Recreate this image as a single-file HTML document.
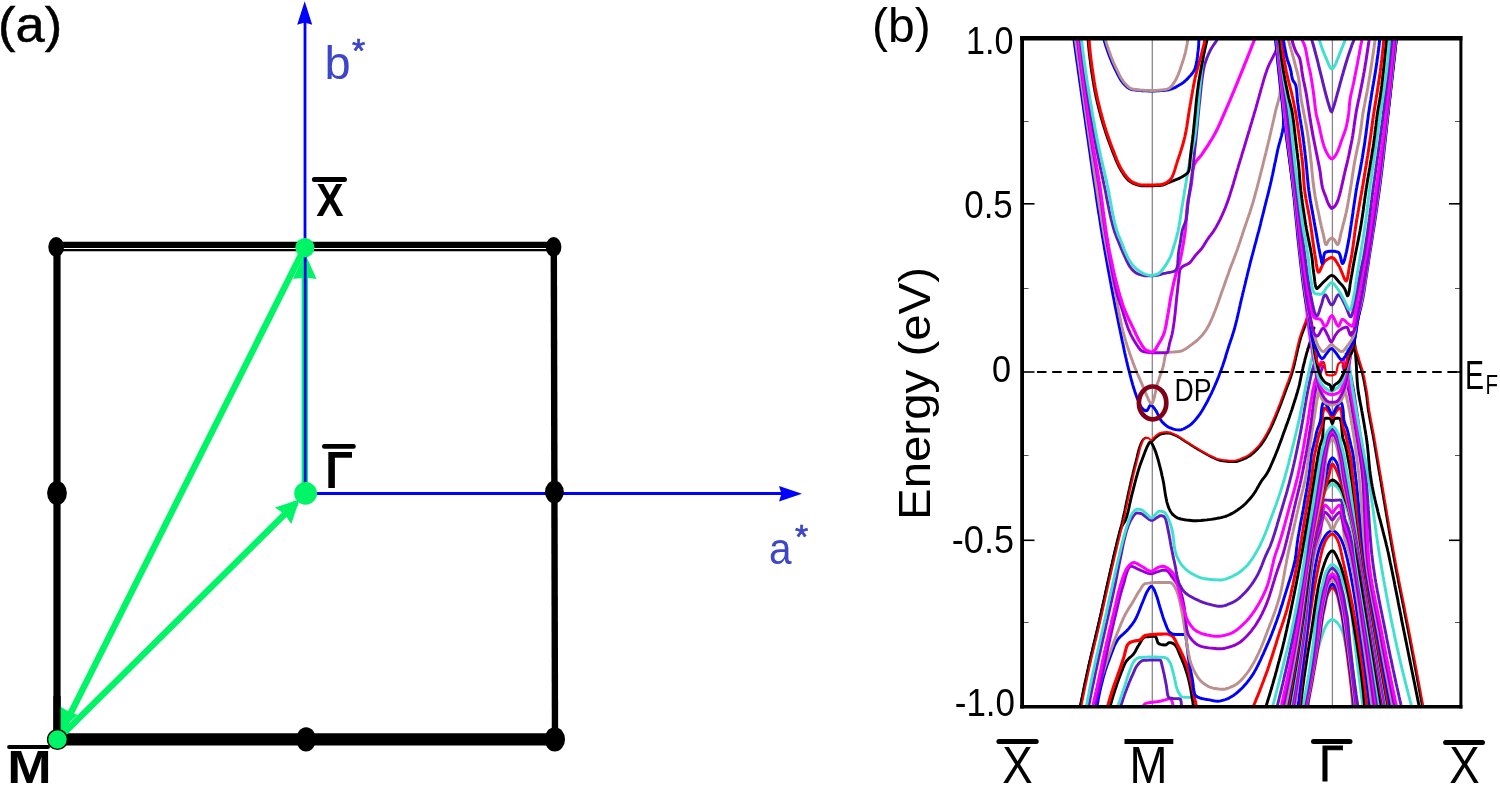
<!DOCTYPE html>
<html lang="en"><head><meta charset="utf-8"><title>Surface Brillouin zone and band structure</title>
<style>
html,body{margin:0;padding:0;background:#fff;}
body{width:1500px;height:785px;overflow:hidden;font-family:"Liberation Sans", Arial, Helvetica, sans-serif;}
svg{display:block;font-family:"Liberation Sans", Arial, Helvetica, sans-serif;}
</style></head><body>
<svg width="1500" height="785" viewBox="0 0 1500 785">
<rect width="1500" height="785" fill="#fff"/>

<!-- ===== panel (a) ===== -->
<g id="panel-a">
<text transform="translate(-1.9,41.8) scale(1.07,1.02)" font-size="49" fill="#000" stroke="#000" stroke-width="0.5">(a)</text>
<!-- blue axes -->
<line x1="305" y1="493.5" x2="305" y2="20" stroke="#0000ff" stroke-width="2.8"/>
<polygon points="304.7,1.3 312.2,24.7 304.7,22.5 297.2,24.7" fill="#0000ff"/>
<line x1="305" y1="493.5" x2="782" y2="493.5" stroke="#0000ff" stroke-width="2.8"/>
<polygon points="802,493.7 779,486 781.5,493.7 779,501.4" fill="#0000ff"/>
<!-- square -->
<line x1="57" y1="247" x2="57" y2="740" stroke="#000" stroke-width="7.2"/>
<line x1="553.8" y1="247" x2="555" y2="740" stroke="#000" stroke-width="6.4"/>
<line x1="57" y1="244.9" x2="554" y2="244.9" stroke="#000" stroke-width="6.2"/>
<line x1="57" y1="250.1" x2="554" y2="250.1" stroke="#000" stroke-width="2.2"/>
<line x1="57" y1="739.4" x2="555" y2="739.4" stroke="#000" stroke-width="12.2"/>
<ellipse cx="56.2" cy="247" rx="7.9" ry="10"/>
<ellipse cx="553.6" cy="247" rx="7.8" ry="10"/>
<ellipse cx="57" cy="493" rx="9.9" ry="12"/>
<ellipse cx="554.4" cy="492" rx="9.4" ry="11.2"/>
<ellipse cx="306.1" cy="739.4" rx="9.9" ry="12.2"/>
<ellipse cx="554.8" cy="739.4" rx="10.2" ry="12.2"/>
<!-- green arrows -->
<g stroke="#00f566" fill="#00f566">
<line x1="304.8" y1="493" x2="304.8" y2="262" stroke-width="6.4"/>
<line x1="57.5" y1="739.5" x2="304.7" y2="247.3" stroke-width="6.4"/>
<line x1="57.5" y1="739.5" x2="296" y2="503" stroke-width="6.4"/>
</g>
<polygon points="304.8,253.0 316.6,279.0 304.8,277.5 293.0,279.0" fill="#00f566"/>
<polygon points="58.3,731.0 59.5,705.9 68.2,711.3 77.7,715.0" fill="#00f566"/>
<polygon points="299.5,499.5 291.3,523.9 284.6,514.3 275.0,507.5" fill="#00f566"/>
<line x1="57" y1="696" x2="57" y2="736" stroke="#000" stroke-width="7.2" shape-rendering="auto"/>
<line x1="305.2" y1="493.5" x2="305.2" y2="250" stroke="#0000ff" stroke-width="2.8"/>
<g fill="#00f566">
<circle cx="304.9" cy="247.6" r="9.6"/>
<circle cx="305.6" cy="493.3" r="11.4"/>
<circle cx="57.5" cy="739.5" r="10.6" fill="#000"/>
<circle cx="57.5" cy="739.5" r="9.2"/>
</g>
<text x="324.5" y="79" font-size="47" fill="#3c46c8">b</text>
<text x="352" y="62" font-size="34" fill="#3c46c8" stroke="#3c46c8" stroke-width="0.7">*</text>
<text transform="translate(769,564) scale(0.9,1)" font-size="45" fill="#3c46c8">a</text>
<text x="795" y="548" font-size="34" fill="#3c46c8" stroke="#3c46c8" stroke-width="0.7">*</text>
<text transform="translate(316.2,216.2) scale(0.92,1.03)" font-size="44.4" font-weight="bold">X</text>
<line x1="314.4" y1="179.5" x2="344.5" y2="179.5" stroke="#000" stroke-width="5" stroke-linecap="round"/>
<text transform="translate(325.2,487.8) scale(0.915,1.05)" font-size="50" font-weight="bold">Γ</text>
<line x1="324.4" y1="446.4" x2="353.4" y2="446.4" stroke="#000" stroke-width="4.8" stroke-linecap="round"/>
<text transform="translate(7.2,783) scale(1.24,1.08)" font-size="43" font-weight="bold">M</text>
<line x1="9" y1="747" x2="48" y2="747" stroke="#000" stroke-width="3.8" stroke-linecap="round"/>
</g>


<!-- ===== panel (b) ===== -->
<g id="panel-b">
<text x="872" y="41.5" font-size="48">(b)</text>
<line x1="1152.3" y1="38" x2="1152.3" y2="706" stroke="#888" stroke-width="1.3"/>
<line x1="1332.4" y1="38" x2="1332.4" y2="706" stroke="#888" stroke-width="1.3"/>
<clipPath id="plotclip"><rect x="1022" y="38" width="439" height="669"/></clipPath>
<g clip-path="url(#plotclip)" fill="none" stroke-linejoin="round" stroke-linecap="round">

<path d="M1308.5,707.0 L1308.5,704.9 L1308.6,702.8 L1308.6,700.7 L1308.7,698.6 L1308.9,696.5 L1309.0,694.4 L1309.2,692.3 L1309.4,690.3 L1309.7,688.2 L1309.9,686.2 L1310.2,684.1 L1310.5,682.1 L1310.8,680.1 L1311.2,678.1 L1311.5,676.1 L1311.9,674.1 L1312.3,672.1 L1312.7,670.1 L1313.2,668.1 L1313.6,666.1 L1314.1,664.2 L1314.5,662.2 L1315.0,660.3 L1315.5,658.3 L1316.0,656.4 L1316.6,654.4 L1317.1,652.5 L1317.6,650.6 L1318.2,648.6 L1318.7,646.7 L1319.3,644.8 L1319.9,642.9 L1320.5,641.0 L1321.0,639.1 L1321.6,637.2 L1322.2,635.3 L1322.8,633.4 L1323.5,631.4 L1324.2,629.5 L1325.1,627.5 L1326.0,625.7 L1327.1,623.9 L1328.2,622.4 L1329.6,621.0 L1331.4,619.7 L1333.2,619.7 L1335.0,620.7 L1336.6,622.1 L1337.9,623.5 L1339.1,625.1 L1340.2,626.9 L1341.2,628.8 L1342.1,630.7 L1342.8,632.7 L1343.4,634.6 L1343.9,636.5 L1344.3,638.3 L1344.7,640.2 L1345.1,642.1 L1345.5,644.0 L1345.9,645.9 L1346.3,647.8 L1346.7,649.7 L1347.1,651.6 L1347.4,653.6 L1347.7,655.5 L1348.1,657.4 L1348.4,659.4 L1348.7,661.4 L1349.0,663.3 L1349.3,665.3 L1349.6,667.3 L1349.8,669.3 L1350.1,671.3 L1350.3,673.3 L1350.5,675.3 L1350.7,677.4 L1350.9,679.4 L1351.1,681.5 L1351.3,683.5 L1351.4,685.6 L1351.6,687.7 L1351.7,689.8 L1351.8,691.9 L1351.9,694.0 L1352.0,696.1 L1352.1,698.3 L1352.1,700.5 L1352.2,702.6 L1352.2,704.8 L1352.2,707.0" stroke="#40e0d0" stroke-width="2.9"/>
<path d="M1307.3,707.0 L1307.7,705.0 L1308.1,703.0 L1308.5,701.0 L1308.9,699.0 L1309.3,697.0 L1309.6,695.1 L1310.0,693.1 L1310.4,691.1 L1310.8,689.1 L1311.2,687.1 L1311.5,685.1 L1311.9,683.1 L1312.3,681.1 L1312.6,679.1 L1313.0,677.1 L1313.3,675.1 L1313.7,673.1 L1314.0,671.1 L1314.4,669.1 L1314.7,667.1 L1315.1,665.1 L1315.4,663.1 L1315.8,661.1 L1316.1,659.1 L1316.4,657.1 L1316.8,655.1 L1317.1,653.1 L1317.4,651.1 L1317.7,649.1 L1318.1,647.1 L1318.4,645.1 L1318.7,643.1 L1319.0,641.1 L1319.4,639.1 L1319.7,637.1 L1320.0,635.1 L1320.3,633.1 L1320.6,631.1 L1320.9,629.1 L1321.1,627.0 L1321.4,625.0 L1321.7,623.0 L1322.0,621.0 L1322.3,619.0 L1322.6,617.0 L1322.9,615.0 L1323.3,613.0 L1323.8,611.0 L1324.2,609.1 L1324.6,607.1 L1325.1,605.1 L1325.4,603.1 L1325.8,601.1 L1326.2,599.1 L1326.7,597.1 L1327.3,595.2 L1328.0,593.3 L1328.9,591.4 L1329.9,589.7 L1331.3,587.9 L1332.8,587.6 L1334.4,589.2 L1335.5,590.9 L1336.4,592.7 L1337.2,594.6 L1337.8,596.6 L1338.3,598.5 L1338.7,600.5 L1339.1,602.5 L1339.5,604.5 L1339.9,606.5 L1340.3,608.5 L1340.8,610.5 L1341.2,612.5 L1341.6,614.4 L1342.0,616.4 L1342.3,618.4 L1342.6,620.4 L1342.9,622.4 L1343.2,624.5 L1343.5,626.5 L1343.8,628.5 L1344.0,630.5 L1344.3,632.5 L1344.6,634.5 L1344.9,636.5 L1345.1,638.5 L1345.4,640.5 L1345.7,642.5 L1345.9,644.6 L1346.2,646.6 L1346.5,648.6 L1346.7,650.6 L1347.0,652.6 L1347.2,654.6 L1347.5,656.6 L1347.8,658.6 L1348.0,660.6 L1348.3,662.7 L1348.5,664.7 L1348.8,666.7 L1349.0,668.7 L1349.3,670.7 L1349.5,672.7 L1349.8,674.7 L1350.0,676.8 L1350.3,678.8 L1350.5,680.8 L1350.7,682.8 L1351.0,684.8 L1351.2,686.8 L1351.4,688.8 L1351.7,690.9 L1351.9,692.9 L1352.1,694.9 L1352.3,696.9 L1352.6,698.9 L1352.8,700.9 L1353.0,703.0 L1353.2,705.0 L1353.4,707.0" stroke="#ff0000" stroke-width="2.9"/>
<path d="M1306.7,707.0 L1307.1,705.0 L1307.5,703.0 L1307.9,701.1 L1308.3,699.1 L1308.7,697.1 L1309.1,695.1 L1309.4,693.1 L1309.8,691.1 L1310.2,689.1 L1310.6,687.2 L1310.9,685.2 L1311.3,683.2 L1311.7,681.2 L1312.0,679.2 L1312.4,677.2 L1312.7,675.2 L1313.1,673.2 L1313.4,671.3 L1313.8,669.3 L1314.1,667.3 L1314.5,665.3 L1314.8,663.3 L1315.1,661.3 L1315.5,659.3 L1315.8,657.3 L1316.1,655.3 L1316.5,653.3 L1316.8,651.3 L1317.1,649.3 L1317.4,647.3 L1317.8,645.4 L1318.1,643.4 L1318.4,641.4 L1318.7,639.4 L1319.0,637.4 L1319.3,635.4 L1319.6,633.4 L1319.9,631.4 L1320.2,629.4 L1320.5,627.4 L1320.8,625.4 L1321.1,623.4 L1321.4,621.4 L1321.7,619.4 L1321.9,617.4 L1322.2,615.4 L1322.6,613.4 L1322.9,611.4 L1323.3,609.4 L1323.7,607.5 L1324.2,605.5 L1324.6,603.5 L1325.0,601.5 L1325.4,599.5 L1325.8,597.5 L1326.2,595.6 L1326.7,593.6 L1327.2,591.7 L1328.0,589.8 L1328.9,587.9 L1329.9,586.2 L1331.4,584.5 L1332.9,584.2 L1334.4,585.8 L1335.6,587.5 L1336.5,589.3 L1337.3,591.2 L1337.9,593.1 L1338.5,595.0 L1338.9,597.0 L1339.3,599.0 L1339.7,601.0 L1340.1,603.0 L1340.5,604.9 L1341.0,606.9 L1341.4,608.9 L1341.8,610.9 L1342.2,612.8 L1342.5,614.8 L1342.8,616.8 L1343.1,618.8 L1343.4,620.8 L1343.7,622.8 L1344.0,624.8 L1344.3,626.8 L1344.6,628.8 L1344.9,630.8 L1345.2,632.8 L1345.5,634.8 L1345.8,636.8 L1346.1,638.8 L1346.3,640.8 L1346.6,642.8 L1346.9,644.8 L1347.2,646.8 L1347.4,648.8 L1347.7,650.8 L1348.0,652.8 L1348.2,654.8 L1348.5,656.8 L1348.7,658.8 L1349.0,660.8 L1349.3,662.8 L1349.5,664.8 L1349.8,666.8 L1350.0,668.9 L1350.3,670.9 L1350.5,672.9 L1350.8,674.9 L1351.0,676.9 L1351.3,678.9 L1351.5,680.9 L1351.7,682.9 L1352.0,684.9 L1352.2,686.9 L1352.4,688.9 L1352.6,690.9 L1352.9,692.9 L1353.1,694.9 L1353.3,696.9 L1353.5,699.0 L1353.7,701.0 L1353.9,703.0 L1354.1,705.0 L1354.3,707.0" stroke="#0000ff" stroke-width="2.9"/>
<path d="M1306.2,707.0 L1306.6,705.0 L1307.0,703.0 L1307.4,701.0 L1307.8,699.0 L1308.2,697.0 L1308.6,695.1 L1309.0,693.1 L1309.4,691.1 L1309.8,689.1 L1310.2,687.1 L1310.5,685.1 L1310.9,683.1 L1311.3,681.1 L1311.6,679.1 L1312.0,677.1 L1312.4,675.1 L1312.7,673.1 L1313.1,671.1 L1313.4,669.1 L1313.8,667.1 L1314.1,665.1 L1314.4,663.1 L1314.8,661.1 L1315.1,659.1 L1315.4,657.1 L1315.7,655.1 L1316.1,653.1 L1316.4,651.1 L1316.7,649.0 L1317.0,647.0 L1317.3,645.0 L1317.6,643.0 L1317.9,641.0 L1318.2,639.0 L1318.5,637.0 L1318.8,635.0 L1319.1,633.0 L1319.4,631.0 L1319.6,629.0 L1319.9,626.9 L1320.1,624.9 L1320.4,622.9 L1320.6,620.9 L1320.9,618.9 L1321.2,616.9 L1321.5,614.9 L1321.8,612.9 L1322.1,610.8 L1322.4,608.8 L1322.7,606.9 L1323.2,604.9 L1323.6,602.9 L1324.0,600.9 L1324.5,598.9 L1324.9,596.9 L1325.3,594.9 L1325.7,592.9 L1326.1,590.9 L1326.6,589.0 L1327.2,587.0 L1327.9,585.1 L1328.9,583.3 L1329.9,581.6 L1331.4,579.8 L1332.9,579.6 L1334.5,581.2 L1335.7,582.9 L1336.6,584.7 L1337.5,586.6 L1338.1,588.5 L1338.7,590.4 L1339.1,592.4 L1339.5,594.4 L1339.9,596.4 L1340.4,598.4 L1340.8,600.4 L1341.3,602.4 L1341.7,604.3 L1342.2,606.3 L1342.6,608.3 L1342.9,610.3 L1343.2,612.3 L1343.5,614.3 L1343.8,616.3 L1344.1,618.3 L1344.4,620.4 L1344.7,622.4 L1345.0,624.4 L1345.3,626.4 L1345.5,628.4 L1345.8,630.4 L1346.1,632.4 L1346.3,634.4 L1346.6,636.5 L1346.9,638.5 L1347.1,640.5 L1347.4,642.5 L1347.7,644.5 L1347.9,646.5 L1348.2,648.5 L1348.4,650.6 L1348.7,652.6 L1348.9,654.6 L1349.2,656.6 L1349.5,658.6 L1349.7,660.6 L1350.0,662.6 L1350.2,664.7 L1350.5,666.7 L1350.7,668.7 L1351.0,670.7 L1351.2,672.7 L1351.5,674.7 L1351.7,676.7 L1352.0,678.8 L1352.2,680.8 L1352.4,682.8 L1352.7,684.8 L1352.9,686.8 L1353.2,688.8 L1353.4,690.9 L1353.6,692.9 L1353.9,694.9 L1354.1,696.9 L1354.3,698.9 L1354.6,700.9 L1354.8,703.0 L1355.0,705.0 L1355.2,707.0" stroke="#bc8f8f" stroke-width="2.9"/>
<path d="M1305.6,707.0 L1306.0,705.0 L1306.4,703.1 L1306.8,701.1 L1307.2,699.1 L1307.6,697.1 L1308.0,695.1 L1308.4,693.2 L1308.8,691.2 L1309.2,689.2 L1309.6,687.2 L1310.0,685.2 L1310.3,683.3 L1310.7,681.3 L1311.1,679.3 L1311.4,677.3 L1311.8,675.3 L1312.1,673.3 L1312.5,671.4 L1312.8,669.4 L1313.2,667.4 L1313.5,665.4 L1313.8,663.4 L1314.2,661.4 L1314.5,659.4 L1314.8,657.4 L1315.1,655.4 L1315.4,653.5 L1315.8,651.5 L1316.1,649.5 L1316.4,647.5 L1316.7,645.5 L1317.0,643.5 L1317.3,641.5 L1317.6,639.5 L1317.8,637.5 L1318.1,635.5 L1318.4,633.5 L1318.7,631.5 L1318.9,629.5 L1319.2,627.5 L1319.4,625.5 L1319.6,623.5 L1319.9,621.5 L1320.1,619.5 L1320.4,617.5 L1320.7,615.5 L1320.9,613.5 L1321.2,611.5 L1321.5,609.5 L1321.8,607.5 L1322.2,605.6 L1322.6,603.6 L1323.0,601.6 L1323.4,599.6 L1323.9,597.7 L1324.3,595.7 L1324.8,593.7 L1325.2,591.8 L1325.6,589.8 L1326.0,587.8 L1326.5,585.9 L1327.1,583.9 L1327.9,582.0 L1328.8,580.2 L1329.9,578.6 L1331.4,576.9 L1333.0,576.7 L1334.6,578.3 L1335.8,579.9 L1336.8,581.6 L1337.6,583.5 L1338.3,585.4 L1338.9,587.3 L1339.4,589.3 L1339.8,591.3 L1340.2,593.3 L1340.7,595.2 L1341.1,597.2 L1341.6,599.2 L1342.1,601.1 L1342.5,603.1 L1343.0,605.1 L1343.3,607.0 L1343.7,609.0 L1344.0,611.0 L1344.3,613.0 L1344.6,615.0 L1344.9,617.0 L1345.2,619.0 L1345.5,621.0 L1345.7,623.0 L1346.0,625.0 L1346.3,627.0 L1346.5,629.0 L1346.8,631.0 L1347.0,633.0 L1347.3,635.0 L1347.6,637.0 L1347.8,639.0 L1348.1,641.0 L1348.3,643.0 L1348.6,645.0 L1348.8,647.0 L1349.1,649.0 L1349.3,651.0 L1349.6,653.0 L1349.9,655.0 L1350.1,657.0 L1350.4,659.0 L1350.6,661.0 L1350.9,663.0 L1351.1,665.0 L1351.4,667.0 L1351.6,669.0 L1351.9,671.0 L1352.1,673.0 L1352.4,675.0 L1352.6,677.0 L1352.8,679.0 L1353.1,681.0 L1353.3,683.0 L1353.6,685.0 L1353.8,687.0 L1354.0,689.0 L1354.3,691.0 L1354.5,693.0 L1354.8,695.0 L1355.0,697.0 L1355.2,699.0 L1355.5,701.0 L1355.7,703.0 L1355.9,705.0 L1356.2,707.0" stroke="#9400d3" stroke-width="2.9"/>
<path d="M1305.0,707.0 L1305.4,705.0 L1305.8,703.1 L1306.3,701.1 L1306.7,699.1 L1307.1,697.1 L1307.5,695.1 L1307.9,693.2 L1308.3,691.2 L1308.6,689.2 L1309.0,687.2 L1309.4,685.2 L1309.8,683.3 L1310.1,681.3 L1310.5,679.3 L1310.9,677.3 L1311.2,675.3 L1311.6,673.3 L1311.9,671.4 L1312.3,669.4 L1312.6,667.4 L1312.9,665.4 L1313.3,663.4 L1313.6,661.4 L1313.9,659.4 L1314.2,657.4 L1314.6,655.5 L1314.9,653.5 L1315.2,651.5 L1315.5,649.5 L1315.8,647.5 L1316.1,645.5 L1316.4,643.5 L1316.7,641.5 L1317.0,639.5 L1317.2,637.5 L1317.5,635.5 L1317.8,633.5 L1318.1,631.5 L1318.3,629.5 L1318.5,627.5 L1318.8,625.5 L1319.0,623.5 L1319.2,621.5 L1319.5,619.5 L1319.7,617.5 L1320.0,615.5 L1320.2,613.5 L1320.5,611.5 L1320.8,609.5 L1321.1,607.6 L1321.4,605.6 L1321.8,603.6 L1322.1,601.6 L1322.6,599.6 L1323.0,597.7 L1323.5,595.7 L1323.9,593.7 L1324.4,591.8 L1324.8,589.8 L1325.2,587.8 L1325.6,585.8 L1326.1,583.9 L1326.7,582.0 L1327.4,580.1 L1328.3,578.2 L1329.3,576.5 L1330.7,574.8 L1332.2,573.7 L1333.9,574.6 L1335.3,576.3 L1336.4,577.9 L1337.4,579.7 L1338.2,581.6 L1338.9,583.5 L1339.4,585.4 L1339.9,587.4 L1340.3,589.4 L1340.7,591.3 L1341.2,593.3 L1341.7,595.2 L1342.2,597.2 L1342.7,599.2 L1343.2,601.1 L1343.6,603.1 L1344.0,605.1 L1344.3,607.1 L1344.6,609.0 L1344.9,611.0 L1345.3,613.0 L1345.6,615.0 L1345.8,617.0 L1346.1,619.0 L1346.4,621.0 L1346.7,623.0 L1346.9,625.0 L1347.2,627.0 L1347.4,629.0 L1347.7,631.0 L1347.9,633.0 L1348.2,635.0 L1348.4,637.0 L1348.7,639.0 L1349.0,641.0 L1349.2,643.0 L1349.5,645.0 L1349.7,647.0 L1350.0,649.0 L1350.2,651.0 L1350.5,653.0 L1350.7,655.0 L1351.0,657.0 L1351.2,659.0 L1351.5,661.0 L1351.7,663.0 L1352.0,665.0 L1352.2,667.0 L1352.5,669.0 L1352.7,671.0 L1353.0,673.0 L1353.2,675.0 L1353.5,677.0 L1353.7,679.0 L1354.0,681.0 L1354.2,683.0 L1354.5,685.0 L1354.7,687.0 L1354.9,689.0 L1355.2,691.0 L1355.4,693.0 L1355.7,695.0 L1355.9,697.0 L1356.1,699.0 L1356.4,701.0 L1356.6,703.0 L1356.8,705.0 L1357.1,707.0" stroke="#ff00ff" stroke-width="2.9"/>
<path d="M1303.8,707.0 L1304.3,705.0 L1304.8,703.1 L1305.2,701.1 L1305.6,699.1 L1306.1,697.1 L1306.5,695.2 L1306.9,693.2 L1307.3,691.2 L1307.7,689.2 L1308.1,687.2 L1308.5,685.3 L1308.8,683.3 L1309.2,681.3 L1309.6,679.3 L1309.9,677.3 L1310.3,675.3 L1310.6,673.4 L1310.9,671.4 L1311.3,669.4 L1311.6,667.4 L1311.9,665.4 L1312.2,663.4 L1312.5,661.4 L1312.8,659.4 L1313.1,657.4 L1313.4,655.4 L1313.6,653.5 L1313.9,651.5 L1314.2,649.5 L1314.4,647.5 L1314.7,645.5 L1314.9,643.5 L1315.2,641.5 L1315.4,639.5 L1315.6,637.5 L1315.8,635.5 L1316.1,633.5 L1316.2,631.5 L1316.4,629.5 L1316.6,627.5 L1316.7,625.5 L1316.9,623.4 L1317.1,621.4 L1317.3,619.4 L1317.6,617.4 L1317.9,615.5 L1318.2,613.5 L1318.6,611.5 L1319.0,609.5 L1319.3,607.5 L1319.6,605.5 L1320.0,603.5 L1320.3,601.6 L1320.6,599.6 L1321.0,597.6 L1321.4,595.6 L1321.8,593.7 L1322.3,591.7 L1322.8,589.8 L1323.3,587.8 L1323.8,585.8 L1324.3,583.9 L1324.7,581.9 L1325.1,579.9 L1325.7,578.0 L1326.3,576.1 L1327.1,574.2 L1328.1,572.4 L1329.2,570.7 L1330.5,569.1 L1332.2,568.0 L1333.8,568.8 L1335.3,570.5 L1336.4,572.1 L1337.4,573.8 L1338.3,575.7 L1339.0,577.6 L1339.5,579.5 L1340.0,581.5 L1340.4,583.5 L1340.9,585.4 L1341.4,587.4 L1341.9,589.3 L1342.4,591.3 L1342.9,593.2 L1343.4,595.2 L1343.8,597.2 L1344.2,599.1 L1344.5,601.1 L1344.8,603.1 L1345.2,605.1 L1345.5,607.1 L1345.8,609.1 L1346.2,611.1 L1346.6,613.0 L1347.0,615.0 L1347.3,617.0 L1347.6,619.0 L1347.8,621.0 L1348.0,623.0 L1348.2,625.0 L1348.4,627.0 L1348.5,629.0 L1348.7,631.0 L1348.9,633.0 L1349.1,635.0 L1349.3,637.0 L1349.5,639.0 L1349.7,641.1 L1349.9,643.1 L1350.1,645.1 L1350.3,647.1 L1350.5,649.1 L1350.8,651.1 L1351.0,653.1 L1351.2,655.1 L1351.4,657.1 L1351.7,659.1 L1351.9,661.1 L1352.1,663.1 L1352.4,665.1 L1352.6,667.1 L1352.8,669.1 L1353.1,671.1 L1353.3,673.1 L1353.6,675.1 L1353.8,677.1 L1354.1,679.1 L1354.4,681.1 L1354.6,683.1 L1354.9,685.1 L1355.1,687.1 L1355.4,689.0 L1355.7,691.0 L1356.0,693.0 L1356.2,695.0 L1356.5,697.0 L1356.8,699.0 L1357.1,701.0 L1357.4,703.0 L1357.7,705.0 L1358.0,707.0" stroke="#6418bf" stroke-width="2.9"/>
<path d="M1302.7,707.0 L1303.1,705.0 L1303.5,703.0 L1303.9,701.0 L1304.3,699.1 L1304.7,697.1 L1305.1,695.1 L1305.5,693.1 L1305.9,691.1 L1306.2,689.1 L1306.6,687.1 L1306.9,685.1 L1307.3,683.1 L1307.6,681.1 L1308.0,679.1 L1308.3,677.2 L1308.6,675.2 L1309.0,673.2 L1309.3,671.2 L1309.6,669.2 L1309.9,667.2 L1310.2,665.2 L1310.5,663.2 L1310.8,661.2 L1311.1,659.2 L1311.4,657.2 L1311.7,655.2 L1311.9,653.2 L1312.2,651.2 L1312.5,649.2 L1312.7,647.2 L1313.0,645.2 L1313.2,643.2 L1313.5,641.1 L1313.7,639.1 L1314.0,637.1 L1314.2,635.1 L1314.4,633.1 L1314.6,631.1 L1314.8,629.1 L1314.9,627.1 L1315.1,625.1 L1315.3,623.0 L1315.5,621.0 L1315.7,619.0 L1315.9,617.0 L1316.2,615.0 L1316.5,613.0 L1316.9,611.0 L1317.3,609.0 L1317.7,607.1 L1318.0,605.1 L1318.4,603.1 L1318.7,601.1 L1319.1,599.1 L1319.4,597.1 L1319.8,595.1 L1320.2,593.1 L1320.7,591.2 L1321.2,589.2 L1321.7,587.3 L1322.3,585.3 L1322.8,583.4 L1323.3,581.4 L1323.8,579.4 L1324.3,577.4 L1324.8,575.5 L1325.4,573.6 L1326.2,571.7 L1327.1,569.9 L1328.2,568.1 L1329.4,566.6 L1331.0,565.0 L1332.7,564.6 L1334.5,565.5 L1336.1,567.0 L1337.4,568.4 L1338.6,570.1 L1339.7,571.9 L1340.6,573.7 L1341.3,575.6 L1341.9,577.5 L1342.4,579.5 L1343.0,581.4 L1343.6,583.4 L1344.2,585.3 L1344.9,587.2 L1345.5,589.1 L1346.1,591.1 L1346.6,593.0 L1347.1,595.0 L1347.6,596.9 L1348.0,598.9 L1348.4,600.9 L1348.8,602.9 L1349.2,604.9 L1349.7,606.8 L1350.2,608.8 L1350.6,610.8 L1351.1,612.7 L1351.5,614.7 L1351.8,616.7 L1352.1,618.7 L1352.3,620.7 L1352.6,622.7 L1352.8,624.7 L1353.0,626.7 L1353.2,628.8 L1353.4,630.8 L1353.6,632.8 L1353.8,634.8 L1354.1,636.8 L1354.3,638.8 L1354.6,640.8 L1354.8,642.8 L1355.0,644.8 L1355.3,646.8 L1355.5,648.8 L1355.8,650.9 L1356.0,652.9 L1356.3,654.9 L1356.5,656.9 L1356.8,658.9 L1357.0,660.9 L1357.3,662.9 L1357.5,664.9 L1357.8,666.9 L1358.0,668.9 L1358.3,670.9 L1358.5,672.9 L1358.8,674.9 L1359.0,676.9 L1359.3,678.9 L1359.5,680.9 L1359.8,682.9 L1360.1,685.0 L1360.3,687.0 L1360.6,689.0 L1360.8,691.0 L1361.1,693.0 L1361.4,695.0 L1361.6,697.0 L1361.9,699.0 L1362.2,701.0 L1362.5,703.0 L1362.7,705.0 L1363.0,707.0" stroke="#40e0d0" stroke-width="2.9"/>
<path d="M1300.4,707.0 L1300.6,705.0 L1300.9,703.0 L1301.1,701.0 L1301.3,699.0 L1301.6,697.0 L1301.8,694.9 L1302.1,692.9 L1302.3,690.9 L1302.6,688.9 L1302.8,686.9 L1303.1,684.9 L1303.4,682.9 L1303.7,680.9 L1303.9,678.9 L1304.2,676.9 L1304.5,674.9 L1304.8,672.9 L1305.1,670.9 L1305.4,668.9 L1305.7,666.9 L1306.0,664.9 L1306.3,662.9 L1306.6,660.9 L1306.9,658.9 L1307.2,656.9 L1307.5,654.9 L1307.8,652.9 L1308.1,650.9 L1308.5,648.9 L1308.8,647.0 L1309.1,645.0 L1309.4,643.0 L1309.8,641.0 L1310.1,639.0 L1310.5,637.0 L1310.8,635.0 L1311.1,633.0 L1311.5,631.0 L1311.8,629.0 L1312.1,626.9 L1312.4,624.9 L1312.7,622.8 L1313.0,620.7 L1313.3,618.7 L1313.6,616.6 L1313.9,614.5 L1314.2,612.4 L1314.5,610.3 L1314.8,608.2 L1315.1,606.1 L1315.5,603.9 L1315.8,601.8 L1316.1,599.8 L1316.4,597.7 L1316.8,595.6 L1317.1,593.5 L1317.5,591.4 L1317.8,589.4 L1318.2,587.3 L1318.6,585.3 L1319.0,583.3 L1319.5,581.3 L1319.9,579.3 L1320.4,577.3 L1320.9,575.4 L1321.3,573.5 L1321.9,571.6 L1322.4,569.7 L1323.0,567.9 L1323.6,566.1 L1324.2,564.3 L1324.8,562.5 L1325.5,560.8 L1326.1,559.1 L1326.9,557.4 L1327.6,555.8 L1328.5,554.2 L1329.9,552.3 L1331.5,550.9 L1333.0,550.9 L1334.5,552.4 L1335.7,554.4 L1336.5,556.1 L1337.3,557.8 L1338.1,559.5 L1338.8,561.3 L1339.5,563.1 L1340.2,564.9 L1340.9,566.7 L1341.5,568.5 L1342.1,570.4 L1342.7,572.3 L1343.3,574.2 L1343.9,576.1 L1344.4,578.0 L1345.0,580.0 L1345.5,581.9 L1346.0,583.9 L1346.5,585.9 L1346.9,587.9 L1347.4,589.9 L1347.8,591.9 L1348.3,594.0 L1348.7,596.0 L1349.1,598.1 L1349.5,600.1 L1349.9,602.2 L1350.3,604.2 L1350.6,606.3 L1351.0,608.3 L1351.4,610.4 L1351.7,612.5 L1352.1,614.5 L1352.4,616.6 L1352.7,618.7 L1353.1,620.7 L1353.4,622.8 L1353.7,624.8 L1354.1,626.8 L1354.4,628.8 L1354.7,630.9 L1355.0,632.9 L1355.4,634.9 L1355.7,636.8 L1356.0,638.8 L1356.4,640.8 L1356.7,642.8 L1357.0,644.8 L1357.3,646.8 L1357.6,648.8 L1357.9,650.8 L1358.2,652.8 L1358.5,654.8 L1358.8,656.7 L1359.1,658.7 L1359.4,660.7 L1359.7,662.7 L1360.0,664.7 L1360.3,666.7 L1360.5,668.7 L1360.8,670.8 L1361.0,672.8 L1361.3,674.8 L1361.6,676.8 L1361.8,678.8 L1362.0,680.8 L1362.3,682.8 L1362.5,684.8 L1362.7,686.8 L1362.9,688.8 L1363.2,690.8 L1363.4,692.9 L1363.6,694.9 L1363.7,696.9 L1363.9,698.9 L1364.1,700.9 L1364.3,703.0 L1364.4,705.0 L1364.6,707.0" stroke="#000000" stroke-width="2.9"/>
<path d="M1299.2,707.0 L1299.4,705.0 L1299.5,703.0 L1299.7,701.0 L1299.9,699.0 L1300.1,697.0 L1300.3,695.0 L1300.5,693.0 L1300.7,690.9 L1300.9,688.9 L1301.1,686.9 L1301.3,684.9 L1301.5,682.9 L1301.7,680.9 L1301.9,678.9 L1302.1,676.9 L1302.4,674.9 L1302.6,672.9 L1302.8,670.9 L1303.0,668.9 L1303.3,666.9 L1303.5,664.9 L1303.7,662.9 L1304.0,660.9 L1304.2,658.9 L1304.5,656.9 L1304.7,654.9 L1305.0,652.9 L1305.2,650.9 L1305.5,648.9 L1305.7,646.9 L1306.0,644.9 L1306.2,642.9 L1306.5,641.0 L1306.8,639.0 L1307.0,637.0 L1307.3,635.0 L1307.6,633.0 L1307.8,631.0 L1308.1,629.0 L1308.4,627.0 L1308.7,625.0 L1309.0,623.0 L1309.2,621.0 L1309.5,619.0 L1309.8,617.0 L1310.1,615.0 L1310.4,613.0 L1310.7,611.0 L1311.0,609.0 L1311.3,607.0 L1311.6,605.0 L1311.9,603.0 L1312.2,601.0 L1312.5,599.1 L1312.8,597.1 L1313.2,595.1 L1313.5,593.1 L1313.8,591.1 L1314.2,589.1 L1314.5,587.1 L1314.9,585.1 L1315.2,583.1 L1315.6,581.2 L1316.0,579.2 L1316.3,577.2 L1316.7,575.2 L1317.1,573.2 L1317.5,571.3 L1317.9,569.3 L1318.3,567.3 L1318.7,565.4 L1319.1,563.4 L1319.5,561.4 L1320.0,559.5 L1320.4,557.5 L1320.9,555.6 L1321.3,553.6 L1321.8,551.7 L1322.3,549.7 L1322.9,547.7 L1323.5,545.8 L1324.2,543.9 L1324.9,542.1 L1325.8,540.3 L1326.9,538.5 L1328.1,536.9 L1329.6,535.5 L1331.3,534.1 L1332.9,534.0 L1334.6,535.4 L1335.8,537.0 L1336.9,538.7 L1337.8,540.6 L1338.6,542.5 L1339.2,544.3 L1339.7,546.3 L1340.2,548.2 L1340.7,550.2 L1341.1,552.2 L1341.5,554.2 L1342.0,556.1 L1342.4,558.1 L1342.8,560.1 L1343.3,562.0 L1343.7,564.0 L1344.2,566.0 L1344.6,567.9 L1345.0,569.9 L1345.5,571.9 L1345.9,573.8 L1346.3,575.8 L1346.8,577.8 L1347.2,579.7 L1347.6,581.7 L1348.0,583.7 L1348.5,585.6 L1348.9,587.6 L1349.3,589.6 L1349.7,591.6 L1350.1,593.5 L1350.5,595.5 L1350.9,597.5 L1351.3,599.5 L1351.7,601.4 L1352.1,603.4 L1352.5,605.4 L1352.9,607.4 L1353.2,609.3 L1353.6,611.3 L1354.0,613.3 L1354.3,615.3 L1354.7,617.3 L1355.1,619.2 L1355.4,621.2 L1355.8,623.2 L1356.1,625.2 L1356.4,627.2 L1356.8,629.2 L1357.1,631.1 L1357.4,633.1 L1357.7,635.1 L1358.0,637.1 L1358.3,639.1 L1358.6,641.1 L1358.9,643.1 L1359.2,645.0 L1359.5,647.0 L1359.8,649.0 L1360.1,651.0 L1360.4,653.0 L1360.7,655.0 L1361.0,657.0 L1361.3,659.0 L1361.5,661.0 L1361.8,663.0 L1362.1,665.0 L1362.4,667.0 L1362.6,669.0 L1362.9,671.0 L1363.1,673.0 L1363.4,675.0 L1363.7,677.0 L1363.9,679.0 L1364.1,681.0 L1364.4,683.0 L1364.6,685.0 L1364.9,687.0 L1365.1,689.0 L1365.3,691.0 L1365.5,693.0 L1365.8,695.0 L1366.0,697.0 L1366.2,699.0 L1366.4,701.0 L1366.6,703.0 L1366.8,705.0 L1367.0,707.0" stroke="#ff0000" stroke-width="2.9"/>
<path d="M1298.0,707.0 L1298.2,705.0 L1298.4,703.0 L1298.7,701.0 L1298.9,699.0 L1299.1,697.0 L1299.3,695.0 L1299.6,693.0 L1299.8,691.0 L1300.0,689.0 L1300.2,687.0 L1300.5,685.0 L1300.7,683.0 L1300.9,681.0 L1301.2,679.0 L1301.4,677.0 L1301.6,675.0 L1301.9,673.0 L1302.1,671.0 L1302.3,669.0 L1302.6,667.0 L1302.8,665.0 L1303.1,663.0 L1303.3,661.0 L1303.5,659.0 L1303.8,657.0 L1304.0,655.0 L1304.3,653.0 L1304.5,651.0 L1304.8,649.0 L1305.0,647.1 L1305.3,645.1 L1305.5,643.1 L1305.8,641.1 L1306.0,639.1 L1306.3,637.1 L1306.5,635.1 L1306.8,633.1 L1307.0,631.1 L1307.3,629.1 L1307.5,627.1 L1307.7,625.1 L1308.0,623.1 L1308.2,621.1 L1308.4,619.0 L1308.7,617.0 L1308.9,615.0 L1309.1,613.0 L1309.3,611.0 L1309.5,609.0 L1309.8,607.0 L1310.0,605.0 L1310.2,602.9 L1310.5,600.9 L1310.7,598.9 L1310.9,596.9 L1311.2,594.9 L1311.4,592.9 L1311.7,590.9 L1311.9,588.9 L1312.2,586.9 L1312.4,584.9 L1312.7,582.9 L1313.0,580.9 L1313.3,578.9 L1313.6,576.9 L1313.9,574.9 L1314.2,573.0 L1314.5,571.0 L1314.9,569.0 L1315.2,567.0 L1315.6,565.1 L1315.9,563.1 L1316.3,561.2 L1316.7,559.2 L1317.1,557.3 L1317.5,555.3 L1318.0,553.4 L1318.5,551.5 L1319.1,549.5 L1319.7,547.5 L1320.4,545.6 L1321.1,543.7 L1321.9,541.9 L1322.7,540.1 L1323.7,538.4 L1324.7,536.6 L1326.0,534.9 L1327.3,533.4 L1328.8,532.1 L1330.6,530.9 L1332.4,530.3 L1334.2,531.0 L1335.9,532.4 L1337.3,533.7 L1338.6,535.3 L1339.7,537.0 L1340.8,538.8 L1341.6,540.5 L1342.4,542.4 L1343.1,544.2 L1343.8,546.1 L1344.4,548.1 L1345.0,550.0 L1345.5,552.0 L1346.0,554.0 L1346.5,555.9 L1347.0,557.8 L1347.5,559.8 L1347.9,561.7 L1348.3,563.7 L1348.8,565.6 L1349.2,567.6 L1349.6,569.6 L1350.0,571.5 L1350.4,573.5 L1350.8,575.5 L1351.2,577.4 L1351.5,579.4 L1351.9,581.4 L1352.3,583.4 L1352.6,585.4 L1353.0,587.3 L1353.3,589.3 L1353.6,591.3 L1354.0,593.3 L1354.3,595.3 L1354.6,597.3 L1354.9,599.3 L1355.3,601.3 L1355.6,603.3 L1355.9,605.3 L1356.2,607.3 L1356.5,609.3 L1356.8,611.3 L1357.1,613.3 L1357.4,615.3 L1357.7,617.3 L1358.0,619.3 L1358.2,621.2 L1358.5,623.2 L1358.8,625.2 L1359.1,627.2 L1359.4,629.2 L1359.7,631.2 L1360.0,633.2 L1360.3,635.2 L1360.6,637.2 L1360.9,639.2 L1361.2,641.2 L1361.5,643.2 L1361.8,645.1 L1362.1,647.1 L1362.4,649.1 L1362.6,651.1 L1362.9,653.1 L1363.2,655.1 L1363.5,657.1 L1363.8,659.1 L1364.0,661.1 L1364.3,663.1 L1364.6,665.1 L1364.9,667.1 L1365.1,669.0 L1365.4,671.0 L1365.6,673.0 L1365.9,675.0 L1366.2,677.0 L1366.4,679.0 L1366.7,681.0 L1366.9,683.0 L1367.2,685.0 L1367.4,687.0 L1367.7,689.0 L1367.9,691.0 L1368.2,693.0 L1368.4,695.0 L1368.6,697.0 L1368.9,699.0 L1369.1,701.0 L1369.3,703.0 L1369.6,705.0 L1369.8,707.0" stroke="#0000ff" stroke-width="2.9"/>
<path d="M1295.0,707.0 L1295.3,705.0 L1295.6,703.0 L1295.8,701.0 L1296.1,699.0 L1296.4,697.0 L1296.7,695.0 L1296.9,693.0 L1297.2,691.1 L1297.5,689.1 L1297.8,687.1 L1298.0,685.1 L1298.3,683.1 L1298.6,681.1 L1298.9,679.1 L1299.1,677.1 L1299.4,675.1 L1299.7,673.1 L1299.9,671.1 L1300.2,669.1 L1300.5,667.1 L1300.7,665.1 L1301.0,663.1 L1301.3,661.1 L1301.5,659.1 L1301.8,657.1 L1302.0,655.2 L1302.3,653.2 L1302.6,651.2 L1302.8,649.2 L1303.1,647.2 L1303.3,645.2 L1303.6,643.2 L1303.9,641.2 L1304.1,639.2 L1304.4,637.2 L1304.6,635.2 L1304.9,633.2 L1305.1,631.2 L1305.3,629.2 L1305.6,627.2 L1305.8,625.2 L1306.0,623.2 L1306.2,621.2 L1306.4,619.2 L1306.6,617.2 L1306.8,615.1 L1307.0,613.1 L1307.2,611.1 L1307.4,609.1 L1307.6,607.1 L1307.8,605.1 L1308.0,603.1 L1308.2,601.1 L1308.4,599.0 L1308.6,597.0 L1308.8,595.0 L1309.0,593.0 L1309.2,591.0 L1309.5,589.0 L1309.7,587.0 L1309.9,585.0 L1310.1,583.0 L1310.4,581.0 L1310.6,579.0 L1310.8,577.0 L1311.1,575.0 L1311.4,573.0 L1311.6,571.0 L1311.9,569.1 L1312.2,567.1 L1312.5,565.1 L1312.8,563.1 L1313.1,561.1 L1313.5,559.2 L1313.8,557.2 L1314.2,555.3 L1314.6,553.3 L1315.1,551.4 L1315.7,549.4 L1316.3,547.5 L1317.0,545.6 L1317.6,543.7 L1318.3,541.8 L1318.9,539.8 L1319.5,537.9 L1320.0,536.0 L1320.3,534.0 L1320.6,532.0 L1320.8,530.0 L1321.0,528.0 L1321.2,526.0 L1321.5,524.0 L1321.8,522.0 L1322.3,519.8 L1323.0,517.5 L1323.8,516.6 L1324.9,517.5 L1326.3,519.3 L1327.6,521.4 L1328.7,523.3 L1329.7,525.5 L1330.6,527.8 L1331.5,529.6 L1332.4,530.3 L1333.3,529.4 L1334.1,527.5 L1335.0,525.1 L1336.0,523.0 L1337.2,521.1 L1338.5,519.0 L1339.8,517.3 L1340.9,516.6 L1341.7,517.8 L1342.4,520.2 L1342.8,522.3 L1343.0,524.3 L1343.2,526.3 L1343.4,528.3 L1343.5,530.3 L1343.7,532.4 L1343.9,534.4 L1344.2,536.3 L1344.6,538.3 L1345.1,540.2 L1345.7,542.1 L1346.3,544.1 L1347.0,546.0 L1347.7,547.9 L1348.3,549.8 L1348.9,551.8 L1349.4,553.7 L1349.8,555.7 L1350.3,557.6 L1350.7,559.6 L1351.1,561.6 L1351.4,563.5 L1351.8,565.5 L1352.2,567.5 L1352.6,569.4 L1352.9,571.4 L1353.3,573.4 L1353.6,575.4 L1353.9,577.4 L1354.3,579.3 L1354.6,581.3 L1354.9,583.3 L1355.2,585.3 L1355.5,587.3 L1355.8,589.3 L1356.1,591.3 L1356.4,593.3 L1356.7,595.3 L1357.0,597.3 L1357.3,599.3 L1357.6,601.3 L1357.9,603.3 L1358.2,605.2 L1358.4,607.2 L1358.7,609.2 L1359.0,611.2 L1359.3,613.2 L1359.5,615.2 L1359.8,617.2 L1360.1,619.2 L1360.4,621.2 L1360.6,623.2 L1360.9,625.2 L1361.2,627.2 L1361.5,629.2 L1361.8,631.2 L1362.0,633.2 L1362.3,635.2 L1362.6,637.2 L1362.9,639.2 L1363.2,641.2 L1363.5,643.2 L1363.8,645.2 L1364.0,647.1 L1364.3,649.1 L1364.6,651.1 L1364.9,653.1 L1365.2,655.1 L1365.4,657.1 L1365.7,659.1 L1366.0,661.1 L1366.3,663.1 L1366.5,665.1 L1366.8,667.1 L1367.1,669.1 L1367.3,671.1 L1367.6,673.1 L1367.9,675.1 L1368.2,677.1 L1368.4,679.1 L1368.7,681.0 L1368.9,683.0 L1369.2,685.0 L1369.5,687.0 L1369.7,689.0 L1370.0,691.0 L1370.2,693.0 L1370.5,695.0 L1370.7,697.0 L1371.0,699.0 L1371.3,701.0 L1371.5,703.0 L1371.8,705.0 L1372.0,707.0" stroke="#bc8f8f" stroke-width="2.9"/>
<path d="M1293.7,707.0 L1294.0,705.0 L1294.3,703.0 L1294.6,701.0 L1294.9,699.0 L1295.2,697.1 L1295.5,695.1 L1295.8,693.1 L1296.1,691.1 L1296.4,689.1 L1296.7,687.1 L1297.0,685.1 L1297.3,683.1 L1297.5,681.1 L1297.8,679.1 L1298.1,677.2 L1298.4,675.2 L1298.7,673.2 L1299.0,671.2 L1299.2,669.2 L1299.5,667.2 L1299.8,665.2 L1300.1,663.2 L1300.4,661.2 L1300.6,659.2 L1300.9,657.2 L1301.2,655.2 L1301.4,653.3 L1301.7,651.3 L1302.0,649.3 L1302.2,647.3 L1302.5,645.3 L1302.8,643.3 L1303.0,641.3 L1303.3,639.3 L1303.5,637.3 L1303.8,635.3 L1304.0,633.3 L1304.3,631.3 L1304.5,629.3 L1304.7,627.3 L1305.0,625.3 L1305.2,623.3 L1305.4,621.3 L1305.6,619.3 L1305.8,617.3 L1306.0,615.3 L1306.2,613.3 L1306.4,611.3 L1306.6,609.3 L1306.8,607.3 L1307.0,605.3 L1307.2,603.3 L1307.4,601.3 L1307.6,599.3 L1307.8,597.2 L1308.0,595.2 L1308.2,593.2 L1308.4,591.2 L1308.6,589.2 L1308.8,587.2 L1309.0,585.2 L1309.2,583.2 L1309.4,581.2 L1309.6,579.2 L1309.9,577.2 L1310.1,575.2 L1310.3,573.2 L1310.6,571.2 L1310.9,569.3 L1311.1,567.3 L1311.4,565.3 L1311.7,563.3 L1312.0,561.3 L1312.3,559.3 L1312.6,557.4 L1312.9,555.4 L1313.3,553.4 L1313.7,551.5 L1314.1,549.5 L1314.6,547.5 L1315.1,545.6 L1315.6,543.6 L1316.2,541.7 L1316.7,539.8 L1317.4,537.9 L1318.1,536.0 L1318.8,534.1 L1319.5,532.2 L1320.1,530.3 L1320.6,528.3 L1321.0,526.4 L1321.4,524.4 L1321.8,522.4 L1322.2,520.4 L1322.6,518.5 L1323.1,516.5 L1323.7,514.1 L1324.4,512.2 L1325.5,512.3 L1327.1,513.7 L1328.7,515.4 L1330.0,517.2 L1331.2,519.2 L1332.4,520.0 L1333.6,518.8 L1334.8,516.8 L1336.2,515.0 L1337.9,513.3 L1339.4,512.1 L1340.3,512.5 L1341.0,514.6 L1341.6,517.0 L1342.1,518.9 L1342.5,520.9 L1342.9,522.9 L1343.3,524.8 L1343.7,526.8 L1344.1,528.8 L1344.6,530.7 L1345.3,532.6 L1346.0,534.5 L1346.7,536.4 L1347.4,538.3 L1348.0,540.2 L1348.6,542.1 L1349.1,544.1 L1349.6,546.0 L1350.1,548.0 L1350.5,549.9 L1351.0,551.9 L1351.4,553.9 L1351.8,555.8 L1352.2,557.8 L1352.5,559.8 L1352.9,561.7 L1353.3,563.7 L1353.6,565.7 L1354.0,567.7 L1354.3,569.7 L1354.7,571.6 L1355.0,573.6 L1355.3,575.6 L1355.7,577.6 L1356.0,579.6 L1356.3,581.5 L1356.6,583.5 L1356.9,585.5 L1357.2,587.5 L1357.5,589.5 L1357.8,591.5 L1358.1,593.5 L1358.4,595.5 L1358.7,597.5 L1359.0,599.5 L1359.3,601.4 L1359.6,603.4 L1359.9,605.4 L1360.2,607.4 L1360.5,609.4 L1360.7,611.4 L1361.0,613.4 L1361.3,615.4 L1361.6,617.4 L1361.9,619.4 L1362.1,621.4 L1362.4,623.4 L1362.7,625.4 L1363.0,627.4 L1363.3,629.3 L1363.6,631.3 L1363.9,633.3 L1364.2,635.3 L1364.5,637.3 L1364.7,639.3 L1365.0,641.3 L1365.3,643.3 L1365.6,645.3 L1365.9,647.3 L1366.2,649.2 L1366.5,651.2 L1366.8,653.2 L1367.1,655.2 L1367.4,657.2 L1367.6,659.2 L1367.9,661.2 L1368.2,663.2 L1368.5,665.2 L1368.8,667.2 L1369.1,669.1 L1369.3,671.1 L1369.6,673.1 L1369.9,675.1 L1370.2,677.1 L1370.4,679.1 L1370.7,681.1 L1371.0,683.1 L1371.3,685.1 L1371.6,687.1 L1371.8,689.1 L1372.1,691.1 L1372.4,693.0 L1372.6,695.0 L1372.9,697.0 L1373.2,699.0 L1373.4,701.0 L1373.7,703.0 L1374.0,705.0 L1374.3,707.0" stroke="#9400d3" stroke-width="2.9"/>
<path d="M1292.4,707.0 L1292.7,705.0 L1293.0,703.0 L1293.4,701.0 L1293.7,699.1 L1294.0,697.1 L1294.3,695.1 L1294.6,693.1 L1294.9,691.1 L1295.2,689.1 L1295.5,687.1 L1295.8,685.1 L1296.1,683.2 L1296.4,681.2 L1296.7,679.2 L1297.0,677.2 L1297.3,675.2 L1297.6,673.2 L1297.9,671.2 L1298.2,669.2 L1298.5,667.2 L1298.8,665.2 L1299.1,663.3 L1299.4,661.3 L1299.7,659.3 L1299.9,657.3 L1300.2,655.3 L1300.5,653.3 L1300.8,651.3 L1301.1,649.3 L1301.3,647.3 L1301.6,645.3 L1301.9,643.3 L1302.1,641.3 L1302.4,639.4 L1302.7,637.4 L1302.9,635.4 L1303.2,633.4 L1303.5,631.4 L1303.7,629.4 L1303.9,627.4 L1304.2,625.4 L1304.4,623.4 L1304.6,621.4 L1304.9,619.4 L1305.1,617.4 L1305.3,615.4 L1305.5,613.4 L1305.7,611.4 L1305.9,609.4 L1306.1,607.4 L1306.3,605.4 L1306.5,603.3 L1306.7,601.3 L1306.9,599.3 L1307.1,597.3 L1307.3,595.3 L1307.5,593.3 L1307.7,591.3 L1308.0,589.3 L1308.2,587.3 L1308.4,585.3 L1308.6,583.3 L1308.8,581.3 L1309.1,579.3 L1309.3,577.3 L1309.6,575.3 L1309.8,573.3 L1310.1,571.3 L1310.3,569.4 L1310.6,567.4 L1310.9,565.4 L1311.2,563.4 L1311.5,561.4 L1311.8,559.4 L1312.1,557.4 L1312.4,555.5 L1312.8,553.5 L1313.2,551.5 L1313.7,549.6 L1314.1,547.6 L1314.6,545.7 L1315.1,543.7 L1315.5,541.7 L1315.9,539.8 L1316.3,537.8 L1316.8,535.8 L1317.3,533.9 L1317.9,532.0 L1318.5,530.1 L1319.2,528.2 L1319.9,526.3 L1320.5,524.4 L1321.0,522.4 L1321.4,520.4 L1321.7,518.5 L1322.0,516.5 L1322.3,514.5 L1322.7,512.5 L1323.1,510.5 L1323.6,508.3 L1324.2,506.0 L1325.1,505.0 L1326.5,505.9 L1328.1,507.6 L1329.5,509.3 L1330.8,511.4 L1331.9,512.9 L1333.1,512.5 L1334.3,510.6 L1335.5,508.7 L1337.1,507.0 L1338.7,505.4 L1339.8,505.1 L1340.6,506.7 L1341.2,509.2 L1341.7,511.2 L1342.2,513.2 L1342.7,515.1 L1343.1,517.1 L1343.6,519.1 L1344.0,521.0 L1344.5,522.9 L1345.1,524.9 L1345.8,526.8 L1346.5,528.6 L1347.3,530.5 L1347.9,532.4 L1348.5,534.3 L1349.0,536.3 L1349.5,538.2 L1349.9,540.2 L1350.4,542.2 L1350.9,544.1 L1351.3,546.1 L1351.8,548.0 L1352.3,550.0 L1352.8,551.9 L1353.3,553.9 L1353.7,555.9 L1354.1,557.8 L1354.4,559.8 L1354.8,561.8 L1355.2,563.7 L1355.5,565.7 L1355.9,567.7 L1356.2,569.7 L1356.6,571.7 L1356.9,573.6 L1357.2,575.6 L1357.6,577.6 L1357.9,579.6 L1358.2,581.6 L1358.5,583.6 L1358.8,585.5 L1359.1,587.5 L1359.4,589.5 L1359.7,591.5 L1360.0,593.5 L1360.3,595.5 L1360.6,597.5 L1360.9,599.5 L1361.1,601.5 L1361.4,603.5 L1361.7,605.5 L1362.0,607.5 L1362.3,609.5 L1362.5,611.5 L1362.8,613.4 L1363.1,615.4 L1363.4,617.4 L1363.7,619.4 L1363.9,621.4 L1364.2,623.4 L1364.5,625.4 L1364.8,627.4 L1365.1,629.4 L1365.4,631.4 L1365.7,633.4 L1366.0,635.4 L1366.3,637.4 L1366.6,639.3 L1366.9,641.3 L1367.2,643.3 L1367.5,645.3 L1367.8,647.3 L1368.1,649.3 L1368.4,651.3 L1368.7,653.3 L1369.0,655.3 L1369.3,657.2 L1369.6,659.2 L1369.8,661.2 L1370.1,663.2 L1370.4,665.2 L1370.7,667.2 L1371.0,669.2 L1371.3,671.2 L1371.6,673.2 L1371.9,675.2 L1372.2,677.1 L1372.5,679.1 L1372.8,681.1 L1373.1,683.1 L1373.3,685.1 L1373.6,687.1 L1373.9,689.1 L1374.2,691.1 L1374.5,693.1 L1374.8,695.1 L1375.1,697.0 L1375.4,699.0 L1375.6,701.0 L1375.9,703.0 L1376.2,705.0 L1376.5,707.0" stroke="#ff00ff" stroke-width="2.9"/>
<path d="M1291.2,707.0 L1291.6,705.0 L1291.9,703.0 L1292.2,701.0 L1292.6,699.0 L1292.9,697.1 L1293.2,695.1 L1293.5,693.1 L1293.9,691.1 L1294.2,689.1 L1294.5,687.1 L1294.8,685.1 L1295.1,683.1 L1295.5,681.1 L1295.8,679.1 L1296.1,677.1 L1296.4,675.1 L1296.7,673.2 L1297.0,671.2 L1297.3,669.2 L1297.6,667.2 L1297.9,665.2 L1298.2,663.2 L1298.5,661.2 L1298.8,659.2 L1299.1,657.2 L1299.4,655.2 L1299.7,653.2 L1300.0,651.2 L1300.3,649.2 L1300.6,647.2 L1300.8,645.2 L1301.1,643.2 L1301.4,641.2 L1301.7,639.2 L1302.0,637.2 L1302.2,635.2 L1302.5,633.2 L1302.8,631.2 L1303.0,629.2 L1303.3,627.2 L1303.5,625.2 L1303.8,623.2 L1304.0,621.2 L1304.2,619.2 L1304.5,617.2 L1304.7,615.2 L1304.9,613.2 L1305.1,611.2 L1305.4,609.2 L1305.6,607.2 L1305.8,605.2 L1306.0,603.2 L1306.2,601.2 L1306.5,599.2 L1306.7,597.2 L1306.9,595.2 L1307.1,593.2 L1307.3,591.2 L1307.6,589.1 L1307.8,587.1 L1308.0,585.1 L1308.2,583.1 L1308.5,581.1 L1308.7,579.1 L1309.0,577.1 L1309.2,575.1 L1309.5,573.1 L1309.7,571.1 L1310.0,569.1 L1310.3,567.1 L1310.5,565.1 L1310.8,563.1 L1311.1,561.2 L1311.4,559.2 L1311.7,557.2 L1312.0,555.2 L1312.4,553.2 L1312.7,551.2 L1313.1,549.2 L1313.5,547.3 L1313.9,545.3 L1314.3,543.3 L1314.8,541.3 L1315.2,539.4 L1315.6,537.4 L1316.0,535.4 L1316.4,533.4 L1316.9,531.5 L1317.4,529.5 L1317.9,527.6 L1318.6,525.7 L1319.3,523.8 L1320.0,521.9 L1320.6,519.9 L1321.0,518.0 L1321.3,516.0 L1321.4,514.0 L1321.6,512.0 L1321.7,509.9 L1321.8,507.9 L1322.0,505.9 L1322.3,503.9 L1322.9,501.5 L1323.7,500.0 L1325.2,500.0 L1327.4,500.1 L1329.7,500.3 L1331.7,500.5 L1333.7,500.4 L1335.8,500.2 L1338.1,500.1 L1340.1,500.0 L1341.2,500.3 L1341.9,502.4 L1342.4,504.7 L1342.9,506.6 L1343.2,508.6 L1343.5,510.6 L1343.8,512.6 L1344.1,514.7 L1344.5,516.6 L1344.9,518.6 L1345.5,520.5 L1346.2,522.4 L1347.0,524.3 L1347.7,526.2 L1348.4,528.1 L1348.9,530.0 L1349.5,531.9 L1350.0,533.9 L1350.4,535.9 L1350.9,537.8 L1351.3,539.8 L1351.8,541.8 L1352.3,543.7 L1352.7,545.7 L1353.2,547.6 L1353.6,549.6 L1354.0,551.6 L1354.4,553.6 L1354.8,555.5 L1355.2,557.5 L1355.5,559.5 L1355.9,561.5 L1356.3,563.5 L1356.6,565.4 L1357.0,567.4 L1357.3,569.4 L1357.6,571.4 L1358.0,573.4 L1358.3,575.4 L1358.6,577.4 L1358.9,579.4 L1359.2,581.4 L1359.6,583.3 L1359.9,585.3 L1360.2,587.3 L1360.5,589.3 L1360.8,591.3 L1361.1,593.3 L1361.4,595.3 L1361.7,597.3 L1362.0,599.3 L1362.3,601.3 L1362.6,603.3 L1362.9,605.3 L1363.1,607.3 L1363.4,609.3 L1363.7,611.3 L1364.0,613.3 L1364.3,615.3 L1364.6,617.3 L1364.9,619.3 L1365.2,621.3 L1365.5,623.3 L1365.8,625.3 L1366.1,627.3 L1366.4,629.2 L1366.7,631.2 L1367.0,633.2 L1367.3,635.2 L1367.6,637.2 L1367.9,639.2 L1368.2,641.2 L1368.5,643.2 L1368.8,645.2 L1369.1,647.2 L1369.4,649.2 L1369.7,651.2 L1370.0,653.2 L1370.3,655.2 L1370.6,657.2 L1370.9,659.1 L1371.2,661.1 L1371.5,663.1 L1371.8,665.1 L1372.1,667.1 L1372.4,669.1 L1372.7,671.1 L1373.0,673.1 L1373.3,675.1 L1373.6,677.1 L1373.9,679.1 L1374.2,681.1 L1374.5,683.1 L1374.8,685.1 L1375.1,687.1 L1375.4,689.1 L1375.7,691.0 L1376.0,693.0 L1376.3,695.0 L1376.6,697.0 L1376.9,699.0 L1377.2,701.0 L1377.5,703.0 L1377.8,705.0 L1378.1,707.0" stroke="#6418bf" stroke-width="2.9"/>
<path d="M1290.1,707.0 L1290.4,705.0 L1290.8,703.0 L1291.1,701.0 L1291.5,699.0 L1291.8,697.1 L1292.2,695.1 L1292.5,693.1 L1292.8,691.1 L1293.2,689.1 L1293.5,687.1 L1293.8,685.1 L1294.2,683.1 L1294.5,681.1 L1294.8,679.1 L1295.1,677.2 L1295.5,675.2 L1295.8,673.2 L1296.1,671.2 L1296.4,669.2 L1296.7,667.2 L1297.0,665.2 L1297.3,663.2 L1297.7,661.2 L1298.0,659.2 L1298.3,657.2 L1298.6,655.2 L1298.9,653.2 L1299.2,651.3 L1299.5,649.3 L1299.8,647.3 L1300.1,645.3 L1300.4,643.3 L1300.6,641.3 L1300.9,639.3 L1301.2,637.3 L1301.5,635.3 L1301.8,633.3 L1302.1,631.3 L1302.3,629.3 L1302.6,627.3 L1302.9,625.3 L1303.1,623.3 L1303.4,621.3 L1303.7,619.3 L1304.0,617.3 L1304.2,615.3 L1304.5,613.3 L1304.7,611.3 L1305.0,609.3 L1305.3,607.3 L1305.5,605.3 L1305.8,603.3 L1306.0,601.3 L1306.3,599.3 L1306.5,597.3 L1306.8,595.3 L1307.0,593.3 L1307.3,591.3 L1307.5,589.3 L1307.8,587.3 L1308.0,585.3 L1308.3,583.3 L1308.5,581.3 L1308.8,579.3 L1309.0,577.3 L1309.2,575.3 L1309.5,573.3 L1309.7,571.3 L1309.9,569.3 L1310.2,567.3 L1310.4,565.3 L1310.6,563.3 L1310.9,561.3 L1311.1,559.2 L1311.3,557.2 L1311.6,555.2 L1311.8,553.2 L1312.0,551.2 L1312.2,549.2 L1312.4,547.2 L1312.6,545.2 L1312.8,543.2 L1313.0,541.2 L1313.3,539.2 L1313.5,537.2 L1313.8,535.2 L1314.1,533.2 L1314.5,531.2 L1315.0,529.3 L1315.4,527.3 L1315.9,525.3 L1316.3,523.4 L1316.7,521.4 L1317.1,519.4 L1317.5,517.4 L1317.9,515.4 L1318.3,513.5 L1318.8,511.5 L1319.4,509.6 L1320.0,507.7 L1320.6,505.7 L1321.2,503.8 L1321.8,501.9 L1322.3,499.9 L1322.9,498.0 L1323.4,496.0 L1324.0,494.1 L1324.8,492.3 L1325.7,490.4 L1326.8,488.7 L1328.1,487.1 L1329.5,485.7 L1331.2,484.3 L1333.0,484.1 L1334.8,485.1 L1336.4,486.5 L1337.8,487.8 L1339.1,489.5 L1340.2,491.2 L1341.2,493.0 L1342.0,494.8 L1342.7,496.7 L1343.3,498.6 L1343.9,500.6 L1344.5,502.5 L1345.2,504.4 L1345.9,506.3 L1346.5,508.2 L1347.2,510.1 L1347.8,512.0 L1348.3,514.0 L1348.8,515.9 L1349.3,517.9 L1349.7,519.8 L1350.2,521.8 L1350.6,523.8 L1351.1,525.7 L1351.6,527.7 L1352.2,529.7 L1352.6,531.6 L1353.1,533.6 L1353.5,535.6 L1353.8,537.5 L1354.1,539.5 L1354.3,541.5 L1354.6,543.5 L1354.8,545.5 L1355.0,547.5 L1355.2,549.6 L1355.5,551.6 L1355.7,553.6 L1356.0,555.6 L1356.2,557.6 L1356.5,559.6 L1356.8,561.6 L1357.1,563.5 L1357.4,565.5 L1357.7,567.5 L1358.0,569.5 L1358.3,571.5 L1358.6,573.5 L1358.9,575.5 L1359.2,577.5 L1359.5,579.5 L1359.8,581.5 L1360.1,583.5 L1360.5,585.5 L1360.8,587.5 L1361.1,589.5 L1361.4,591.5 L1361.8,593.4 L1362.1,595.4 L1362.4,597.4 L1362.7,599.4 L1363.1,601.4 L1363.4,603.4 L1363.7,605.4 L1364.1,607.4 L1364.4,609.4 L1364.7,611.4 L1365.0,613.3 L1365.4,615.3 L1365.7,617.3 L1366.0,619.3 L1366.4,621.3 L1366.7,623.3 L1367.0,625.3 L1367.3,627.3 L1367.6,629.3 L1368.0,631.3 L1368.3,633.3 L1368.6,635.3 L1368.9,637.2 L1369.2,639.2 L1369.5,641.2 L1369.8,643.2 L1370.2,645.2 L1370.5,647.2 L1370.8,649.2 L1371.1,651.2 L1371.4,653.2 L1371.7,655.2 L1372.0,657.2 L1372.3,659.2 L1372.6,661.2 L1373.0,663.1 L1373.3,665.1 L1373.6,667.1 L1373.9,669.1 L1374.2,671.1 L1374.5,673.1 L1374.8,675.1 L1375.1,677.1 L1375.4,679.1 L1375.7,681.1 L1376.0,683.1 L1376.4,685.1 L1376.7,687.1 L1377.0,689.1 L1377.3,691.1 L1377.6,693.0 L1377.9,695.0 L1378.2,697.0 L1378.5,699.0 L1378.8,701.0 L1379.1,703.0 L1379.4,705.0 L1379.8,707.0" stroke="#40e0d0" stroke-width="2.9"/>
<path d="M1289.0,707.0 L1289.3,705.0 L1289.7,703.0 L1290.0,701.1 L1290.4,699.1 L1290.7,697.1 L1291.1,695.1 L1291.4,693.1 L1291.8,691.2 L1292.1,689.2 L1292.5,687.2 L1292.8,685.2 L1293.1,683.2 L1293.5,681.3 L1293.8,679.3 L1294.2,677.3 L1294.5,675.3 L1294.8,673.3 L1295.1,671.3 L1295.5,669.4 L1295.8,667.4 L1296.1,665.4 L1296.4,663.4 L1296.8,661.4 L1297.1,659.4 L1297.4,657.4 L1297.7,655.5 L1298.0,653.5 L1298.3,651.5 L1298.6,649.5 L1298.9,647.5 L1299.2,645.5 L1299.5,643.5 L1299.8,641.6 L1300.1,639.6 L1300.4,637.6 L1300.7,635.6 L1301.0,633.6 L1301.3,631.6 L1301.6,629.6 L1301.9,627.6 L1302.1,625.6 L1302.4,623.7 L1302.7,621.7 L1303.0,619.7 L1303.3,617.7 L1303.5,615.7 L1303.8,613.7 L1304.1,611.7 L1304.3,609.7 L1304.6,607.7 L1304.9,605.7 L1305.1,603.7 L1305.4,601.7 L1305.7,599.7 L1305.9,597.8 L1306.2,595.8 L1306.4,593.8 L1306.7,591.8 L1306.9,589.8 L1307.2,587.8 L1307.4,585.8 L1307.7,583.8 L1307.9,581.8 L1308.2,579.8 L1308.4,577.8 L1308.7,575.8 L1308.9,573.8 L1309.2,571.8 L1309.4,569.8 L1309.6,567.8 L1309.9,565.8 L1310.1,563.8 L1310.4,561.8 L1310.6,559.8 L1310.8,557.8 L1311.1,555.8 L1311.3,553.9 L1311.5,551.9 L1311.7,549.8 L1311.9,547.8 L1312.1,545.8 L1312.3,543.8 L1312.5,541.8 L1312.7,539.8 L1312.9,537.8 L1313.2,535.8 L1313.4,533.9 L1313.7,531.9 L1314.0,529.9 L1314.4,527.9 L1314.8,526.0 L1315.3,524.0 L1315.7,522.0 L1316.1,520.1 L1316.5,518.1 L1316.9,516.1 L1317.3,514.1 L1317.7,512.2 L1318.2,510.2 L1318.6,508.3 L1319.2,506.3 L1319.7,504.4 L1320.3,502.5 L1321.0,500.6 L1321.6,498.6 L1322.1,496.7 L1322.7,494.7 L1323.2,492.8 L1323.8,490.9 L1324.5,489.0 L1325.3,487.2 L1326.4,485.4 L1327.5,483.7 L1328.9,482.3 L1330.5,480.8 L1332.2,480.0 L1334.0,480.5 L1335.8,481.8 L1337.3,483.1 L1338.6,484.6 L1339.9,486.3 L1341.0,488.0 L1341.8,489.8 L1342.6,491.6 L1343.2,493.5 L1343.8,495.5 L1344.5,497.4 L1345.1,499.3 L1345.8,501.2 L1346.5,503.1 L1347.2,505.0 L1347.9,506.9 L1348.5,508.8 L1349.0,510.7 L1349.5,512.6 L1350.0,514.6 L1350.4,516.6 L1350.9,518.5 L1351.4,520.5 L1351.9,522.4 L1352.4,524.4 L1352.9,526.3 L1353.4,528.3 L1353.8,530.2 L1354.2,532.2 L1354.5,534.2 L1354.8,536.2 L1355.1,538.2 L1355.3,540.1 L1355.6,542.1 L1355.8,544.1 L1356.0,546.1 L1356.2,548.1 L1356.5,550.1 L1356.7,552.1 L1357.0,554.1 L1357.2,556.1 L1357.5,558.1 L1357.8,560.1 L1358.1,562.1 L1358.4,564.1 L1358.7,566.1 L1359.0,568.1 L1359.3,570.1 L1359.6,572.0 L1359.9,574.0 L1360.2,576.0 L1360.5,578.0 L1360.8,580.0 L1361.2,582.0 L1361.5,584.0 L1361.8,585.9 L1362.1,587.9 L1362.4,589.9 L1362.8,591.9 L1363.1,593.9 L1363.4,595.9 L1363.7,597.8 L1364.1,599.8 L1364.4,601.8 L1364.7,603.8 L1365.1,605.8 L1365.4,607.8 L1365.7,609.7 L1366.0,611.7 L1366.4,613.7 L1366.7,615.7 L1367.0,617.7 L1367.4,619.7 L1367.7,621.6 L1368.0,623.6 L1368.3,625.6 L1368.7,627.6 L1369.0,629.6 L1369.3,631.6 L1369.6,633.6 L1369.9,635.5 L1370.3,637.5 L1370.6,639.5 L1370.9,641.5 L1371.2,643.5 L1371.5,645.5 L1371.9,647.4 L1372.2,649.4 L1372.5,651.4 L1372.8,653.4 L1373.1,655.4 L1373.4,657.4 L1373.8,659.4 L1374.1,661.3 L1374.4,663.3 L1374.7,665.3 L1375.0,667.3 L1375.3,669.3 L1375.7,671.3 L1376.0,673.3 L1376.3,675.2 L1376.6,677.2 L1376.9,679.2 L1377.2,681.2 L1377.6,683.2 L1377.9,685.2 L1378.2,687.1 L1378.5,689.1 L1378.8,691.1 L1379.2,693.1 L1379.5,695.1 L1379.8,697.1 L1380.1,699.1 L1380.4,701.0 L1380.7,703.0 L1381.1,705.0 L1381.4,707.0" stroke="#000000" stroke-width="2.9"/>
<path d="M1287.8,707.0 L1288.2,705.0 L1288.5,703.0 L1288.9,701.1 L1289.3,699.1 L1289.6,697.1 L1290.0,695.1 L1290.4,693.2 L1290.7,691.2 L1291.1,689.2 L1291.4,687.2 L1291.8,685.3 L1292.1,683.3 L1292.5,681.3 L1292.8,679.3 L1293.2,677.3 L1293.5,675.4 L1293.9,673.4 L1294.2,671.4 L1294.6,669.4 L1294.9,667.4 L1295.2,665.5 L1295.6,663.5 L1295.9,661.5 L1296.2,659.5 L1296.5,657.5 L1296.9,655.5 L1297.2,653.6 L1297.5,651.6 L1297.8,649.6 L1298.1,647.6 L1298.4,645.6 L1298.8,643.6 L1299.1,641.7 L1299.4,639.7 L1299.7,637.7 L1300.0,635.7 L1300.3,633.7 L1300.6,631.7 L1300.8,629.7 L1301.1,627.7 L1301.4,625.8 L1301.7,623.8 L1301.9,621.8 L1302.2,619.8 L1302.4,617.8 L1302.7,615.8 L1302.9,613.8 L1303.2,611.8 L1303.4,609.8 L1303.7,607.8 L1303.9,605.8 L1304.2,603.8 L1304.4,601.8 L1304.6,599.8 L1304.9,597.8 L1305.1,595.8 L1305.4,593.8 L1305.6,591.8 L1305.8,589.8 L1306.1,587.8 L1306.3,585.8 L1306.6,583.8 L1306.8,581.8 L1307.1,579.9 L1307.3,577.9 L1307.6,575.9 L1307.9,573.9 L1308.2,571.9 L1308.4,569.9 L1308.7,567.9 L1309.0,565.9 L1309.3,563.9 L1309.6,562.0 L1309.9,560.0 L1310.2,558.0 L1310.5,556.0 L1310.9,554.1 L1311.2,552.1 L1311.6,550.1 L1311.9,548.1 L1312.3,546.2 L1312.7,544.2 L1313.0,542.2 L1313.4,540.2 L1313.8,538.3 L1314.2,536.3 L1314.6,534.3 L1315.0,532.4 L1315.4,530.4 L1315.8,528.4 L1316.3,526.5 L1316.7,524.5 L1317.1,522.5 L1317.6,520.6 L1318.0,518.6 L1318.5,516.7 L1318.9,514.7 L1319.4,512.7 L1319.9,510.8 L1320.3,508.8 L1320.8,506.9 L1321.3,504.9 L1321.8,502.9 L1322.2,501.0 L1322.7,499.0 L1323.2,497.1 L1323.7,495.1 L1324.2,493.2 L1324.7,491.2 L1325.2,489.3 L1325.7,487.4 L1326.2,485.4 L1326.7,483.5 L1327.3,481.5 L1327.8,479.6 L1328.3,477.6 L1328.8,475.7 L1329.3,473.6 L1329.9,471.2 L1330.4,468.7 L1331.0,466.4 L1331.6,464.7 L1332.2,464.0 L1333.1,464.4 L1334.0,465.7 L1335.1,467.7 L1336.2,469.9 L1337.2,472.2 L1338.1,474.4 L1338.8,476.3 L1339.5,478.1 L1340.1,480.0 L1340.8,481.8 L1341.4,483.7 L1342.1,485.6 L1342.7,487.5 L1343.3,489.4 L1343.8,491.3 L1344.4,493.2 L1345.0,495.1 L1345.5,497.0 L1346.1,499.0 L1346.6,500.9 L1347.1,502.8 L1347.6,504.8 L1348.1,506.8 L1348.6,508.7 L1349.1,510.7 L1349.5,512.7 L1350.0,514.6 L1350.5,516.6 L1350.9,518.6 L1351.3,520.6 L1351.8,522.5 L1352.2,524.5 L1352.6,526.5 L1353.0,528.5 L1353.4,530.5 L1353.9,532.5 L1354.3,534.5 L1354.7,536.5 L1355.0,538.5 L1355.4,540.4 L1355.8,542.4 L1356.2,544.4 L1356.6,546.4 L1357.0,548.4 L1357.4,550.4 L1357.8,552.3 L1358.2,554.3 L1358.5,556.3 L1358.9,558.2 L1359.3,560.2 L1359.7,562.2 L1360.0,564.2 L1360.4,566.1 L1360.7,568.1 L1361.1,570.1 L1361.4,572.1 L1361.7,574.0 L1362.1,576.0 L1362.4,578.0 L1362.7,580.0 L1363.0,582.0 L1363.3,583.9 L1363.7,585.9 L1364.0,587.9 L1364.3,589.9 L1364.6,591.9 L1364.9,593.9 L1365.2,595.9 L1365.5,597.9 L1365.8,599.8 L1366.1,601.8 L1366.4,603.8 L1366.7,605.8 L1367.0,607.8 L1367.3,609.8 L1367.6,611.8 L1367.9,613.8 L1368.2,615.8 L1368.5,617.7 L1368.8,619.7 L1369.1,621.7 L1369.4,623.7 L1369.7,625.7 L1370.0,627.7 L1370.3,629.7 L1370.6,631.7 L1371.0,633.6 L1371.3,635.6 L1371.6,637.6 L1371.9,639.6 L1372.2,641.6 L1372.6,643.6 L1372.9,645.5 L1373.2,647.5 L1373.5,649.5 L1373.9,651.5 L1374.2,653.5 L1374.5,655.5 L1374.8,657.4 L1375.2,659.4 L1375.5,661.4 L1375.8,663.4 L1376.1,665.4 L1376.5,667.4 L1376.8,669.3 L1377.1,671.3 L1377.4,673.3 L1377.8,675.3 L1378.1,677.3 L1378.4,679.2 L1378.7,681.2 L1379.1,683.2 L1379.4,685.2 L1379.7,687.2 L1380.0,689.2 L1380.4,691.1 L1380.7,693.1 L1381.0,695.1 L1381.4,697.1 L1381.7,699.1 L1382.0,701.1 L1382.3,703.0 L1382.7,705.0 L1383.0,707.0" stroke="#ff0000" stroke-width="2.9"/>
<path d="M1286.7,707.0 L1287.0,705.0 L1287.4,703.0 L1287.8,701.1 L1288.2,699.1 L1288.6,697.1 L1288.9,695.1 L1289.3,693.1 L1289.7,691.2 L1290.1,689.2 L1290.4,687.2 L1290.8,685.2 L1291.2,683.2 L1291.5,681.3 L1291.9,679.3 L1292.2,677.3 L1292.6,675.3 L1293.0,673.3 L1293.3,671.4 L1293.7,669.4 L1294.0,667.4 L1294.4,665.4 L1294.7,663.4 L1295.0,661.4 L1295.4,659.4 L1295.7,657.5 L1296.0,655.5 L1296.4,653.5 L1296.7,651.5 L1297.0,649.5 L1297.4,647.5 L1297.7,645.5 L1298.0,643.6 L1298.3,641.6 L1298.6,639.6 L1298.9,637.6 L1299.3,635.6 L1299.6,633.6 L1299.9,631.6 L1300.2,629.6 L1300.4,627.6 L1300.7,625.6 L1301.0,623.6 L1301.3,621.7 L1301.6,619.7 L1301.8,617.7 L1302.1,615.7 L1302.4,613.7 L1302.6,611.7 L1302.9,609.7 L1303.1,607.7 L1303.4,605.7 L1303.6,603.7 L1303.9,601.7 L1304.1,599.7 L1304.4,597.7 L1304.7,595.7 L1304.9,593.7 L1305.2,591.7 L1305.4,589.7 L1305.7,587.7 L1305.9,585.7 L1306.2,583.7 L1306.4,581.7 L1306.7,579.7 L1307.0,577.7 L1307.2,575.7 L1307.5,573.7 L1307.8,571.7 L1308.1,569.7 L1308.3,567.7 L1308.6,565.7 L1308.9,563.7 L1309.2,561.7 L1309.5,559.8 L1309.8,557.8 L1310.1,555.8 L1310.5,553.8 L1310.8,551.8 L1311.1,549.8 L1311.5,547.8 L1311.8,545.9 L1312.1,543.9 L1312.5,541.9 L1312.8,539.9 L1313.2,537.9 L1313.5,535.9 L1313.9,534.0 L1314.3,532.0 L1314.6,530.0 L1315.0,528.0 L1315.4,526.0 L1315.7,524.0 L1316.1,522.1 L1316.5,520.1 L1316.9,518.1 L1317.3,516.1 L1317.7,514.2 L1318.1,512.2 L1318.5,510.2 L1318.9,508.2 L1319.3,506.3 L1319.7,504.3 L1320.1,502.3 L1320.5,500.3 L1320.9,498.4 L1321.4,496.4 L1321.8,494.4 L1322.2,492.5 L1322.6,490.5 L1323.1,488.5 L1323.5,486.6 L1324.0,484.6 L1324.4,482.6 L1324.9,480.7 L1325.3,478.7 L1325.8,476.8 L1326.2,474.8 L1326.7,472.8 L1327.1,470.8 L1327.5,468.7 L1328.0,466.7 L1328.5,464.8 L1329.1,462.9 L1329.8,461.1 L1330.7,459.2 L1332.2,457.8 L1333.8,458.6 L1335.2,460.3 L1336.2,461.9 L1337.0,463.6 L1337.8,465.5 L1338.4,467.4 L1339.0,469.5 L1339.6,471.5 L1340.2,473.5 L1340.7,475.4 L1341.3,477.3 L1341.8,479.3 L1342.4,481.2 L1342.9,483.1 L1343.5,485.1 L1344.0,487.0 L1344.5,488.9 L1345.0,490.9 L1345.5,492.8 L1346.0,494.8 L1346.5,496.7 L1347.0,498.7 L1347.5,500.7 L1347.9,502.6 L1348.4,504.6 L1348.9,506.5 L1349.3,508.5 L1349.8,510.5 L1350.2,512.4 L1350.6,514.4 L1351.1,516.4 L1351.5,518.4 L1351.9,520.3 L1352.4,522.3 L1352.8,524.3 L1353.2,526.3 L1353.6,528.2 L1354.0,530.2 L1354.4,532.2 L1354.8,534.2 L1355.2,536.2 L1355.6,538.1 L1356.0,540.1 L1356.4,542.1 L1356.7,544.1 L1357.1,546.1 L1357.5,548.0 L1357.9,550.0 L1358.3,552.0 L1358.6,554.0 L1359.0,555.9 L1359.4,557.9 L1359.7,559.9 L1360.1,561.9 L1360.5,563.9 L1360.8,565.8 L1361.1,567.8 L1361.5,569.8 L1361.8,571.8 L1362.2,573.8 L1362.5,575.8 L1362.8,577.8 L1363.1,579.7 L1363.5,581.7 L1363.8,583.7 L1364.1,585.7 L1364.4,587.7 L1364.7,589.7 L1365.0,591.7 L1365.3,593.7 L1365.7,595.7 L1366.0,597.7 L1366.3,599.6 L1366.6,601.6 L1366.9,603.6 L1367.2,605.6 L1367.5,607.6 L1367.8,609.6 L1368.1,611.6 L1368.4,613.6 L1368.7,615.6 L1369.0,617.6 L1369.3,619.6 L1369.6,621.6 L1369.9,623.5 L1370.2,625.5 L1370.6,627.5 L1370.9,629.5 L1371.2,631.5 L1371.5,633.5 L1371.8,635.5 L1372.2,637.5 L1372.5,639.5 L1372.8,641.4 L1373.2,643.4 L1373.5,645.4 L1373.8,647.4 L1374.1,649.4 L1374.5,651.4 L1374.8,653.4 L1375.1,655.4 L1375.4,657.3 L1375.8,659.3 L1376.1,661.3 L1376.4,663.3 L1376.8,665.3 L1377.1,667.3 L1377.4,669.3 L1377.8,671.2 L1378.1,673.2 L1378.4,675.2 L1378.7,677.2 L1379.1,679.2 L1379.4,681.2 L1379.7,683.2 L1380.1,685.2 L1380.4,687.1 L1380.7,689.1 L1381.1,691.1 L1381.4,693.1 L1381.7,695.1 L1382.1,697.1 L1382.4,699.1 L1382.7,701.0 L1383.1,703.0 L1383.4,705.0 L1383.7,707.0" stroke="#0000ff" stroke-width="2.9"/>
<path d="M1285.5,707.0 L1285.9,705.0 L1286.3,703.1 L1286.7,701.1 L1287.1,699.1 L1287.5,697.1 L1287.9,695.2 L1288.2,693.2 L1288.6,691.2 L1289.0,689.2 L1289.4,687.3 L1289.8,685.3 L1290.2,683.3 L1290.5,681.3 L1290.9,679.4 L1291.3,677.4 L1291.6,675.4 L1292.0,673.4 L1292.4,671.5 L1292.7,669.5 L1293.1,667.5 L1293.4,665.5 L1293.8,663.6 L1294.1,661.6 L1294.5,659.6 L1294.8,657.6 L1295.2,655.6 L1295.5,653.7 L1295.9,651.7 L1296.2,649.7 L1296.5,647.7 L1296.9,645.7 L1297.2,643.8 L1297.5,641.8 L1297.9,639.8 L1298.2,637.8 L1298.5,635.8 L1298.8,633.8 L1299.1,631.9 L1299.4,629.9 L1299.7,627.9 L1300.0,625.9 L1300.3,623.9 L1300.6,621.9 L1300.9,619.9 L1301.2,617.9 L1301.4,615.9 L1301.7,614.0 L1302.0,612.0 L1302.2,610.0 L1302.5,608.0 L1302.8,606.0 L1303.0,604.0 L1303.3,602.0 L1303.6,600.0 L1303.8,598.0 L1304.1,596.0 L1304.4,594.0 L1304.6,592.0 L1304.9,590.0 L1305.1,588.0 L1305.4,586.1 L1305.7,584.1 L1305.9,582.1 L1306.2,580.1 L1306.5,578.1 L1306.7,576.1 L1307.0,574.1 L1307.3,572.1 L1307.6,570.1 L1307.9,568.1 L1308.1,566.1 L1308.4,564.2 L1308.7,562.2 L1309.0,560.2 L1309.3,558.2 L1309.6,556.2 L1310.0,554.2 L1310.3,552.2 L1310.6,550.3 L1311.0,548.3 L1311.3,546.3 L1311.7,544.3 L1312.0,542.3 L1312.4,540.4 L1312.8,538.4 L1313.2,536.4 L1313.6,534.4 L1314.0,532.5 L1314.4,530.5 L1314.8,528.5 L1315.2,526.6 L1315.6,524.6 L1316.0,522.6 L1316.4,520.6 L1316.8,518.7 L1317.2,516.7 L1317.6,514.7 L1318.0,512.8 L1318.4,510.8 L1318.8,508.8 L1319.2,506.8 L1319.6,504.9 L1320.0,502.9 L1320.4,500.9 L1320.8,498.9 L1321.1,497.0 L1321.5,495.0 L1321.8,493.0 L1322.2,491.0 L1322.5,489.1 L1322.8,487.1 L1323.1,485.1 L1323.4,483.1 L1323.7,481.1 L1324.0,479.1 L1324.2,477.1 L1324.5,475.2 L1324.7,473.2 L1324.9,471.2 L1325.1,469.2 L1325.2,467.2 L1325.4,465.1 L1325.6,463.1 L1325.8,461.1 L1326.0,459.1 L1326.2,457.1 L1326.5,455.2 L1326.8,453.2 L1327.1,451.2 L1327.5,449.2 L1328.0,447.3 L1328.5,445.3 L1329.2,443.4 L1330.1,441.6 L1331.3,439.7 L1332.7,439.0 L1334.1,440.6 L1335.1,442.4 L1336.0,444.2 L1336.7,446.1 L1337.3,448.1 L1337.7,450.0 L1338.1,452.0 L1338.4,454.0 L1338.8,455.9 L1339.1,457.9 L1339.5,459.9 L1339.8,461.9 L1340.1,463.9 L1340.4,465.9 L1340.7,467.9 L1341.1,469.8 L1341.4,471.8 L1341.7,473.8 L1342.1,475.8 L1342.5,477.7 L1342.9,479.7 L1343.2,481.7 L1343.6,483.7 L1344.0,485.6 L1344.4,487.6 L1344.9,489.6 L1345.3,491.5 L1345.7,493.5 L1346.1,495.5 L1346.6,497.4 L1347.0,499.4 L1347.5,501.3 L1347.9,503.3 L1348.4,505.3 L1348.8,507.2 L1349.3,509.2 L1349.7,511.1 L1350.2,513.1 L1350.7,515.1 L1351.1,517.0 L1351.6,519.0 L1352.0,520.9 L1352.5,522.9 L1352.9,524.8 L1353.4,526.8 L1353.8,528.8 L1354.3,530.7 L1354.7,532.7 L1355.2,534.6 L1355.6,536.6 L1356.0,538.6 L1356.5,540.5 L1356.9,542.5 L1357.3,544.5 L1357.7,546.4 L1358.1,548.4 L1358.5,550.4 L1358.9,552.3 L1359.2,554.3 L1359.6,556.3 L1360.0,558.3 L1360.3,560.2 L1360.7,562.2 L1361.0,564.2 L1361.4,566.2 L1361.7,568.2 L1362.1,570.1 L1362.4,572.1 L1362.7,574.1 L1363.1,576.1 L1363.4,578.1 L1363.7,580.0 L1364.0,582.0 L1364.3,584.0 L1364.7,586.0 L1365.0,588.0 L1365.3,590.0 L1365.6,592.0 L1365.9,593.9 L1366.2,595.9 L1366.5,597.9 L1366.8,599.9 L1367.1,601.9 L1367.4,603.9 L1367.8,605.9 L1368.1,607.9 L1368.4,609.8 L1368.7,611.8 L1369.0,613.8 L1369.3,615.8 L1369.6,617.8 L1369.9,619.8 L1370.2,621.8 L1370.5,623.7 L1370.9,625.7 L1371.2,627.7 L1371.5,629.7 L1371.8,631.7 L1372.1,633.7 L1372.5,635.7 L1372.8,637.6 L1373.1,639.6 L1373.5,641.6 L1373.8,643.6 L1374.1,645.6 L1374.4,647.5 L1374.8,649.5 L1375.1,651.5 L1375.4,653.5 L1375.8,655.5 L1376.1,657.5 L1376.4,659.4 L1376.8,661.4 L1377.1,663.4 L1377.4,665.4 L1377.8,667.4 L1378.1,669.4 L1378.4,671.3 L1378.8,673.3 L1379.1,675.3 L1379.4,677.3 L1379.8,679.3 L1380.1,681.2 L1380.4,683.2 L1380.8,685.2 L1381.1,687.2 L1381.4,689.2 L1381.8,691.2 L1382.1,693.1 L1382.4,695.1 L1382.8,697.1 L1383.1,699.1 L1383.5,701.1 L1383.8,703.0 L1384.1,705.0 L1384.5,707.0" stroke="#bc8f8f" stroke-width="2.9"/>
<path d="M1283.2,707.0 L1283.7,705.0 L1284.1,703.1 L1284.5,701.1 L1284.9,699.1 L1285.3,697.2 L1285.8,695.2 L1286.2,693.2 L1286.6,691.3 L1287.0,689.3 L1287.4,687.3 L1287.8,685.3 L1288.2,683.4 L1288.6,681.4 L1289.0,679.4 L1289.4,677.5 L1289.8,675.5 L1290.2,673.5 L1290.6,671.5 L1290.9,669.6 L1291.3,667.6 L1291.7,665.6 L1292.1,663.6 L1292.4,661.7 L1292.8,659.7 L1293.2,657.7 L1293.5,655.7 L1293.9,653.8 L1294.3,651.8 L1294.6,649.8 L1295.0,647.8 L1295.3,645.8 L1295.7,643.9 L1296.0,641.9 L1296.4,639.9 L1296.7,637.9 L1297.0,635.9 L1297.4,634.0 L1297.7,632.0 L1298.0,630.0 L1298.3,628.0 L1298.6,626.0 L1299.0,624.0 L1299.3,622.1 L1299.6,620.1 L1299.9,618.1 L1300.2,616.1 L1300.5,614.1 L1300.7,612.1 L1301.0,610.1 L1301.3,608.1 L1301.6,606.1 L1301.9,604.2 L1302.2,602.2 L1302.4,600.2 L1302.7,598.2 L1303.0,596.2 L1303.3,594.2 L1303.6,592.2 L1303.8,590.2 L1304.1,588.2 L1304.4,586.2 L1304.7,584.2 L1304.9,582.2 L1305.2,580.3 L1305.5,578.3 L1305.8,576.3 L1306.1,574.3 L1306.4,572.3 L1306.6,570.3 L1306.9,568.3 L1307.2,566.3 L1307.5,564.3 L1307.8,562.3 L1308.1,560.4 L1308.4,558.4 L1308.7,556.4 L1309.1,554.4 L1309.4,552.4 L1309.7,550.4 L1310.0,548.4 L1310.4,546.5 L1310.7,544.5 L1311.1,542.5 L1311.4,540.5 L1311.8,538.5 L1312.1,536.6 L1312.5,534.6 L1312.8,532.6 L1313.2,530.6 L1313.5,528.6 L1313.9,526.7 L1314.3,524.7 L1314.6,522.7 L1315.0,520.7 L1315.4,518.8 L1315.7,516.8 L1316.1,514.8 L1316.5,512.8 L1316.8,510.8 L1317.2,508.9 L1317.6,506.9 L1317.9,504.9 L1318.3,502.9 L1318.6,500.9 L1319.0,499.0 L1319.3,497.0 L1319.6,495.0 L1320.0,493.0 L1320.3,491.0 L1320.6,489.1 L1321.0,487.1 L1321.3,485.1 L1321.6,483.1 L1321.9,481.1 L1322.2,479.1 L1322.5,477.1 L1322.7,475.1 L1323.0,473.2 L1323.2,471.2 L1323.5,469.2 L1323.7,467.2 L1323.9,465.2 L1324.2,463.2 L1324.5,461.2 L1324.8,459.2 L1325.2,457.2 L1325.5,455.2 L1325.9,453.3 L1326.3,451.3 L1326.6,449.3 L1326.9,447.3 L1327.2,445.3 L1327.6,443.4 L1328.2,441.4 L1328.8,439.5 L1329.6,437.6 L1330.6,435.8 L1331.9,434.1 L1333.4,434.7 L1334.7,436.5 L1335.7,438.2 L1336.6,440.0 L1337.3,442.0 L1337.8,443.9 L1338.3,445.8 L1338.6,447.8 L1339.0,449.8 L1339.4,451.8 L1339.8,453.8 L1340.2,455.7 L1340.6,457.7 L1341.0,459.7 L1341.4,461.6 L1341.7,463.6 L1342.0,465.6 L1342.3,467.6 L1342.6,469.6 L1342.8,471.6 L1343.1,473.6 L1343.4,475.6 L1343.7,477.5 L1344.1,479.5 L1344.4,481.5 L1344.8,483.5 L1345.1,485.4 L1345.5,487.4 L1345.9,489.4 L1346.3,491.4 L1346.7,493.3 L1347.1,495.3 L1347.5,497.3 L1347.9,499.2 L1348.3,501.2 L1348.8,503.2 L1349.2,505.1 L1349.6,507.1 L1350.1,509.1 L1350.5,511.0 L1350.9,513.0 L1351.4,515.0 L1351.8,516.9 L1352.3,518.9 L1352.7,520.8 L1353.2,522.8 L1353.6,524.8 L1354.0,526.7 L1354.5,528.7 L1354.9,530.7 L1355.4,532.6 L1355.8,534.6 L1356.2,536.6 L1356.6,538.5 L1357.0,540.5 L1357.5,542.5 L1357.9,544.4 L1358.3,546.4 L1358.7,548.4 L1359.0,550.3 L1359.4,552.3 L1359.8,554.3 L1360.1,556.3 L1360.5,558.2 L1360.9,560.2 L1361.2,562.2 L1361.6,564.2 L1361.9,566.2 L1362.2,568.1 L1362.6,570.1 L1362.9,572.1 L1363.2,574.1 L1363.6,576.1 L1363.9,578.1 L1364.2,580.0 L1364.5,582.0 L1364.9,584.0 L1365.2,586.0 L1365.5,588.0 L1365.8,590.0 L1366.1,592.0 L1366.4,593.9 L1366.7,595.9 L1367.1,597.9 L1367.4,599.9 L1367.7,601.9 L1368.0,603.9 L1368.3,605.9 L1368.6,607.9 L1368.9,609.8 L1369.2,611.8 L1369.5,613.8 L1369.9,615.8 L1370.2,617.8 L1370.5,619.8 L1370.8,621.8 L1371.1,623.7 L1371.4,625.7 L1371.8,627.7 L1372.1,629.7 L1372.4,631.7 L1372.7,633.7 L1373.1,635.6 L1373.4,637.6 L1373.7,639.6 L1374.1,641.6 L1374.4,643.6 L1374.7,645.6 L1375.1,647.5 L1375.4,649.5 L1375.7,651.5 L1376.1,653.5 L1376.4,655.5 L1376.7,657.5 L1377.1,659.4 L1377.4,661.4 L1377.7,663.4 L1378.1,665.4 L1378.4,667.4 L1378.7,669.4 L1379.1,671.3 L1379.4,673.3 L1379.8,675.3 L1380.1,677.3 L1380.4,679.3 L1380.8,681.2 L1381.1,683.2 L1381.4,685.2 L1381.8,687.2 L1382.1,689.2 L1382.5,691.2 L1382.8,693.1 L1383.2,695.1 L1383.5,697.1 L1383.8,699.1 L1384.2,701.1 L1384.5,703.0 L1384.9,705.0 L1385.2,707.0" stroke="#9400d3" stroke-width="2.9"/>
<path d="M1143.0,706.0 L1143.8,704.9 L1144.7,703.9 L1145.7,703.5 L1146.8,703.2 L1147.9,702.9 L1149.1,702.7 L1150.4,702.5 L1151.8,702.3 L1153.1,702.2 L1154.5,702.0 L1155.8,701.9 L1157.2,701.7 L1158.5,701.5 L1159.8,701.3 L1161.1,701.0 L1162.5,700.6 L1163.9,700.2 L1165.4,699.8 L1166.7,699.4 L1168.0,699.1 L1169.1,698.9 L1169.9,698.8 L1170.5,698.9 L1171.1,699.5 L1171.7,700.5 L1172.2,701.8 L1172.6,703.4 L1172.9,705.1 L1173.0,707.0" stroke="#ff00ff" stroke-width="2.9"/>
<path d="M1281.0,707.0 L1281.5,705.0 L1281.9,703.1 L1282.3,701.1 L1282.8,699.1 L1283.2,697.2 L1283.7,695.2 L1284.1,693.2 L1284.5,691.3 L1285.0,689.3 L1285.4,687.3 L1285.8,685.4 L1286.3,683.4 L1286.7,681.4 L1287.1,679.5 L1287.5,677.5 L1287.9,675.5 L1288.3,673.5 L1288.7,671.6 L1289.2,669.6 L1289.6,667.6 L1290.0,665.6 L1290.4,663.7 L1290.7,661.7 L1291.1,659.7 L1291.5,657.7 L1291.9,655.8 L1292.3,653.8 L1292.7,651.8 L1293.1,649.8 L1293.4,647.9 L1293.8,645.9 L1294.2,643.9 L1294.5,641.9 L1294.9,639.9 L1295.2,638.0 L1295.6,636.0 L1295.9,634.0 L1296.3,632.0 L1296.6,630.0 L1297.0,628.0 L1297.3,626.1 L1297.6,624.1 L1298.0,622.1 L1298.3,620.1 L1298.6,618.1 L1298.9,616.1 L1299.2,614.1 L1299.5,612.1 L1299.8,610.2 L1300.1,608.2 L1300.4,606.2 L1300.7,604.2 L1301.0,602.2 L1301.3,600.2 L1301.6,598.2 L1301.9,596.2 L1302.2,594.2 L1302.5,592.2 L1302.8,590.2 L1303.1,588.2 L1303.4,586.2 L1303.7,584.3 L1304.0,582.3 L1304.3,580.3 L1304.6,578.3 L1304.9,576.3 L1305.2,574.3 L1305.5,572.3 L1305.8,570.3 L1306.0,568.3 L1306.3,566.3 L1306.7,564.3 L1307.0,562.3 L1307.3,560.3 L1307.6,558.4 L1307.9,556.4 L1308.2,554.4 L1308.5,552.4 L1308.8,550.4 L1309.1,548.4 L1309.5,546.4 L1309.8,544.4 L1310.1,542.4 L1310.4,540.5 L1310.8,538.5 L1311.1,536.5 L1311.4,534.5 L1311.7,532.5 L1312.1,530.5 L1312.4,528.5 L1312.7,526.5 L1313.1,524.6 L1313.4,522.6 L1313.7,520.6 L1314.1,518.6 L1314.4,516.6 L1314.7,514.6 L1315.0,512.6 L1315.4,510.7 L1315.7,508.7 L1316.0,506.7 L1316.4,504.7 L1316.7,502.7 L1317.0,500.7 L1317.3,498.7 L1317.6,496.7 L1318.0,494.7 L1318.3,492.8 L1318.6,490.8 L1318.9,488.8 L1319.2,486.8 L1319.5,484.8 L1319.8,482.8 L1320.1,480.8 L1320.4,478.8 L1320.7,476.8 L1321.0,474.8 L1321.3,472.9 L1321.6,470.9 L1321.8,468.9 L1322.1,466.9 L1322.4,464.9 L1322.6,462.9 L1322.9,460.9 L1323.3,458.9 L1323.6,456.9 L1324.0,454.9 L1324.4,453.0 L1324.9,451.0 L1325.3,449.0 L1325.6,447.0 L1326.0,445.0 L1326.4,443.1 L1326.8,441.1 L1327.3,439.2 L1328.0,437.2 L1328.8,435.3 L1329.7,433.6 L1331.0,431.8 L1332.5,430.9 L1334.1,432.2 L1335.3,433.9 L1336.3,435.7 L1337.2,437.5 L1337.9,439.5 L1338.4,441.4 L1338.9,443.3 L1339.3,445.3 L1339.6,447.3 L1340.1,449.3 L1340.5,451.2 L1341.0,453.2 L1341.4,455.2 L1341.8,457.1 L1342.2,459.1 L1342.6,461.1 L1342.9,463.1 L1343.2,465.1 L1343.5,467.1 L1343.8,469.1 L1344.1,471.1 L1344.4,473.0 L1344.7,475.0 L1345.0,477.0 L1345.4,479.0 L1345.7,481.0 L1346.1,483.0 L1346.4,484.9 L1346.8,486.9 L1347.2,488.9 L1347.6,490.9 L1347.9,492.9 L1348.3,494.8 L1348.7,496.8 L1349.1,498.8 L1349.5,500.8 L1349.9,502.7 L1350.3,504.7 L1350.7,506.7 L1351.1,508.6 L1351.5,510.6 L1352.0,512.6 L1352.4,514.6 L1352.8,516.5 L1353.2,518.5 L1353.6,520.5 L1354.0,522.5 L1354.4,524.4 L1354.8,526.4 L1355.2,528.4 L1355.7,530.3 L1356.1,532.3 L1356.5,534.3 L1356.9,536.3 L1357.3,538.2 L1357.7,540.2 L1358.0,542.2 L1358.4,544.2 L1358.8,546.1 L1359.2,548.1 L1359.6,550.1 L1359.9,552.1 L1360.3,554.1 L1360.6,556.0 L1361.0,558.0 L1361.3,560.0 L1361.7,562.0 L1362.0,564.0 L1362.4,566.0 L1362.7,567.9 L1363.0,569.9 L1363.4,571.9 L1363.7,573.9 L1364.0,575.9 L1364.4,577.9 L1364.7,579.9 L1365.0,581.9 L1365.3,583.8 L1365.7,585.8 L1366.0,587.8 L1366.3,589.8 L1366.6,591.8 L1366.9,593.8 L1367.2,595.8 L1367.6,597.8 L1367.9,599.8 L1368.2,601.7 L1368.5,603.7 L1368.8,605.7 L1369.1,607.7 L1369.4,609.7 L1369.8,611.7 L1370.1,613.7 L1370.4,615.7 L1370.7,617.7 L1371.0,619.6 L1371.4,621.6 L1371.7,623.6 L1372.0,625.6 L1372.3,627.6 L1372.7,629.6 L1373.0,631.6 L1373.3,633.6 L1373.6,635.5 L1374.0,637.5 L1374.3,639.5 L1374.6,641.5 L1375.0,643.5 L1375.3,645.5 L1375.7,647.5 L1376.0,649.5 L1376.3,651.4 L1376.7,653.4 L1377.0,655.4 L1377.3,657.4 L1377.7,659.4 L1378.0,661.4 L1378.4,663.3 L1378.7,665.3 L1379.0,667.3 L1379.4,669.3 L1379.7,671.3 L1380.1,673.3 L1380.4,675.3 L1380.8,677.2 L1381.1,679.2 L1381.4,681.2 L1381.8,683.2 L1382.1,685.2 L1382.5,687.2 L1382.8,689.1 L1383.2,691.1 L1383.5,693.1 L1383.9,695.1 L1384.2,697.1 L1384.6,699.1 L1384.9,701.0 L1385.3,703.0 L1385.6,705.0 L1386.0,707.0" stroke="#ff00ff" stroke-width="2.9"/>
<path d="M1120.5,707.0 L1121.0,705.4 L1121.5,703.8 L1122.0,702.2 L1122.5,700.7 L1123.0,699.1 L1123.6,697.5 L1124.1,695.9 L1124.6,694.4 L1125.2,692.8 L1125.8,691.3 L1126.4,689.7 L1126.9,688.2 L1127.6,686.6 L1128.2,685.1 L1128.8,683.5 L1129.4,682.0 L1130.1,680.5 L1130.7,678.9 L1131.4,677.4 L1132.1,675.9 L1132.8,674.4 L1133.4,672.9 L1134.1,671.3 L1134.8,669.7 L1135.5,668.2 L1136.3,666.8 L1137.2,665.4 L1138.2,664.2 L1139.4,662.8 L1140.7,661.6 L1142.1,660.7 L1143.5,660.4 L1145.1,660.3 L1146.8,660.2 L1148.5,660.1 L1150.2,660.0 L1151.9,660.0 L1153.7,660.0 L1155.6,660.0 L1157.5,660.0 L1159.0,660.0 L1160.1,660.0 L1160.8,660.7 L1161.3,662.3 L1161.8,664.3 L1162.2,666.4 L1162.7,668.1 L1163.1,669.7 L1163.4,671.3 L1163.8,672.9 L1164.2,674.5 L1164.5,676.2 L1164.8,677.8 L1165.1,679.4 L1165.5,681.0 L1165.8,682.7 L1166.1,684.3 L1166.4,686.0 L1166.7,687.9 L1166.9,689.8 L1167.2,691.8 L1167.4,693.7 L1167.8,695.3 L1168.2,696.6 L1168.7,697.4 L1169.7,697.9 L1171.5,698.2 L1173.4,698.5 L1175.2,698.6 L1177.2,698.6 L1179.0,698.7 L1180.0,698.8 L1180.5,699.3 L1180.9,700.6 L1181.2,702.3 L1181.4,704.5 L1181.5,707.0" stroke="#6418bf" stroke-width="2.9"/>
<path d="M1277.0,707.0 L1277.5,705.0 L1278.0,703.1 L1278.5,701.1 L1279.0,699.2 L1279.4,697.2 L1279.9,695.3 L1280.4,693.3 L1280.9,691.4 L1281.4,689.4 L1281.8,687.5 L1282.3,685.5 L1282.8,683.6 L1283.2,681.6 L1283.7,679.6 L1284.1,677.7 L1284.6,675.7 L1285.0,673.8 L1285.5,671.8 L1285.9,669.8 L1286.4,667.9 L1286.8,665.9 L1287.3,663.9 L1287.7,662.0 L1288.1,660.0 L1288.5,658.1 L1289.0,656.1 L1289.4,654.1 L1289.8,652.2 L1290.2,650.2 L1290.6,648.2 L1291.0,646.3 L1291.4,644.3 L1291.8,642.3 L1292.2,640.3 L1292.6,638.4 L1293.0,636.4 L1293.3,634.4 L1293.7,632.5 L1294.1,630.5 L1294.5,628.5 L1294.8,626.5 L1295.2,624.6 L1295.5,622.6 L1295.9,620.6 L1296.2,618.6 L1296.6,616.6 L1296.9,614.7 L1297.3,612.7 L1297.6,610.7 L1297.9,608.7 L1298.3,606.7 L1298.6,604.7 L1298.9,602.8 L1299.2,600.8 L1299.6,598.8 L1299.9,596.8 L1300.2,594.8 L1300.5,592.8 L1300.8,590.9 L1301.2,588.9 L1301.5,586.9 L1301.8,584.9 L1302.1,582.9 L1302.4,580.9 L1302.7,578.9 L1303.0,576.9 L1303.4,575.0 L1303.7,573.0 L1304.0,571.0 L1304.3,569.0 L1304.6,567.0 L1304.9,565.0 L1305.2,563.0 L1305.6,561.1 L1305.9,559.1 L1306.2,557.1 L1306.5,555.1 L1306.9,553.1 L1307.2,551.1 L1307.5,549.1 L1307.8,547.2 L1308.1,545.2 L1308.5,543.2 L1308.8,541.2 L1309.1,539.2 L1309.4,537.2 L1309.7,535.3 L1310.1,533.3 L1310.4,531.3 L1310.7,529.3 L1311.0,527.3 L1311.3,525.3 L1311.6,523.3 L1312.0,521.4 L1312.3,519.4 L1312.6,517.4 L1312.9,515.4 L1313.2,513.4 L1313.5,511.4 L1313.9,509.4 L1314.2,507.5 L1314.5,505.5 L1314.8,503.5 L1315.1,501.5 L1315.4,499.5 L1315.7,497.5 L1316.1,495.5 L1316.4,493.6 L1316.7,491.6 L1317.0,489.6 L1317.3,487.6 L1317.6,485.6 L1317.9,483.6 L1318.3,481.6 L1318.6,479.7 L1318.9,477.7 L1319.2,475.7 L1319.5,473.7 L1319.8,471.7 L1320.1,469.7 L1320.4,467.7 L1320.7,465.7 L1321.0,463.7 L1321.3,461.8 L1321.6,459.8 L1322.0,457.8 L1322.4,455.8 L1322.8,453.9 L1323.3,451.9 L1323.7,450.0 L1324.2,448.0 L1324.6,446.0 L1325.0,444.0 L1325.4,442.1 L1325.9,440.1 L1326.4,438.2 L1327.1,436.3 L1327.9,434.4 L1328.8,432.6 L1330.0,431.0 L1331.5,429.3 L1333.0,429.3 L1334.6,430.8 L1335.8,432.4 L1336.9,434.1 L1337.7,436.0 L1338.4,437.9 L1339.0,439.8 L1339.5,441.8 L1339.9,443.7 L1340.3,445.7 L1340.8,447.7 L1341.3,449.6 L1341.8,451.6 L1342.2,453.5 L1342.7,455.5 L1343.1,457.5 L1343.5,459.4 L1343.9,461.4 L1344.2,463.4 L1344.5,465.4 L1344.8,467.4 L1345.1,469.4 L1345.4,471.3 L1345.8,473.3 L1346.1,475.3 L1346.4,477.3 L1346.8,479.3 L1347.1,481.3 L1347.5,483.2 L1347.9,485.2 L1348.2,487.2 L1348.6,489.2 L1348.9,491.1 L1349.3,493.1 L1349.7,495.1 L1350.1,497.1 L1350.4,499.0 L1350.8,501.0 L1351.2,503.0 L1351.6,505.0 L1351.9,506.9 L1352.3,508.9 L1352.7,510.9 L1353.1,512.9 L1353.5,514.8 L1353.9,516.8 L1354.2,518.8 L1354.6,520.8 L1355.0,522.7 L1355.4,524.7 L1355.8,526.7 L1356.1,528.7 L1356.5,530.6 L1356.9,532.6 L1357.3,534.6 L1357.6,536.6 L1358.0,538.5 L1358.4,540.5 L1358.7,542.5 L1359.1,544.5 L1359.5,546.4 L1359.8,548.4 L1360.2,550.4 L1360.5,552.4 L1360.9,554.4 L1361.2,556.3 L1361.6,558.3 L1361.9,560.3 L1362.3,562.3 L1362.6,564.3 L1362.9,566.2 L1363.3,568.2 L1363.6,570.2 L1363.9,572.2 L1364.3,574.2 L1364.6,576.2 L1364.9,578.1 L1365.2,580.1 L1365.6,582.1 L1365.9,584.1 L1366.2,586.1 L1366.5,588.1 L1366.8,590.1 L1367.2,592.0 L1367.5,594.0 L1367.8,596.0 L1368.1,598.0 L1368.4,600.0 L1368.7,602.0 L1369.1,603.9 L1369.4,605.9 L1369.7,607.9 L1370.0,609.9 L1370.3,611.9 L1370.7,613.9 L1371.0,615.9 L1371.3,617.8 L1371.6,619.8 L1372.0,621.8 L1372.3,623.8 L1372.6,625.8 L1372.9,627.8 L1373.3,629.7 L1373.6,631.7 L1373.9,633.7 L1374.3,635.7 L1374.6,637.7 L1374.9,639.7 L1375.3,641.6 L1375.6,643.6 L1375.9,645.6 L1376.3,647.6 L1376.6,649.6 L1377.0,651.6 L1377.3,653.5 L1377.6,655.5 L1378.0,657.5 L1378.3,659.5 L1378.7,661.5 L1379.0,663.4 L1379.4,665.4 L1379.7,667.4 L1380.0,669.4 L1380.4,671.4 L1380.7,673.3 L1381.1,675.3 L1381.4,677.3 L1381.8,679.3 L1382.1,681.3 L1382.5,683.2 L1382.8,685.2 L1383.2,687.2 L1383.5,689.2 L1383.9,691.2 L1384.2,693.1 L1384.6,695.1 L1384.9,697.1 L1385.3,699.1 L1385.6,701.1 L1386.0,703.0 L1386.3,705.0 L1386.7,707.0" stroke="#6418bf" stroke-width="2.9"/>
<path d="M1117.5,707.0 L1118.1,705.4 L1118.7,703.7 L1119.3,702.0 L1119.9,700.4 L1120.4,698.7 L1121.0,697.1 L1121.6,695.4 L1122.1,693.7 L1122.7,692.1 L1123.2,690.4 L1123.8,688.8 L1124.3,687.1 L1124.9,685.4 L1125.4,683.8 L1125.9,682.1 L1126.5,680.4 L1127.0,678.7 L1127.5,677.0 L1128.1,675.4 L1128.6,673.7 L1129.2,672.1 L1129.8,670.4 L1130.5,668.8 L1131.1,667.1 L1131.8,665.3 L1132.6,663.6 L1133.4,662.1 L1134.3,660.7 L1135.4,659.6 L1136.9,658.6 L1138.6,657.8 L1140.3,657.5 L1142.0,657.3 L1143.7,657.2 L1145.5,657.1 L1147.2,657.1 L1149.0,657.0 L1150.8,657.0 L1152.6,657.0 L1154.4,657.0 L1156.2,657.0 L1158.1,657.1 L1159.9,657.2 L1161.7,657.3 L1163.3,657.4 L1164.9,657.5 L1166.3,658.0 L1167.7,659.2 L1168.9,660.8 L1169.9,662.3 L1170.6,663.8 L1171.2,665.4 L1171.7,667.0 L1172.2,668.7 L1172.6,670.5 L1173.1,672.3 L1173.5,674.0 L1173.9,675.7 L1174.4,677.5 L1174.7,679.2 L1175.1,681.0 L1175.5,682.7 L1175.8,684.4 L1176.2,686.1 L1176.7,687.8 L1177.3,689.4 L1177.9,691.0 L1178.8,692.8 L1179.8,694.6 L1180.9,696.1 L1182.1,696.9 L1183.5,697.1 L1185.0,697.2 L1186.6,697.4 L1188.4,697.4 L1190.4,697.5 L1192.5,697.5" stroke="#40e0d0" stroke-width="2.9"/>
<path d="M1272.5,707.0 L1273.0,705.1 L1273.5,703.1 L1274.1,701.2 L1274.6,699.2 L1275.1,697.3 L1275.6,695.3 L1276.1,693.4 L1276.6,691.4 L1277.1,689.5 L1277.6,687.5 L1278.1,685.6 L1278.6,683.6 L1279.1,681.7 L1279.6,679.7 L1280.1,677.8 L1280.6,675.8 L1281.1,673.9 L1281.5,671.9 L1282.0,670.0 L1282.5,668.0 L1283.0,666.0 L1283.5,664.1 L1284.0,662.1 L1284.5,660.2 L1284.9,658.2 L1285.4,656.3 L1285.9,654.3 L1286.4,652.4 L1287.0,650.4 L1287.5,648.5 L1288.0,646.5 L1288.5,644.6 L1288.9,642.6 L1289.4,640.7 L1289.9,638.7 L1290.3,636.7 L1290.7,634.8 L1291.2,632.8 L1291.6,630.9 L1292.0,628.9 L1292.4,626.9 L1292.8,624.9 L1293.2,623.0 L1293.6,621.0 L1294.0,619.0 L1294.4,617.1 L1294.8,615.1 L1295.2,613.1 L1295.6,611.1 L1296.0,609.1 L1296.4,607.2 L1296.7,605.2 L1297.1,603.2 L1297.5,601.2 L1297.8,599.2 L1298.2,597.3 L1298.6,595.3 L1298.9,593.3 L1299.3,591.3 L1299.6,589.3 L1300.0,587.3 L1300.3,585.4 L1300.7,583.4 L1301.0,581.4 L1301.3,579.4 L1301.6,577.4 L1302.0,575.4 L1302.3,573.4 L1302.6,571.4 L1302.9,569.5 L1303.2,567.5 L1303.5,565.5 L1303.8,563.5 L1304.1,561.5 L1304.4,559.5 L1304.7,557.5 L1304.9,555.5 L1305.2,553.5 L1305.4,551.5 L1305.7,549.5 L1305.9,547.5 L1306.1,545.5 L1306.4,543.5 L1306.7,541.5 L1307.0,539.5 L1307.3,537.6 L1307.6,535.6 L1308.0,533.6 L1308.3,531.6 L1308.6,529.6 L1309.0,527.6 L1309.4,525.7 L1309.7,523.7 L1310.1,521.7 L1310.4,519.7 L1310.8,517.7 L1311.2,515.7 L1311.5,513.8 L1311.9,511.8 L1312.2,509.8 L1312.5,507.8 L1312.9,505.8 L1313.2,503.8 L1313.5,501.9 L1313.8,499.9 L1314.1,497.9 L1314.4,495.9 L1314.7,493.9 L1315.0,491.9 L1315.3,489.9 L1315.6,487.9 L1315.9,485.9 L1316.2,483.9 L1316.5,481.9 L1316.8,480.0 L1317.1,478.0 L1317.4,476.0 L1317.8,474.0 L1318.1,472.0 L1318.4,470.0 L1318.7,468.0 L1319.0,466.0 L1319.4,464.0 L1319.7,462.1 L1320.1,460.1 L1320.4,458.1 L1320.8,456.1 L1321.2,454.2 L1321.7,452.2 L1322.1,450.2 L1322.6,448.3 L1323.2,446.3 L1323.7,444.4 L1324.1,442.4 L1324.5,440.4 L1325.0,438.5 L1325.5,436.5 L1326.1,434.6 L1326.9,432.8 L1327.9,430.9 L1329.0,429.3 L1330.3,427.6 L1331.9,426.4 L1333.6,426.9 L1335.1,428.5 L1336.3,430.0 L1337.3,431.8 L1338.2,433.7 L1339.0,435.5 L1339.5,437.4 L1340.0,439.4 L1340.5,441.4 L1340.9,443.4 L1341.4,445.3 L1341.9,447.3 L1342.5,449.2 L1343.0,451.2 L1343.4,453.1 L1343.9,455.1 L1344.3,457.0 L1344.7,459.0 L1345.0,461.0 L1345.4,463.0 L1345.7,465.0 L1346.0,466.9 L1346.4,468.9 L1346.7,470.9 L1347.0,472.9 L1347.4,474.9 L1347.7,476.9 L1348.1,478.9 L1348.4,480.8 L1348.8,482.8 L1349.1,484.8 L1349.5,486.8 L1349.8,488.8 L1350.2,490.8 L1350.6,492.7 L1350.9,494.7 L1351.3,496.7 L1351.6,498.7 L1352.0,500.7 L1352.3,502.6 L1352.7,504.6 L1353.0,506.6 L1353.4,508.6 L1353.7,510.6 L1354.1,512.6 L1354.4,514.5 L1354.8,516.5 L1355.2,518.5 L1355.5,520.5 L1355.9,522.5 L1356.2,524.4 L1356.6,526.4 L1356.9,528.4 L1357.3,530.4 L1357.6,532.4 L1358.0,534.4 L1358.3,536.3 L1358.7,538.3 L1359.0,540.3 L1359.4,542.3 L1359.7,544.3 L1360.0,546.3 L1360.4,548.2 L1360.7,550.2 L1361.1,552.2 L1361.4,554.2 L1361.7,556.2 L1362.1,558.2 L1362.4,560.1 L1362.8,562.1 L1363.1,564.1 L1363.4,566.1 L1363.7,568.1 L1364.1,570.1 L1364.4,572.1 L1364.7,574.0 L1365.1,576.0 L1365.4,578.0 L1365.7,580.0 L1366.0,582.0 L1366.4,584.0 L1366.7,586.0 L1367.0,588.0 L1367.3,589.9 L1367.6,591.9 L1368.0,593.9 L1368.3,595.9 L1368.6,597.9 L1368.9,599.9 L1369.3,601.9 L1369.6,603.8 L1369.9,605.8 L1370.2,607.8 L1370.6,609.8 L1370.9,611.8 L1371.2,613.8 L1371.5,615.8 L1371.9,617.8 L1372.2,619.7 L1372.5,621.7 L1372.8,623.7 L1373.2,625.7 L1373.5,627.7 L1373.8,629.7 L1374.2,631.7 L1374.5,633.6 L1374.8,635.6 L1375.2,637.6 L1375.5,639.6 L1375.9,641.6 L1376.2,643.6 L1376.5,645.5 L1376.9,647.5 L1377.2,649.5 L1377.6,651.5 L1377.9,653.5 L1378.3,655.5 L1378.6,657.4 L1379.0,659.4 L1379.3,661.4 L1379.6,663.4 L1380.0,665.4 L1380.3,667.4 L1380.7,669.3 L1381.0,671.3 L1381.4,673.3 L1381.7,675.3 L1382.1,677.3 L1382.4,679.3 L1382.8,681.2 L1383.1,683.2 L1383.5,685.2 L1383.9,687.2 L1384.2,689.2 L1384.6,691.2 L1384.9,693.1 L1385.3,695.1 L1385.6,697.1 L1386.0,699.1 L1386.3,701.1 L1386.7,703.0 L1387.1,705.0 L1387.4,707.0" stroke="#40e0d0" stroke-width="2.9"/>
<path d="M1110.0,707.0 L1110.5,705.3 L1110.9,703.5 L1111.4,701.8 L1111.9,700.1 L1112.4,698.4 L1112.9,696.7 L1113.4,695.0 L1114.0,693.3 L1114.5,691.6 L1115.0,689.9 L1115.6,688.2 L1116.2,686.5 L1116.7,684.8 L1117.3,683.1 L1117.9,681.4 L1118.5,679.7 L1119.1,678.0 L1119.8,676.3 L1120.4,674.7 L1121.0,673.0 L1121.7,671.3 L1122.4,669.7 L1123.0,667.9 L1123.7,666.3 L1124.4,664.6 L1125.2,663.0 L1126.1,661.5 L1127.1,660.2 L1128.3,658.9 L1129.7,657.7 L1131.1,656.5 L1132.4,655.2 L1133.6,653.9 L1134.6,652.5 L1135.5,651.0 L1136.3,649.4 L1137.2,647.7 L1138.0,646.2 L1139.0,644.7 L1140.0,643.0 L1141.0,641.2 L1142.0,639.5 L1143.2,638.1 L1144.4,637.2 L1145.8,636.9 L1147.6,636.7 L1149.7,636.5 L1151.7,636.4 L1153.5,636.3 L1154.9,636.3 L1155.9,636.9 L1156.6,638.8 L1157.3,641.0 L1158.0,642.9 L1159.1,643.9 L1160.6,644.4 L1162.5,644.8 L1164.5,645.0 L1166.1,644.7 L1167.7,643.6 L1169.3,642.6 L1170.9,642.6 L1172.7,643.3 L1174.3,644.4 L1175.5,645.5 L1176.4,646.8 L1177.3,648.3 L1178.0,650.1 L1178.7,651.8 L1179.4,653.6 L1180.1,655.3 L1180.8,656.9 L1181.6,658.6 L1182.2,660.2 L1182.9,661.9 L1183.6,663.5 L1184.2,665.2 L1184.8,666.9 L1185.4,668.6 L1185.9,670.3 L1186.5,672.0 L1187.0,673.7 L1187.5,675.4 L1188.0,677.1 L1188.5,678.9 L1188.9,680.6 L1189.3,682.3 L1189.7,684.1 L1190.0,685.8 L1190.4,687.6 L1190.7,689.3 L1191.0,691.1 L1191.3,692.9 L1191.6,694.6 L1191.9,696.4 L1192.2,698.2 L1192.5,699.9 L1192.8,701.7 L1193.0,703.5 L1193.3,705.2 L1193.5,707.0" stroke="#000000" stroke-width="2.9"/>
<path d="M1265.8,707.0 L1266.4,705.1 L1267.0,703.2 L1267.6,701.2 L1268.2,699.3 L1268.8,697.4 L1269.4,695.5 L1270.0,693.5 L1270.5,691.6 L1271.1,689.7 L1271.7,687.8 L1272.2,685.8 L1272.8,683.9 L1273.3,682.0 L1273.9,680.0 L1274.4,678.1 L1275.0,676.1 L1275.5,674.2 L1276.0,672.3 L1276.6,670.3 L1277.1,668.4 L1277.6,666.4 L1278.1,664.5 L1278.6,662.5 L1279.2,660.6 L1279.7,658.7 L1280.2,656.7 L1280.7,654.8 L1281.2,652.8 L1281.7,650.9 L1282.2,648.9 L1282.7,646.9 L1283.1,645.0 L1283.6,643.0 L1284.1,641.1 L1284.5,639.1 L1285.0,637.2 L1285.5,635.2 L1285.9,633.2 L1286.3,631.3 L1286.8,629.3 L1287.2,627.4 L1287.6,625.4 L1288.1,623.4 L1288.5,621.5 L1288.9,619.5 L1289.4,617.5 L1289.8,615.6 L1290.2,613.6 L1290.6,611.6 L1291.0,609.7 L1291.4,607.7 L1291.8,605.7 L1292.2,603.7 L1292.6,601.8 L1293.0,599.8 L1293.4,597.8 L1293.8,595.9 L1294.2,593.9 L1294.6,591.9 L1295.0,589.9 L1295.4,588.0 L1295.8,586.0 L1296.2,584.0 L1296.6,582.0 L1296.9,580.1 L1297.3,578.1 L1297.7,576.1 L1298.1,574.1 L1298.4,572.1 L1298.8,570.2 L1299.2,568.2 L1299.6,566.2 L1299.9,564.2 L1300.3,562.2 L1300.6,560.3 L1301.0,558.3 L1301.4,556.3 L1301.7,554.3 L1302.1,552.3 L1302.4,550.4 L1302.7,548.4 L1303.1,546.4 L1303.4,544.4 L1303.7,542.4 L1304.1,540.4 L1304.4,538.5 L1304.7,536.5 L1305.1,534.5 L1305.4,532.5 L1305.7,530.5 L1306.1,528.5 L1306.4,526.6 L1306.7,524.6 L1307.1,522.6 L1307.4,520.6 L1307.7,518.6 L1308.1,516.6 L1308.4,514.6 L1308.7,512.7 L1309.1,510.7 L1309.4,508.7 L1309.7,506.7 L1310.0,504.7 L1310.4,502.7 L1310.7,500.7 L1311.0,498.8 L1311.3,496.8 L1311.6,494.8 L1312.0,492.8 L1312.3,490.8 L1312.6,488.8 L1312.9,486.8 L1313.2,484.9 L1313.5,482.9 L1313.9,480.9 L1314.2,478.9 L1314.5,476.9 L1314.8,474.9 L1315.1,472.9 L1315.4,470.9 L1315.8,469.0 L1316.1,467.0 L1316.4,465.0 L1316.7,463.0 L1317.1,461.0 L1317.4,459.0 L1317.7,457.0 L1318.1,455.1 L1318.5,453.1 L1318.8,451.1 L1319.2,449.1 L1319.6,447.2 L1320.2,445.2 L1320.8,443.3 L1321.4,441.4 L1322.0,439.4 L1322.5,437.5 L1322.7,435.5 L1322.9,433.5 L1323.0,431.5 L1323.1,429.5 L1323.1,427.4 L1323.2,425.4 L1323.4,423.4 L1323.7,421.3 L1324.4,418.9 L1325.4,418.2 L1327.6,418.3 L1329.8,418.4 L1330.8,419.5 L1331.6,422.1 L1332.3,423.7 L1333.0,422.3 L1333.7,419.7 L1334.7,418.5 L1336.8,418.3 L1339.0,418.2 L1340.1,418.8 L1340.8,421.0 L1341.2,423.3 L1341.5,425.2 L1341.7,427.2 L1341.8,429.3 L1342.0,431.3 L1342.2,433.3 L1342.4,435.3 L1342.7,437.3 L1343.2,439.2 L1343.9,441.1 L1344.5,443.0 L1345.1,445.0 L1345.7,446.9 L1346.1,448.9 L1346.6,450.8 L1347.0,452.8 L1347.3,454.8 L1347.7,456.7 L1348.1,458.7 L1348.5,460.7 L1348.8,462.7 L1349.2,464.7 L1349.5,466.6 L1349.9,468.6 L1350.2,470.6 L1350.5,472.6 L1350.8,474.6 L1351.1,476.6 L1351.5,478.6 L1351.8,480.5 L1352.1,482.5 L1352.4,484.5 L1352.7,486.5 L1352.9,488.5 L1353.2,490.5 L1353.5,492.5 L1353.8,494.5 L1354.1,496.5 L1354.3,498.5 L1354.6,500.5 L1354.9,502.5 L1355.2,504.5 L1355.4,506.4 L1355.7,508.4 L1356.0,510.4 L1356.2,512.4 L1356.5,514.4 L1356.8,516.4 L1357.0,518.4 L1357.3,520.4 L1357.5,522.4 L1357.8,524.4 L1358.1,526.4 L1358.3,528.4 L1358.6,530.4 L1358.9,532.4 L1359.1,534.4 L1359.4,536.4 L1359.7,538.4 L1360.0,540.4 L1360.2,542.4 L1360.5,544.3 L1360.8,546.3 L1361.1,548.3 L1361.4,550.3 L1361.7,552.3 L1362.0,554.3 L1362.3,556.3 L1362.6,558.3 L1362.9,560.3 L1363.2,562.3 L1363.5,564.2 L1363.8,566.2 L1364.1,568.2 L1364.5,570.2 L1364.8,572.2 L1365.1,574.2 L1365.4,576.2 L1365.7,578.1 L1366.1,580.1 L1366.4,582.1 L1366.7,584.1 L1367.0,586.1 L1367.4,588.1 L1367.7,590.1 L1368.0,592.0 L1368.3,594.0 L1368.7,596.0 L1369.0,598.0 L1369.3,600.0 L1369.7,602.0 L1370.0,604.0 L1370.4,605.9 L1370.7,607.9 L1371.0,609.9 L1371.4,611.9 L1371.7,613.9 L1372.0,615.9 L1372.4,617.8 L1372.7,619.8 L1373.1,621.8 L1373.4,623.8 L1373.7,625.8 L1374.1,627.8 L1374.4,629.7 L1374.8,631.7 L1375.1,633.7 L1375.5,635.7 L1375.8,637.7 L1376.1,639.7 L1376.5,641.6 L1376.8,643.6 L1377.2,645.6 L1377.5,647.6 L1377.9,649.6 L1378.2,651.5 L1378.5,653.5 L1378.9,655.5 L1379.2,657.5 L1379.6,659.5 L1379.9,661.5 L1380.3,663.4 L1380.6,665.4 L1381.0,667.4 L1381.3,669.4 L1381.7,671.4 L1382.1,673.3 L1382.4,675.3 L1382.8,677.3 L1383.1,679.3 L1383.5,681.3 L1383.8,683.2 L1384.2,685.2 L1384.5,687.2 L1384.9,689.2 L1385.3,691.2 L1385.6,693.1 L1386.0,695.1 L1386.3,697.1 L1386.7,699.1 L1387.1,701.1 L1387.4,703.0 L1387.8,705.0 L1388.2,707.0" stroke="#000000" stroke-width="2.9"/>
<path d="M1107.5,707.0 L1108.0,705.3 L1108.4,703.6 L1108.9,701.9 L1109.4,700.2 L1109.9,698.5 L1110.4,696.8 L1110.9,695.1 L1111.4,693.4 L1111.9,691.7 L1112.5,690.0 L1113.0,688.4 L1113.6,686.7 L1114.2,685.0 L1114.8,683.4 L1115.4,681.7 L1116.0,680.1 L1116.6,678.4 L1117.2,676.7 L1117.8,675.1 L1118.4,673.4 L1119.0,671.7 L1119.6,670.1 L1120.2,668.4 L1120.7,666.7 L1121.3,665.1 L1121.8,663.4 L1122.4,661.7 L1122.9,660.0 L1123.5,658.3 L1124.0,656.6 L1124.5,654.9 L1124.9,653.1 L1125.3,651.3 L1125.8,649.6 L1126.3,647.9 L1126.9,646.3 L1127.6,644.8 L1128.7,643.4 L1130.2,642.4 L1131.8,641.8 L1133.5,641.3 L1135.3,640.9 L1137.1,640.6 L1138.8,640.3 L1140.4,639.8 L1141.7,638.6 L1143.0,637.1 L1144.2,635.9 L1145.7,635.3 L1147.4,635.0 L1149.2,634.8 L1151.0,634.6 L1152.8,634.5 L1154.6,634.4 L1156.4,634.3 L1158.2,634.2 L1160.0,634.1 L1161.8,634.1 L1163.5,634.0 L1165.3,634.0 L1167.0,634.0 L1168.7,634.2 L1170.4,634.9 L1172.0,635.8 L1173.2,636.9 L1174.1,638.2 L1175.0,639.8 L1175.8,641.4 L1176.6,643.2 L1177.4,644.8 L1178.2,646.4 L1179.1,647.9 L1179.9,649.5 L1180.7,651.1 L1181.4,652.7 L1182.2,654.3 L1182.9,655.9 L1183.6,657.5 L1184.3,659.1 L1185.0,660.8 L1185.7,662.4 L1186.3,664.1 L1186.9,665.7 L1187.5,667.4 L1188.0,669.1 L1188.4,670.8 L1188.9,672.5 L1189.3,674.2 L1189.7,675.9 L1190.1,677.6 L1190.5,679.4 L1190.9,681.1 L1191.3,682.8 L1191.7,684.5 L1192.1,686.3 L1192.5,688.0 L1192.8,689.7 L1193.2,691.4 L1193.6,693.2 L1193.9,694.9 L1194.3,696.6 L1194.7,698.4 L1195.0,700.1 L1195.4,701.8 L1195.8,703.5 L1196.1,705.3 L1196.5,707.0" stroke="#ff0000" stroke-width="3.2"/>
<path d="M1253.0,707.0 L1253.8,705.1 L1254.6,703.3 L1255.4,701.4 L1256.1,699.6 L1256.9,697.7 L1257.7,695.9 L1258.4,694.0 L1259.2,692.1 L1259.9,690.3 L1260.6,688.4 L1261.4,686.5 L1262.1,684.6 L1262.8,682.8 L1263.5,680.9 L1264.2,679.0 L1264.9,677.1 L1265.6,675.2 L1266.3,673.3 L1267.0,671.4 L1267.7,669.5 L1268.3,667.6 L1269.0,665.7 L1269.6,663.8 L1270.2,661.9 L1270.8,660.0 L1271.5,658.1 L1272.1,656.2 L1272.7,654.3 L1273.3,652.3 L1273.9,650.4 L1274.5,648.5 L1275.1,646.6 L1275.7,644.7 L1276.3,642.7 L1276.9,640.8 L1277.5,638.9 L1278.1,637.0 L1278.7,635.1 L1279.3,633.1 L1279.9,631.2 L1280.6,629.3 L1281.2,627.4 L1281.9,625.5 L1282.5,623.6 L1283.2,621.7 L1283.8,619.8 L1284.4,617.9 L1285.0,615.9 L1285.6,614.0 L1286.2,612.1 L1286.8,610.2 L1287.3,608.2 L1287.8,606.3 L1288.3,604.4 L1288.8,602.4 L1289.3,600.5 L1289.8,598.5 L1290.2,596.6 L1290.7,594.6 L1291.1,592.6 L1291.6,590.7 L1292.0,588.7 L1292.4,586.8 L1292.9,584.8 L1293.3,582.8 L1293.7,580.8 L1294.1,578.9 L1294.5,576.9 L1294.9,574.9 L1295.3,572.9 L1295.7,571.0 L1296.1,569.0 L1296.4,567.0 L1296.8,565.0 L1297.2,563.1 L1297.6,561.1 L1297.9,559.1 L1298.3,557.1 L1298.7,555.1 L1299.0,553.2 L1299.4,551.2 L1299.7,549.2 L1300.0,547.2 L1300.4,545.2 L1300.7,543.2 L1301.0,541.3 L1301.4,539.3 L1301.7,537.3 L1302.0,535.3 L1302.3,533.3 L1302.7,531.3 L1303.0,529.4 L1303.3,527.4 L1303.6,525.4 L1304.0,523.4 L1304.3,521.4 L1304.6,519.4 L1304.9,517.4 L1305.3,515.5 L1305.6,513.5 L1305.9,511.5 L1306.3,509.5 L1306.6,507.5 L1306.9,505.5 L1307.2,503.6 L1307.6,501.6 L1307.9,499.6 L1308.3,497.6 L1308.6,495.6 L1309.0,493.6 L1309.3,491.7 L1309.7,489.7 L1310.0,487.7 L1310.4,485.7 L1310.7,483.7 L1311.0,481.7 L1311.3,479.8 L1311.6,477.8 L1311.9,475.8 L1312.2,473.8 L1312.4,471.8 L1312.6,469.8 L1312.8,467.8 L1313.0,465.8 L1313.2,463.8 L1313.4,461.8 L1313.7,459.8 L1314.0,457.8 L1314.3,455.8 L1314.8,453.9 L1315.2,451.9 L1315.7,449.9 L1316.1,448.0 L1316.5,446.0 L1316.9,444.0 L1317.3,442.0 L1317.7,440.1 L1318.1,438.1 L1318.6,436.2 L1319.2,434.2 L1319.8,432.3 L1320.5,430.4 L1321.1,428.5 L1321.6,426.5 L1321.9,424.6 L1322.1,422.6 L1322.3,420.6 L1322.4,418.5 L1322.5,416.5 L1322.7,414.5 L1323.0,412.5 L1323.5,410.2 L1324.3,408.1 L1325.3,407.9 L1326.6,409.2 L1328.1,411.1 L1329.4,412.9 L1330.5,415.1 L1331.5,417.1 L1332.5,417.7 L1333.5,416.4 L1334.5,414.3 L1335.7,412.2 L1337.0,410.4 L1338.5,408.6 L1339.8,407.7 L1340.6,408.7 L1341.3,411.1 L1341.7,413.3 L1341.9,415.3 L1342.1,417.3 L1342.3,419.3 L1342.4,421.3 L1342.6,423.3 L1342.8,425.3 L1343.2,427.3 L1343.7,429.2 L1344.4,431.1 L1345.0,433.0 L1345.7,435.0 L1346.2,436.9 L1346.7,438.9 L1347.1,440.8 L1347.5,442.8 L1347.9,444.8 L1348.3,446.7 L1348.7,448.7 L1349.1,450.7 L1349.6,452.6 L1350.0,454.6 L1350.4,456.6 L1350.8,458.6 L1351.1,460.5 L1351.3,462.5 L1351.5,464.5 L1351.7,466.5 L1351.9,468.5 L1352.1,470.5 L1352.3,472.5 L1352.5,474.5 L1352.8,476.5 L1353.0,478.5 L1353.2,480.5 L1353.5,482.5 L1353.7,484.5 L1353.9,486.5 L1354.2,488.5 L1354.4,490.5 L1354.6,492.5 L1354.9,494.5 L1355.1,496.5 L1355.3,498.5 L1355.6,500.5 L1355.8,502.5 L1356.1,504.5 L1356.3,506.5 L1356.5,508.5 L1356.8,510.5 L1357.0,512.5 L1357.3,514.5 L1357.5,516.5 L1357.8,518.5 L1358.0,520.5 L1358.3,522.5 L1358.5,524.5 L1358.8,526.5 L1359.0,528.5 L1359.3,530.5 L1359.6,532.5 L1359.8,534.5 L1360.1,536.5 L1360.3,538.4 L1360.6,540.4 L1360.9,542.4 L1361.2,544.4 L1361.4,546.4 L1361.7,548.4 L1362.0,550.4 L1362.3,552.4 L1362.5,554.4 L1362.8,556.4 L1363.1,558.4 L1363.4,560.3 L1363.7,562.3 L1364.0,564.3 L1364.3,566.3 L1364.6,568.3 L1364.9,570.3 L1365.2,572.3 L1365.6,574.3 L1365.9,576.2 L1366.2,578.2 L1366.5,580.2 L1366.8,582.2 L1367.2,584.2 L1367.5,586.2 L1367.8,588.2 L1368.2,590.1 L1368.5,592.1 L1368.8,594.1 L1369.2,596.1 L1369.5,598.1 L1369.8,600.1 L1370.2,602.0 L1370.5,604.0 L1370.9,606.0 L1371.2,608.0 L1371.6,610.0 L1371.9,612.0 L1372.3,613.9 L1372.6,615.9 L1372.9,617.9 L1373.3,619.9 L1373.6,621.9 L1374.0,623.8 L1374.3,625.8 L1374.7,627.8 L1375.0,629.8 L1375.4,631.8 L1375.7,633.8 L1376.1,635.7 L1376.4,637.7 L1376.7,639.7 L1377.1,641.7 L1377.4,643.7 L1377.8,645.6 L1378.1,647.6 L1378.5,649.6 L1378.8,651.6 L1379.2,653.6 L1379.5,655.5 L1379.9,657.5 L1380.2,659.5 L1380.6,661.5 L1380.9,663.5 L1381.3,665.4 L1381.6,667.4 L1382.0,669.4 L1382.4,671.4 L1382.7,673.4 L1383.1,675.3 L1383.4,677.3 L1383.8,679.3 L1384.2,681.3 L1384.5,683.3 L1384.9,685.2 L1385.2,687.2 L1385.6,689.2 L1386.0,691.2 L1386.3,693.2 L1386.7,695.1 L1387.1,697.1 L1387.4,699.1 L1387.8,701.1 L1388.2,703.0 L1388.5,705.0 L1388.9,707.0" stroke="#ff0000" stroke-width="3.0"/>
<path d="M1097.0,707.0 L1097.3,705.0 L1097.6,703.0 L1098.0,701.0 L1098.3,699.0 L1098.7,697.1 L1099.1,695.1 L1099.5,693.1 L1099.9,691.2 L1100.4,689.2 L1100.8,687.2 L1101.3,685.3 L1101.8,683.3 L1102.3,681.4 L1102.8,679.5 L1103.3,677.5 L1103.8,675.6 L1104.4,673.7 L1104.9,671.8 L1105.5,669.8 L1106.2,667.9 L1106.8,666.0 L1107.5,664.1 L1108.2,662.3 L1108.9,660.4 L1109.6,658.5 L1110.3,656.6 L1111.0,654.7 L1111.7,652.8 L1112.4,650.9 L1113.2,648.9 L1113.9,647.0 L1114.7,645.2 L1115.6,643.4 L1116.5,641.7 L1117.5,640.0 L1118.6,638.5 L1120.0,637.0 L1121.4,635.6 L1123.0,634.3 L1124.5,632.9 L1126.0,631.5 L1127.4,630.1 L1128.7,628.6 L1130.0,627.0 L1131.3,625.4 L1132.5,623.8 L1133.7,622.2 L1134.7,620.5 L1135.7,618.8 L1136.6,617.0 L1137.4,615.2 L1138.2,613.3 L1138.9,611.5 L1139.7,609.6 L1140.4,607.7 L1141.1,605.8 L1141.9,603.9 L1142.7,602.1 L1143.4,600.2 L1144.2,598.3 L1144.9,596.4 L1145.7,594.6 L1146.5,592.7 L1147.5,591.0 L1148.7,589.0 L1150.0,587.1 L1151.2,586.3 L1152.3,586.8 L1153.4,588.4 L1154.5,590.5 L1155.4,592.8 L1156.2,594.9 L1156.9,596.8 L1157.5,598.7 L1158.1,600.6 L1158.6,602.6 L1159.1,604.5 L1159.7,606.5 L1160.3,608.4 L1160.9,610.3 L1161.5,612.2 L1162.1,614.1 L1162.7,616.1 L1163.3,618.0 L1164.0,619.9 L1164.7,621.7 L1165.4,623.6 L1166.2,625.6 L1167.0,627.7 L1167.8,629.6 L1168.8,631.3 L1170.0,632.5 L1171.6,633.5 L1173.7,634.3 L1175.7,634.5 L1178.0,634.5 L1180.4,634.5 L1182.7,634.5 L1184.4,634.5 L1185.2,634.6 L1185.7,636.0 L1186.1,638.4 L1186.4,641.0 L1186.7,643.1 L1186.9,645.1 L1187.2,647.0 L1187.4,649.0 L1187.7,651.0 L1187.9,653.0 L1188.1,655.0 L1188.3,657.0 L1188.6,659.0 L1188.9,661.0 L1189.2,663.0 L1189.6,665.0 L1190.0,666.9 L1190.3,668.9 L1190.7,670.9 L1191.1,672.8 L1191.5,674.8 L1191.9,676.8 L1192.3,678.8 L1192.6,680.7 L1192.9,682.9 L1193.2,685.0 L1193.4,687.2 L1193.7,689.4 L1194.0,691.4 L1194.4,693.2 L1194.9,694.7 L1195.9,696.0 L1197.8,697.1 L1199.8,697.9 L1201.7,698.5 L1203.6,698.9 L1205.6,699.3 L1207.6,699.6 L1209.6,699.9 L1211.6,700.3 L1213.6,700.8 L1215.6,701.1 L1217.6,701.2 L1219.5,701.1 L1221.5,700.7 L1223.5,700.2 L1225.5,699.5 L1227.3,698.8 L1229.1,698.1 L1230.8,697.1 L1232.6,696.1 L1234.2,694.9 L1235.9,693.6 L1237.4,692.3 L1239.0,690.9 L1240.4,689.6 L1241.9,688.2 L1243.3,686.8 L1244.6,685.3 L1246.0,683.8 L1247.3,682.2 L1248.5,680.6 L1249.7,679.0 L1250.9,677.4 L1252.0,675.7 L1253.1,674.1 L1254.1,672.4 L1255.1,670.6 L1256.1,668.9 L1257.0,667.1 L1257.9,665.3 L1258.8,663.5 L1259.7,661.7 L1260.6,659.9 L1261.4,658.0 L1262.2,656.2 L1263.1,654.3 L1263.9,652.5 L1264.7,650.6 L1265.5,648.8 L1266.3,647.0 L1267.1,645.1 L1267.9,643.3 L1268.7,641.5 L1269.5,639.6 L1270.3,637.7 L1271.0,635.9 L1271.8,634.0 L1272.5,632.1 L1273.2,630.3 L1273.9,628.4 L1274.6,626.5 L1275.3,624.6 L1276.0,622.7 L1276.7,620.8 L1277.3,619.0 L1278.0,617.1 L1278.6,615.2 L1279.3,613.2 L1279.9,611.3 L1280.5,609.4 L1281.1,607.5 L1281.8,605.6 L1282.4,603.7 L1282.9,601.8 L1283.5,599.8 L1284.1,597.9 L1284.7,596.0 L1285.3,594.1 L1285.9,592.2 L1286.5,590.2 L1287.1,588.3 L1287.7,586.4 L1288.3,584.5 L1288.9,582.5 L1289.5,580.6 L1290.1,578.7 L1290.7,576.8 L1291.3,574.8 L1291.8,572.9 L1292.4,571.0 L1292.9,569.0 L1293.4,567.1 L1293.9,565.1 L1294.4,563.2 L1294.8,561.2 L1295.2,559.3 L1295.5,557.3 L1295.9,555.3 L1296.1,553.4 L1296.3,551.4 L1296.5,549.4 L1296.7,547.4 L1297.0,545.4 L1297.2,543.4 L1297.5,541.4 L1297.8,539.4 L1298.1,537.4 L1298.4,535.4 L1298.8,533.5 L1299.1,531.5 L1299.5,529.5 L1299.8,527.5 L1300.2,525.6 L1300.6,523.6 L1300.9,521.6 L1301.3,519.6 L1301.7,517.7 L1302.1,515.7 L1302.4,513.7 L1302.8,511.7 L1303.2,509.8 L1303.5,507.8 L1303.9,505.8 L1304.2,503.8 L1304.5,501.8 L1304.9,499.9 L1305.2,497.9 L1305.6,495.9 L1305.9,493.9 L1306.3,492.0 L1306.6,490.0 L1307.0,488.0 L1307.3,486.0 L1307.6,484.0 L1307.9,482.1 L1308.3,480.1 L1308.6,478.1 L1308.8,476.1 L1309.1,474.1 L1309.4,472.1 L1309.6,470.1 L1309.8,468.1 L1310.0,466.1 L1310.3,464.1 L1310.5,462.1 L1310.7,460.1 L1311.0,458.1 L1311.2,456.2 L1311.5,454.2 L1311.9,452.2 L1312.3,450.2 L1312.8,448.3 L1313.3,446.3 L1313.8,444.4 L1314.2,442.4 L1314.7,440.5 L1315.1,438.5 L1315.6,436.6 L1316.0,434.6 L1316.5,432.7 L1317.0,430.7 L1317.6,428.8 L1318.4,426.9 L1319.1,425.0 L1319.8,423.1 L1320.3,421.2 L1320.7,419.3 L1320.9,417.3 L1321.1,415.3 L1321.2,413.2 L1321.4,411.2 L1321.6,409.2 L1321.9,407.3 L1322.4,404.9 L1323.1,402.8 L1324.0,402.3 L1325.2,403.4 L1326.6,405.2 L1328.0,407.2 L1329.1,409.1 L1330.1,411.4 L1331.1,413.5 L1332.0,414.7 L1333.0,414.4 L1333.9,412.8 L1334.8,410.5 L1335.9,408.3 L1337.1,406.5 L1338.5,404.5 L1339.9,402.8 L1340.9,402.2 L1341.8,403.5 L1342.4,405.9 L1342.8,408.0 L1343.1,410.0 L1343.3,412.0 L1343.4,414.0 L1343.5,416.0 L1343.7,418.0 L1344.0,420.0 L1344.4,421.9 L1345.0,423.8 L1345.7,425.7 L1346.5,427.6 L1347.2,429.5 L1347.7,431.4 L1348.2,433.4 L1348.7,435.3 L1349.1,437.3 L1349.6,439.3 L1350.0,441.2 L1350.5,443.2 L1350.9,445.1 L1351.4,447.1 L1351.9,449.0 L1352.4,451.0 L1352.8,453.0 L1353.1,454.9 L1353.4,456.9 L1353.7,458.9 L1353.9,460.9 L1354.2,462.9 L1354.4,464.9 L1354.6,466.9 L1354.8,468.9 L1355.0,470.9 L1355.3,472.9 L1355.5,474.9 L1355.7,476.9 L1355.9,478.9 L1356.2,480.9 L1356.4,482.8 L1356.6,484.8 L1356.8,486.8 L1357.0,488.8 L1357.2,490.8 L1357.4,492.8 L1357.6,494.8 L1357.8,496.8 L1358.0,498.8 L1358.2,500.8 L1358.4,502.8 L1358.6,504.8 L1358.8,506.8 L1359.0,508.8 L1359.1,510.8 L1359.3,512.8 L1359.5,514.8 L1359.7,516.8 L1359.9,518.8 L1360.1,520.8 L1360.3,522.8 L1360.5,524.8 L1360.7,526.8 L1360.9,528.8 L1361.1,530.8 L1361.3,532.8 L1361.5,534.8 L1361.7,536.8 L1362.0,538.8 L1362.2,540.8 L1362.4,542.8 L1362.6,544.8 L1362.9,546.8 L1363.1,548.8 L1363.4,550.8 L1363.6,552.7 L1363.9,554.7 L1364.1,556.7 L1364.4,558.7 L1364.6,560.7 L1364.9,562.7 L1365.2,564.7 L1365.5,566.7 L1365.8,568.6 L1366.1,570.6 L1366.4,572.6 L1366.7,574.6 L1367.0,576.6 L1367.3,578.6 L1367.7,580.5 L1368.0,582.5 L1368.3,584.5 L1368.7,586.5 L1369.0,588.5 L1369.3,590.4 L1369.7,592.4 L1370.0,594.4 L1370.4,596.4 L1370.7,598.4 L1371.1,600.3 L1371.4,602.3 L1371.8,604.3 L1372.1,606.3 L1372.5,608.2 L1372.8,610.2 L1373.2,612.2 L1373.6,614.2 L1373.9,616.2 L1374.3,618.1 L1374.6,620.1 L1375.0,622.1 L1375.3,624.1 L1375.7,626.0 L1376.1,628.0 L1376.4,630.0 L1376.8,632.0 L1377.1,633.9 L1377.5,635.9 L1377.8,637.9 L1378.2,639.9 L1378.5,641.9 L1378.9,643.8 L1379.2,645.8 L1379.6,647.8 L1379.9,649.8 L1380.3,651.7 L1380.6,653.7 L1381.0,655.7 L1381.4,657.7 L1381.7,659.6 L1382.1,661.6 L1382.4,663.6 L1382.8,665.6 L1383.2,667.5 L1383.5,669.5 L1383.9,671.5 L1384.3,673.5 L1384.6,675.4 L1385.0,677.4 L1385.4,679.4 L1385.7,681.4 L1386.1,683.3 L1386.5,685.3 L1386.8,687.3 L1387.2,689.2 L1387.6,691.2 L1388.0,693.2 L1388.3,695.2 L1388.7,697.1 L1389.1,699.1 L1389.5,701.1 L1389.8,703.1 L1390.2,705.0 L1390.6,707.0" stroke="#0000ff" stroke-width="2.9"/>
<path d="M1094.0,707.0 L1094.5,705.0 L1094.9,703.1 L1095.4,701.1 L1095.9,699.2 L1096.3,697.2 L1096.8,695.3 L1097.3,693.3 L1097.9,691.4 L1098.4,689.5 L1098.9,687.5 L1099.4,685.6 L1100.0,683.7 L1100.5,681.7 L1101.1,679.8 L1101.6,677.9 L1102.2,676.0 L1102.8,674.0 L1103.4,672.1 L1104.0,670.2 L1104.6,668.3 L1105.2,666.4 L1105.8,664.5 L1106.5,662.6 L1107.1,660.7 L1107.8,658.8 L1108.5,656.9 L1109.1,655.0 L1109.8,653.1 L1110.5,651.2 L1111.1,649.3 L1111.8,647.4 L1112.5,645.6 L1113.2,643.7 L1113.9,641.8 L1114.6,639.9 L1115.3,638.0 L1116.1,636.2 L1116.8,634.3 L1117.5,632.4 L1118.3,630.6 L1119.0,628.7 L1119.8,626.8 L1120.5,625.0 L1121.3,623.1 L1122.1,621.3 L1122.9,619.4 L1123.7,617.6 L1124.6,615.8 L1125.5,614.0 L1126.5,612.3 L1127.5,610.6 L1128.5,608.8 L1129.6,607.1 L1130.7,605.4 L1131.8,603.7 L1132.8,602.0 L1133.8,600.3 L1134.8,598.5 L1135.8,596.8 L1136.8,595.0 L1137.8,593.3 L1138.9,591.6 L1140.0,590.0 L1141.2,588.1 L1142.3,586.2 L1143.6,584.6 L1145.0,583.7 L1146.7,583.4 L1148.6,583.1 L1150.7,582.8 L1152.8,582.6 L1155.0,582.5 L1157.0,582.5 L1159.1,582.5 L1161.2,582.5 L1163.3,582.5 L1165.4,582.5 L1167.4,582.5 L1169.2,582.5 L1170.9,582.7 L1172.5,583.9 L1173.9,585.7 L1175.0,587.5 L1175.9,589.2 L1176.7,591.0 L1177.4,592.9 L1178.0,594.8 L1178.6,596.8 L1179.1,598.8 L1179.6,600.8 L1180.1,602.8 L1180.5,604.7 L1180.9,606.7 L1181.3,608.6 L1181.7,610.6 L1182.1,612.6 L1182.4,614.6 L1182.8,616.5 L1183.1,618.5 L1183.4,620.5 L1183.7,622.5 L1184.1,624.5 L1184.3,626.5 L1184.6,628.4 L1184.9,630.4 L1185.2,632.4 L1185.4,634.4 L1185.7,636.4 L1186.0,638.4 L1186.3,640.4 L1186.6,642.4 L1186.9,644.3 L1187.3,646.3 L1187.6,648.3 L1187.9,650.3 L1188.3,652.3 L1188.7,654.3 L1189.1,656.2 L1189.5,658.2 L1190.0,660.1 L1190.6,662.0 L1191.2,663.9 L1191.9,665.8 L1192.7,667.7 L1193.5,669.5 L1194.4,671.3 L1195.3,673.1 L1196.3,674.8 L1197.4,676.6 L1198.6,678.3 L1199.9,679.9 L1201.2,681.3 L1202.7,682.6 L1204.2,683.8 L1205.9,685.0 L1207.7,686.1 L1209.5,687.0 L1211.4,687.7 L1213.3,688.2 L1215.3,688.5 L1217.3,688.8 L1219.3,689.1 L1221.3,689.2 L1223.3,689.2 L1225.3,689.0 L1227.2,688.5 L1229.2,687.8 L1231.1,686.9 L1233.0,686.1 L1234.7,685.2 L1236.3,684.2 L1237.9,683.1 L1239.4,681.8 L1240.9,680.4 L1242.4,678.9 L1243.7,677.3 L1245.0,675.7 L1246.3,674.1 L1247.5,672.5 L1248.7,670.9 L1249.8,669.3 L1250.8,667.6 L1251.9,665.9 L1252.9,664.1 L1253.9,662.4 L1254.9,660.6 L1255.8,658.8 L1256.7,657.0 L1257.6,655.1 L1258.5,653.3 L1259.3,651.5 L1260.2,649.7 L1261.0,647.8 L1261.7,646.0 L1262.5,644.1 L1263.2,642.3 L1264.0,640.4 L1264.7,638.5 L1265.4,636.6 L1266.1,634.8 L1266.8,632.9 L1267.5,631.0 L1268.2,629.1 L1269.0,627.2 L1269.7,625.4 L1270.4,623.5 L1271.2,621.6 L1271.9,619.7 L1272.6,617.8 L1273.3,616.0 L1274.0,614.1 L1274.7,612.2 L1275.3,610.3 L1276.0,608.4 L1276.6,606.5 L1277.2,604.6 L1277.8,602.7 L1278.4,600.7 L1279.0,598.8 L1279.5,596.9 L1280.0,595.0 L1280.5,593.0 L1280.9,591.1 L1281.4,589.1 L1281.8,587.2 L1282.2,585.2 L1282.6,583.3 L1283.0,581.3 L1283.3,579.3 L1283.7,577.3 L1284.0,575.4 L1284.4,573.4 L1284.7,571.4 L1285.1,569.4 L1285.4,567.4 L1285.8,565.5 L1286.2,563.5 L1286.5,561.5 L1286.9,559.5 L1287.3,557.6 L1287.7,555.6 L1288.1,553.6 L1288.5,551.7 L1289.0,549.7 L1289.4,547.7 L1289.8,545.8 L1290.3,543.8 L1290.7,541.9 L1291.1,539.9 L1291.6,537.9 L1292.0,536.0 L1292.4,534.0 L1292.9,532.1 L1293.3,530.1 L1293.8,528.2 L1294.2,526.2 L1294.6,524.2 L1295.1,522.3 L1295.5,520.3 L1296.0,518.4 L1296.4,516.4 L1296.8,514.5 L1297.3,512.5 L1297.7,510.5 L1298.2,508.6 L1298.6,506.6 L1299.1,504.7 L1299.5,502.7 L1300.0,500.8 L1300.5,498.8 L1301.0,496.9 L1301.5,494.9 L1302.0,493.0 L1302.5,491.0 L1303.0,489.1 L1303.4,487.1 L1303.9,485.2 L1304.4,483.2 L1304.8,481.3 L1305.2,479.3 L1305.6,477.3 L1305.9,475.4 L1306.3,473.4 L1306.6,471.4 L1306.9,469.4 L1307.1,467.4 L1307.4,465.5 L1307.6,463.5 L1307.9,461.5 L1308.1,459.5 L1308.4,457.5 L1308.6,455.5 L1308.9,453.5 L1309.1,451.5 L1309.4,449.5 L1309.7,447.5 L1310.0,445.5 L1310.2,443.5 L1310.5,441.6 L1310.8,439.6 L1311.2,437.6 L1311.5,435.6 L1311.8,433.6 L1312.1,431.6 L1312.4,429.7 L1312.7,427.7 L1313.0,425.7 L1313.3,423.7 L1313.6,421.7 L1313.9,419.8 L1314.3,417.8 L1314.6,415.8 L1314.9,413.8 L1315.2,411.8 L1315.5,409.8 L1315.8,407.9 L1316.1,405.9 L1316.4,403.9 L1316.7,401.9 L1317.0,399.9 L1317.4,397.9 L1317.7,396.0 L1318.0,394.0 L1318.3,392.0" stroke="#bc8f8f" stroke-width="2.9"/>
<path d="M1345.5,392.0 L1345.9,394.0 L1346.4,395.9 L1346.8,397.9 L1347.2,399.9 L1347.6,401.9 L1348.0,403.8 L1348.4,405.8 L1348.8,407.8 L1349.2,409.8 L1349.6,411.8 L1350.0,413.7 L1350.3,415.7 L1350.7,417.7 L1351.1,419.7 L1351.4,421.7 L1351.7,423.7 L1352.1,425.7 L1352.4,427.7 L1352.7,429.6 L1353.1,431.6 L1353.4,433.6 L1353.7,435.6 L1354.0,437.6 L1354.3,439.6 L1354.6,441.6 L1354.9,443.6 L1355.2,445.6 L1355.4,447.6 L1355.7,449.6 L1356.0,451.6 L1356.3,453.6 L1356.5,455.6 L1356.8,457.6 L1357.1,459.6 L1357.3,461.6 L1357.6,463.6 L1357.8,465.6 L1358.1,467.6 L1358.3,469.6 L1358.5,471.6 L1358.8,473.6 L1359.0,475.6 L1359.2,477.6 L1359.4,479.6 L1359.5,481.7 L1359.7,483.7 L1359.9,485.7 L1360.1,487.7 L1360.2,489.7 L1360.4,491.7 L1360.6,493.7 L1360.7,495.7 L1360.9,497.7 L1361.0,499.8 L1361.2,501.8 L1361.3,503.8 L1361.4,505.8 L1361.6,507.8 L1361.7,509.8 L1361.9,511.9 L1362.0,513.9 L1362.1,515.9 L1362.3,517.9 L1362.4,519.9 L1362.5,521.9 L1362.7,523.9 L1362.8,526.0 L1363.0,528.0 L1363.1,530.0 L1363.3,532.0 L1363.4,534.0 L1363.6,536.0 L1363.8,538.0 L1363.9,540.0 L1364.1,542.0 L1364.3,544.1 L1364.5,546.1 L1364.7,548.1 L1364.9,550.1 L1365.1,552.1 L1365.3,554.1 L1365.5,556.1 L1365.7,558.1 L1366.0,560.1 L1366.2,562.1 L1366.5,564.1 L1366.8,566.1 L1367.0,568.1 L1367.3,570.1 L1367.6,572.0 L1367.9,574.0 L1368.2,576.0 L1368.5,578.0 L1368.9,580.0 L1369.2,582.0 L1369.5,584.0 L1369.9,586.0 L1370.2,588.0 L1370.6,590.0 L1370.9,592.0 L1371.3,593.9 L1371.6,595.9 L1372.0,597.9 L1372.4,599.9 L1372.7,601.9 L1373.1,603.9 L1373.5,605.9 L1373.9,607.8 L1374.2,609.8 L1374.6,611.8 L1375.0,613.8 L1375.4,615.8 L1375.7,617.8 L1376.1,619.8 L1376.5,621.7 L1376.9,623.7 L1377.2,625.7 L1377.6,627.7 L1378.0,629.7 L1378.3,631.7 L1378.7,633.7 L1379.1,635.6 L1379.4,637.6 L1379.8,639.6 L1380.1,641.6 L1380.5,643.6 L1380.9,645.6 L1381.2,647.6 L1381.6,649.5 L1381.9,651.5 L1382.3,653.5 L1382.7,655.5 L1383.1,657.5 L1383.4,659.5 L1383.8,661.4 L1384.2,663.4 L1384.5,665.4 L1384.9,667.4 L1385.3,669.4 L1385.7,671.4 L1386.0,673.3 L1386.4,675.3 L1386.8,677.3 L1387.2,679.3 L1387.6,681.3 L1388.0,683.2 L1388.3,685.2 L1388.7,687.2 L1389.1,689.2 L1389.5,691.2 L1389.9,693.1 L1390.3,695.1 L1390.7,697.1 L1391.1,699.1 L1391.5,701.1 L1391.8,703.0 L1392.2,705.0 L1392.6,707.0" stroke="#bc8f8f" stroke-width="2.9"/>
<path d="M1094.5,707.0 L1095.0,705.1 L1095.5,703.1 L1096.0,701.2 L1096.5,699.2 L1097.0,697.3 L1097.5,695.3 L1098.0,693.3 L1098.5,691.4 L1099.0,689.4 L1099.4,687.5 L1099.9,685.5 L1100.3,683.6 L1100.8,681.6 L1101.2,679.6 L1101.6,677.7 L1102.1,675.7 L1102.5,673.7 L1102.9,671.8 L1103.3,669.8 L1103.7,667.8 L1104.1,665.9 L1104.5,663.9 L1105.0,661.9 L1105.4,659.9 L1105.8,658.0 L1106.2,656.0 L1106.6,654.0 L1107.0,652.1 L1107.5,650.1 L1107.9,648.1 L1108.3,646.2 L1108.8,644.2 L1109.2,642.2 L1109.7,640.3 L1110.1,638.3 L1110.5,636.3 L1111.0,634.4 L1111.4,632.4 L1111.9,630.5 L1112.3,628.5 L1112.8,626.5 L1113.2,624.6 L1113.7,622.6 L1114.1,620.6 L1114.6,618.7 L1115.1,616.7 L1115.6,614.8 L1116.0,612.8 L1116.5,610.9 L1117.0,608.9 L1117.4,606.9 L1117.9,605.0 L1118.4,603.0 L1118.8,601.0 L1119.3,599.1 L1119.8,597.1 L1120.3,595.2 L1120.8,593.2 L1121.4,591.3 L1121.9,589.4 L1122.5,587.5 L1123.1,585.5 L1123.8,583.4 L1124.4,581.1 L1125.0,578.7 L1125.7,576.2 L1126.4,573.8 L1127.1,571.6 L1127.9,569.6 L1128.8,568.0 L1129.7,566.9 L1130.8,566.3 L1132.0,566.4 L1133.7,567.0 L1135.7,567.9 L1137.7,569.0 L1139.8,569.9 L1141.6,570.7 L1143.5,571.5 L1145.5,572.3 L1147.4,573.1 L1149.3,573.6 L1151.2,573.7 L1153.1,573.4 L1155.0,572.7 L1156.9,571.9 L1158.9,571.3 L1160.9,570.7 L1163.0,570.2 L1164.8,570.0 L1166.4,570.4 L1168.0,571.5 L1169.4,573.2 L1170.8,575.1 L1172.0,576.9 L1173.2,578.5 L1174.4,580.1 L1175.6,581.8 L1176.7,583.5 L1177.8,585.3 L1178.7,587.0 L1179.6,588.9 L1180.2,590.7 L1180.9,592.6 L1181.4,594.5 L1182.0,596.4 L1182.5,598.4 L1182.9,600.4 L1183.3,602.4 L1183.7,604.4 L1184.1,606.4 L1184.4,608.4 L1184.6,610.4 L1184.9,612.4 L1185.1,614.4 L1185.3,616.5 L1185.5,618.5 L1185.7,620.6 L1185.9,622.6 L1186.1,624.6 L1186.4,626.6 L1186.7,628.6 L1187.0,630.5 L1187.5,632.3 L1188.1,634.2 L1189.0,636.0 L1190.2,637.7 L1191.4,639.3 L1192.7,640.8 L1194.2,642.2 L1195.8,643.6 L1197.5,644.8 L1199.3,645.7 L1201.1,646.3 L1203.0,646.8 L1205.0,647.3 L1207.0,647.6 L1209.0,647.9 L1211.0,648.1 L1213.0,648.3 L1215.1,648.5 L1217.1,648.7 L1219.1,648.7 L1221.1,648.7 L1223.1,648.5 L1225.1,648.2 L1227.1,647.7 L1229.1,647.1 L1231.1,646.5 L1233.0,645.8 L1234.8,645.1 L1236.5,644.3 L1238.2,643.4 L1239.9,642.3 L1241.5,641.0 L1243.1,639.7 L1244.6,638.2 L1246.1,636.8 L1247.6,635.3 L1248.9,633.7 L1250.2,632.3 L1251.4,630.8 L1252.6,629.2 L1253.8,627.6 L1255.0,626.0 L1256.1,624.3 L1257.2,622.5 L1258.2,620.8 L1259.3,619.0 L1260.3,617.2 L1261.2,615.4 L1262.2,613.6 L1263.0,611.7 L1263.9,609.9 L1264.7,608.1 L1265.5,606.3 L1266.3,604.4 L1267.0,602.6 L1267.7,600.7 L1268.4,598.8 L1269.1,597.0 L1269.7,595.0 L1270.3,593.1 L1270.9,591.2 L1271.5,589.3 L1272.1,587.3 L1272.7,585.4 L1273.3,583.4 L1273.9,581.5 L1274.5,579.6 L1275.0,577.6 L1275.6,575.7 L1276.3,573.8 L1276.9,571.8 L1277.5,569.9 L1278.2,568.0 L1278.9,566.1 L1279.5,564.2 L1280.2,562.3 L1280.9,560.4 L1281.5,558.5 L1282.2,556.6 L1282.8,554.7 L1283.4,552.8 L1283.9,550.9 L1284.5,548.9 L1285.0,547.0 L1285.5,545.0 L1286.0,543.1 L1286.5,541.1 L1287.0,539.2 L1287.5,537.2 L1287.9,535.3 L1288.4,533.3 L1288.9,531.4 L1289.4,529.4 L1289.8,527.4 L1290.3,525.5 L1290.7,523.5 L1291.2,521.5 L1291.6,519.6 L1292.1,517.6 L1292.5,515.7 L1293.0,513.7 L1293.4,511.7 L1293.9,509.8 L1294.3,507.8 L1294.8,505.9 L1295.3,503.9 L1295.7,501.9 L1296.2,500.0 L1296.7,498.0 L1297.1,496.1 L1297.6,494.1 L1298.1,492.2 L1298.6,490.2 L1299.0,488.2 L1299.5,486.3 L1300.0,484.3 L1300.4,482.4 L1300.9,480.4 L1301.3,478.4 L1301.7,476.5 L1302.1,474.5 L1302.5,472.5 L1302.9,470.5 L1303.3,468.6 L1303.7,466.6 L1304.0,464.6 L1304.4,462.6 L1304.8,460.7 L1305.1,458.7 L1305.5,456.7 L1305.9,454.7 L1306.2,452.7 L1306.6,450.8 L1306.9,448.8 L1307.2,446.8 L1307.6,444.8 L1307.9,442.8 L1308.2,440.8 L1308.6,438.8 L1308.9,436.9 L1309.2,434.9 L1309.5,432.9 L1309.9,430.9 L1310.2,428.9 L1310.5,426.9 L1310.8,424.9 L1311.0,422.9 L1311.3,420.9 L1311.5,418.9 L1311.8,416.9 L1312.0,414.9 L1312.3,412.9 L1312.5,410.9 L1312.8,408.9 L1313.0,406.9 L1313.3,404.9 L1313.5,402.9 L1313.8,400.9 L1314.1,398.9 L1314.4,396.9 L1314.7,394.9 L1315.1,393.0 L1315.4,391.0 L1315.8,389.0 L1316.2,387.1 L1316.7,385.1 L1317.2,383.2 L1317.8,381.3 L1318.4,379.3 L1319.0,377.4 L1319.7,375.5 L1320.3,373.6 L1320.9,371.7 L1321.6,369.8 L1322.3,367.9 L1323.0,366.0" stroke="#9400d3" stroke-width="2.9"/>
<path d="M1343.0,366.0 L1343.5,368.0 L1344.0,369.9 L1344.5,371.9 L1345.0,373.8 L1345.5,375.8 L1345.9,377.8 L1346.4,379.7 L1346.8,381.7 L1347.3,383.7 L1347.7,385.6 L1348.1,387.6 L1348.5,389.6 L1348.9,391.6 L1349.3,393.6 L1349.7,395.5 L1350.1,397.5 L1350.4,399.5 L1350.8,401.5 L1351.2,403.5 L1351.5,405.5 L1351.9,407.5 L1352.2,409.5 L1352.5,411.5 L1352.9,413.4 L1353.2,415.4 L1353.6,417.4 L1353.9,419.4 L1354.2,421.4 L1354.6,423.4 L1354.9,425.4 L1355.2,427.4 L1355.6,429.4 L1355.9,431.4 L1356.2,433.4 L1356.5,435.4 L1356.9,437.4 L1357.2,439.4 L1357.5,441.3 L1357.8,443.3 L1358.1,445.3 L1358.4,447.3 L1358.7,449.3 L1359.0,451.3 L1359.3,453.3 L1359.6,455.3 L1360.0,457.3 L1360.3,459.3 L1360.6,461.3 L1360.9,463.3 L1361.2,465.3 L1361.4,467.3 L1361.7,469.3 L1361.9,471.3 L1362.1,473.3 L1362.3,475.3 L1362.5,477.3 L1362.7,479.4 L1362.8,481.4 L1363.0,483.4 L1363.1,485.4 L1363.2,487.4 L1363.4,489.4 L1363.5,491.4 L1363.6,493.5 L1363.7,495.5 L1363.8,497.5 L1363.9,499.5 L1364.0,501.5 L1364.1,503.6 L1364.2,505.6 L1364.3,507.6 L1364.4,509.6 L1364.5,511.7 L1364.6,513.7 L1364.6,515.7 L1364.7,517.7 L1364.8,519.7 L1364.9,521.8 L1365.0,523.8 L1365.1,525.8 L1365.2,527.8 L1365.3,529.8 L1365.4,531.9 L1365.5,533.9 L1365.6,535.9 L1365.7,537.9 L1365.8,539.9 L1365.9,541.9 L1366.1,544.0 L1366.2,546.0 L1366.3,548.0 L1366.5,550.0 L1366.6,552.0 L1366.8,554.0 L1367.0,556.0 L1367.2,558.0 L1367.4,560.0 L1367.6,562.0 L1367.8,564.0 L1368.1,566.0 L1368.3,568.0 L1368.6,570.0 L1368.9,572.0 L1369.1,574.0 L1369.4,576.0 L1369.8,578.0 L1370.1,580.0 L1370.4,582.0 L1370.8,584.0 L1371.1,586.0 L1371.5,587.9 L1371.8,589.9 L1372.2,591.9 L1372.6,593.9 L1372.9,595.9 L1373.3,597.9 L1373.7,599.9 L1374.1,601.9 L1374.5,603.9 L1374.9,605.8 L1375.3,607.8 L1375.7,609.8 L1376.1,611.8 L1376.5,613.8 L1376.9,615.8 L1377.3,617.8 L1377.7,619.7 L1378.0,621.7 L1378.4,623.7 L1378.8,625.7 L1379.2,627.7 L1379.6,629.7 L1380.0,631.7 L1380.3,633.6 L1380.7,635.6 L1381.1,637.6 L1381.4,639.6 L1381.8,641.6 L1382.2,643.6 L1382.5,645.6 L1382.9,647.6 L1383.3,649.5 L1383.7,651.5 L1384.0,653.5 L1384.4,655.5 L1384.8,657.5 L1385.2,659.5 L1385.5,661.4 L1385.9,663.4 L1386.3,665.4 L1386.7,667.4 L1387.1,669.4 L1387.5,671.4 L1387.9,673.3 L1388.3,675.3 L1388.6,677.3 L1389.0,679.3 L1389.4,681.3 L1389.8,683.2 L1390.2,685.2 L1390.6,687.2 L1391.0,689.2 L1391.4,691.2 L1391.8,693.1 L1392.2,695.1 L1392.6,697.1 L1393.0,699.1 L1393.4,701.1 L1393.8,703.0 L1394.3,705.0 L1394.7,707.0" stroke="#9400d3" stroke-width="2.9"/>
<path d="M1092.5,707.0 L1093.0,705.0 L1093.4,703.1 L1093.9,701.1 L1094.3,699.2 L1094.8,697.2 L1095.2,695.2 L1095.6,693.3 L1096.1,691.3 L1096.5,689.4 L1097.0,687.4 L1097.4,685.4 L1097.8,683.5 L1098.3,681.5 L1098.7,679.6 L1099.1,677.6 L1099.5,675.6 L1099.9,673.7 L1100.4,671.7 L1100.8,669.7 L1101.2,667.8 L1101.6,665.8 L1102.0,663.8 L1102.4,661.9 L1102.8,659.9 L1103.3,657.9 L1103.7,656.0 L1104.1,654.0 L1104.5,652.0 L1105.0,650.1 L1105.4,648.1 L1105.9,646.1 L1106.3,644.2 L1106.8,642.2 L1107.2,640.3 L1107.7,638.3 L1108.1,636.3 L1108.6,634.4 L1109.0,632.4 L1109.5,630.5 L1109.9,628.5 L1110.4,626.6 L1110.9,624.6 L1111.3,622.7 L1111.8,620.7 L1112.2,618.7 L1112.7,616.8 L1113.2,614.8 L1113.7,612.9 L1114.1,610.9 L1114.6,609.0 L1115.0,607.0 L1115.5,605.0 L1115.9,603.1 L1116.4,601.1 L1116.8,599.1 L1117.3,597.2 L1117.7,595.2 L1118.2,593.3 L1118.7,591.3 L1119.2,589.4 L1119.8,587.4 L1120.3,585.5 L1120.9,583.6 L1121.5,581.7 L1122.1,579.7 L1122.8,577.8 L1123.5,575.8 L1124.2,573.8 L1125.0,572.0 L1125.8,570.2 L1126.8,568.5 L1127.9,567.0 L1129.3,565.3 L1130.9,563.8 L1132.6,562.7 L1134.3,562.5 L1136.1,563.1 L1137.9,564.1 L1139.8,565.2 L1141.6,566.3 L1143.4,567.3 L1145.2,568.5 L1147.0,569.7 L1148.8,570.7 L1150.6,571.2 L1152.3,571.0 L1154.1,570.0 L1155.8,568.7 L1157.6,567.7 L1159.5,566.9 L1161.5,566.4 L1163.3,566.3 L1165.3,566.8 L1167.2,567.8 L1169.0,569.1 L1170.7,570.5 L1172.0,571.9 L1173.1,573.3 L1174.0,575.0 L1174.8,576.8 L1175.5,578.8 L1176.2,580.8 L1176.8,582.8 L1177.4,584.8 L1178.0,586.7 L1178.5,588.6 L1179.0,590.6 L1179.5,592.5 L1180.0,594.5 L1180.4,596.5 L1180.8,598.4 L1181.3,600.4 L1181.8,602.4 L1182.3,604.3 L1182.9,606.2 L1183.4,608.2 L1184.0,610.1 L1184.5,612.1 L1185.2,614.0 L1185.8,615.9 L1186.5,617.8 L1187.3,619.6 L1188.2,621.4 L1189.2,623.2 L1190.4,624.9 L1191.6,626.6 L1192.9,628.1 L1194.3,629.5 L1195.8,630.6 L1197.5,631.6 L1199.4,632.5 L1201.3,633.4 L1203.2,634.0 L1205.2,634.5 L1207.1,635.0 L1209.1,635.3 L1211.1,635.7 L1213.1,636.0 L1215.1,636.2 L1217.1,636.2 L1219.1,636.2 L1221.1,636.0 L1223.2,635.6 L1225.2,635.2 L1227.1,634.6 L1229.0,634.1 L1230.8,633.4 L1232.6,632.6 L1234.3,631.6 L1236.0,630.5 L1237.7,629.2 L1239.3,627.9 L1240.8,626.5 L1242.3,625.2 L1243.8,623.8 L1245.2,622.4 L1246.6,621.0 L1247.9,619.4 L1249.2,617.9 L1250.5,616.3 L1251.8,614.7 L1252.9,613.0 L1254.1,611.4 L1255.2,609.7 L1256.2,608.1 L1257.3,606.4 L1258.3,604.6 L1259.3,602.9 L1260.3,601.1 L1261.3,599.3 L1262.2,597.5 L1263.1,595.7 L1263.9,593.8 L1264.8,592.0 L1265.6,590.1 L1266.3,588.3 L1267.0,586.4 L1267.7,584.5 L1268.3,582.6 L1268.8,580.7 L1269.4,578.8 L1269.9,576.9 L1270.4,574.9 L1270.8,572.9 L1271.3,571.0 L1271.7,569.0 L1272.2,567.0 L1272.6,565.1 L1273.1,563.1 L1273.5,561.1 L1274.0,559.2 L1274.6,557.2 L1275.1,555.3 L1275.7,553.4 L1276.4,551.5 L1277.1,549.6 L1277.8,547.7 L1278.4,545.8 L1279.0,543.9 L1279.6,542.0 L1280.2,540.1 L1280.8,538.1 L1281.4,536.2 L1282.0,534.3 L1282.5,532.4 L1283.1,530.4 L1283.6,528.5 L1284.1,526.6 L1284.7,524.6 L1285.2,522.7 L1285.7,520.7 L1286.3,518.8 L1286.8,516.9 L1287.3,514.9 L1287.8,513.0 L1288.4,511.0 L1288.9,509.1 L1289.4,507.1 L1289.9,505.2 L1290.5,503.3 L1291.0,501.3 L1291.6,499.4 L1292.1,497.5 L1292.7,495.5 L1293.2,493.6 L1293.7,491.6 L1294.3,489.7 L1294.8,487.8 L1295.3,485.8 L1295.8,483.9 L1296.3,481.9 L1296.8,480.0 L1297.3,478.0 L1297.8,476.1 L1298.2,474.1 L1298.6,472.2 L1299.0,470.2 L1299.4,468.2 L1299.9,466.3 L1300.2,464.3 L1300.6,462.3 L1301.0,460.4 L1301.4,458.4 L1301.8,456.4 L1302.1,454.4 L1302.5,452.5 L1302.9,450.5 L1303.2,448.5 L1303.6,446.5 L1303.9,444.5 L1304.3,442.6 L1304.6,440.6 L1304.9,438.6 L1305.3,436.6 L1305.6,434.6 L1306.0,432.6 L1306.3,430.7 L1306.7,428.7 L1307.0,426.7 L1307.3,424.7 L1307.7,422.7 L1308.0,420.8 L1308.3,418.8 L1308.6,416.8 L1308.9,414.8 L1309.2,412.8 L1309.5,410.8 L1309.8,408.8 L1310.1,406.8 L1310.4,404.8 L1310.7,402.8 L1311.0,400.8 L1311.4,398.9 L1311.7,396.9 L1312.0,394.9 L1312.4,392.9 L1312.7,390.9 L1313.1,389.0 L1313.6,387.0 L1314.0,385.1 L1314.5,383.1 L1315.0,381.2 L1315.6,379.3 L1316.3,377.4 L1316.9,375.4 L1317.4,373.5 L1318.0,371.6 L1318.6,369.7 L1319.2,367.8 L1319.8,365.8 L1320.4,363.9 L1321.0,362.0" stroke="#ff00ff" stroke-width="3.0"/>
<path d="M1344.0,360.0 L1344.5,362.0 L1345.0,363.9 L1345.4,365.9 L1345.9,367.9 L1346.3,369.8 L1346.8,371.8 L1347.2,373.8 L1347.7,375.7 L1348.1,377.7 L1348.5,379.7 L1348.9,381.7 L1349.3,383.7 L1349.7,385.6 L1350.1,387.6 L1350.5,389.6 L1350.9,391.6 L1351.3,393.6 L1351.7,395.5 L1352.0,397.5 L1352.4,399.5 L1352.8,401.5 L1353.1,403.5 L1353.5,405.5 L1353.8,407.5 L1354.2,409.5 L1354.5,411.5 L1354.9,413.4 L1355.2,415.4 L1355.6,417.4 L1355.9,419.4 L1356.2,421.4 L1356.6,423.4 L1356.9,425.4 L1357.2,427.4 L1357.6,429.4 L1357.9,431.4 L1358.2,433.4 L1358.5,435.4 L1358.8,437.4 L1359.1,439.4 L1359.5,441.4 L1359.8,443.4 L1360.1,445.4 L1360.4,447.4 L1360.7,449.4 L1361.0,451.3 L1361.4,453.3 L1361.7,455.3 L1362.1,457.3 L1362.4,459.3 L1362.8,461.3 L1363.1,463.3 L1363.4,465.3 L1363.7,467.3 L1364.0,469.3 L1364.2,471.3 L1364.5,473.3 L1364.6,475.3 L1364.8,477.3 L1364.9,479.3 L1365.1,481.4 L1365.2,483.4 L1365.3,485.4 L1365.4,487.4 L1365.5,489.4 L1365.6,491.4 L1365.7,493.4 L1365.8,495.5 L1365.9,497.5 L1366.0,499.5 L1366.1,501.5 L1366.1,503.6 L1366.2,505.6 L1366.3,507.6 L1366.4,509.6 L1366.4,511.7 L1366.5,513.7 L1366.6,515.7 L1366.6,517.7 L1366.7,519.8 L1366.8,521.8 L1366.8,523.8 L1366.9,525.8 L1367.0,527.8 L1367.0,529.9 L1367.1,531.9 L1367.2,533.9 L1367.3,535.9 L1367.4,537.9 L1367.5,540.0 L1367.6,542.0 L1367.7,544.0 L1367.8,546.0 L1367.9,548.0 L1368.0,550.0 L1368.2,552.0 L1368.3,554.0 L1368.5,556.1 L1368.6,558.1 L1368.8,560.1 L1369.0,562.1 L1369.2,564.1 L1369.5,566.1 L1369.7,568.1 L1370.0,570.1 L1370.2,572.1 L1370.5,574.1 L1370.8,576.0 L1371.1,578.0 L1371.5,580.0 L1371.8,582.0 L1372.1,584.0 L1372.5,586.0 L1372.9,588.0 L1373.2,590.0 L1373.6,592.0 L1374.0,594.0 L1374.4,596.0 L1374.8,597.9 L1375.1,599.9 L1375.5,601.9 L1376.0,603.9 L1376.4,605.9 L1376.8,607.9 L1377.2,609.9 L1377.6,611.9 L1378.0,613.8 L1378.4,615.8 L1378.8,617.8 L1379.2,619.8 L1379.6,621.8 L1380.0,623.8 L1380.4,625.8 L1380.8,627.7 L1381.2,629.7 L1381.6,631.7 L1382.0,633.7 L1382.3,635.7 L1382.7,637.7 L1383.1,639.7 L1383.5,641.6 L1383.8,643.6 L1384.2,645.6 L1384.6,647.6 L1385.0,649.6 L1385.4,651.6 L1385.8,653.5 L1386.1,655.5 L1386.5,657.5 L1386.9,659.5 L1387.3,661.5 L1387.7,663.5 L1388.1,665.4 L1388.5,667.4 L1388.9,669.4 L1389.3,671.4 L1389.7,673.4 L1390.1,675.3 L1390.5,677.3 L1390.9,679.3 L1391.3,681.3 L1391.7,683.3 L1392.1,685.2 L1392.5,687.2 L1392.9,689.2 L1393.3,691.2 L1393.8,693.2 L1394.2,695.1 L1394.6,697.1 L1395.0,699.1 L1395.4,701.1 L1395.9,703.0 L1396.3,705.0 L1396.7,707.0" stroke="#ff00ff" stroke-width="3.0"/>
<path d="M1088.5,707.0 L1088.9,705.0 L1089.3,703.1 L1089.7,701.1 L1090.1,699.1 L1090.4,697.1 L1090.8,695.2 L1091.2,693.2 L1091.6,691.2 L1092.0,689.2 L1092.4,687.3 L1092.8,685.3 L1093.3,683.3 L1093.7,681.4 L1094.1,679.4 L1094.5,677.4 L1094.9,675.5 L1095.3,673.5 L1095.7,671.5 L1096.2,669.6 L1096.6,667.6 L1097.0,665.6 L1097.4,663.7 L1097.9,661.7 L1098.3,659.7 L1098.8,657.8 L1099.2,655.8 L1099.6,653.9 L1100.1,651.9 L1100.5,649.9 L1101.0,648.0 L1101.4,646.0 L1101.8,644.1 L1102.3,642.1 L1102.7,640.1 L1103.2,638.2 L1103.6,636.2 L1104.1,634.2 L1104.5,632.3 L1104.9,630.3 L1105.4,628.4 L1105.8,626.4 L1106.2,624.4 L1106.7,622.5 L1107.1,620.5 L1107.6,618.5 L1108.0,616.6 L1108.5,614.6 L1108.9,612.7 L1109.3,610.7 L1109.8,608.7 L1110.2,606.8 L1110.7,604.8 L1111.1,602.8 L1111.6,600.9 L1112.0,598.9 L1112.4,597.0 L1112.9,595.0 L1113.3,593.0 L1113.7,591.1 L1114.1,589.1 L1114.5,587.1 L1115.0,585.2 L1115.4,583.2 L1115.8,581.2 L1116.2,579.3 L1116.6,577.3 L1117.0,575.3 L1117.3,573.3 L1117.7,571.4 L1118.1,569.4 L1118.5,567.4 L1118.9,565.4 L1119.3,563.5 L1119.7,561.5 L1120.1,559.5 L1120.5,557.6 L1120.9,555.6 L1121.3,553.6 L1121.7,551.6 L1122.1,549.7 L1122.5,547.7 L1122.9,545.7 L1123.3,543.7 L1123.8,541.8 L1124.2,539.8 L1124.7,537.8 L1125.2,535.9 L1125.7,534.0 L1126.2,532.1 L1126.8,530.1 L1127.5,528.2 L1128.1,526.3 L1128.9,524.3 L1129.7,522.5 L1130.5,520.7 L1131.5,519.0 L1132.6,517.2 L1133.9,515.2 L1135.3,513.7 L1136.9,513.0 L1138.8,513.1 L1140.9,513.5 L1142.6,514.3 L1144.2,515.6 L1145.9,516.9 L1147.5,518.2 L1149.2,519.5 L1151.0,520.4 L1152.7,520.3 L1154.4,519.2 L1156.2,518.0 L1158.0,516.9 L1159.8,515.8 L1161.6,515.6 L1163.7,516.4 L1164.9,517.5 L1165.7,519.1 L1166.2,521.1 L1166.7,523.3 L1167.2,525.5 L1167.6,527.5 L1168.0,529.4 L1168.4,531.4 L1168.8,533.4 L1169.2,535.4 L1169.5,537.3 L1169.9,539.3 L1170.2,541.3 L1170.6,543.3 L1170.9,545.3 L1171.3,547.3 L1171.7,549.2 L1172.1,551.2 L1172.5,553.2 L1172.9,555.1 L1173.3,557.1 L1173.7,559.1 L1174.2,561.0 L1174.6,563.0 L1175.0,565.0 L1175.4,567.0 L1175.8,569.0 L1176.1,571.0 L1176.5,573.0 L1176.8,575.0 L1177.3,577.0 L1177.7,578.9 L1178.2,580.8 L1178.8,582.7 L1179.5,584.5 L1180.5,586.3 L1181.5,588.1 L1182.7,589.8 L1184.0,591.4 L1185.3,592.8 L1186.8,594.0 L1188.4,595.2 L1190.2,596.2 L1192.0,597.2 L1193.8,598.2 L1195.6,599.1 L1197.4,599.9 L1199.3,600.8 L1201.2,601.6 L1203.0,602.3 L1204.9,603.0 L1206.8,603.6 L1208.8,604.1 L1210.7,604.6 L1212.7,605.2 L1214.7,605.6 L1216.7,606.0 L1218.7,606.2 L1220.6,606.2 L1222.6,606.0 L1224.6,605.6 L1226.6,605.0 L1228.5,604.2 L1230.4,603.4 L1232.2,602.6 L1233.9,601.8 L1235.6,600.8 L1237.3,599.6 L1238.9,598.3 L1240.5,597.0 L1242.0,595.5 L1243.4,594.1 L1244.8,592.7 L1246.2,591.2 L1247.5,589.7 L1248.8,588.2 L1250.0,586.6 L1251.2,585.0 L1252.4,583.3 L1253.6,581.6 L1254.6,579.9 L1255.7,578.2 L1256.7,576.4 L1257.7,574.7 L1258.6,572.9 L1259.4,571.1 L1260.2,569.3 L1261.0,567.4 L1261.8,565.6 L1262.5,563.7 L1263.2,561.8 L1264.0,559.9 L1264.7,558.0 L1265.5,556.2 L1266.3,554.3 L1267.2,552.5 L1268.0,550.7 L1268.9,548.9 L1269.8,547.0 L1270.5,545.2 L1271.2,543.3 L1271.9,541.4 L1272.6,539.5 L1273.2,537.6 L1273.8,535.7 L1274.5,533.8 L1275.0,531.9 L1275.6,530.0 L1276.2,528.0 L1276.8,526.1 L1277.3,524.2 L1277.9,522.2 L1278.5,520.3 L1279.0,518.4 L1279.6,516.4 L1280.2,514.5 L1280.7,512.6 L1281.3,510.6 L1281.9,508.7 L1282.5,506.8 L1283.0,504.9 L1283.6,502.9 L1284.2,501.0 L1284.7,499.1 L1285.3,497.1 L1285.9,495.2 L1286.4,493.3 L1287.0,491.3 L1287.5,489.4 L1288.0,487.5 L1288.6,485.5 L1289.1,483.6 L1289.6,481.6 L1290.1,479.7 L1290.6,477.7 L1291.1,475.8 L1291.6,473.8 L1292.1,471.9 L1292.5,469.9 L1293.0,468.0 L1293.4,466.0 L1293.9,464.1 L1294.3,462.1 L1294.8,460.1 L1295.2,458.2 L1295.6,456.2 L1296.1,454.2 L1296.5,452.3 L1296.9,450.3 L1297.3,448.3 L1297.7,446.4 L1298.1,444.4 L1298.5,442.4 L1298.9,440.4 L1299.3,438.5 L1299.7,436.5 L1300.1,434.5 L1300.5,432.6 L1300.9,430.6 L1301.2,428.6 L1301.6,426.6 L1301.9,424.6 L1302.3,422.7 L1302.6,420.7 L1303.0,418.7 L1303.3,416.7 L1303.6,414.7 L1304.0,412.7 L1304.3,410.8 L1304.6,408.8 L1305.0,406.8 L1305.3,404.8 L1305.7,402.8 L1306.0,400.8 L1306.3,398.9 L1306.7,396.9 L1307.1,394.9 L1307.4,392.9 L1307.8,391.0 L1308.2,389.0 L1308.6,387.0 L1309.0,385.0 L1309.4,383.1 L1309.8,381.1 L1310.3,379.1 L1310.7,377.2 L1311.2,375.2 L1311.6,373.3 L1312.1,371.3 L1312.6,369.4 L1313.2,367.4 L1313.7,365.5 L1314.3,363.6 L1315.0,361.7 L1315.6,359.8 L1316.3,357.9 L1317.0,356.0" stroke="#6418bf" stroke-width="2.9"/>
<path d="M1346.0,354.0 L1346.5,356.0 L1346.9,357.9 L1347.4,359.9 L1347.8,361.9 L1348.3,363.9 L1348.7,365.8 L1349.1,367.8 L1349.5,369.8 L1349.9,371.8 L1350.4,373.7 L1350.8,375.7 L1351.2,377.7 L1351.6,379.7 L1352.0,381.7 L1352.3,383.6 L1352.7,385.6 L1353.1,387.6 L1353.4,389.6 L1353.8,391.6 L1354.1,393.6 L1354.4,395.6 L1354.7,397.6 L1355.0,399.6 L1355.3,401.6 L1355.6,403.6 L1355.9,405.6 L1356.2,407.6 L1356.5,409.6 L1356.8,411.6 L1357.1,413.6 L1357.4,415.6 L1357.7,417.6 L1357.9,419.6 L1358.2,421.6 L1358.5,423.6 L1358.8,425.6 L1359.1,427.6 L1359.4,429.6 L1359.7,431.6 L1360.0,433.6 L1360.3,435.6 L1360.5,437.6 L1360.8,439.6 L1361.1,441.6 L1361.4,443.6 L1361.7,445.6 L1361.9,447.6 L1362.2,449.6 L1362.5,451.6 L1362.8,453.6 L1363.1,455.6 L1363.4,457.6 L1363.7,459.6 L1364.0,461.6 L1364.3,463.6 L1364.5,465.6 L1364.8,467.6 L1365.1,469.6 L1365.3,471.6 L1365.5,473.6 L1365.7,475.6 L1365.9,477.7 L1366.1,479.7 L1366.3,481.7 L1366.5,483.7 L1366.7,485.7 L1366.9,487.7 L1367.0,489.7 L1367.2,491.8 L1367.3,493.8 L1367.5,495.8 L1367.6,497.8 L1367.8,499.8 L1367.9,501.8 L1368.0,503.9 L1368.2,505.9 L1368.3,507.9 L1368.4,509.9 L1368.6,511.9 L1368.7,514.0 L1368.8,516.0 L1368.9,518.0 L1369.1,520.0 L1369.2,522.0 L1369.3,524.1 L1369.5,526.1 L1369.6,528.1 L1369.8,530.1 L1369.9,532.1 L1370.0,534.1 L1370.2,536.2 L1370.4,538.2 L1370.5,540.2 L1370.7,542.2 L1370.9,544.2 L1371.0,546.2 L1371.2,548.2 L1371.4,550.2 L1371.6,552.2 L1371.8,554.2 L1372.1,556.2 L1372.3,558.3 L1372.5,560.3 L1372.8,562.3 L1373.0,564.3 L1373.3,566.2 L1373.6,568.2 L1373.9,570.2 L1374.2,572.2 L1374.5,574.2 L1374.8,576.2 L1375.1,578.2 L1375.5,580.2 L1375.8,582.2 L1376.2,584.2 L1376.5,586.2 L1376.9,588.2 L1377.2,590.2 L1377.6,592.2 L1378.0,594.2 L1378.4,596.1 L1378.7,598.1 L1379.1,600.1 L1379.5,602.1 L1379.9,604.1 L1380.3,606.1 L1380.7,608.1 L1381.1,610.1 L1381.5,612.0 L1381.9,614.0 L1382.3,616.0 L1382.7,618.0 L1383.1,620.0 L1383.5,622.0 L1383.9,623.9 L1384.3,625.9 L1384.7,627.9 L1385.1,629.9 L1385.5,631.9 L1385.9,633.9 L1386.3,635.8 L1386.6,637.8 L1387.0,639.8 L1387.4,641.8 L1387.8,643.8 L1388.2,645.8 L1388.6,647.7 L1389.0,649.7 L1389.4,651.7 L1389.8,653.7 L1390.2,655.7 L1390.6,657.6 L1391.1,659.6 L1391.5,661.6 L1391.9,663.6 L1392.3,665.6 L1392.7,667.5 L1393.1,669.5 L1393.6,671.5 L1394.0,673.5 L1394.4,675.4 L1394.8,677.4 L1395.3,679.4 L1395.7,681.4 L1396.1,683.3 L1396.6,685.3 L1397.0,687.3 L1397.5,689.3 L1397.9,691.2 L1398.3,693.2 L1398.8,695.2 L1399.2,697.1 L1399.7,699.1 L1400.1,701.1 L1400.6,703.1 L1401.0,705.0 L1401.5,707.0" stroke="#6418bf" stroke-width="2.9"/>
<path d="M1086.2,707.0 L1086.6,705.0 L1087.0,703.0 L1087.4,701.1 L1087.7,699.1 L1088.1,697.1 L1088.5,695.1 L1088.9,693.2 L1089.2,691.2 L1089.6,689.2 L1090.0,687.2 L1090.4,685.3 L1090.8,683.3 L1091.2,681.3 L1091.6,679.3 L1092.0,677.4 L1092.4,675.4 L1092.8,673.4 L1093.2,671.4 L1093.7,669.5 L1094.1,667.5 L1094.5,665.5 L1094.9,663.6 L1095.4,661.6 L1095.8,659.6 L1096.2,657.7 L1096.7,655.7 L1097.1,653.8 L1097.6,651.8 L1098.0,649.8 L1098.5,647.9 L1098.9,645.9 L1099.4,643.9 L1099.8,642.0 L1100.2,640.0 L1100.7,638.1 L1101.1,636.1 L1101.6,634.1 L1102.0,632.2 L1102.5,630.2 L1102.9,628.2 L1103.3,626.3 L1103.8,624.3 L1104.2,622.3 L1104.6,620.4 L1105.1,618.4 L1105.5,616.4 L1105.9,614.5 L1106.4,612.5 L1106.8,610.5 L1107.2,608.6 L1107.7,606.6 L1108.1,604.6 L1108.5,602.7 L1109.0,600.7 L1109.4,598.7 L1109.8,596.8 L1110.3,594.8 L1110.7,592.9 L1111.2,590.9 L1111.6,588.9 L1112.1,587.0 L1112.5,585.0 L1112.9,583.0 L1113.4,581.1 L1113.8,579.1 L1114.3,577.1 L1114.7,575.2 L1115.1,573.2 L1115.6,571.2 L1116.0,569.3 L1116.5,567.3 L1116.9,565.4 L1117.3,563.4 L1117.8,561.4 L1118.2,559.5 L1118.7,557.5 L1119.2,555.5 L1119.6,553.6 L1120.1,551.6 L1120.6,549.7 L1121.0,547.7 L1121.5,545.8 L1122.0,543.8 L1122.5,541.9 L1123.0,539.9 L1123.5,538.0 L1124.1,536.0 L1124.6,534.1 L1125.1,532.1 L1125.7,530.2 L1126.3,528.3 L1126.9,526.3 L1127.5,524.4 L1128.2,522.5 L1128.9,520.6 L1129.6,518.6 L1130.4,516.7 L1131.3,514.9 L1132.3,513.3 L1133.5,511.7 L1135.1,510.1 L1136.8,509.2 L1138.7,509.3 L1140.8,509.6 L1142.5,510.3 L1144.0,511.6 L1145.6,513.1 L1147.1,514.6 L1148.7,516.2 L1150.3,517.6 L1151.8,518.0 L1153.3,517.0 L1154.7,515.2 L1156.2,513.6 L1157.8,512.1 L1159.5,511.1 L1161.4,511.2 L1163.4,511.8 L1164.9,512.7 L1166.1,514.4 L1167.2,516.3 L1168.0,518.1 L1168.8,519.9 L1169.6,521.8 L1170.3,523.7 L1170.9,525.7 L1171.5,527.6 L1172.0,529.6 L1172.4,531.6 L1172.8,533.5 L1173.1,535.5 L1173.3,537.5 L1173.6,539.5 L1173.8,541.5 L1174.0,543.6 L1174.2,545.6 L1174.5,547.6 L1174.9,549.5 L1175.3,551.4 L1175.9,553.4 L1176.6,555.4 L1177.3,557.3 L1178.2,559.1 L1179.1,560.9 L1180.1,562.6 L1181.1,564.2 L1182.4,565.8 L1183.8,567.3 L1185.3,568.8 L1186.8,570.2 L1188.4,571.4 L1190.0,572.5 L1191.7,573.5 L1193.5,574.5 L1195.3,575.5 L1197.2,576.4 L1199.1,577.2 L1201.0,577.8 L1203.0,578.4 L1204.9,578.7 L1206.9,579.0 L1208.9,579.3 L1210.9,579.5 L1212.9,579.7 L1215.0,579.8 L1217.0,579.9 L1219.0,580.0 L1220.9,580.0 L1222.9,579.7 L1224.9,579.3 L1226.9,578.7 L1228.8,577.9 L1230.7,577.1 L1232.6,576.2 L1234.3,575.3 L1236.1,574.4 L1237.8,573.4 L1239.5,572.3 L1241.1,571.0 L1242.7,569.7 L1244.2,568.3 L1245.7,566.9 L1247.1,565.5 L1248.4,564.0 L1249.6,562.5 L1250.8,560.9 L1252.0,559.2 L1253.1,557.5 L1254.1,555.8 L1255.2,554.0 L1256.2,552.2 L1257.2,550.5 L1258.2,548.7 L1259.1,547.0 L1260.1,545.2 L1260.9,543.4 L1261.8,541.5 L1262.6,539.7 L1263.4,537.9 L1264.2,536.0 L1265.0,534.1 L1265.7,532.3 L1266.5,530.4 L1267.2,528.5 L1267.9,526.6 L1268.6,524.7 L1269.3,522.9 L1270.0,521.0 L1270.7,519.1 L1271.4,517.2 L1272.1,515.3 L1272.8,513.4 L1273.5,511.5 L1274.2,509.6 L1274.9,507.8 L1275.6,505.9 L1276.3,504.0 L1276.9,502.1 L1277.6,500.2 L1278.2,498.3 L1278.9,496.4 L1279.5,494.4 L1280.2,492.5 L1280.8,490.6 L1281.4,488.7 L1282.0,486.8 L1282.6,484.9 L1283.2,482.9 L1283.8,481.0 L1284.3,479.1 L1284.9,477.1 L1285.4,475.2 L1286.0,473.3 L1286.5,471.3 L1287.0,469.4 L1287.5,467.4 L1288.1,465.5 L1288.6,463.5 L1289.0,461.6 L1289.5,459.6 L1290.0,457.7 L1290.5,455.7 L1291.0,453.8 L1291.5,451.8 L1291.9,449.9 L1292.4,447.9 L1292.9,445.9 L1293.4,444.0 L1293.9,442.0 L1294.3,440.1 L1294.8,438.1 L1295.3,436.2 L1295.7,434.2 L1296.2,432.2 L1296.7,430.3 L1297.1,428.3 L1297.6,426.4 L1298.0,424.4 L1298.5,422.4 L1298.9,420.5 L1299.4,418.5 L1299.8,416.5 L1300.2,414.6 L1300.6,412.6 L1301.0,410.6 L1301.4,408.7 L1301.8,406.7 L1302.2,404.7 L1302.6,402.7 L1303.0,400.8 L1303.3,398.8 L1303.7,396.8 L1304.1,394.8 L1304.5,392.9 L1304.8,390.9 L1305.2,388.9 L1305.6,386.9 L1306.0,385.0 L1306.4,383.0 L1306.8,381.0 L1307.2,379.0 L1307.7,377.1 L1308.1,375.1 L1308.5,373.1 L1309.0,371.2 L1309.4,369.2 L1309.8,367.2 L1310.2,365.3 L1310.7,363.3 L1311.1,361.3 L1311.6,359.4 L1312.2,357.5 L1312.7,355.5 L1313.3,353.6 L1313.9,351.7 L1314.6,349.8 L1315.3,347.9 L1316.0,346.0" stroke="#40e0d0" stroke-width="2.9"/>
<path d="M1347.0,348.0 L1347.3,350.0 L1347.6,352.0 L1347.9,354.0 L1348.2,356.0 L1348.5,358.0 L1348.8,360.0 L1349.1,362.0 L1349.4,364.0 L1349.6,366.0 L1349.9,368.0 L1350.1,370.0 L1350.4,372.0 L1350.6,374.0 L1350.8,376.0 L1351.1,378.0 L1351.3,380.0 L1351.6,382.0 L1351.9,384.0 L1352.1,386.0 L1352.4,388.0 L1352.7,390.0 L1353.0,391.9 L1353.4,393.9 L1353.7,395.9 L1354.0,397.9 L1354.4,399.9 L1354.7,401.9 L1355.1,403.9 L1355.4,405.9 L1355.7,407.9 L1356.1,409.8 L1356.4,411.8 L1356.8,413.8 L1357.1,415.8 L1357.5,417.8 L1357.8,419.8 L1358.2,421.8 L1358.5,423.7 L1358.9,425.7 L1359.3,427.7 L1359.6,429.7 L1360.0,431.7 L1360.4,433.7 L1360.7,435.6 L1361.1,437.6 L1361.5,439.6 L1361.8,441.6 L1362.2,443.6 L1362.6,445.6 L1362.9,447.5 L1363.3,449.5 L1363.7,451.5 L1364.0,453.5 L1364.4,455.5 L1364.8,457.5 L1365.2,459.4 L1365.5,461.4 L1365.9,463.4 L1366.3,465.4 L1366.7,467.4 L1367.0,469.4 L1367.4,471.3 L1367.7,473.3 L1368.1,475.3 L1368.4,477.3 L1368.7,479.3 L1369.0,481.3 L1369.3,483.3 L1369.6,485.3 L1369.9,487.3 L1370.2,489.3 L1370.5,491.3 L1370.8,493.2 L1371.1,495.2 L1371.4,497.2 L1371.6,499.2 L1371.9,501.2 L1372.2,503.2 L1372.5,505.2 L1372.7,507.2 L1373.0,509.2 L1373.3,511.2 L1373.5,513.2 L1373.8,515.2 L1374.1,517.2 L1374.3,519.2 L1374.6,521.2 L1374.9,523.2 L1375.2,525.2 L1375.4,527.2 L1375.7,529.2 L1376.0,531.2 L1376.2,533.2 L1376.5,535.2 L1376.8,537.2 L1377.1,539.2 L1377.4,541.2 L1377.7,543.2 L1378.0,545.2 L1378.3,547.2 L1378.6,549.2 L1378.9,551.2 L1379.2,553.2 L1379.5,555.2 L1379.9,557.1 L1380.2,559.1 L1380.5,561.1 L1380.8,563.1 L1381.2,565.1 L1381.5,567.1 L1381.8,569.1 L1382.2,571.1 L1382.5,573.1 L1382.9,575.0 L1383.2,577.0 L1383.6,579.0 L1383.9,581.0 L1384.3,583.0 L1384.6,585.0 L1385.0,587.0 L1385.3,588.9 L1385.7,590.9 L1386.1,592.9 L1386.4,594.9 L1386.8,596.9 L1387.2,598.9 L1387.6,600.9 L1387.9,602.8 L1388.3,604.8 L1388.7,606.8 L1389.1,608.8 L1389.5,610.8 L1389.9,612.7 L1390.3,614.7 L1390.6,616.7 L1391.0,618.7 L1391.4,620.6 L1391.8,622.6 L1392.2,624.6 L1392.6,626.6 L1393.1,628.5 L1393.5,630.5 L1393.9,632.5 L1394.3,634.5 L1394.7,636.4 L1395.1,638.4 L1395.5,640.4 L1396.0,642.3 L1396.4,644.3 L1396.8,646.3 L1397.3,648.3 L1397.7,650.2 L1398.2,652.2 L1398.6,654.2 L1399.1,656.1 L1399.5,658.1 L1400.0,660.0 L1400.4,662.0 L1400.9,664.0 L1401.4,665.9 L1401.8,667.9 L1402.3,669.9 L1402.8,671.8 L1403.3,673.8 L1403.7,675.7 L1404.2,677.7 L1404.7,679.6 L1405.2,681.6 L1405.7,683.6 L1406.2,685.5 L1406.7,687.5 L1407.2,689.4 L1407.7,691.4 L1408.2,693.3 L1408.7,695.3 L1409.2,697.2 L1409.7,699.2 L1410.2,701.1 L1410.8,703.1 L1411.3,705.1 L1411.8,707.0" stroke="#40e0d0" stroke-width="2.9"/>
<path d="M1080.2,707.0 L1080.6,705.0 L1081.0,703.1 L1081.4,701.1 L1081.8,699.1 L1082.2,697.2 L1082.6,695.2 L1083.0,693.2 L1083.4,691.2 L1083.8,689.3 L1084.2,687.3 L1084.6,685.3 L1085.0,683.4 L1085.4,681.4 L1085.9,679.5 L1086.3,677.5 L1086.7,675.5 L1087.1,673.6 L1087.5,671.6 L1088.0,669.6 L1088.4,667.7 L1088.8,665.7 L1089.3,663.8 L1089.7,661.8 L1090.2,659.8 L1090.6,657.9 L1091.1,655.9 L1091.5,654.0 L1092.0,652.0 L1092.5,650.1 L1092.9,648.1 L1093.4,646.2 L1093.9,644.2 L1094.3,642.3 L1094.8,640.3 L1095.3,638.3 L1095.7,636.4 L1096.2,634.4 L1096.7,632.5 L1097.1,630.5 L1097.6,628.6 L1098.0,626.6 L1098.5,624.7 L1099.0,622.7 L1099.4,620.8 L1099.8,618.8 L1100.3,616.8 L1100.7,614.9 L1101.2,612.9 L1101.6,611.0 L1102.0,609.0 L1102.5,607.0 L1102.9,605.1 L1103.3,603.1 L1103.8,601.1 L1104.2,599.2 L1104.6,597.2 L1105.0,595.3 L1105.5,593.3 L1105.9,591.3 L1106.3,589.4 L1106.8,587.4 L1107.2,585.5 L1107.6,583.5 L1108.1,581.5 L1108.5,579.6 L1109.0,577.6 L1109.4,575.7 L1109.9,573.7 L1110.3,571.7 L1110.7,569.8 L1111.2,567.8 L1111.6,565.9 L1112.1,563.9 L1112.5,561.9 L1112.9,560.0 L1113.4,558.0 L1113.8,556.1 L1114.3,554.1 L1114.7,552.1 L1115.2,550.2 L1115.7,548.2 L1116.2,546.3 L1116.6,544.3 L1117.1,542.4 L1117.6,540.5 L1118.1,538.5 L1118.6,536.5 L1119.1,534.6 L1119.6,532.6 L1120.2,530.7 L1120.8,528.8 L1121.5,526.9 L1122.4,525.2 L1123.5,523.5 L1124.6,521.7 L1125.5,520.0 L1126.2,518.1 L1126.8,516.3 L1127.3,514.3 L1127.9,512.4 L1128.3,510.5 L1128.8,508.5 L1129.2,506.5 L1129.6,504.5 L1130.1,502.5 L1130.5,500.6 L1130.9,498.6 L1131.4,496.6 L1131.9,494.7 L1132.4,492.7 L1132.9,490.8 L1133.4,488.8 L1133.9,486.9 L1134.4,484.9 L1134.9,483.0 L1135.4,481.0 L1135.9,479.1 L1136.4,477.1 L1137.0,475.2 L1137.5,473.3 L1138.1,471.4 L1138.7,469.4 L1139.3,467.5 L1139.9,465.6 L1140.6,463.7 L1141.3,461.8 L1142.0,460.0 L1142.7,458.1 L1143.4,456.2 L1144.1,454.3 L1144.8,452.4 L1145.5,450.6 L1146.3,448.7 L1147.1,446.8 L1148.0,445.1 L1149.1,443.0 L1150.3,441.7 L1151.5,442.7 L1152.6,444.9 L1153.5,446.7 L1154.3,448.5 L1155.1,450.4 L1155.8,452.3 L1156.4,454.2 L1157.0,456.1 L1157.6,458.0 L1158.2,460.0 L1158.7,461.9 L1159.2,463.8 L1159.7,465.8 L1160.2,467.7 L1160.7,469.7 L1161.2,471.7 L1161.6,473.6 L1162.0,475.6 L1162.5,477.5 L1162.9,479.5 L1163.3,481.5 L1163.7,483.4 L1164.0,485.4 L1164.3,487.4 L1164.6,489.4 L1164.9,491.4 L1165.2,493.4 L1165.5,495.4 L1165.9,497.3 L1166.3,499.3 L1166.7,501.3 L1167.2,503.2 L1167.8,505.2 L1168.4,507.1 L1169.2,508.9 L1170.1,510.7 L1171.2,512.5 L1172.4,514.1 L1173.8,515.4 L1175.4,516.7 L1177.2,517.8 L1179.0,518.5 L1180.9,519.0 L1182.8,519.4 L1184.9,519.8 L1186.9,520.1 L1188.9,520.3 L1190.9,520.5 L1192.9,520.7 L1194.9,520.7 L1196.9,520.7 L1198.9,520.6 L1200.9,520.5 L1202.9,520.3 L1204.9,520.1 L1206.9,519.9 L1208.9,519.6 L1210.9,519.4 L1212.9,519.1 L1214.9,518.8 L1216.9,518.4 L1218.9,518.0 L1220.9,517.6 L1222.8,517.1 L1224.7,516.6 L1226.6,516.0 L1228.4,515.2 L1230.2,514.4 L1232.1,513.4 L1233.8,512.4 L1235.6,511.3 L1237.3,510.2 L1238.9,509.0 L1240.5,507.9 L1242.1,506.7 L1243.6,505.4 L1245.1,504.0 L1246.5,502.6 L1247.9,501.1 L1249.3,499.6 L1250.6,498.0 L1251.9,496.5 L1253.1,494.9 L1254.2,493.3 L1255.3,491.6 L1256.3,489.9 L1257.3,488.1 L1258.3,486.4 L1259.3,484.6 L1260.3,482.9 L1261.4,481.1 L1262.5,479.5 L1263.8,477.9 L1265.0,476.3 L1266.2,474.7 L1267.2,473.0 L1268.2,471.3 L1269.1,469.5 L1270.0,467.7 L1270.8,465.8 L1271.6,464.0 L1272.4,462.1 L1273.2,460.3 L1274.0,458.4 L1274.8,456.5 L1275.5,454.7 L1276.3,452.8 L1277.0,451.0 L1277.8,449.1 L1278.5,447.2 L1279.2,445.3 L1279.9,443.5 L1280.6,441.6 L1281.3,439.7 L1282.0,437.8 L1282.6,435.9 L1283.3,434.0 L1284.0,432.1 L1284.7,430.2 L1285.4,428.3 L1286.0,426.4 L1286.7,424.6 L1287.4,422.7 L1288.1,420.8 L1288.7,418.9 L1289.4,417.0 L1290.0,415.1 L1290.7,413.2 L1291.3,411.3 L1292.0,409.4 L1292.6,407.5 L1293.2,405.5 L1293.8,403.6 L1294.4,401.7 L1295.0,399.8 L1295.7,397.9 L1296.2,396.0 L1296.8,394.0 L1297.4,392.1 L1297.9,390.2 L1298.5,388.2 L1299.0,386.3 L1299.5,384.4 L1299.9,382.4 L1300.3,380.4 L1300.7,378.5 L1301.1,376.5 L1301.5,374.5 L1301.9,372.6 L1302.3,370.6 L1302.8,368.6 L1303.2,366.7 L1303.7,364.7 L1304.2,362.8 L1304.7,360.8 L1305.1,358.9 L1305.7,356.9 L1306.2,355.0 L1306.7,353.1 L1307.3,351.1 L1307.8,349.2 L1308.5,347.3 L1309.1,345.4 L1309.7,343.5 L1310.3,341.6 L1310.9,339.7 L1311.5,337.7 L1312.0,335.8 L1312.5,333.8 L1313.0,331.9 L1313.5,330.0 L1314.0,328.0" stroke="#000000" stroke-width="2.9"/>
<path d="M1351.0,333.0 L1352.0,334.8 L1352.9,336.7 L1353.6,338.5 L1354.1,340.4 L1354.4,342.4 L1354.7,344.3 L1354.9,346.3 L1355.1,348.3 L1355.3,350.4 L1355.5,352.4 L1355.6,354.4 L1355.7,356.5 L1355.9,358.5 L1356.0,360.5 L1356.2,362.5 L1356.3,364.5 L1356.4,366.5 L1356.5,368.5 L1356.6,370.6 L1356.7,372.6 L1356.8,374.6 L1356.9,376.6 L1357.0,378.6 L1357.2,380.6 L1357.3,382.6 L1357.5,384.6 L1357.7,386.6 L1357.9,388.6 L1358.2,390.6 L1358.4,392.6 L1358.8,394.6 L1359.1,396.6 L1359.5,398.6 L1359.8,400.6 L1360.2,402.5 L1360.6,404.5 L1361.0,406.5 L1361.4,408.5 L1361.7,410.5 L1362.1,412.5 L1362.4,414.4 L1362.8,416.4 L1363.1,418.4 L1363.5,420.4 L1363.8,422.4 L1364.2,424.4 L1364.5,426.4 L1364.8,428.3 L1365.2,430.3 L1365.5,432.3 L1365.8,434.3 L1366.2,436.3 L1366.4,438.3 L1366.7,440.3 L1367.0,442.3 L1367.2,444.3 L1367.5,446.3 L1367.7,448.3 L1367.9,450.3 L1368.1,452.3 L1368.3,454.3 L1368.5,456.3 L1368.6,458.3 L1368.8,460.3 L1369.0,462.4 L1369.2,464.4 L1369.4,466.4 L1369.6,468.4 L1369.8,470.4 L1370.1,472.4 L1370.3,474.4 L1370.6,476.3 L1370.9,478.3 L1371.2,480.3 L1371.5,482.3 L1371.9,484.3 L1372.2,486.2 L1372.6,488.2 L1373.0,490.2 L1373.4,492.2 L1373.8,494.1 L1374.2,496.1 L1374.7,498.1 L1375.1,500.0 L1375.6,502.0 L1376.0,503.9 L1376.5,505.9 L1377.0,507.9 L1377.5,509.8 L1377.9,511.8 L1378.4,513.7 L1378.9,515.7 L1379.4,517.7 L1380.0,519.6 L1380.5,521.6 L1381.0,523.5 L1381.5,525.5 L1382.0,527.4 L1382.5,529.4 L1383.0,531.3 L1383.5,533.3 L1384.0,535.3 L1384.5,537.2 L1385.0,539.2 L1385.5,541.1 L1386.0,543.1 L1386.4,545.1 L1386.9,547.0 L1387.4,549.0 L1387.8,551.0 L1388.3,552.9 L1388.7,554.9 L1389.1,556.9 L1389.5,558.8 L1389.9,560.8 L1390.3,562.8 L1390.8,564.8 L1391.2,566.7 L1391.6,568.7 L1392.0,570.7 L1392.4,572.6 L1392.8,574.6 L1393.2,576.6 L1393.6,578.6 L1394.0,580.5 L1394.4,582.5 L1394.7,584.5 L1395.1,586.5 L1395.5,588.5 L1395.9,590.4 L1396.3,592.4 L1396.7,594.4 L1397.1,596.4 L1397.5,598.3 L1397.9,600.3 L1398.2,602.3 L1398.6,604.3 L1399.0,606.3 L1399.4,608.2 L1399.8,610.2 L1400.2,612.2 L1400.6,614.2 L1401.0,616.1 L1401.3,618.1 L1401.7,620.1 L1402.1,622.1 L1402.5,624.1 L1402.9,626.0 L1403.3,628.0 L1403.7,630.0 L1404.1,632.0 L1404.5,633.9 L1404.9,635.9 L1405.3,637.9 L1405.7,639.9 L1406.1,641.8 L1406.5,643.8 L1406.9,645.8 L1407.3,647.8 L1407.7,649.7 L1408.1,651.7 L1408.5,653.7 L1408.9,655.7 L1409.3,657.6 L1409.7,659.6 L1410.1,661.6 L1410.5,663.6 L1410.9,665.5 L1411.3,667.5 L1411.7,669.5 L1412.1,671.5 L1412.5,673.4 L1412.9,675.4 L1413.3,677.4 L1413.7,679.4 L1414.1,681.3 L1414.5,683.3 L1414.9,685.3 L1415.3,687.3 L1415.7,689.2 L1416.1,691.2 L1416.5,693.2 L1416.9,695.2 L1417.3,697.1 L1417.7,699.1 L1418.1,701.1 L1418.5,703.1 L1418.9,705.0 L1419.3,707.0" stroke="#000000" stroke-width="2.9"/>
<path d="M1080.0,707.0 L1080.4,705.0 L1080.8,703.0 L1081.2,701.1 L1081.6,699.1 L1082.0,697.1 L1082.4,695.1 L1082.8,693.1 L1083.2,691.2 L1083.6,689.2 L1084.0,687.2 L1084.4,685.2 L1084.8,683.3 L1085.3,681.3 L1085.7,679.3 L1086.1,677.3 L1086.5,675.4 L1087.0,673.4 L1087.4,671.4 L1087.8,669.5 L1088.3,667.5 L1088.7,665.5 L1089.1,663.5 L1089.6,661.6 L1090.0,659.6 L1090.5,657.6 L1090.9,655.7 L1091.4,653.7 L1091.9,651.7 L1092.3,649.8 L1092.8,647.8 L1093.3,645.9 L1093.7,643.9 L1094.2,641.9 L1094.7,640.0 L1095.1,638.0 L1095.6,636.0 L1096.1,634.1 L1096.6,632.1 L1097.0,630.1 L1097.5,628.2 L1097.9,626.2 L1098.4,624.3 L1098.8,622.3 L1099.3,620.3 L1099.7,618.3 L1100.2,616.4 L1100.6,614.4 L1101.1,612.4 L1101.5,610.5 L1101.9,608.5 L1102.4,606.5 L1102.8,604.6 L1103.2,602.6 L1103.7,600.6 L1104.1,598.6 L1104.5,596.7 L1105.0,594.7 L1105.4,592.7 L1105.8,590.8 L1106.3,588.8 L1106.7,586.8 L1107.1,584.8 L1107.6,582.9 L1108.0,580.9 L1108.5,578.9 L1108.9,577.0 L1109.4,575.0 L1109.8,573.0 L1110.3,571.1 L1110.7,569.1 L1111.2,567.1 L1111.6,565.2 L1112.1,563.2 L1112.5,561.2 L1113.0,559.3 L1113.4,557.3 L1113.9,555.3 L1114.3,553.4 L1114.8,551.4 L1115.3,549.4 L1115.7,547.5 L1116.2,545.5 L1116.7,543.5 L1117.1,541.6 L1117.6,539.6 L1118.1,537.6 L1118.6,535.7 L1119.0,533.7 L1119.5,531.8 L1120.0,529.8 L1120.5,527.9 L1121.0,525.9 L1121.5,523.9 L1121.9,522.0 L1122.4,520.0 L1122.8,518.0 L1123.3,516.1 L1123.7,514.1 L1124.1,512.1 L1124.6,510.2 L1125.0,508.2 L1125.4,506.2 L1125.8,504.2 L1126.2,502.2 L1126.6,500.3 L1127.1,498.3 L1127.5,496.3 L1127.9,494.3 L1128.3,492.4 L1128.7,490.4 L1129.2,488.4 L1129.6,486.5 L1130.1,484.5 L1130.5,482.5 L1131.0,480.6 L1131.4,478.6 L1131.9,476.6 L1132.4,474.7 L1132.8,472.7 L1133.3,470.7 L1133.8,468.8 L1134.3,466.8 L1134.8,464.9 L1135.3,462.9 L1135.8,460.9 L1136.3,459.0 L1136.8,457.0 L1137.2,455.0 L1137.7,453.0 L1138.2,451.1 L1138.8,449.1 L1139.4,447.2 L1140.1,445.3 L1140.8,443.5 L1141.7,441.6 L1142.8,439.9 L1144.2,438.6 L1146.0,437.6" stroke="#000000" stroke-width="2.2"/>
<path d="M1151.9,441.6 L1153.3,440.1 L1154.7,438.6 L1156.2,437.4 L1157.9,436.0 L1159.6,434.8 L1161.4,434.0 L1163.3,433.7 L1165.4,433.4 L1167.4,433.2 L1169.4,433.3 L1171.4,433.8 L1173.3,434.6 L1175.2,435.4 L1177.0,436.2 L1178.7,437.2 L1180.5,438.2 L1182.2,439.4 L1183.9,440.5 L1185.6,441.7 L1187.3,442.8 L1189.0,443.8 L1190.7,444.9 L1192.4,446.0 L1194.1,447.1 L1195.9,448.1 L1197.6,449.2 L1199.3,450.3 L1201.1,451.3 L1202.8,452.3 L1204.6,453.3 L1206.3,454.3 L1208.1,455.3 L1209.9,456.2 L1211.7,457.1 L1213.6,458.0 L1215.5,458.9 L1217.3,459.7 L1219.2,460.3 L1221.2,460.7 L1223.2,461.1 L1225.2,461.3 L1227.2,461.6 L1229.3,461.8 L1231.3,461.9 L1233.3,461.9 L1235.3,461.8 L1237.3,461.5 L1239.3,460.9 L1241.3,460.2 L1243.2,459.4 L1245.0,458.6 L1246.8,457.8 L1248.5,456.8 L1250.2,455.7 L1251.9,454.4 L1253.5,453.1 L1255.0,451.7 L1256.5,450.2 L1257.9,448.8 L1259.2,447.3 L1260.5,445.8 L1261.7,444.2 L1262.8,442.5 L1264.0,440.8 L1265.1,439.0 L1266.1,437.3 L1267.1,435.5 L1268.1,433.7 L1269.1,431.9 L1270.0,430.1 L1270.9,428.3 L1271.7,426.5 L1272.6,424.7 L1273.4,422.8 L1274.2,420.9 L1275.0,419.1 L1275.8,417.2 L1276.5,415.3 L1277.3,413.4 L1278.1,411.5 L1278.8,409.6 L1279.6,407.8 L1280.3,405.9 L1281.0,404.0 L1281.7,402.1 L1282.4,400.2 L1283.1,398.3 L1283.8,396.4 L1284.5,394.5 L1285.2,392.6 L1285.9,390.7 L1286.6,388.8 L1287.3,386.9 L1288.0,385.0 L1288.8,383.1 L1289.5,381.2 L1290.2,379.2 L1290.8,377.3 L1291.5,375.4 L1292.1,373.5 L1292.6,371.5 L1293.2,369.6 L1293.7,367.6 L1294.2,365.7 L1294.7,363.7 L1295.1,361.7 L1295.6,359.8 L1296.0,357.8 L1296.5,355.8 L1296.9,353.8 L1297.4,351.8 L1297.8,349.8 L1298.3,347.9 L1298.8,345.9 L1299.2,343.9 L1299.8,342.0 L1300.3,340.0 L1300.8,338.1 L1301.4,336.2 L1302.1,334.2 L1302.8,332.3 L1303.5,330.4 L1304.2,328.5 L1304.9,326.6 L1305.6,324.7 L1306.3,322.8 L1306.9,320.9 L1307.5,319.0 L1308.1,317.0 L1308.7,315.1 L1309.3,313.1 L1309.9,311.2" stroke="#000000" stroke-width="2.4"/>
<path d="M1351.5,332.6 L1351.8,334.6 L1352.2,336.6 L1352.5,338.6 L1352.9,340.6 L1353.3,342.5 L1353.8,344.5 L1354.3,346.5 L1354.8,348.4 L1355.3,350.4 L1355.9,352.3 L1356.5,354.2 L1357.1,356.2 L1357.7,358.1 L1358.2,360.0 L1358.8,362.0 L1359.4,363.9 L1360.0,365.8 L1360.6,367.8 L1361.2,369.7 L1361.8,371.6 L1362.3,373.6 L1362.7,375.6 L1363.2,377.5 L1363.6,379.5 L1364.0,381.5 L1364.4,383.5 L1364.7,385.5 L1365.1,387.5 L1365.4,389.4 L1365.8,391.4 L1366.1,393.4 L1366.4,395.4 L1366.7,397.4 L1366.9,399.4 L1367.1,401.5 L1367.4,403.5 L1367.6,405.5 L1367.8,407.5 L1368.1,409.5 L1368.4,411.5 L1368.8,413.5 L1369.1,415.4 L1369.5,417.4 L1369.8,419.4 L1370.2,421.4 L1370.6,423.4 L1371.0,425.4 L1371.4,427.4 L1371.7,429.3 L1372.1,431.3 L1372.5,433.3 L1372.9,435.3 L1373.2,437.3 L1373.6,439.3 L1373.9,441.3 L1374.3,443.3 L1374.6,445.3 L1374.9,447.3 L1375.3,449.2 L1375.6,451.2 L1375.9,453.2 L1376.3,455.2 L1376.6,457.2 L1376.9,459.2 L1377.3,461.2 L1377.6,463.2 L1377.9,465.2 L1378.3,467.2 L1378.6,469.2 L1378.9,471.2 L1379.3,473.2 L1379.6,475.1 L1380.0,477.1 L1380.3,479.1 L1380.6,481.1 L1381.0,483.1 L1381.3,485.1 L1381.6,487.1 L1382.0,489.1 L1382.3,491.1 L1382.6,493.1 L1383.0,495.1 L1383.3,497.1 L1383.6,499.1 L1384.0,501.0 L1384.3,503.0 L1384.7,505.0 L1385.0,507.0 L1385.3,509.0 L1385.7,511.0 L1386.0,513.0 L1386.3,515.0 L1386.7,517.0 L1387.0,519.0 L1387.3,521.0 L1387.7,523.0 L1388.0,525.0 L1388.4,526.9 L1388.7,528.9 L1389.0,530.9 L1389.4,532.9 L1389.7,534.9 L1390.1,536.9 L1390.4,538.9 L1390.8,540.9 L1391.1,542.9 L1391.5,544.9 L1391.8,546.9 L1392.2,548.8 L1392.5,550.8 L1392.9,552.8 L1393.3,554.8 L1393.6,556.8 L1394.0,558.8 L1394.4,560.8 L1394.7,562.8 L1395.1,564.7 L1395.5,566.7 L1395.8,568.7 L1396.2,570.7 L1396.6,572.7 L1397.0,574.7 L1397.4,576.6 L1397.8,578.6 L1398.1,580.6 L1398.5,582.6 L1398.9,584.6 L1399.3,586.6 L1399.7,588.5 L1400.1,590.5 L1400.5,592.5 L1400.9,594.5 L1401.3,596.5 L1401.7,598.4 L1402.1,600.4 L1402.5,602.4 L1402.9,604.4 L1403.3,606.4 L1403.7,608.4 L1404.1,610.3 L1404.4,612.3 L1404.8,614.3 L1405.2,616.3 L1405.6,618.3 L1406.0,620.2 L1406.4,622.2 L1406.8,624.2 L1407.2,626.2 L1407.6,628.2 L1408.0,630.2 L1408.3,632.1 L1408.7,634.1 L1409.1,636.1 L1409.5,638.1 L1409.9,640.1 L1410.2,642.1 L1410.6,644.0 L1411.0,646.0 L1411.4,648.0 L1411.7,650.0 L1412.1,652.0 L1412.5,654.0 L1412.9,656.0 L1413.2,657.9 L1413.6,659.9 L1414.0,661.9 L1414.4,663.9 L1414.7,665.9 L1415.1,667.9 L1415.5,669.9 L1415.9,671.8 L1416.2,673.8 L1416.6,675.8 L1417.0,677.8 L1417.3,679.8 L1417.7,681.8 L1418.1,683.8 L1418.5,685.7 L1418.8,687.7 L1419.2,689.7 L1419.6,691.7 L1419.9,693.7 L1420.3,695.7 L1420.7,697.7 L1421.0,699.7 L1421.4,701.6 L1421.8,703.6 L1422.1,705.6 L1422.5,707.6" stroke="#000000" stroke-width="2.4"/>
<path d="M1081.2,707.0 L1081.6,705.0 L1082.0,703.1 L1082.4,701.1 L1082.8,699.1 L1083.2,697.1 L1083.6,695.2 L1084.0,693.2 L1084.4,691.2 L1084.8,689.2 L1085.2,687.3 L1085.6,685.3 L1086.0,683.3 L1086.5,681.4 L1086.9,679.4 L1087.3,677.4 L1087.7,675.5 L1088.1,673.5 L1088.6,671.5 L1089.0,669.6 L1089.4,667.6 L1089.9,665.6 L1090.3,663.7 L1090.7,661.7 L1091.2,659.8 L1091.6,657.8 L1092.1,655.8 L1092.5,653.9 L1093.0,651.9 L1093.5,650.0 L1093.9,648.0 L1094.4,646.0 L1094.9,644.1 L1095.3,642.1 L1095.8,640.2 L1096.3,638.2 L1096.8,636.3 L1097.2,634.3 L1097.7,632.4 L1098.2,630.4 L1098.6,628.4 L1099.1,626.5 L1099.5,624.5 L1100.0,622.6 L1100.4,620.6 L1100.9,618.6 L1101.3,616.7 L1101.8,614.7 L1102.2,612.8 L1102.6,610.8 L1103.1,608.8 L1103.5,606.9 L1103.9,604.9 L1104.4,602.9 L1104.8,601.0 L1105.2,599.0 L1105.7,597.0 L1106.1,595.1 L1106.5,593.1 L1107.0,591.1 L1107.4,589.2 L1107.8,587.2 L1108.3,585.2 L1108.7,583.3 L1109.1,581.3 L1109.6,579.4 L1110.0,577.4 L1110.5,575.4 L1110.9,573.5 L1111.4,571.5 L1111.8,569.6 L1112.3,567.6 L1112.7,565.6 L1113.2,563.7 L1113.6,561.7 L1114.1,559.8 L1114.5,557.8 L1115.0,555.8 L1115.5,553.9 L1115.9,551.9 L1116.4,550.0 L1116.8,548.0 L1117.3,546.0 L1117.8,544.1 L1118.2,542.1 L1118.7,540.2 L1119.2,538.2 L1119.7,536.3 L1120.1,534.3 L1120.6,532.4 L1121.1,530.4 L1121.6,528.5 L1122.1,526.5 L1122.5,524.5 L1123.0,522.6 L1123.5,520.6 L1123.9,518.7 L1124.3,516.7 L1124.8,514.7 L1125.2,512.8 L1125.6,510.8 L1126.0,508.8 L1126.5,506.9 L1126.9,504.9 L1127.3,502.9 L1127.7,501.0 L1128.1,499.0 L1128.5,497.0 L1128.9,495.1 L1129.4,493.1 L1129.8,491.1 L1130.2,489.2 L1130.7,487.2 L1131.1,485.2 L1131.6,483.3 L1132.0,481.3 L1132.5,479.4 L1132.9,477.4 L1133.4,475.4 L1133.8,473.5 L1134.3,471.5 L1134.8,469.6 L1135.3,467.6 L1135.8,465.7 L1136.3,463.7 L1136.7,461.8 L1137.3,459.8 L1137.7,457.9 L1138.2,455.9 L1138.7,453.9 L1139.2,451.9 L1139.7,450.0 L1140.2,448.0 L1140.8,446.1 L1141.5,444.3 L1142.2,442.4 L1143.1,440.3 L1144.2,438.7 L1145.9,438.1 L1148.1,437.8 L1149.6,438.9 L1151.0,440.4 L1152.4,439.5 L1153.8,437.7 L1155.3,436.2 L1156.9,434.9 L1158.6,433.7 L1160.4,432.9 L1162.3,432.5 L1164.3,432.2 L1166.3,432.0 L1168.3,432.1 L1170.3,432.5 L1172.2,433.3 L1174.1,434.1 L1175.8,434.9 L1177.6,435.8 L1179.3,436.9 L1181.0,438.0 L1182.7,439.1 L1184.4,440.3 L1186.1,441.4 L1187.8,442.4 L1189.5,443.5 L1191.2,444.6 L1192.9,445.7 L1194.6,446.7 L1196.3,447.8 L1198.0,448.8 L1199.8,449.9 L1201.5,450.9 L1203.2,451.9 L1205.0,452.9 L1206.8,453.9 L1208.5,454.8 L1210.3,455.7 L1212.2,456.5 L1214.0,457.4 L1215.9,458.3 L1217.8,459.0 L1219.7,459.4 L1221.6,459.8 L1223.6,460.1 L1225.6,460.3 L1227.7,460.5 L1229.7,460.7 L1231.7,460.7 L1233.7,460.7 L1235.7,460.4 L1237.6,459.9 L1239.6,459.3 L1241.5,458.5 L1243.4,457.7 L1245.2,456.9 L1246.9,456.0 L1248.6,455.0 L1250.3,453.8 L1251.9,452.5 L1253.4,451.1 L1254.9,449.7 L1256.4,448.2 L1257.7,446.8 L1259.0,445.3 L1260.2,443.7 L1261.4,442.1 L1262.5,440.4 L1263.6,438.7 L1264.7,437.0 L1265.7,435.2 L1266.7,433.4 L1267.7,431.7 L1268.6,429.9 L1269.5,428.1 L1270.4,426.3 L1271.2,424.5 L1272.0,422.7 L1272.8,420.8 L1273.6,418.9 L1274.4,417.1 L1275.2,415.2 L1275.9,413.3 L1276.7,411.5 L1277.5,409.6 L1278.2,407.7 L1278.9,405.9 L1279.7,404.0 L1280.4,402.1 L1281.1,400.2 L1281.8,398.3 L1282.5,396.4 L1283.2,394.6 L1283.8,392.7 L1284.5,390.8 L1285.2,388.9 L1285.9,387.0 L1286.6,385.1 L1287.3,383.2 L1288.1,381.3 L1288.7,379.4 L1289.4,377.6 L1290.1,375.7 L1290.7,373.7 L1291.3,371.8 L1291.9,369.9 L1292.4,368.0 L1292.9,366.0 L1293.4,364.1 L1293.9,362.1 L1294.3,360.2 L1294.8,358.2 L1295.2,356.2 L1295.7,354.3 L1296.1,352.3 L1296.5,350.3 L1297.0,348.4 L1297.4,346.4 L1297.9,344.4 L1298.4,342.5 L1298.9,340.5 L1299.4,338.6 L1300.0,336.7 L1300.6,334.8 L1301.2,332.9 L1301.9,331.0 L1302.6,329.1 L1303.3,327.2 L1304.0,325.3 L1304.7,323.4 L1305.4,321.5 L1306.0,319.6 L1306.6,317.7 L1307.3,315.8 L1307.8,313.9 L1308.4,311.9 L1309.0,310.0" stroke="#ff0000" stroke-width="1.9"/>
<path d="M1352.5,332.0 L1352.8,334.0 L1353.2,336.0 L1353.5,338.0 L1353.9,340.0 L1354.3,341.9 L1354.8,343.9 L1355.3,345.9 L1355.8,347.8 L1356.3,349.8 L1356.9,351.7 L1357.5,353.6 L1358.1,355.6 L1358.7,357.5 L1359.2,359.4 L1359.8,361.4 L1360.4,363.3 L1361.0,365.2 L1361.6,367.2 L1362.2,369.1 L1362.8,371.0 L1363.3,373.0 L1363.7,375.0 L1364.2,376.9 L1364.6,378.9 L1365.0,380.9 L1365.4,382.9 L1365.7,384.9 L1366.1,386.9 L1366.4,388.8 L1366.8,390.8 L1367.1,392.8 L1367.4,394.8 L1367.7,396.8 L1367.9,398.8 L1368.1,400.9 L1368.4,402.9 L1368.6,404.9 L1368.8,406.9 L1369.1,408.9 L1369.4,410.9 L1369.8,412.9 L1370.1,414.8 L1370.5,416.8 L1370.8,418.8 L1371.2,420.8 L1371.6,422.8 L1372.0,424.8 L1372.4,426.8 L1372.7,428.7 L1373.1,430.7 L1373.5,432.7 L1373.9,434.7 L1374.2,436.7 L1374.6,438.7 L1374.9,440.7 L1375.3,442.7 L1375.6,444.7 L1375.9,446.7 L1376.3,448.6 L1376.6,450.6 L1376.9,452.6 L1377.3,454.6 L1377.6,456.6 L1377.9,458.6 L1378.3,460.6 L1378.6,462.6 L1378.9,464.6 L1379.3,466.6 L1379.6,468.6 L1379.9,470.6 L1380.3,472.6 L1380.6,474.5 L1381.0,476.5 L1381.3,478.5 L1381.6,480.5 L1382.0,482.5 L1382.3,484.5 L1382.6,486.5 L1383.0,488.5 L1383.3,490.5 L1383.6,492.5 L1384.0,494.5 L1384.3,496.5 L1384.6,498.5 L1385.0,500.4 L1385.3,502.4 L1385.7,504.4 L1386.0,506.4 L1386.3,508.4 L1386.7,510.4 L1387.0,512.4 L1387.3,514.4 L1387.7,516.4 L1388.0,518.4 L1388.3,520.4 L1388.7,522.4 L1389.0,524.4 L1389.4,526.3 L1389.7,528.3 L1390.0,530.3 L1390.4,532.3 L1390.7,534.3 L1391.1,536.3 L1391.4,538.3 L1391.8,540.3 L1392.1,542.3 L1392.5,544.3 L1392.8,546.3 L1393.2,548.2 L1393.5,550.2 L1393.9,552.2 L1394.3,554.2 L1394.6,556.2 L1395.0,558.2 L1395.4,560.2 L1395.7,562.2 L1396.1,564.1 L1396.5,566.1 L1396.8,568.1 L1397.2,570.1 L1397.6,572.1 L1398.0,574.1 L1398.4,576.0 L1398.8,578.0 L1399.1,580.0 L1399.5,582.0 L1399.9,584.0 L1400.3,586.0 L1400.7,587.9 L1401.1,589.9 L1401.5,591.9 L1401.9,593.9 L1402.3,595.9 L1402.7,597.8 L1403.1,599.8 L1403.5,601.8 L1403.9,603.8 L1404.3,605.8 L1404.7,607.8 L1405.1,609.7 L1405.4,611.7 L1405.8,613.7 L1406.2,615.7 L1406.6,617.7 L1407.0,619.6 L1407.4,621.6 L1407.8,623.6 L1408.2,625.6 L1408.6,627.6 L1409.0,629.6 L1409.3,631.5 L1409.7,633.5 L1410.1,635.5 L1410.5,637.5 L1410.9,639.5 L1411.2,641.5 L1411.6,643.4 L1412.0,645.4 L1412.4,647.4 L1412.7,649.4 L1413.1,651.4 L1413.5,653.4 L1413.9,655.4 L1414.2,657.3 L1414.6,659.3 L1415.0,661.3 L1415.4,663.3 L1415.7,665.3 L1416.1,667.3 L1416.5,669.3 L1416.9,671.2 L1417.2,673.2 L1417.6,675.2 L1418.0,677.2 L1418.3,679.2 L1418.7,681.2 L1419.1,683.2 L1419.5,685.1 L1419.8,687.1 L1420.2,689.1 L1420.6,691.1 L1420.9,693.1 L1421.3,695.1 L1421.7,697.1 L1422.0,699.1 L1422.4,701.0 L1422.8,703.0 L1423.1,705.0 L1423.5,707.0" stroke="#ff0000" stroke-width="1.9"/>
<path d="M1276.8,38.0 L1277.0,40.0 L1277.2,42.0 L1277.4,44.0 L1277.6,46.0 L1277.8,48.0 L1278.0,50.0 L1278.2,52.0 L1278.3,54.0 L1278.5,56.0 L1278.7,58.0 L1278.9,60.0 L1279.1,62.0 L1279.4,64.0 L1279.6,66.0 L1279.8,68.0 L1280.0,70.0 L1280.2,72.0 L1280.4,74.0 L1280.6,76.0 L1280.8,78.0 L1281.0,80.0 L1281.2,82.0 L1281.4,84.0 L1281.6,86.0 L1281.9,88.0 L1282.1,90.0 L1282.3,92.0 L1282.5,94.0 L1282.7,95.9 L1283.0,97.9 L1283.2,99.9 L1283.4,101.9 L1283.6,103.9 L1283.8,105.9 L1284.1,107.9 L1284.3,109.9 L1284.5,111.9 L1284.7,113.9 L1285.0,115.9 L1285.2,117.9 L1285.5,119.9 L1285.7,121.9 L1285.9,123.9 L1286.2,125.9 L1286.4,127.9 L1286.7,129.9 L1286.9,131.9 L1287.2,133.8 L1287.5,135.8 L1287.7,137.8 L1288.0,139.8 L1288.2,141.8 L1288.5,143.8 L1288.7,145.8 L1289.0,147.8 L1289.3,149.8 L1289.5,151.8 L1289.8,153.8 L1290.0,155.8 L1290.3,157.8 L1290.5,159.7 L1290.8,161.7 L1291.0,163.7 L1291.3,165.7 L1291.5,167.7 L1291.8,169.7 L1292.0,171.7 L1292.3,173.7 L1292.5,175.7 L1292.8,177.7 L1293.0,179.7 L1293.2,181.7 L1293.5,183.7 L1293.7,185.7 L1293.9,187.7 L1294.1,189.7 L1294.3,191.7 L1294.5,193.7 L1294.8,195.7 L1295.0,197.7 L1295.2,199.7 L1295.4,201.6 L1295.6,203.6 L1295.8,205.6 L1296.0,207.6 L1296.2,209.6 L1296.4,211.6 L1296.6,213.6 L1296.8,215.6 L1297.0,217.6 L1297.2,219.6 L1297.4,221.6 L1297.6,223.6 L1297.8,225.6 L1298.0,227.6 L1298.2,229.6 L1298.4,231.6 L1298.6,233.6 L1298.8,235.6 L1299.0,237.6 L1299.2,239.6 L1299.4,241.6 L1299.6,243.6 L1299.8,245.6 L1300.0,247.6 L1300.2,249.6 L1300.4,251.6 L1300.6,253.6 L1300.9,255.6 L1301.1,257.6 L1301.3,259.6 L1301.5,261.6 L1301.7,263.6 L1301.9,265.6 L1302.2,267.6 L1302.4,269.6 L1302.6,271.6 L1302.8,273.6 L1303.0,275.6 L1303.2,277.6 L1303.5,279.6 L1303.7,281.6 L1303.9,283.6 L1304.2,285.6 L1304.4,287.6 L1304.6,289.6 L1304.9,291.5 L1305.1,293.5 L1305.4,295.5 L1305.7,297.5 L1305.9,299.5 L1306.2,301.5 L1306.5,303.5 L1306.8,305.5 L1307.1,307.4 L1307.5,309.4 L1307.8,311.4 L1308.2,313.4 L1308.5,315.4 L1308.9,317.3 L1309.2,319.3 L1309.6,321.3 L1309.9,323.3 L1310.3,325.3 L1310.6,327.2 L1310.9,329.2 L1311.2,331.2 L1311.5,333.2 L1311.7,335.2 L1312.0,337.2 L1312.3,339.2 L1312.6,341.2 L1312.8,343.1 L1313.1,345.1 L1313.4,347.1 L1313.6,349.1 L1313.9,351.1 L1314.1,353.1 L1314.4,355.1 L1314.6,357.1 L1314.9,359.1 L1315.1,361.1 L1315.4,363.1 L1315.6,365.1 L1315.8,367.1 L1316.0,369.2 L1316.2,371.2 L1316.4,373.2 L1316.6,375.2 L1316.8,377.3 L1317.0,379.3 L1317.2,381.3 L1317.5,383.3 L1317.8,385.2 L1318.1,387.2 L1318.5,389.1 L1318.9,391.0 L1319.4,393.0 L1320.1,395.0 L1320.9,397.1 L1321.9,399.0 L1323.0,400.6 L1324.2,401.9 L1325.6,402.9 L1327.4,403.9 L1329.5,404.6 L1331.6,405.0 L1333.5,404.8 L1335.6,404.2 L1337.6,403.4 L1339.2,402.4 L1340.4,401.2 L1341.5,399.7 L1342.5,397.9 L1343.4,395.9 L1344.1,393.8 L1344.7,391.7 L1345.2,389.8 L1345.6,387.9 L1346.0,386.0 L1346.3,384.0 L1346.6,382.1 L1346.9,380.1 L1347.1,378.1 L1347.4,376.0 L1347.6,374.0 L1347.8,372.0 L1348.0,370.0 L1348.2,368.0 L1348.5,365.9 L1348.7,363.9 L1349.0,361.9 L1349.3,359.9 L1349.6,358.0 L1349.9,356.0 L1350.2,354.0 L1350.4,352.0 L1350.7,350.0 L1351.0,348.0 L1351.3,346.0 L1351.6,344.0 L1351.9,342.1 L1352.2,340.1 L1352.5,338.1 L1352.8,336.1 L1353.1,334.1 L1353.5,332.1 L1353.8,330.2 L1354.1,328.2 L1354.4,326.2 L1354.7,324.2 L1355.1,322.2 L1355.4,320.2 L1355.7,318.3 L1356.1,316.3 L1356.4,314.3 L1356.8,312.3 L1357.1,310.3 L1357.5,308.4 L1357.8,306.4 L1358.2,304.4 L1358.5,302.4 L1358.9,300.5 L1359.3,298.5 L1359.7,296.5 L1360.1,294.6 L1360.5,292.6 L1361.0,290.6 L1361.4,288.7 L1361.8,286.7 L1362.3,284.7 L1362.7,282.8 L1363.2,280.8 L1363.6,278.9 L1364.1,276.9 L1364.5,274.9 L1364.9,273.0 L1365.3,271.0 L1365.7,269.0 L1366.1,267.1 L1366.5,265.1 L1366.8,263.1 L1367.2,261.2 L1367.5,259.2 L1367.9,257.2 L1368.2,255.2 L1368.6,253.2 L1368.9,251.3 L1369.2,249.3 L1369.5,247.3 L1369.9,245.3 L1370.2,243.3 L1370.5,241.4 L1370.8,239.4 L1371.1,237.4 L1371.4,235.4 L1371.7,233.4 L1372.0,231.4 L1372.3,229.4 L1372.6,227.5 L1372.9,225.5 L1373.2,223.5 L1373.5,221.5 L1373.8,219.5 L1374.1,217.5 L1374.3,215.5 L1374.6,213.5 L1374.9,211.5 L1375.2,209.5 L1375.5,207.6 L1375.7,205.6 L1376.0,203.6 L1376.3,201.6 L1376.5,199.6 L1376.8,197.6 L1377.1,195.6 L1377.3,193.6 L1377.6,191.6 L1377.9,189.6 L1378.1,187.6 L1378.4,185.7 L1378.7,183.7 L1378.9,181.7 L1379.2,179.7 L1379.5,177.7 L1379.7,175.7 L1380.0,173.7 L1380.2,171.7 L1380.5,169.7 L1380.7,167.7 L1381.0,165.7 L1381.2,163.7 L1381.5,161.7 L1381.7,159.8 L1381.9,157.8 L1382.2,155.8 L1382.4,153.8 L1382.7,151.8 L1382.9,149.8 L1383.1,147.8 L1383.4,145.8 L1383.6,143.8 L1383.8,141.8 L1384.1,139.8 L1384.3,137.8 L1384.5,135.8 L1384.8,133.8 L1385.0,131.8 L1385.2,129.8 L1385.5,127.8 L1385.7,125.8 L1385.9,123.8 L1386.1,121.8 L1386.4,119.8 L1386.6,117.9 L1386.8,115.9 L1387.1,113.9 L1387.3,111.9 L1387.5,109.9 L1387.7,107.9 L1388.0,105.9 L1388.2,103.9 L1388.4,101.9 L1388.7,99.9 L1388.9,97.9 L1389.1,95.9 L1389.3,93.9 L1389.6,91.9 L1389.8,89.9 L1390.0,87.9 L1390.2,85.9 L1390.5,83.9 L1390.7,81.9 L1390.9,79.9 L1391.1,77.9 L1391.4,75.9 L1391.6,73.9 L1391.8,71.9 L1392.0,70.0 L1392.2,68.0 L1392.5,66.0 L1392.7,64.0 L1392.9,62.0 L1393.1,60.0 L1393.3,58.0 L1393.6,56.0 L1393.8,54.0 L1394.0,52.0 L1394.2,50.0 L1394.4,48.0 L1394.6,46.0 L1394.9,44.0 L1395.1,42.0 L1395.3,40.0 L1395.5,38.0" stroke="#bc8f8f" stroke-width="2.9"/>
<path d="M1276.6,38.0 L1276.8,40.0 L1277.0,42.0 L1277.2,44.0 L1277.4,46.0 L1277.6,48.0 L1277.8,50.0 L1278.0,52.0 L1278.1,54.0 L1278.3,56.0 L1278.5,58.0 L1278.7,60.0 L1278.9,62.0 L1279.2,64.0 L1279.4,66.0 L1279.6,68.0 L1279.8,70.0 L1280.0,72.0 L1280.2,74.0 L1280.4,76.0 L1280.6,78.0 L1280.8,80.0 L1281.0,82.0 L1281.2,84.0 L1281.4,86.0 L1281.7,88.0 L1281.9,90.0 L1282.1,92.0 L1282.3,94.0 L1282.5,96.0 L1282.8,98.0 L1283.0,100.0 L1283.2,102.0 L1283.4,103.9 L1283.6,105.9 L1283.9,107.9 L1284.1,109.9 L1284.3,111.9 L1284.6,113.9 L1284.8,115.9 L1285.0,117.9 L1285.3,119.9 L1285.5,121.9 L1285.7,123.9 L1286.0,125.9 L1286.2,127.9 L1286.5,129.9 L1286.7,131.9 L1287.0,133.9 L1287.3,135.9 L1287.5,137.9 L1287.8,139.8 L1288.0,141.8 L1288.3,143.8 L1288.5,145.8 L1288.8,147.8 L1289.1,149.8 L1289.3,151.8 L1289.6,153.8 L1289.8,155.8 L1290.1,157.8 L1290.3,159.8 L1290.6,161.8 L1290.8,163.8 L1291.1,165.8 L1291.3,167.7 L1291.6,169.7 L1291.8,171.7 L1292.1,173.7 L1292.3,175.7 L1292.6,177.7 L1292.8,179.7 L1293.0,181.7 L1293.3,183.7 L1293.5,185.7 L1293.7,187.7 L1293.9,189.7 L1294.1,191.7 L1294.4,193.7 L1294.6,195.7 L1294.8,197.7 L1295.0,199.7 L1295.2,201.7 L1295.4,203.7 L1295.6,205.7 L1295.8,207.7 L1296.0,209.7 L1296.2,211.7 L1296.4,213.7 L1296.6,215.7 L1296.8,217.7 L1297.0,219.7 L1297.2,221.7 L1297.4,223.7 L1297.6,225.7 L1297.8,227.7 L1298.0,229.7 L1298.2,231.7 L1298.4,233.7 L1298.6,235.7 L1298.8,237.7 L1299.0,239.7 L1299.2,241.7 L1299.4,243.7 L1299.6,245.7 L1299.8,247.7 L1300.0,249.7 L1300.2,251.7 L1300.5,253.7 L1300.7,255.6 L1300.9,257.6 L1301.1,259.6 L1301.3,261.6 L1301.5,263.6 L1301.8,265.6 L1302.0,267.6 L1302.2,269.6 L1302.4,271.6 L1302.7,273.6 L1302.9,275.6 L1303.1,277.6 L1303.3,279.6 L1303.6,281.6 L1303.8,283.6 L1304.0,285.6 L1304.3,287.6 L1304.5,289.6 L1304.8,291.6 L1305.0,293.6 L1305.2,295.6 L1305.5,297.6 L1305.7,299.6 L1306.0,301.5 L1306.3,303.5 L1306.5,305.5 L1306.8,307.5 L1307.1,309.5 L1307.4,311.5 L1307.6,313.5 L1307.9,315.5 L1308.2,317.5 L1308.5,319.5 L1308.8,321.4 L1309.1,323.4 L1309.4,325.4 L1309.6,327.4 L1309.9,329.4 L1310.2,331.4 L1310.5,333.4 L1310.7,335.4 L1311.0,337.4 L1311.3,339.4 L1311.6,341.3 L1311.8,343.3 L1312.1,345.3 L1312.4,347.3 L1312.7,349.3 L1312.9,351.3 L1313.2,353.3 L1313.5,355.3 L1313.8,357.3 L1314.1,359.2 L1314.4,361.2 L1314.7,363.2 L1315.0,365.2 L1315.2,367.2 L1315.5,369.2 L1315.8,371.2 L1316.0,373.3 L1316.3,375.3 L1316.6,377.2 L1317.0,379.2 L1317.4,381.2 L1317.8,383.1 L1318.3,385.0 L1318.9,386.9 L1319.5,388.8 L1320.3,390.7 L1321.2,392.6 L1322.1,394.4 L1323.1,396.1 L1324.2,397.8 L1325.5,399.6 L1326.9,401.0 L1328.6,401.8 L1330.6,402.2 L1332.6,402.3 L1334.7,402.0 L1336.6,401.6 L1338.0,400.5 L1339.3,398.8 L1340.4,396.9 L1341.3,395.1 L1342.2,393.4 L1343.0,391.5 L1343.8,389.6 L1344.4,387.7 L1345.0,385.7 L1345.6,383.8 L1346.0,381.9 L1346.5,379.9 L1346.9,378.0 L1347.2,376.0 L1347.6,374.0 L1347.9,372.0 L1348.2,370.0 L1348.5,368.0 L1348.8,366.0 L1349.2,364.0 L1349.5,362.1 L1349.8,360.1 L1350.1,358.1 L1350.5,356.1 L1350.8,354.1 L1351.1,352.1 L1351.4,350.1 L1351.7,348.2 L1352.0,346.2 L1352.2,344.2 L1352.5,342.2 L1352.8,340.2 L1353.2,338.2 L1353.5,336.2 L1353.8,334.3 L1354.1,332.3 L1354.5,330.3 L1354.8,328.3 L1355.1,326.3 L1355.5,324.4 L1355.8,322.4 L1356.2,320.4 L1356.6,318.4 L1356.9,316.5 L1357.3,314.5 L1357.7,312.5 L1358.0,310.5 L1358.4,308.6 L1358.8,306.6 L1359.1,304.6 L1359.5,302.6 L1359.9,300.7 L1360.2,298.7 L1360.6,296.7 L1361.0,294.7 L1361.4,292.8 L1361.8,290.8 L1362.2,288.8 L1362.6,286.9 L1363.0,284.9 L1363.4,282.9 L1363.8,280.9 L1364.2,279.0 L1364.6,277.0 L1365.0,275.0 L1365.3,273.1 L1365.7,271.1 L1366.1,269.1 L1366.4,267.1 L1366.8,265.2 L1367.1,263.2 L1367.5,261.2 L1367.8,259.2 L1368.1,257.2 L1368.4,255.3 L1368.8,253.3 L1369.1,251.3 L1369.4,249.3 L1369.7,247.3 L1370.1,245.3 L1370.4,243.4 L1370.7,241.4 L1371.0,239.4 L1371.3,237.4 L1371.6,235.4 L1371.9,233.4 L1372.2,231.4 L1372.5,229.5 L1372.8,227.5 L1373.1,225.5 L1373.4,223.5 L1373.7,221.5 L1374.0,219.5 L1374.3,217.5 L1374.6,215.5 L1374.9,213.5 L1375.1,211.6 L1375.4,209.6 L1375.7,207.6 L1376.0,205.6 L1376.3,203.6 L1376.5,201.6 L1376.8,199.6 L1377.1,197.6 L1377.4,195.6 L1377.6,193.6 L1377.9,191.7 L1378.2,189.7 L1378.4,187.7 L1378.7,185.7 L1379.0,183.7 L1379.2,181.7 L1379.5,179.7 L1379.8,177.7 L1380.0,175.7 L1380.3,173.7 L1380.5,171.7 L1380.8,169.7 L1381.0,167.8 L1381.3,165.8 L1381.5,163.8 L1381.8,161.8 L1382.0,159.8 L1382.2,157.8 L1382.5,155.8 L1382.7,153.8 L1383.0,151.8 L1383.2,149.8 L1383.4,147.8 L1383.7,145.8 L1383.9,143.8 L1384.1,141.8 L1384.4,139.8 L1384.6,137.8 L1384.8,135.8 L1385.1,133.8 L1385.3,131.8 L1385.5,129.8 L1385.7,127.8 L1386.0,125.9 L1386.2,123.9 L1386.4,121.9 L1386.7,119.9 L1386.9,117.9 L1387.1,115.9 L1387.4,113.9 L1387.6,111.9 L1387.8,109.9 L1388.0,107.9 L1388.3,105.9 L1388.5,103.9 L1388.7,101.9 L1389.0,99.9 L1389.2,97.9 L1389.4,95.9 L1389.6,93.9 L1389.9,91.9 L1390.1,89.9 L1390.3,87.9 L1390.5,85.9 L1390.8,83.9 L1391.0,81.9 L1391.2,79.9 L1391.4,77.9 L1391.7,75.9 L1391.9,74.0 L1392.1,72.0 L1392.3,70.0 L1392.5,68.0 L1392.8,66.0 L1393.0,64.0 L1393.2,62.0 L1393.4,60.0 L1393.6,58.0 L1393.9,56.0 L1394.1,54.0 L1394.3,52.0 L1394.5,50.0 L1394.7,48.0 L1394.9,46.0 L1395.2,44.0 L1395.4,42.0 L1395.6,40.0 L1395.8,38.0" stroke="#9400d3" stroke-width="2.9"/>
<path d="M1276.4,38.0 L1276.6,40.0 L1276.8,42.0 L1277.0,44.0 L1277.2,46.0 L1277.4,48.0 L1277.6,50.0 L1277.8,52.0 L1277.9,54.0 L1278.1,56.0 L1278.3,58.0 L1278.5,60.0 L1278.7,62.0 L1279.0,64.0 L1279.2,66.0 L1279.4,68.0 L1279.6,70.0 L1279.8,72.0 L1280.0,74.0 L1280.2,76.0 L1280.4,78.0 L1280.6,80.0 L1280.8,82.0 L1281.0,84.0 L1281.2,86.0 L1281.5,88.0 L1281.7,90.0 L1281.9,92.0 L1282.1,94.0 L1282.3,96.0 L1282.6,98.0 L1282.8,100.0 L1283.0,101.9 L1283.2,103.9 L1283.4,105.9 L1283.7,107.9 L1283.9,109.9 L1284.1,111.9 L1284.4,113.9 L1284.6,115.9 L1284.8,117.9 L1285.1,119.9 L1285.3,121.9 L1285.5,123.9 L1285.8,125.9 L1286.0,127.9 L1286.3,129.9 L1286.5,131.9 L1286.8,133.9 L1287.1,135.9 L1287.3,137.8 L1287.6,139.8 L1287.8,141.8 L1288.1,143.8 L1288.3,145.8 L1288.6,147.8 L1288.9,149.8 L1289.1,151.8 L1289.4,153.8 L1289.6,155.8 L1289.9,157.8 L1290.1,159.8 L1290.4,161.8 L1290.6,163.8 L1290.9,165.7 L1291.1,167.7 L1291.4,169.7 L1291.6,171.7 L1291.9,173.7 L1292.1,175.7 L1292.4,177.7 L1292.6,179.7 L1292.8,181.7 L1293.1,183.7 L1293.3,185.7 L1293.5,187.7 L1293.7,189.7 L1293.9,191.7 L1294.1,193.7 L1294.4,195.7 L1294.6,197.7 L1294.8,199.7 L1295.0,201.7 L1295.2,203.7 L1295.4,205.7 L1295.6,207.7 L1295.8,209.7 L1296.0,211.7 L1296.2,213.7 L1296.4,215.7 L1296.6,217.7 L1296.8,219.7 L1297.0,221.7 L1297.2,223.7 L1297.4,225.7 L1297.6,227.7 L1297.8,229.7 L1298.0,231.7 L1298.2,233.7 L1298.4,235.7 L1298.6,237.7 L1298.8,239.7 L1299.0,241.7 L1299.2,243.6 L1299.4,245.6 L1299.6,247.6 L1299.8,249.6 L1300.0,251.6 L1300.3,253.6 L1300.5,255.6 L1300.7,257.6 L1300.9,259.6 L1301.1,261.6 L1301.4,263.6 L1301.6,265.6 L1301.8,267.6 L1302.1,269.6 L1302.3,271.6 L1302.5,273.6 L1302.7,275.6 L1303.0,277.6 L1303.2,279.6 L1303.5,281.6 L1303.7,283.6 L1303.9,285.6 L1304.2,287.6 L1304.4,289.6 L1304.6,291.6 L1304.9,293.6 L1305.1,295.5 L1305.3,297.5 L1305.5,299.5 L1305.8,301.5 L1306.0,303.5 L1306.2,305.5 L1306.4,307.5 L1306.6,309.5 L1306.9,311.5 L1307.1,313.5 L1307.3,315.5 L1307.5,317.5 L1307.7,319.5 L1308.0,321.5 L1308.2,323.5 L1308.4,325.5 L1308.7,327.5 L1308.9,329.5 L1309.2,331.5 L1309.5,333.5 L1309.8,335.4 L1310.1,337.4 L1310.4,339.4 L1310.7,341.4 L1311.0,343.4 L1311.3,345.4 L1311.6,347.4 L1312.0,349.3 L1312.3,351.3 L1312.7,353.3 L1313.0,355.3 L1313.4,357.3 L1313.7,359.2 L1314.1,361.2 L1314.5,363.2 L1314.8,365.2 L1315.2,367.1 L1315.6,369.1 L1316.1,371.1 L1316.5,373.0 L1317.0,375.0 L1317.5,376.9 L1318.0,378.9 L1318.5,380.8 L1319.1,382.8 L1319.8,384.6 L1320.7,386.5 L1321.6,388.4 L1322.8,390.1 L1324.1,391.6 L1325.6,392.6 L1327.4,393.5 L1329.4,394.3 L1331.4,394.7 L1333.4,394.6 L1335.5,394.0 L1337.5,393.2 L1339.1,392.2 L1340.3,391.0 L1341.2,389.2 L1342.0,387.2 L1342.7,385.2 L1343.4,383.3 L1344.1,381.4 L1344.7,379.5 L1345.2,377.5 L1345.8,375.6 L1346.3,373.7 L1346.8,371.7 L1347.3,369.8 L1347.8,367.8 L1348.3,365.9 L1348.7,363.9 L1349.2,361.9 L1349.6,360.0 L1350.0,358.0 L1350.4,356.1 L1350.8,354.1 L1351.1,352.1 L1351.5,350.1 L1351.9,348.2 L1352.2,346.2 L1352.6,344.2 L1352.9,342.2 L1353.2,340.2 L1353.6,338.3 L1353.9,336.3 L1354.3,334.3 L1354.6,332.3 L1355.0,330.3 L1355.3,328.4 L1355.7,326.4 L1356.1,324.4 L1356.4,322.4 L1356.8,320.5 L1357.1,318.5 L1357.5,316.5 L1357.8,314.5 L1358.2,312.5 L1358.6,310.6 L1358.9,308.6 L1359.3,306.6 L1359.6,304.6 L1360.0,302.7 L1360.4,300.7 L1360.7,298.7 L1361.1,296.7 L1361.5,294.8 L1361.9,292.8 L1362.2,290.8 L1362.6,288.8 L1363.0,286.9 L1363.4,284.9 L1363.7,282.9 L1364.1,281.0 L1364.5,279.0 L1364.9,277.0 L1365.2,275.0 L1365.6,273.1 L1365.9,271.1 L1366.3,269.1 L1366.6,267.1 L1367.0,265.1 L1367.3,263.2 L1367.6,261.2 L1368.0,259.2 L1368.3,257.2 L1368.6,255.2 L1368.9,253.3 L1369.3,251.3 L1369.6,249.3 L1369.9,247.3 L1370.2,245.3 L1370.5,243.3 L1370.8,241.3 L1371.2,239.4 L1371.5,237.4 L1371.8,235.4 L1372.1,233.4 L1372.4,231.4 L1372.7,229.4 L1373.0,227.4 L1373.3,225.5 L1373.6,223.5 L1373.9,221.5 L1374.2,219.5 L1374.5,217.5 L1374.8,215.5 L1375.0,213.5 L1375.3,211.5 L1375.6,209.6 L1375.9,207.6 L1376.2,205.6 L1376.5,203.6 L1376.7,201.6 L1377.0,199.6 L1377.3,197.6 L1377.6,195.6 L1377.8,193.6 L1378.1,191.6 L1378.4,189.7 L1378.6,187.7 L1378.9,185.7 L1379.2,183.7 L1379.4,181.7 L1379.7,179.7 L1380.0,177.7 L1380.2,175.7 L1380.5,173.7 L1380.7,171.7 L1381.0,169.7 L1381.2,167.7 L1381.5,165.8 L1381.7,163.8 L1382.0,161.8 L1382.2,159.8 L1382.4,157.8 L1382.7,155.8 L1382.9,153.8 L1383.2,151.8 L1383.4,149.8 L1383.6,147.8 L1383.9,145.8 L1384.1,143.8 L1384.3,141.8 L1384.6,139.8 L1384.8,137.8 L1385.0,135.8 L1385.3,133.8 L1385.5,131.8 L1385.7,129.8 L1385.9,127.8 L1386.2,125.8 L1386.4,123.9 L1386.6,121.9 L1386.9,119.9 L1387.1,117.9 L1387.3,115.9 L1387.6,113.9 L1387.8,111.9 L1388.0,109.9 L1388.2,107.9 L1388.5,105.9 L1388.7,103.9 L1388.9,101.9 L1389.2,99.9 L1389.4,97.9 L1389.6,95.9 L1389.8,93.9 L1390.1,91.9 L1390.3,89.9 L1390.5,87.9 L1390.7,85.9 L1391.0,83.9 L1391.2,81.9 L1391.4,79.9 L1391.6,77.9 L1391.9,75.9 L1392.1,73.9 L1392.3,72.0 L1392.5,70.0 L1392.7,68.0 L1393.0,66.0 L1393.2,64.0 L1393.4,62.0 L1393.6,60.0 L1393.8,58.0 L1394.1,56.0 L1394.3,54.0 L1394.5,52.0 L1394.7,50.0 L1394.9,48.0 L1395.1,46.0 L1395.4,44.0 L1395.6,42.0 L1395.8,40.0 L1396.0,38.0" stroke="#ff00ff" stroke-width="3.0"/>
<path d="M1276.2,38.0 L1276.4,40.0 L1276.6,42.0 L1276.8,44.0 L1277.0,46.0 L1277.2,48.0 L1277.4,50.0 L1277.5,52.0 L1277.7,54.0 L1277.9,56.0 L1278.1,58.0 L1278.3,60.0 L1278.5,62.0 L1278.7,64.0 L1279.0,66.0 L1279.2,68.0 L1279.4,70.0 L1279.6,72.0 L1279.8,74.0 L1280.0,76.0 L1280.2,78.0 L1280.4,80.0 L1280.6,81.9 L1280.8,83.9 L1281.0,85.9 L1281.3,87.9 L1281.5,89.9 L1281.7,91.9 L1281.9,93.9 L1282.1,95.9 L1282.3,97.9 L1282.6,99.9 L1282.8,101.9 L1283.0,103.9 L1283.2,105.9 L1283.5,107.9 L1283.7,109.9 L1283.9,111.9 L1284.1,113.9 L1284.4,115.9 L1284.6,117.9 L1284.8,119.9 L1285.1,121.8 L1285.3,123.8 L1285.6,125.8 L1285.8,127.8 L1286.0,129.8 L1286.3,131.8 L1286.5,133.8 L1286.8,135.8 L1287.0,137.8 L1287.3,139.8 L1287.5,141.8 L1287.8,143.8 L1288.0,145.8 L1288.3,147.7 L1288.5,149.7 L1288.8,151.7 L1289.0,153.7 L1289.3,155.7 L1289.5,157.7 L1289.8,159.7 L1290.1,161.7 L1290.3,163.7 L1290.6,165.7 L1290.8,167.7 L1291.1,169.7 L1291.3,171.6 L1291.6,173.6 L1291.8,175.6 L1292.1,177.6 L1292.3,179.6 L1292.6,181.6 L1292.8,183.6 L1293.1,185.6 L1293.3,187.6 L1293.6,189.6 L1293.8,191.6 L1294.1,193.6 L1294.3,195.6 L1294.6,197.5 L1294.8,199.5 L1295.0,201.5 L1295.3,203.5 L1295.5,205.5 L1295.8,207.5 L1296.0,209.5 L1296.3,211.5 L1296.5,213.5 L1296.8,215.5 L1297.0,217.5 L1297.3,219.5 L1297.5,221.5 L1297.8,223.4 L1298.0,225.4 L1298.3,227.4 L1298.5,229.4 L1298.8,231.4 L1299.0,233.4 L1299.3,235.4 L1299.5,237.4 L1299.7,239.4 L1300.0,241.4 L1300.2,243.4 L1300.5,245.4 L1300.7,247.3 L1301.0,249.3 L1301.2,251.3 L1301.5,253.3 L1301.7,255.3 L1302.0,257.3 L1302.2,259.3 L1302.5,261.3 L1302.8,263.3 L1303.0,265.3 L1303.3,267.3 L1303.5,269.3 L1303.8,271.2 L1304.0,273.2 L1304.3,275.2 L1304.5,277.2 L1304.8,279.2 L1305.1,281.2 L1305.3,283.2 L1305.6,285.2 L1305.8,287.2 L1306.1,289.2 L1306.3,291.2 L1306.6,293.2 L1306.8,295.1 L1307.1,297.1 L1307.3,299.1 L1307.5,301.1 L1307.8,303.1 L1308.0,305.1 L1308.2,307.1 L1308.4,309.1 L1308.7,311.1 L1308.9,313.1 L1309.1,315.1 L1309.3,317.1 L1309.5,319.1 L1309.8,321.1 L1310.0,323.1 L1310.2,325.1 L1310.5,327.1 L1310.7,329.1 L1310.9,331.0 L1311.2,333.0 L1311.4,335.0 L1311.6,337.0 L1311.9,339.0 L1312.1,341.0 L1312.4,343.0 L1312.6,345.0 L1312.9,347.0 L1313.1,349.0 L1313.4,351.0 L1313.7,353.0 L1314.0,354.9 L1314.3,356.9 L1314.6,358.9 L1314.9,360.9 L1315.2,362.9 L1315.5,364.9 L1315.9,366.9 L1316.3,368.8 L1316.7,370.8 L1317.2,372.7 L1317.7,374.7 L1318.3,376.7 L1318.9,378.6 L1319.7,380.5 L1320.5,382.3 L1321.5,383.9 L1322.7,385.5 L1324.2,387.0 L1325.7,388.3 L1327.4,389.5 L1329.2,390.7 L1331.0,391.3 L1332.8,390.9 L1334.6,389.9 L1336.3,388.6 L1337.9,387.4 L1339.3,385.8 L1340.5,384.2 L1341.4,382.6 L1342.2,380.8 L1342.9,378.9 L1343.6,377.0 L1344.2,375.0 L1344.9,373.0 L1345.5,371.1 L1346.1,369.2 L1346.7,367.3 L1347.2,365.4 L1347.8,363.4 L1348.3,361.5 L1348.8,359.6 L1349.3,357.6 L1349.8,355.7 L1350.3,353.7 L1350.8,351.8 L1351.3,349.8 L1351.7,347.9 L1352.2,345.9 L1352.6,344.0 L1353.1,342.0 L1353.5,340.0 L1353.9,338.1 L1354.4,336.1 L1354.8,334.1 L1355.2,332.2 L1355.6,330.2 L1355.9,328.2 L1356.3,326.3 L1356.7,324.3 L1357.1,322.3 L1357.4,320.3 L1357.8,318.4 L1358.1,316.4 L1358.5,314.4 L1358.8,312.4 L1359.2,310.5 L1359.5,308.5 L1359.9,306.5 L1360.2,304.5 L1360.5,302.5 L1360.9,300.6 L1361.3,298.6 L1361.6,296.6 L1362.0,294.6 L1362.3,292.7 L1362.7,290.7 L1363.0,288.7 L1363.4,286.7 L1363.8,284.8 L1364.1,282.8 L1364.5,280.8 L1364.8,278.8 L1365.2,276.9 L1365.5,274.9 L1365.9,272.9 L1366.2,270.9 L1366.5,268.9 L1366.9,267.0 L1367.2,265.0 L1367.5,263.0 L1367.9,261.0 L1368.2,259.0 L1368.5,257.1 L1368.8,255.1 L1369.1,253.1 L1369.5,251.1 L1369.8,249.1 L1370.1,247.1 L1370.4,245.2 L1370.7,243.2 L1371.0,241.2 L1371.3,239.2 L1371.6,237.2 L1371.9,235.2 L1372.3,233.3 L1372.6,231.3 L1372.9,229.3 L1373.2,227.3 L1373.5,225.3 L1373.8,223.3 L1374.1,221.4 L1374.4,219.4 L1374.6,217.4 L1374.9,215.4 L1375.2,213.4 L1375.5,211.4 L1375.8,209.4 L1376.1,207.4 L1376.4,205.5 L1376.7,203.5 L1376.9,201.5 L1377.2,199.5 L1377.5,197.5 L1377.8,195.5 L1378.0,193.5 L1378.3,191.5 L1378.6,189.6 L1378.9,187.6 L1379.1,185.6 L1379.4,183.6 L1379.7,181.6 L1379.9,179.6 L1380.2,177.6 L1380.4,175.6 L1380.7,173.6 L1380.9,171.6 L1381.2,169.6 L1381.4,167.7 L1381.7,165.7 L1381.9,163.7 L1382.2,161.7 L1382.4,159.7 L1382.7,157.7 L1382.9,155.7 L1383.1,153.7 L1383.4,151.7 L1383.6,149.7 L1383.8,147.7 L1384.1,145.7 L1384.3,143.7 L1384.5,141.7 L1384.8,139.7 L1385.0,137.8 L1385.2,135.8 L1385.5,133.8 L1385.7,131.8 L1385.9,129.8 L1386.2,127.8 L1386.4,125.8 L1386.6,123.8 L1386.8,121.8 L1387.1,119.8 L1387.3,117.8 L1387.5,115.8 L1387.8,113.8 L1388.0,111.8 L1388.2,109.8 L1388.4,107.8 L1388.7,105.8 L1388.9,103.8 L1389.1,101.9 L1389.4,99.9 L1389.6,97.9 L1389.8,95.9 L1390.0,93.9 L1390.3,91.9 L1390.5,89.9 L1390.7,87.9 L1390.9,85.9 L1391.2,83.9 L1391.4,81.9 L1391.6,79.9 L1391.8,77.9 L1392.1,75.9 L1392.3,73.9 L1392.5,71.9 L1392.7,69.9 L1392.9,67.9 L1393.2,65.9 L1393.4,63.9 L1393.6,62.0 L1393.8,60.0 L1394.0,58.0 L1394.3,56.0 L1394.5,54.0 L1394.7,52.0 L1394.9,50.0 L1395.1,48.0 L1395.3,46.0 L1395.6,44.0 L1395.8,42.0 L1396.0,40.0 L1396.2,38.0" stroke="#40e0d0" stroke-width="2.9"/>
<path d="M1276.0,38.0 L1276.2,40.0 L1276.4,42.0 L1276.6,44.0 L1276.8,46.0 L1277.0,48.0 L1277.1,50.0 L1277.3,52.0 L1277.5,54.0 L1277.7,56.0 L1277.9,58.0 L1278.1,60.0 L1278.3,62.0 L1278.5,64.0 L1278.7,66.0 L1279.0,68.0 L1279.2,70.0 L1279.4,72.0 L1279.6,74.0 L1279.8,76.0 L1280.0,78.0 L1280.2,80.0 L1280.4,82.0 L1280.6,84.0 L1280.8,86.0 L1281.1,88.0 L1281.3,90.0 L1281.5,92.0 L1281.7,94.0 L1281.9,96.0 L1282.2,98.0 L1282.4,100.0 L1282.6,102.0 L1282.8,104.0 L1283.0,106.0 L1283.3,108.0 L1283.5,110.0 L1283.7,112.0 L1284.0,114.0 L1284.2,116.0 L1284.4,117.9 L1284.7,119.9 L1284.9,121.9 L1285.1,123.9 L1285.4,125.9 L1285.6,127.9 L1285.9,129.9 L1286.1,131.9 L1286.4,133.9 L1286.6,135.9 L1286.9,137.9 L1287.1,139.9 L1287.4,141.9 L1287.6,143.9 L1287.9,145.9 L1288.1,147.9 L1288.4,149.9 L1288.7,151.8 L1288.9,153.8 L1289.2,155.8 L1289.4,157.8 L1289.7,159.8 L1290.0,161.8 L1290.2,163.8 L1290.5,165.8 L1290.7,167.8 L1291.0,169.8 L1291.2,171.8 L1291.5,173.8 L1291.7,175.8 L1292.0,177.8 L1292.2,179.8 L1292.5,181.8 L1292.7,183.7 L1293.0,185.7 L1293.2,187.7 L1293.5,189.7 L1293.7,191.7 L1294.0,193.7 L1294.2,195.7 L1294.5,197.7 L1294.7,199.7 L1295.0,201.7 L1295.2,203.7 L1295.4,205.7 L1295.7,207.7 L1295.9,209.7 L1296.2,211.7 L1296.4,213.7 L1296.7,215.7 L1296.9,217.7 L1297.1,219.7 L1297.4,221.7 L1297.6,223.6 L1297.9,225.6 L1298.1,227.6 L1298.4,229.6 L1298.6,231.6 L1298.8,233.6 L1299.1,235.6 L1299.3,237.6 L1299.6,239.6 L1299.8,241.6 L1300.1,243.6 L1300.3,245.6 L1300.6,247.6 L1300.8,249.6 L1301.1,251.6 L1301.3,253.6 L1301.6,255.6 L1301.8,257.6 L1302.1,259.5 L1302.3,261.5 L1302.6,263.5 L1302.8,265.5 L1303.1,267.5 L1303.3,269.5 L1303.6,271.5 L1303.9,273.5 L1304.1,275.5 L1304.4,277.5 L1304.6,279.5 L1304.9,281.5 L1305.1,283.5 L1305.4,285.5 L1305.7,287.5 L1305.9,289.4 L1306.2,291.4 L1306.4,293.4 L1306.7,295.4 L1307.0,297.4 L1307.2,299.4 L1307.5,301.4 L1307.7,303.4 L1308.0,305.4 L1308.3,307.4 L1308.5,309.4 L1308.8,311.4 L1309.0,313.4 L1309.3,315.4 L1309.6,317.3 L1309.8,319.3 L1310.1,321.3 L1310.4,323.3 L1310.6,325.3 L1310.9,327.3 L1311.2,329.3 L1311.5,331.3 L1311.7,333.3 L1312.0,335.3 L1312.3,337.3 L1312.6,339.2 L1312.9,341.2 L1313.2,343.2 L1313.5,345.2 L1313.8,347.2 L1314.2,349.2 L1314.5,351.2 L1314.8,353.1 L1315.2,355.1 L1315.6,357.1 L1316.0,359.1 L1316.4,361.0 L1316.8,363.0 L1317.3,365.0 L1317.7,366.9 L1318.2,368.9 L1318.8,370.9 L1319.4,372.9 L1320.0,374.7 L1320.8,376.5 L1321.7,378.2 L1322.9,379.9 L1324.2,381.5 L1325.7,382.9 L1327.5,383.8 L1329.5,384.6 L1330.6,385.9 L1331.2,388.4 L1331.7,390.2 L1332.4,389.6 L1333.3,387.4 L1334.3,385.3 L1335.8,384.0 L1337.6,382.9 L1339.0,381.6 L1340.1,380.1 L1341.2,378.3 L1342.1,376.5 L1343.0,374.6 L1343.9,372.7 L1344.6,370.9 L1345.4,369.0 L1346.0,367.1 L1346.6,365.2 L1347.1,363.2 L1347.7,361.3 L1348.3,359.4 L1349.0,357.5 L1349.7,355.6 L1350.8,353.9 L1351.9,352.2 L1352.7,350.4 L1353.2,348.6 L1353.7,346.7 L1354.0,344.7 L1354.3,342.7 L1354.6,340.7 L1354.8,338.7 L1355.1,336.6 L1355.3,334.6 L1355.6,332.6 L1355.9,330.6 L1356.2,328.6 L1356.6,326.6 L1356.9,324.6 L1357.3,322.7 L1357.7,320.7 L1358.0,318.7 L1358.4,316.7 L1358.8,314.8 L1359.1,312.8 L1359.5,310.8 L1359.9,308.8 L1360.3,306.9 L1360.6,304.9 L1361.0,302.9 L1361.3,300.9 L1361.7,298.9 L1362.0,297.0 L1362.4,295.0 L1362.7,293.0 L1363.1,291.0 L1363.4,289.0 L1363.7,287.1 L1364.1,285.1 L1364.4,283.1 L1364.8,281.1 L1365.1,279.1 L1365.4,277.1 L1365.7,275.2 L1366.1,273.2 L1366.4,271.2 L1366.7,269.2 L1367.0,267.2 L1367.4,265.2 L1367.7,263.3 L1368.0,261.3 L1368.3,259.3 L1368.6,257.3 L1368.9,255.3 L1369.3,253.3 L1369.6,251.4 L1369.9,249.4 L1370.2,247.4 L1370.5,245.4 L1370.8,243.4 L1371.1,241.4 L1371.5,239.4 L1371.8,237.5 L1372.1,235.5 L1372.4,233.5 L1372.7,231.5 L1373.0,229.5 L1373.3,227.5 L1373.6,225.5 L1373.9,223.5 L1374.2,221.6 L1374.5,219.6 L1374.8,217.6 L1375.1,215.6 L1375.4,213.6 L1375.7,211.6 L1376.0,209.6 L1376.3,207.6 L1376.5,205.7 L1376.8,203.7 L1377.1,201.7 L1377.4,199.7 L1377.7,197.7 L1377.9,195.7 L1378.2,193.7 L1378.5,191.7 L1378.8,189.7 L1379.0,187.7 L1379.3,185.7 L1379.6,183.8 L1379.8,181.8 L1380.1,179.8 L1380.3,177.8 L1380.6,175.8 L1380.8,173.8 L1381.1,171.8 L1381.3,169.8 L1381.6,167.8 L1381.8,165.8 L1382.1,163.8 L1382.3,161.8 L1382.6,159.8 L1382.8,157.8 L1383.0,155.8 L1383.3,153.8 L1383.5,151.8 L1383.7,149.8 L1384.0,147.9 L1384.2,145.9 L1384.4,143.9 L1384.7,141.9 L1384.9,139.9 L1385.1,137.9 L1385.4,135.9 L1385.6,133.9 L1385.8,131.9 L1386.0,129.9 L1386.3,127.9 L1386.5,125.9 L1386.7,123.9 L1386.9,121.9 L1387.2,119.9 L1387.4,117.9 L1387.6,115.9 L1387.9,113.9 L1388.1,111.9 L1388.3,109.9 L1388.5,107.9 L1388.8,105.9 L1389.0,103.9 L1389.2,101.9 L1389.5,99.9 L1389.7,97.9 L1389.9,95.9 L1390.1,93.9 L1390.4,91.9 L1390.6,89.9 L1390.8,87.9 L1391.0,85.9 L1391.3,83.9 L1391.5,82.0 L1391.7,80.0 L1391.9,78.0 L1392.1,76.0 L1392.4,74.0 L1392.6,72.0 L1392.8,70.0 L1393.0,68.0 L1393.3,66.0 L1393.5,64.0 L1393.7,62.0 L1393.9,60.0 L1394.1,58.0 L1394.4,56.0 L1394.6,54.0 L1394.8,52.0 L1395.0,50.0 L1395.2,48.0 L1395.4,46.0 L1395.7,44.0 L1395.9,42.0 L1396.1,40.0 L1396.3,38.0" stroke="#000000" stroke-width="2.9"/>
<path d="M1275.9,38.0 L1276.1,40.0 L1276.3,42.0 L1276.5,44.0 L1276.7,46.0 L1276.9,48.0 L1277.0,50.0 L1277.2,52.0 L1277.4,54.0 L1277.6,56.0 L1277.8,58.0 L1278.0,60.0 L1278.2,62.0 L1278.4,64.0 L1278.6,66.0 L1278.8,68.0 L1279.1,70.0 L1279.3,72.0 L1279.5,74.0 L1279.7,76.0 L1279.9,78.0 L1280.1,80.0 L1280.3,81.9 L1280.5,83.9 L1280.7,85.9 L1281.0,87.9 L1281.2,89.9 L1281.4,91.9 L1281.6,93.9 L1281.8,95.9 L1282.0,97.9 L1282.3,99.9 L1282.5,101.9 L1282.7,103.9 L1282.9,105.9 L1283.2,107.9 L1283.4,109.9 L1283.6,111.9 L1283.8,113.9 L1284.1,115.9 L1284.3,117.9 L1284.5,119.8 L1284.8,121.8 L1285.0,123.8 L1285.3,125.8 L1285.5,127.8 L1285.8,129.8 L1286.0,131.8 L1286.3,133.8 L1286.5,135.8 L1286.8,137.8 L1287.0,139.8 L1287.3,141.8 L1287.5,143.8 L1287.8,145.7 L1288.0,147.7 L1288.3,149.7 L1288.5,151.7 L1288.8,153.7 L1289.1,155.7 L1289.3,157.7 L1289.6,159.7 L1289.8,161.7 L1290.1,163.7 L1290.3,165.7 L1290.6,167.6 L1290.9,169.6 L1291.1,171.6 L1291.4,173.6 L1291.6,175.6 L1291.9,177.6 L1292.1,179.6 L1292.4,181.6 L1292.6,183.6 L1292.9,185.6 L1293.1,187.6 L1293.4,189.6 L1293.6,191.5 L1293.9,193.5 L1294.1,195.5 L1294.4,197.5 L1294.6,199.5 L1294.8,201.5 L1295.1,203.5 L1295.3,205.5 L1295.6,207.5 L1295.8,209.5 L1296.1,211.5 L1296.3,213.5 L1296.6,215.5 L1296.8,217.4 L1297.1,219.4 L1297.3,221.4 L1297.6,223.4 L1297.8,225.4 L1298.0,227.4 L1298.3,229.4 L1298.5,231.4 L1298.8,233.4 L1299.0,235.4 L1299.3,237.4 L1299.5,239.4 L1299.8,241.4 L1300.0,243.3 L1300.3,245.3 L1300.5,247.3 L1300.8,249.3 L1301.0,251.3 L1301.3,253.3 L1301.5,255.3 L1301.8,257.3 L1302.0,259.3 L1302.3,261.3 L1302.5,263.3 L1302.8,265.3 L1303.0,267.3 L1303.3,269.2 L1303.5,271.2 L1303.8,273.2 L1304.0,275.2 L1304.3,277.2 L1304.5,279.2 L1304.8,281.2 L1305.0,283.2 L1305.3,285.2 L1305.5,287.2 L1305.8,289.2 L1306.1,291.2 L1306.3,293.1 L1306.6,295.1 L1306.9,297.1 L1307.2,299.1 L1307.5,301.1 L1307.8,303.1 L1308.1,305.1 L1308.4,307.0 L1308.7,309.0 L1309.0,311.0 L1309.3,313.0 L1309.7,315.0 L1310.0,316.9 L1310.3,318.9 L1310.6,320.9 L1311.0,322.9 L1311.3,324.9 L1311.6,326.9 L1311.9,328.8 L1312.2,330.8 L1312.5,332.8 L1312.8,334.8 L1313.1,336.8 L1313.4,338.8 L1313.7,340.7 L1314.0,342.7 L1314.4,344.7 L1314.7,346.7 L1315.0,348.7 L1315.3,350.8 L1315.5,352.9 L1315.8,355.0 L1316.2,357.0 L1316.5,359.0 L1317.0,360.9 L1317.6,362.7 L1318.3,364.4 L1319.8,365.9 L1321.2,364.8 L1322.5,362.6 L1323.4,361.9 L1324.1,362.9 L1324.6,365.0 L1325.0,367.6 L1325.5,370.4 L1326.0,372.8 L1326.7,374.5 L1327.8,375.2 L1330.0,375.4 L1332.1,375.4 L1334.2,374.7 L1335.6,373.8 L1336.3,372.2 L1336.8,370.2 L1337.2,367.9 L1337.7,365.7 L1338.4,363.9 L1340.0,362.5 L1341.6,361.8 L1342.7,363.3 L1343.6,365.9 L1344.4,367.8 L1345.1,367.7 L1345.7,366.5 L1346.2,364.7 L1346.7,362.5 L1347.1,360.0 L1347.7,357.4 L1348.2,355.0 L1348.9,353.1 L1349.8,351.3 L1350.8,349.5 L1351.8,347.7 L1352.6,345.9 L1353.1,344.0 L1353.6,342.1 L1354.1,340.1 L1354.5,338.2 L1354.8,336.2 L1355.2,334.2 L1355.5,332.2 L1355.9,330.2 L1356.3,328.2 L1356.7,326.2 L1357.1,324.3 L1357.5,322.3 L1357.9,320.4 L1358.3,318.4 L1358.7,316.4 L1359.1,314.5 L1359.5,312.5 L1360.0,310.5 L1360.4,308.6 L1360.7,306.6 L1361.1,304.6 L1361.5,302.7 L1361.9,300.7 L1362.2,298.7 L1362.6,296.7 L1362.9,294.7 L1363.3,292.8 L1363.6,290.8 L1363.9,288.8 L1364.2,286.8 L1364.5,284.8 L1364.9,282.9 L1365.2,280.9 L1365.5,278.9 L1365.8,276.9 L1366.1,274.9 L1366.4,272.9 L1366.7,271.0 L1367.0,269.0 L1367.3,267.0 L1367.6,265.0 L1367.9,263.0 L1368.2,261.0 L1368.5,259.0 L1368.8,257.1 L1369.1,255.1 L1369.5,253.1 L1369.8,251.1 L1370.1,249.1 L1370.4,247.1 L1370.7,245.2 L1371.0,243.2 L1371.3,241.2 L1371.6,239.2 L1371.9,237.2 L1372.3,235.2 L1372.6,233.3 L1372.9,231.3 L1373.2,229.3 L1373.5,227.3 L1373.8,225.3 L1374.1,223.3 L1374.4,221.4 L1374.7,219.4 L1375.0,217.4 L1375.3,215.4 L1375.6,213.4 L1375.9,211.4 L1376.2,209.4 L1376.5,207.5 L1376.8,205.5 L1377.0,203.5 L1377.3,201.5 L1377.6,199.5 L1377.9,197.5 L1378.2,195.5 L1378.4,193.5 L1378.7,191.6 L1379.0,189.6 L1379.3,187.6 L1379.5,185.6 L1379.8,183.6 L1380.0,181.6 L1380.3,179.6 L1380.6,177.6 L1380.8,175.6 L1381.1,173.6 L1381.3,171.7 L1381.5,169.7 L1381.8,167.7 L1382.0,165.7 L1382.3,163.7 L1382.5,161.7 L1382.7,159.7 L1383.0,157.7 L1383.2,155.7 L1383.4,153.7 L1383.7,151.7 L1383.9,149.7 L1384.1,147.7 L1384.4,145.7 L1384.6,143.7 L1384.8,141.7 L1385.0,139.8 L1385.3,137.8 L1385.5,135.8 L1385.7,133.8 L1385.9,131.8 L1386.2,129.8 L1386.4,127.8 L1386.6,125.8 L1386.8,123.8 L1387.1,121.8 L1387.3,119.8 L1387.5,117.8 L1387.7,115.8 L1388.0,113.8 L1388.2,111.8 L1388.4,109.8 L1388.6,107.8 L1388.9,105.8 L1389.1,103.8 L1389.3,101.8 L1389.6,99.9 L1389.8,97.9 L1390.0,95.9 L1390.2,93.9 L1390.5,91.9 L1390.7,89.9 L1390.9,87.9 L1391.1,85.9 L1391.4,83.9 L1391.6,81.9 L1391.8,79.9 L1392.0,77.9 L1392.2,75.9 L1392.5,73.9 L1392.7,71.9 L1392.9,69.9 L1393.1,67.9 L1393.3,65.9 L1393.6,63.9 L1393.8,61.9 L1394.0,60.0 L1394.2,58.0 L1394.4,56.0 L1394.7,54.0 L1394.9,52.0 L1395.1,50.0 L1395.3,48.0 L1395.5,46.0 L1395.8,44.0 L1396.0,42.0 L1396.2,40.0 L1396.4,38.0" stroke="#ff0000" stroke-width="2.2"/>
<path d="M1073.7,38.0 L1074.0,40.0 L1074.3,42.0 L1074.5,44.0 L1074.8,46.0 L1075.1,47.9 L1075.4,49.9 L1075.6,51.9 L1075.9,53.9 L1076.2,55.9 L1076.5,57.9 L1076.7,59.9 L1077.0,61.9 L1077.3,63.9 L1077.6,65.8 L1077.9,67.8 L1078.1,69.8 L1078.4,71.8 L1078.7,73.8 L1079.0,75.8 L1079.3,77.8 L1079.5,79.8 L1079.8,81.8 L1080.1,83.7 L1080.4,85.7 L1080.7,87.7 L1080.9,89.7 L1081.2,91.7 L1081.5,93.7 L1081.8,95.7 L1082.1,97.7 L1082.3,99.7 L1082.6,101.6 L1082.9,103.6 L1083.2,105.6 L1083.5,107.6 L1083.7,109.6 L1084.0,111.6 L1084.3,113.6 L1084.6,115.6 L1084.9,117.6 L1085.2,119.5 L1085.4,121.5 L1085.7,123.5 L1086.0,125.5 L1086.3,127.5 L1086.6,129.5 L1086.9,131.5 L1087.1,133.5 L1087.4,135.4 L1087.7,137.4 L1088.0,139.4 L1088.3,141.4 L1088.6,143.4 L1088.8,145.4 L1089.1,147.4 L1089.4,149.4 L1089.7,151.4 L1090.0,153.3 L1090.3,155.3 L1090.5,157.3 L1090.8,159.3 L1091.1,161.3 L1091.4,163.3 L1091.7,165.3 L1092.0,167.3 L1092.2,169.2 L1092.5,171.2 L1092.8,173.2 L1093.1,175.2 L1093.4,177.2 L1093.7,179.2 L1094.0,181.2 L1094.3,183.2 L1094.6,185.1 L1094.9,187.1 L1095.2,189.1 L1095.5,191.1 L1095.8,193.1 L1096.1,195.1 L1096.3,197.1 L1096.6,199.0 L1096.9,201.0 L1097.2,203.0 L1097.5,205.0 L1097.8,207.0 L1098.1,209.0 L1098.4,211.0 L1098.7,212.9 L1099.1,214.9 L1099.4,216.9 L1099.7,218.9 L1100.0,220.9 L1100.3,222.9 L1100.6,224.9 L1100.9,226.8 L1101.2,228.8 L1101.6,230.8 L1101.9,232.8 L1102.2,234.8 L1102.5,236.7 L1102.9,238.7 L1103.2,240.7 L1103.5,242.7 L1103.9,244.7 L1104.2,246.6 L1104.5,248.6 L1104.9,250.6 L1105.2,252.6 L1105.6,254.6 L1105.9,256.5 L1106.3,258.5 L1106.6,260.5 L1107.0,262.5 L1107.3,264.4 L1107.7,266.4 L1108.0,268.4 L1108.4,270.4 L1108.8,272.4 L1109.1,274.3 L1109.5,276.3 L1109.9,278.3 L1110.2,280.3 L1110.6,282.2 L1111.0,284.2 L1111.3,286.2 L1111.7,288.1 L1112.1,290.1 L1112.5,292.1 L1112.8,294.1 L1113.2,296.0 L1113.6,298.0 L1114.0,300.0 L1114.4,302.0 L1114.7,303.9 L1115.1,305.9 L1115.5,307.9 L1115.9,309.8 L1116.3,311.8 L1116.7,313.8 L1117.1,315.7 L1117.5,317.7 L1117.9,319.7 L1118.3,321.7 L1118.7,323.6 L1119.1,325.6 L1119.5,327.6 L1119.9,329.5 L1120.3,331.5 L1120.7,333.5 L1121.1,335.4 L1121.5,337.4 L1121.9,339.4 L1122.3,341.3 L1122.8,343.3 L1123.2,345.3 L1123.6,347.2 L1124.0,349.2 L1124.4,351.2 L1124.8,353.1 L1125.3,355.1 L1125.7,357.0 L1126.2,359.0 L1126.6,361.0 L1127.1,362.9 L1127.5,364.9 L1128.0,366.8 L1128.5,368.8 L1129.0,370.7 L1129.5,372.7 L1130.0,374.6 L1130.5,376.6 L1131.0,378.5 L1131.5,380.5 L1132.1,382.4 L1132.6,384.3 L1133.2,386.3 L1133.8,388.2 L1134.4,390.1 L1135.0,392.0 L1135.7,393.9 L1136.3,395.8 L1137.0,397.6 L1137.8,399.6 L1138.5,401.6 L1139.4,403.5 L1140.2,405.4 L1141.3,407.1 L1142.4,408.6 L1143.8,409.9 L1145.7,410.9 L1147.1,410.5 L1148.4,408.4 L1149.5,406.2 L1150.7,405.0 L1152.1,405.7 L1153.6,407.4 L1154.9,409.2 L1156.0,410.8 L1157.0,412.6 L1157.9,414.5 L1158.7,416.4 L1159.7,418.2 L1160.7,419.9 L1161.8,421.4 L1163.2,422.9 L1164.7,424.4 L1166.3,425.7 L1167.9,426.9 L1169.7,427.7 L1171.5,428.4 L1173.4,429.1 L1175.5,429.6 L1177.5,429.9 L1179.4,430.0 L1181.4,429.7 L1183.3,429.0 L1185.2,428.1 L1187.0,427.1 L1188.7,426.1 L1190.3,424.9 L1191.8,423.6 L1193.2,422.2 L1194.7,420.7 L1196.0,419.1 L1197.3,417.5 L1198.5,416.0 L1199.7,414.4 L1200.8,412.7 L1201.9,411.0 L1202.9,409.3 L1203.9,407.5 L1204.9,405.8 L1205.9,404.0 L1206.9,402.2 L1207.8,400.5 L1208.7,398.7 L1209.6,396.9 L1210.5,395.1 L1211.4,393.3 L1212.2,391.5 L1213.1,389.6 L1213.9,387.8 L1214.7,386.0 L1215.5,384.1 L1216.3,382.3 L1217.1,380.4 L1217.8,378.6 L1218.6,376.7 L1219.3,374.8 L1220.0,372.9 L1220.8,371.1 L1221.4,369.2 L1222.1,367.3 L1222.8,365.4 L1223.4,363.5 L1224.1,361.6 L1224.7,359.7 L1225.3,357.8 L1225.8,355.8 L1226.4,353.9 L1227.0,352.0 L1227.6,350.1 L1228.2,348.1 L1228.8,346.2 L1229.4,344.3 L1230.1,342.4 L1230.7,340.5 L1231.4,338.6 L1232.0,336.7 L1232.6,334.8 L1233.2,332.9 L1233.8,331.0 L1234.4,329.0 L1234.9,327.1 L1235.4,325.2 L1235.9,323.2 L1236.4,321.3 L1236.9,319.3 L1237.3,317.4 L1237.8,315.4 L1238.2,313.5 L1238.7,311.5 L1239.1,309.5 L1239.5,307.6 L1240.0,305.6 L1240.4,303.6 L1240.9,301.7 L1241.3,299.7 L1241.8,297.8 L1242.3,295.8 L1242.7,293.9 L1243.2,291.9 L1243.7,290.0 L1244.1,288.0 L1244.6,286.1 L1245.1,284.1 L1245.5,282.2 L1246.0,280.2 L1246.5,278.2 L1247.0,276.3 L1247.4,274.3 L1247.9,272.4 L1248.4,270.4 L1248.9,268.5 L1249.4,266.5 L1249.8,264.6 L1250.3,262.7 L1250.8,260.7 L1251.3,258.8 L1251.8,256.8 L1252.4,254.9 L1252.9,252.9 L1253.4,251.0 L1253.9,249.1 L1254.4,247.1 L1254.9,245.2 L1255.5,243.2 L1256.0,241.3 L1256.5,239.4 L1257.0,237.4 L1257.5,235.5 L1258.0,233.5 L1258.6,231.6 L1259.1,229.6 L1259.6,227.7 L1260.1,225.8 L1260.6,223.8 L1261.0,221.9 L1261.5,219.9 L1262.0,218.0 L1262.5,216.0 L1263.0,214.1 L1263.5,212.1 L1264.0,210.2 L1264.4,208.2 L1264.9,206.3 L1265.4,204.3 L1265.9,202.4 L1266.4,200.4 L1266.9,198.5 L1267.4,196.5 L1267.9,194.6 L1268.4,192.6 L1268.9,190.7 L1269.3,188.7 L1269.8,186.8 L1270.3,184.8 L1270.7,182.9 L1271.2,180.9 L1271.6,179.0 L1272.0,177.0 L1272.5,175.0 L1272.9,173.1 L1273.3,171.1 L1273.7,169.1 L1274.1,167.2 L1274.5,165.2 L1274.9,163.2 L1275.4,161.3 L1275.8,159.3 L1276.2,157.3 L1276.6,155.4 L1277.0,153.4 L1277.4,151.4 L1277.8,149.5 L1278.3,147.5 L1278.8,145.6 L1279.3,143.6 L1279.9,141.6 L1280.4,139.7 L1281.0,137.7 L1281.5,135.8 L1281.9,133.8 L1282.4,131.8 L1282.8,129.9 L1283.1,127.9 L1283.3,125.9 L1283.4,123.9 L1283.5,121.9 L1283.5,120.0 L1283.4,117.9 L1283.3,115.9 L1283.2,113.9 L1283.1,111.9 L1283.0,109.9 L1282.9,107.9 L1282.7,105.9 L1282.6,103.9 L1282.4,101.9 L1282.2,99.9 L1282.0,97.9 L1281.8,95.9 L1281.6,93.9 L1281.3,91.9 L1281.1,89.9 L1280.9,87.9 L1280.6,85.9 L1280.4,83.9 L1280.2,81.9 L1279.9,79.9 L1279.7,77.9 L1279.5,75.9 L1279.3,74.0 L1279.1,72.0 L1278.9,70.0 L1278.7,68.0 L1278.5,66.0 L1278.2,64.0 L1278.0,62.0 L1277.8,60.0 L1277.6,58.0 L1277.4,56.0 L1277.2,54.0 L1277.0,52.0 L1276.8,50.0 L1276.6,48.0 L1276.3,46.0 L1276.1,44.0 L1275.9,42.0 L1275.7,40.0 L1275.5,38.0" stroke="#0000ff" stroke-width="2.9"/>
<path d="M1075.2,38.0 L1075.5,40.0 L1075.7,42.0 L1076.0,44.0 L1076.3,46.0 L1076.6,48.0 L1076.8,49.9 L1077.1,51.9 L1077.4,53.9 L1077.7,55.9 L1077.9,57.9 L1078.2,59.9 L1078.5,61.9 L1078.8,63.9 L1079.1,65.9 L1079.3,67.8 L1079.6,69.8 L1079.9,71.8 L1080.2,73.8 L1080.4,75.8 L1080.7,77.8 L1081.0,79.8 L1081.3,81.8 L1081.6,83.8 L1081.8,85.8 L1082.1,87.7 L1082.4,89.7 L1082.7,91.7 L1083.0,93.7 L1083.3,95.7 L1083.5,97.7 L1083.8,99.7 L1084.1,101.7 L1084.4,103.7 L1084.7,105.6 L1084.9,107.6 L1085.2,109.6 L1085.5,111.6 L1085.8,113.6 L1086.1,115.6 L1086.4,117.6 L1086.6,119.6 L1086.9,121.6 L1087.2,123.5 L1087.5,125.5 L1087.8,127.5 L1088.1,129.5 L1088.4,131.5 L1088.6,133.5 L1088.9,135.5 L1089.2,137.5 L1089.5,139.4 L1089.8,141.4 L1090.1,143.4 L1090.3,145.4 L1090.6,147.4 L1090.9,149.4 L1091.2,151.4 L1091.5,153.4 L1091.8,155.4 L1092.1,157.3 L1092.4,159.3 L1092.6,161.3 L1092.9,163.3 L1093.2,165.3 L1093.5,167.3 L1093.8,169.3 L1094.1,171.3 L1094.4,173.2 L1094.7,175.2 L1095.0,177.2 L1095.3,179.2 L1095.6,181.2 L1095.9,183.2 L1096.2,185.2 L1096.5,187.1 L1096.8,189.1 L1097.1,191.1 L1097.4,193.1 L1097.7,195.1 L1098.0,197.1 L1098.3,199.1 L1098.6,201.1 L1098.9,203.0 L1099.2,205.0 L1099.5,207.0 L1099.8,209.0 L1100.2,211.0 L1100.5,213.0 L1100.8,214.9 L1101.1,216.9 L1101.4,218.9 L1101.7,220.9 L1102.1,222.9 L1102.4,224.9 L1102.7,226.8 L1103.1,228.8 L1103.4,230.8 L1103.7,232.8 L1104.1,234.8 L1104.4,236.7 L1104.8,238.7 L1105.1,240.7 L1105.5,242.7 L1105.9,244.6 L1106.2,246.6 L1106.6,248.6 L1107.0,250.6 L1107.4,252.5 L1107.7,254.5 L1108.1,256.5 L1108.5,258.4 L1108.9,260.4 L1109.3,262.4 L1109.7,264.4 L1110.1,266.3 L1110.5,268.3 L1110.9,270.3 L1111.3,272.2 L1111.7,274.2 L1112.0,276.2 L1112.4,278.2 L1112.8,280.1 L1113.2,282.1 L1113.6,284.1 L1114.0,286.0 L1114.4,288.0 L1114.8,290.0 L1115.2,291.9 L1115.6,293.9 L1115.9,295.9 L1116.3,297.9 L1116.7,299.9 L1117.0,301.8 L1117.4,303.8 L1117.7,305.8 L1118.1,307.8 L1118.5,309.8 L1118.8,311.7 L1119.2,313.7 L1119.6,315.7 L1120.0,317.6 L1120.4,319.6 L1120.8,321.6 L1121.2,323.5 L1121.6,325.5 L1122.1,327.5 L1122.6,329.4 L1123.0,331.3 L1123.5,333.3 L1124.1,335.2 L1124.6,337.1 L1125.2,339.1 L1125.7,341.0 L1126.3,342.9 L1126.9,344.9 L1127.5,346.8 L1128.2,348.7 L1128.8,350.6 L1129.4,352.5 L1130.1,354.4 L1130.8,356.3 L1131.4,358.2 L1132.1,360.1 L1132.8,362.0 L1133.5,363.9 L1134.2,365.7 L1134.9,367.6 L1135.7,369.5 L1136.4,371.3 L1137.2,373.2 L1138.0,375.0 L1138.8,376.9 L1139.6,378.7 L1140.4,380.6 L1141.2,382.4 L1142.0,384.2 L1142.8,386.1 L1143.7,388.1 L1144.6,390.3 L1145.5,392.7 L1146.5,395.1 L1147.5,397.4 L1148.4,399.5 L1149.3,401.2 L1150.2,402.6 L1151.0,403.4 L1151.7,403.6 L1152.3,403.0 L1153.0,401.9 L1153.5,400.3 L1154.1,398.2 L1154.6,395.9 L1155.2,393.4 L1155.7,390.9 L1156.3,388.4 L1156.8,386.0 L1157.4,383.8 L1158.0,381.9 L1158.7,380.0 L1159.3,378.1 L1160.0,376.2 L1160.6,374.3 L1161.3,372.4 L1161.9,370.5 L1162.6,368.6 L1163.1,366.7 L1163.6,364.4 L1164.1,362.0 L1164.5,359.5 L1164.9,357.2 L1165.4,355.2 L1166.0,353.7 L1166.7,352.8 L1167.8,352.5 L1169.4,352.2 L1171.5,352.1 L1173.8,352.0 L1176.2,351.8 L1178.5,351.6 L1180.4,351.3 L1182.3,350.7 L1184.0,349.8 L1185.8,348.8 L1187.5,347.6 L1189.2,346.3 L1190.8,345.1 L1192.5,344.0 L1194.1,342.7 L1195.7,341.5 L1197.2,340.2 L1198.7,338.8 L1200.1,337.4 L1201.4,335.9 L1202.8,334.4 L1204.0,332.8 L1205.2,331.2 L1206.4,329.5 L1207.4,327.8 L1208.4,326.1 L1209.3,324.3 L1210.2,322.5 L1211.0,320.7 L1211.8,318.8 L1212.6,317.0 L1213.4,315.1 L1214.1,313.2 L1214.9,311.3 L1215.6,309.5 L1216.3,307.6 L1217.0,305.7 L1217.7,303.8 L1218.4,301.9 L1219.0,300.0 L1219.7,298.1 L1220.3,296.2 L1221.0,294.3 L1221.6,292.4 L1222.3,290.5 L1223.0,288.7 L1223.7,286.8 L1224.3,284.9 L1225.0,283.0 L1225.7,281.1 L1226.3,279.2 L1227.0,277.3 L1227.7,275.4 L1228.4,273.5 L1229.0,271.6 L1229.7,269.7 L1230.4,267.8 L1231.1,266.0 L1231.8,264.1 L1232.6,262.2 L1233.3,260.3 L1234.0,258.5 L1234.7,256.6 L1235.4,254.7 L1236.1,252.8 L1236.8,250.9 L1237.5,249.0 L1238.1,247.1 L1238.8,245.2 L1239.4,243.3 L1240.1,241.4 L1240.7,239.5 L1241.3,237.6 L1242.0,235.7 L1242.6,233.8 L1243.2,231.9 L1243.8,230.0 L1244.5,228.1 L1245.1,226.2 L1245.8,224.3 L1246.4,222.4 L1247.1,220.5 L1247.7,218.6 L1248.4,216.7 L1249.0,214.8 L1249.7,212.9 L1250.3,211.0 L1250.9,209.0 L1251.5,207.1 L1252.1,205.2 L1252.7,203.3 L1253.3,201.4 L1253.8,199.4 L1254.4,197.5 L1254.9,195.6 L1255.4,193.6 L1255.9,191.7 L1256.5,189.7 L1257.0,187.8 L1257.5,185.9 L1258.0,183.9 L1258.5,182.0 L1259.0,180.0 L1259.5,178.1 L1260.0,176.1 L1260.5,174.2 L1261.0,172.2 L1261.5,170.3 L1262.0,168.3 L1262.5,166.4 L1263.0,164.4 L1263.4,162.5 L1263.9,160.6 L1264.4,158.6 L1264.9,156.7 L1265.4,154.7 L1265.9,152.8 L1266.3,150.8 L1266.8,148.8 L1267.3,146.9 L1267.8,144.9 L1268.2,143.0 L1268.7,141.0 L1269.2,139.1 L1269.6,137.1 L1270.1,135.2 L1270.5,133.2 L1271.0,131.3 L1271.4,129.3 L1271.9,127.3 L1272.3,125.4 L1272.8,123.4 L1273.2,121.5 L1273.7,119.5 L1274.1,117.5 L1274.5,115.6 L1275.0,113.6 L1275.4,111.7 L1275.9,109.7 L1276.4,107.7 L1277.0,105.8 L1277.5,103.8 L1278.1,101.9 L1278.6,99.9 L1279.0,97.9 L1279.5,96.0 L1279.8,94.0 L1280.1,92.0 L1280.2,90.0 L1280.3,88.1 L1280.3,86.1 L1280.2,84.1 L1280.2,82.1 L1280.1,80.0 L1280.0,78.0 L1279.9,76.0 L1279.8,74.0 L1279.7,72.0 L1279.6,70.0 L1279.5,68.0 L1279.4,66.0 L1279.2,64.0 L1279.1,62.0 L1278.9,60.0 L1278.7,58.0 L1278.6,56.0 L1278.4,54.0 L1278.2,52.0 L1278.0,50.0 L1277.7,48.0 L1277.5,46.0 L1277.3,44.0 L1277.0,42.0 L1276.8,40.0 L1276.5,38.0" stroke="#bc8f8f" stroke-width="2.9"/>
<path d="M1077.3,38.0 L1077.5,40.0 L1077.8,42.0 L1078.0,44.0 L1078.3,46.0 L1078.5,48.0 L1078.7,50.0 L1079.0,52.0 L1079.2,54.0 L1079.5,56.0 L1079.7,58.0 L1080.0,60.0 L1080.2,61.9 L1080.5,63.9 L1080.8,65.9 L1081.0,67.9 L1081.3,69.9 L1081.5,71.9 L1081.8,73.9 L1082.1,75.9 L1082.3,77.9 L1082.6,79.9 L1082.9,81.9 L1083.2,83.9 L1083.4,85.9 L1083.7,87.9 L1084.0,89.8 L1084.3,91.8 L1084.5,93.8 L1084.8,95.8 L1085.1,97.8 L1085.4,99.8 L1085.7,101.8 L1085.9,103.8 L1086.2,105.8 L1086.5,107.8 L1086.8,109.7 L1087.1,111.7 L1087.4,113.7 L1087.7,115.7 L1088.0,117.7 L1088.3,119.7 L1088.6,121.7 L1088.8,123.7 L1089.1,125.6 L1089.4,127.6 L1089.7,129.6 L1090.0,131.6 L1090.3,133.6 L1090.6,135.6 L1090.9,137.6 L1091.2,139.6 L1091.6,141.5 L1091.9,143.5 L1092.2,145.5 L1092.5,147.5 L1092.9,149.5 L1093.2,151.5 L1093.5,153.4 L1093.9,155.4 L1094.2,157.4 L1094.6,159.4 L1094.9,161.4 L1095.3,163.3 L1095.6,165.3 L1095.9,167.3 L1096.3,169.3 L1096.6,171.3 L1096.9,173.2 L1097.3,175.2 L1097.6,177.2 L1097.9,179.2 L1098.2,181.2 L1098.6,183.2 L1098.9,185.2 L1099.2,187.1 L1099.5,189.1 L1099.8,191.1 L1100.0,193.1 L1100.3,195.1 L1100.6,197.1 L1100.9,199.1 L1101.2,201.1 L1101.4,203.1 L1101.7,205.1 L1102.0,207.0 L1102.2,209.0 L1102.5,211.0 L1102.8,213.0 L1103.0,215.0 L1103.3,217.0 L1103.6,219.0 L1103.8,221.0 L1104.1,223.0 L1104.4,225.0 L1104.7,227.0 L1104.9,229.0 L1105.2,230.9 L1105.5,232.9 L1105.8,234.9 L1106.1,236.9 L1106.5,238.9 L1106.8,240.9 L1107.1,242.9 L1107.4,244.8 L1107.7,246.8 L1108.1,248.8 L1108.4,250.8 L1108.8,252.8 L1109.1,254.7 L1109.5,256.7 L1109.8,258.7 L1110.2,260.7 L1110.6,262.7 L1110.9,264.6 L1111.3,266.6 L1111.7,268.6 L1112.0,270.6 L1112.4,272.6 L1112.8,274.5 L1113.2,276.5 L1113.6,278.5 L1114.0,280.5 L1114.4,282.4 L1114.8,284.4 L1115.3,286.4 L1115.7,288.3 L1116.2,290.3 L1116.7,292.2 L1117.2,294.1 L1117.7,296.1 L1118.3,298.0 L1118.9,299.9 L1119.6,301.8 L1120.2,303.7 L1120.9,305.6 L1121.5,307.5 L1122.1,309.5 L1122.7,311.4 L1123.3,313.3 L1123.8,315.2 L1124.4,317.2 L1125.0,319.1 L1125.6,321.0 L1126.2,322.9 L1126.9,324.8 L1127.5,326.7 L1128.2,328.6 L1129.0,330.4 L1129.8,332.3 L1130.6,334.1 L1131.5,335.9 L1132.5,337.7 L1133.5,339.5 L1134.5,341.2 L1135.6,342.9 L1136.7,344.7 L1137.9,346.6 L1139.2,348.4 L1140.5,350.0 L1142.0,351.1 L1143.6,351.6 L1145.4,352.0 L1147.4,352.4 L1149.6,352.6 L1151.6,352.7 L1153.7,352.7 L1156.1,352.7 L1158.4,352.7 L1160.8,352.7 L1163.0,352.7 L1164.9,352.7 L1166.3,352.7 L1167.2,352.6 L1167.9,351.3 L1168.4,349.2 L1168.9,346.7 L1169.4,344.2 L1169.9,342.2 L1170.4,340.3 L1171.0,338.4 L1171.5,336.4 L1172.0,334.5 L1172.4,332.5 L1172.8,330.5 L1173.1,328.6 L1173.4,326.6 L1173.7,324.6 L1174.0,322.6 L1174.3,320.6 L1174.5,318.6 L1174.7,316.6 L1175.0,314.6 L1175.2,312.6 L1175.4,310.6 L1175.6,308.6 L1175.8,306.6 L1176.0,304.6 L1176.2,302.6 L1176.4,300.6 L1176.6,298.6 L1176.8,296.6 L1177.0,294.6 L1177.3,292.6 L1177.5,290.6 L1177.7,288.6 L1177.9,286.6 L1178.1,284.6 L1178.4,282.6 L1178.6,280.6 L1178.8,278.6 L1179.0,276.5 L1179.2,274.4 L1179.4,272.4 L1179.7,270.5 L1180.4,268.8 L1181.8,267.2 L1183.4,266.0 L1185.2,265.1 L1187.1,264.3 L1188.9,263.4 L1190.4,262.2 L1191.6,260.7 L1192.8,259.0 L1194.0,257.3 L1195.2,255.7 L1196.5,254.2 L1197.9,252.7 L1199.3,251.2 L1200.6,249.7 L1201.9,248.2 L1203.1,246.6 L1204.1,244.9 L1205.2,243.1 L1206.2,241.4 L1207.3,239.7 L1208.4,238.1 L1209.6,236.4 L1210.9,234.8 L1212.1,233.2 L1213.3,231.6 L1214.3,229.9 L1215.4,228.2 L1216.4,226.5 L1217.3,224.7 L1218.3,223.0 L1219.2,221.2 L1220.2,219.4 L1221.0,217.5 L1221.9,215.7 L1222.7,213.9 L1223.5,212.0 L1224.3,210.2 L1225.1,208.3 L1225.8,206.5 L1226.5,204.6 L1227.2,202.7 L1227.9,200.9 L1228.5,199.0 L1229.2,197.1 L1229.8,195.2 L1230.4,193.2 L1231.0,191.3 L1231.6,189.4 L1232.2,187.5 L1232.8,185.5 L1233.4,183.6 L1233.9,181.7 L1234.5,179.7 L1235.1,177.8 L1235.6,175.9 L1236.2,173.9 L1236.7,172.0 L1237.3,170.1 L1237.9,168.1 L1238.4,166.2 L1239.0,164.3 L1239.6,162.3 L1240.2,160.4 L1240.8,158.5 L1241.4,156.6 L1241.9,154.6 L1242.5,152.7 L1243.1,150.8 L1243.7,148.9 L1244.3,146.9 L1244.9,145.0 L1245.4,143.1 L1246.0,141.2 L1246.6,139.2 L1247.2,137.3 L1247.7,135.4 L1248.3,133.5 L1248.9,131.5 L1249.5,129.6 L1250.0,127.7 L1250.6,125.8 L1251.2,123.8 L1251.8,121.9 L1252.3,120.0 L1252.9,118.1 L1253.5,116.1 L1254.0,114.2 L1254.6,112.3 L1255.2,110.3 L1255.8,108.4 L1256.3,106.5 L1256.9,104.5 L1257.4,102.6 L1257.9,100.7 L1258.5,98.7 L1259.0,96.8 L1259.5,94.8 L1260.1,92.9 L1260.6,90.9 L1261.1,89.0 L1261.7,87.1 L1262.2,85.1 L1262.8,83.2 L1263.3,81.3 L1263.9,79.3 L1264.5,77.4 L1265.1,75.5 L1265.7,73.6 L1266.4,71.7 L1267.0,69.8 L1267.7,67.9 L1268.5,66.1 L1269.3,64.2 L1270.2,62.4 L1271.1,60.6 L1272.0,58.8 L1273.0,57.0 L1273.9,55.2 L1274.8,53.4 L1275.6,51.5 L1276.3,49.7 L1277.0,47.8 L1277.5,45.9 L1278.0,44.0 L1278.4,42.0 L1278.7,40.0 L1279.0,38.0" stroke="#9400d3" stroke-width="2.9"/>
<path d="M1078.1,38.0 L1078.3,40.0 L1078.6,42.0 L1078.8,44.0 L1079.1,46.0 L1079.3,48.0 L1079.5,50.0 L1079.8,52.0 L1080.0,54.0 L1080.3,56.0 L1080.5,58.0 L1080.8,59.9 L1081.0,61.9 L1081.3,63.9 L1081.6,65.9 L1081.8,67.9 L1082.1,69.9 L1082.3,71.9 L1082.6,73.9 L1082.9,75.9 L1083.1,77.9 L1083.4,79.9 L1083.7,81.9 L1084.0,83.8 L1084.2,85.8 L1084.5,87.8 L1084.8,89.8 L1085.0,91.8 L1085.3,93.8 L1085.6,95.8 L1085.9,97.8 L1086.2,99.8 L1086.5,101.8 L1086.7,103.7 L1087.0,105.7 L1087.3,107.7 L1087.6,109.7 L1087.9,111.7 L1088.2,113.7 L1088.5,115.7 L1088.8,117.7 L1089.1,119.6 L1089.3,121.6 L1089.6,123.6 L1089.9,125.6 L1090.2,127.6 L1090.5,129.6 L1090.8,131.6 L1091.1,133.6 L1091.4,135.5 L1091.7,137.5 L1092.0,139.5 L1092.4,141.5 L1092.7,143.5 L1093.0,145.5 L1093.3,147.4 L1093.7,149.4 L1094.0,151.4 L1094.3,153.4 L1094.7,155.4 L1095.0,157.3 L1095.4,159.3 L1095.7,161.3 L1096.0,163.3 L1096.4,165.3 L1096.7,167.2 L1097.1,169.2 L1097.4,171.2 L1097.7,173.2 L1098.1,175.2 L1098.4,177.2 L1098.7,179.1 L1099.0,181.1 L1099.4,183.1 L1099.7,185.1 L1100.0,187.1 L1100.3,189.1 L1100.5,191.1 L1100.8,193.0 L1101.1,195.0 L1101.4,197.0 L1101.7,199.0 L1101.9,201.0 L1102.2,203.0 L1102.5,205.0 L1102.7,207.0 L1103.0,209.0 L1103.2,211.0 L1103.5,213.0 L1103.8,215.0 L1104.0,216.9 L1104.3,218.9 L1104.6,220.9 L1104.9,222.9 L1105.1,224.9 L1105.4,226.9 L1105.7,228.9 L1106.0,230.9 L1106.3,232.9 L1106.6,234.8 L1106.9,236.8 L1107.3,238.8 L1107.6,240.8 L1107.9,242.8 L1108.3,244.8 L1108.6,246.7 L1109.0,248.7 L1109.3,250.7 L1109.7,252.7 L1110.1,254.6 L1110.5,256.6 L1110.9,258.6 L1111.3,260.5 L1111.8,262.5 L1112.2,264.5 L1112.6,266.4 L1113.0,268.4 L1113.5,270.4 L1113.9,272.4 L1114.4,274.3 L1114.8,276.3 L1115.3,278.3 L1115.8,280.2 L1116.2,282.2 L1116.7,284.1 L1117.2,286.1 L1117.8,288.0 L1118.3,290.0 L1118.8,291.9 L1119.4,293.8 L1119.9,295.7 L1120.5,297.7 L1121.1,299.6 L1121.7,301.5 L1122.3,303.4 L1122.9,305.2 L1123.6,307.1 L1124.3,309.0 L1125.1,310.8 L1125.8,312.7 L1126.7,314.5 L1127.5,316.4 L1128.3,318.2 L1129.2,320.0 L1130.1,321.9 L1131.0,323.7 L1131.8,325.5 L1132.7,327.3 L1133.6,329.1 L1134.4,330.9 L1135.3,332.8 L1136.1,334.6 L1137.0,336.4 L1137.9,338.2 L1138.8,340.0 L1139.8,341.7 L1140.9,343.5 L1142.0,345.3 L1143.1,347.1 L1144.4,348.7 L1145.8,349.9 L1147.5,350.8 L1149.6,351.5 L1151.5,352.0 L1153.1,351.7 L1154.5,350.6 L1155.7,348.9 L1156.9,346.9 L1158.1,344.8 L1159.1,343.0 L1160.2,341.3 L1161.2,339.5 L1162.1,337.7 L1163.0,335.9 L1163.7,334.0 L1164.4,332.2 L1164.9,330.3 L1165.3,328.3 L1165.8,326.4 L1166.2,324.4 L1166.5,322.4 L1166.9,320.4 L1167.2,318.4 L1167.6,316.4 L1167.9,314.4 L1168.3,312.5 L1168.6,310.5 L1168.9,308.5 L1169.3,306.5 L1169.6,304.5 L1169.9,302.5 L1170.2,300.6 L1170.5,298.6 L1170.9,296.6 L1171.3,294.6 L1171.7,292.7 L1172.1,290.7 L1172.5,288.7 L1172.9,286.7 L1173.3,284.8 L1173.7,282.8 L1174.2,280.9 L1174.7,278.9 L1175.2,276.9 L1175.7,275.0 L1176.2,273.1 L1176.8,271.2 L1177.4,269.3 L1178.1,267.4 L1178.8,265.5 L1179.4,263.5 L1179.8,261.6 L1180.3,259.6 L1180.7,257.7 L1181.1,255.7 L1181.5,253.7 L1181.9,251.8 L1182.2,249.8 L1182.6,247.8 L1182.9,245.8 L1183.3,243.8 L1183.6,241.9 L1183.9,239.9 L1184.2,237.9 L1184.5,235.9 L1184.8,233.9 L1185.1,231.9 L1185.3,229.9 L1185.5,227.9 L1185.7,225.9 L1185.9,223.9 L1186.0,221.9 L1186.2,219.9 L1186.3,217.9 L1186.4,215.9 L1186.6,213.9 L1186.7,211.9 L1186.9,209.9 L1187.1,207.9 L1187.3,205.9 L1187.5,203.9 L1187.8,201.9 L1188.1,199.9 L1188.5,198.0 L1188.9,196.0 L1189.4,194.0 L1189.8,192.1 L1190.2,190.1 L1190.6,188.1 L1191.0,186.1 L1191.3,184.1 L1191.5,182.1 L1191.8,180.1 L1192.0,178.0 L1192.2,176.0 L1192.4,173.9 L1192.7,171.9 L1192.9,170.0 L1193.3,168.1 L1193.7,166.2 L1194.3,164.5 L1195.2,162.8 L1196.3,161.1 L1197.6,159.5 L1199.0,157.9 L1200.4,156.3 L1201.7,154.7 L1202.8,153.0 L1203.9,151.4 L1205.0,149.7 L1206.2,148.0 L1207.3,146.3 L1208.4,144.6 L1209.4,142.9 L1210.5,141.2 L1211.6,139.5 L1212.6,137.8 L1213.6,136.0 L1214.6,134.3 L1215.5,132.5 L1216.4,130.8 L1217.3,129.0 L1218.2,127.2 L1219.0,125.3 L1219.9,123.5 L1220.7,121.7 L1221.5,119.8 L1222.3,118.0 L1223.1,116.2 L1223.9,114.3 L1224.7,112.5 L1225.5,110.6 L1226.3,108.7 L1227.1,106.9 L1227.9,105.1 L1228.7,103.2 L1229.5,101.4 L1230.3,99.5 L1231.1,97.7 L1231.8,95.8 L1232.6,94.0 L1233.4,92.1 L1234.2,90.3 L1234.9,88.4 L1235.7,86.5 L1236.5,84.7 L1237.2,82.8 L1238.0,81.0 L1238.7,79.1 L1239.5,77.2 L1240.3,75.4 L1241.0,73.5 L1241.8,71.7 L1242.5,69.8 L1243.3,67.9 L1244.0,66.1 L1244.8,64.2 L1245.5,62.3 L1246.3,60.5 L1247.0,58.6 L1247.7,56.7 L1248.5,54.9 L1249.2,53.0 L1250.0,51.1 L1250.7,49.3 L1251.4,47.4 L1252.1,45.5 L1252.9,43.6 L1253.6,41.8 L1254.3,39.9 L1255.0,38.0" stroke="#ff00ff" stroke-width="3.2"/>
<path d="M1080.3,38.0 L1080.5,40.0 L1080.7,42.0 L1081.0,44.0 L1081.2,46.0 L1081.4,48.0 L1081.6,50.0 L1081.9,52.0 L1082.1,54.0 L1082.4,56.0 L1082.6,58.0 L1082.8,60.0 L1083.1,62.0 L1083.4,64.0 L1083.6,66.0 L1083.9,68.0 L1084.1,70.0 L1084.4,72.0 L1084.7,74.0 L1084.9,75.9 L1085.2,77.9 L1085.5,79.9 L1085.8,81.9 L1086.1,83.9 L1086.4,85.9 L1086.6,87.9 L1086.9,89.9 L1087.2,91.9 L1087.5,93.9 L1087.8,95.8 L1088.1,97.8 L1088.4,99.8 L1088.7,101.8 L1089.0,103.8 L1089.4,105.8 L1089.7,107.8 L1090.0,109.7 L1090.3,111.7 L1090.6,113.7 L1090.9,115.7 L1091.3,117.7 L1091.6,119.7 L1091.9,121.6 L1092.2,123.6 L1092.6,125.6 L1092.9,127.6 L1093.2,129.6 L1093.5,131.6 L1093.9,133.5 L1094.2,135.5 L1094.6,137.5 L1094.9,139.5 L1095.3,141.4 L1095.6,143.4 L1096.0,145.4 L1096.3,147.4 L1096.7,149.3 L1097.1,151.3 L1097.5,153.3 L1097.9,155.3 L1098.3,157.2 L1098.7,159.2 L1099.1,161.2 L1099.5,163.1 L1099.9,165.1 L1100.3,167.1 L1100.7,169.1 L1101.1,171.0 L1101.6,173.0 L1102.0,175.0 L1102.4,176.9 L1102.8,178.9 L1103.2,180.9 L1103.6,182.8 L1104.0,184.8 L1104.5,186.8 L1104.9,188.7 L1105.3,190.7 L1105.7,192.7 L1106.1,194.7 L1106.4,196.6 L1106.8,198.6 L1107.2,200.6 L1107.6,202.6 L1108.0,204.6 L1108.4,206.5 L1108.8,208.5 L1109.2,210.5 L1109.6,212.5 L1110.0,214.4 L1110.5,216.4 L1110.9,218.3 L1111.4,220.3 L1111.9,222.2 L1112.4,224.2 L1112.9,226.1 L1113.4,228.0 L1114.0,229.9 L1114.6,231.9 L1115.3,233.7 L1116.0,235.6 L1116.7,237.5 L1117.5,239.4 L1118.3,241.2 L1119.0,243.1 L1119.8,244.9 L1120.5,246.8 L1121.3,248.7 L1122.1,250.5 L1122.9,252.4 L1123.7,254.2 L1124.5,256.0 L1125.4,257.9 L1126.2,259.8 L1127.1,261.6 L1128.0,263.5 L1129.0,265.3 L1130.0,266.9 L1131.2,268.5 L1132.5,269.9 L1134.0,271.4 L1135.6,272.7 L1137.4,273.6 L1139.2,274.3 L1141.1,274.9 L1143.1,275.4 L1145.1,275.7 L1147.1,275.8 L1149.1,275.8 L1151.2,275.7 L1153.2,275.7 L1155.2,275.5 L1157.2,275.4 L1159.1,274.9 L1161.0,274.3 L1163.0,273.7 L1164.9,273.3 L1166.9,272.9 L1168.9,272.5 L1170.9,272.1 L1173.0,271.6 L1174.9,270.9 L1176.1,269.8 L1177.0,267.8 L1177.5,265.8 L1177.7,263.9 L1177.8,261.9 L1178.0,259.8 L1178.1,257.8 L1178.2,255.8 L1178.4,253.8 L1178.7,251.8 L1179.0,249.8 L1179.3,247.8 L1179.7,245.8 L1180.1,243.8 L1180.4,241.9 L1180.7,239.9 L1181.0,237.9 L1181.3,235.9 L1181.6,233.9 L1182.0,231.9 L1182.4,230.0 L1183.0,228.1 L1183.7,226.2 L1184.5,224.3 L1185.3,222.4 L1185.9,220.5 L1186.3,218.6 L1186.6,216.6 L1186.9,214.6 L1187.1,212.6 L1187.3,210.6 L1187.5,208.6 L1187.7,206.6 L1187.9,204.6 L1188.2,202.6 L1188.4,200.6 L1188.7,198.6 L1189.0,196.6 L1189.3,194.6 L1189.5,192.6 L1189.8,190.6 L1190.1,188.7 L1190.4,186.7 L1190.7,184.7 L1191.0,182.7 L1191.2,180.7 L1191.5,178.7 L1191.8,176.7 L1192.0,174.7 L1192.3,172.7 L1192.5,170.7 L1192.8,168.7 L1193.0,166.7 L1193.2,164.7 L1193.5,162.7 L1193.7,160.7 L1193.9,158.7 L1194.1,156.7 L1194.3,154.7 L1194.5,152.7 L1194.7,150.7 L1194.9,148.7 L1195.1,146.7 L1195.4,144.7 L1195.6,142.7 L1195.8,140.7 L1196.0,138.7 L1196.2,136.7 L1196.4,134.7 L1196.6,132.7 L1196.8,130.7 L1197.0,128.7 L1197.2,126.7 L1197.4,124.7 L1197.6,122.7 L1197.8,120.7 L1197.9,118.7 L1198.1,116.7 L1198.3,114.7 L1198.5,112.7 L1198.7,110.7 L1198.9,108.7 L1199.1,106.7 L1199.3,104.7 L1199.5,102.7 L1199.8,100.7 L1200.0,98.7 L1200.2,96.7 L1200.4,94.7 L1200.6,92.7 L1200.8,90.7 L1201.0,88.7 L1201.2,86.7 L1201.4,84.7 L1201.7,82.7 L1201.9,80.7 L1202.1,78.7 L1202.4,76.7 L1202.7,74.7 L1203.0,72.7 L1203.3,70.8 L1203.7,68.8 L1204.1,66.9 L1204.6,64.9 L1205.2,63.0 L1205.8,61.1 L1206.5,59.2 L1207.2,57.3 L1208.0,55.4 L1208.8,53.5 L1209.7,51.7 L1210.5,49.9 L1211.5,48.2 L1212.6,46.5 L1213.7,44.8 L1214.9,43.2 L1216.0,41.5 L1217.0,39.7 L1218.0,38.0" stroke="#6418bf" stroke-width="2.9"/>
<path d="M1081.3,38.0 L1081.5,40.0 L1081.8,42.0 L1082.0,44.0 L1082.2,46.0 L1082.5,48.0 L1082.7,50.0 L1083.0,52.0 L1083.2,54.0 L1083.5,56.0 L1083.8,58.0 L1084.0,60.0 L1084.3,62.0 L1084.6,64.0 L1084.9,66.0 L1085.2,68.0 L1085.4,70.0 L1085.7,72.0 L1086.0,74.0 L1086.3,76.0 L1086.6,78.0 L1086.9,80.0 L1087.2,82.0 L1087.5,84.0 L1087.9,86.0 L1088.2,88.0 L1088.5,90.0 L1088.8,92.0 L1089.1,93.9 L1089.5,95.9 L1089.8,97.9 L1090.1,99.9 L1090.4,101.9 L1090.8,103.9 L1091.1,105.9 L1091.5,107.9 L1091.8,109.8 L1092.1,111.8 L1092.5,113.8 L1092.8,115.8 L1093.2,117.8 L1093.5,119.8 L1093.9,121.7 L1094.3,123.7 L1094.6,125.7 L1095.0,127.7 L1095.3,129.7 L1095.7,131.7 L1096.1,133.6 L1096.4,135.6 L1096.8,137.6 L1097.2,139.6 L1097.6,141.5 L1098.0,143.5 L1098.4,145.5 L1098.8,147.5 L1099.2,149.4 L1099.7,151.4 L1100.1,153.4 L1100.5,155.3 L1101.0,157.3 L1101.4,159.3 L1101.9,161.2 L1102.3,163.2 L1102.8,165.2 L1103.2,167.1 L1103.7,169.1 L1104.2,171.1 L1104.6,173.0 L1105.1,175.0 L1105.5,177.0 L1105.9,178.9 L1106.4,180.9 L1106.8,182.9 L1107.2,184.8 L1107.7,186.8 L1108.1,188.8 L1108.5,190.8 L1108.9,192.7 L1109.2,194.7 L1109.6,196.7 L1110.0,198.7 L1110.3,200.7 L1110.7,202.7 L1111.0,204.7 L1111.4,206.7 L1111.8,208.7 L1112.1,210.7 L1112.5,212.6 L1112.9,214.6 L1113.3,216.6 L1113.7,218.6 L1114.2,220.5 L1114.6,222.5 L1115.1,224.4 L1115.6,226.4 L1116.1,228.3 L1116.7,230.2 L1117.3,232.1 L1118.0,234.0 L1118.7,235.9 L1119.5,237.7 L1120.3,239.6 L1121.1,241.5 L1121.9,243.3 L1122.6,245.2 L1123.3,247.1 L1124.0,249.0 L1124.8,250.9 L1125.5,252.7 L1126.4,254.6 L1127.3,256.4 L1128.2,258.2 L1129.2,260.0 L1130.3,261.7 L1131.4,263.4 L1132.6,265.0 L1133.9,266.5 L1135.3,267.9 L1136.8,269.2 L1138.5,270.5 L1140.1,271.6 L1141.8,272.7 L1143.7,273.7 L1145.5,274.4 L1147.4,274.9 L1149.4,275.3 L1151.4,275.5 L1153.5,275.3 L1155.5,274.8 L1157.4,274.1 L1159.0,273.3 L1160.5,271.9 L1161.9,270.3 L1163.2,268.7 L1164.4,267.1 L1165.5,265.4 L1166.6,263.7 L1167.6,261.9 L1168.6,260.2 L1169.6,258.4 L1170.5,256.6 L1171.2,254.7 L1171.9,252.8 L1172.5,250.9 L1173.0,249.0 L1173.6,247.0 L1174.2,245.1 L1174.8,243.2 L1175.4,241.2 L1175.9,239.3 L1176.5,237.4 L1177.0,235.4 L1177.5,233.5 L1178.0,231.5 L1178.4,229.5 L1178.8,227.6 L1179.1,225.6 L1179.5,223.6 L1179.8,221.6 L1180.1,219.6 L1180.4,217.6 L1180.7,215.6 L1181.0,213.6 L1181.3,211.6 L1181.6,209.6 L1181.9,207.6 L1182.2,205.6 L1182.6,203.7 L1182.9,201.7 L1183.2,199.7 L1183.5,197.7 L1183.9,195.7 L1184.2,193.7 L1184.5,191.7 L1184.8,189.7 L1185.2,187.7 L1185.5,185.8 L1185.8,183.8 L1186.2,181.8 L1186.5,179.8 L1186.8,177.8 L1187.2,175.8 L1187.5,173.8 L1187.9,171.8 L1188.2,169.9 L1188.6,167.9 L1188.9,165.9 L1189.3,163.9 L1189.6,161.9 L1190.0,159.9 L1190.4,158.0 L1190.8,156.0 L1191.3,154.0 L1191.7,152.0 L1192.2,150.1 L1192.6,148.1 L1193.1,146.1 L1193.5,144.2 L1193.9,142.2 L1194.3,140.2 L1194.7,138.2 L1195.0,136.3 L1195.2,134.3 L1195.5,132.3 L1195.8,130.3 L1196.0,128.3 L1196.2,126.3 L1196.4,124.3 L1196.7,122.3 L1196.9,120.3 L1197.1,118.3 L1197.3,116.3 L1197.4,114.3 L1197.6,112.3 L1197.8,110.2 L1198.0,108.2 L1198.2,106.2 L1198.3,104.2 L1198.5,102.2 L1198.7,100.2 L1198.9,98.2 L1199.0,96.2 L1199.2,94.2 L1199.4,92.1 L1199.6,90.1 L1199.8,88.1 L1200.0,86.1 L1200.2,84.1 L1200.4,82.1 L1200.6,80.1 L1200.8,78.1 L1201.0,76.1 L1201.2,74.1 L1201.4,72.1 L1201.6,70.1 L1201.8,68.1 L1202.1,66.1 L1202.3,64.1 L1202.5,62.1 L1202.7,60.1 L1202.9,58.0 L1203.1,56.0 L1203.3,54.0 L1203.5,52.0 L1203.7,50.0 L1203.9,48.0 L1204.2,46.0 L1204.4,44.0 L1204.6,42.0 L1204.8,40.0 L1205.0,38.0" stroke="#40e0d0" stroke-width="3.0"/>
<path d="M1088.0,38.0 L1088.1,40.0 L1088.3,42.0 L1088.4,44.1 L1088.6,46.1 L1088.8,48.1 L1089.0,50.1 L1089.2,52.1 L1089.4,54.1 L1089.7,56.1 L1089.9,58.2 L1090.2,60.2 L1090.4,62.2 L1090.7,64.2 L1090.9,66.2 L1091.2,68.2 L1091.5,70.2 L1091.8,72.2 L1092.1,74.1 L1092.4,76.1 L1092.7,78.1 L1093.0,80.1 L1093.4,82.1 L1093.7,84.1 L1094.0,86.1 L1094.4,88.1 L1094.7,90.0 L1095.1,92.0 L1095.5,94.0 L1095.9,96.0 L1096.3,98.0 L1096.8,99.9 L1097.2,101.9 L1097.7,103.9 L1098.2,105.8 L1098.7,107.8 L1099.2,109.8 L1099.7,111.7 L1100.2,113.7 L1100.7,115.6 L1101.2,117.6 L1101.8,119.5 L1102.3,121.4 L1102.9,123.4 L1103.5,125.3 L1104.1,127.2 L1104.7,129.2 L1105.3,131.1 L1105.9,133.0 L1106.6,134.9 L1107.2,136.9 L1107.9,138.8 L1108.6,140.7 L1109.3,142.6 L1110.0,144.5 L1110.7,146.3 L1111.4,148.2 L1112.1,150.1 L1112.8,152.0 L1113.6,153.9 L1114.3,155.8 L1115.1,157.7 L1115.8,159.6 L1116.6,161.5 L1117.5,163.4 L1118.3,165.2 L1119.2,167.0 L1120.2,168.7 L1121.1,170.4 L1122.2,172.1 L1123.3,173.9 L1124.5,175.6 L1125.8,177.3 L1127.2,179.0 L1128.6,180.4 L1130.1,181.6 L1131.7,182.6 L1133.4,183.4 L1135.3,184.2 L1137.3,184.9 L1139.3,185.4 L1141.3,185.7 L1143.3,185.8 L1145.3,185.8 L1147.4,185.8 L1149.4,185.8 L1151.4,185.7 L1153.5,185.7 L1155.5,185.6 L1157.5,185.6 L1159.5,185.5 L1161.5,185.3 L1163.4,184.8 L1165.3,184.1 L1167.2,183.2 L1169.1,182.4 L1170.9,181.6 L1172.9,180.9 L1174.8,180.1 L1176.7,179.4 L1178.6,178.6 L1180.4,177.7 L1182.2,176.8 L1183.9,175.8 L1185.5,174.6 L1187.2,173.3 L1188.5,171.7 L1189.0,170.0 L1189.3,168.2 L1189.6,166.2 L1189.8,164.1 L1190.0,162.0 L1190.1,159.9 L1190.3,157.8 L1190.5,155.8 L1190.8,153.8 L1191.0,151.8 L1191.2,149.8 L1191.5,147.8 L1191.7,145.8 L1192.0,143.8 L1192.2,141.8 L1192.5,139.7 L1192.7,137.7 L1192.9,135.7 L1193.2,133.7 L1193.4,131.7 L1193.6,129.7 L1193.8,127.7 L1194.0,125.7 L1194.2,123.7 L1194.4,121.7 L1194.6,119.7 L1194.8,117.7 L1195.0,115.7 L1195.2,113.6 L1195.4,111.6 L1195.6,109.6 L1195.7,107.6 L1195.9,105.6 L1196.1,103.6 L1196.3,101.6 L1196.5,99.6 L1196.7,97.6 L1197.0,95.6 L1197.2,93.6 L1197.4,91.6 L1197.7,89.6 L1198.0,87.6 L1198.2,85.6 L1198.5,83.6 L1198.8,81.6 L1199.2,79.6 L1199.5,77.6 L1199.8,75.6 L1200.2,73.6 L1200.5,71.6 L1200.9,69.6 L1201.3,67.6 L1201.6,65.6 L1202.0,63.7 L1202.4,61.7 L1202.8,59.7 L1203.1,57.7 L1203.5,55.7 L1203.9,53.8 L1204.4,51.8 L1204.8,49.8 L1205.2,47.8 L1205.7,45.9 L1206.1,43.9 L1206.6,41.9 L1207.0,40.0 L1207.5,38.0" stroke="#000000" stroke-width="2.9"/>
<path d="M1089.0,38.0 L1089.1,40.0 L1089.3,42.0 L1089.4,44.1 L1089.6,46.1 L1089.8,48.1 L1090.0,50.1 L1090.2,52.1 L1090.4,54.1 L1090.7,56.1 L1090.9,58.1 L1091.1,60.1 L1091.4,62.1 L1091.7,64.1 L1091.9,66.1 L1092.2,68.1 L1092.5,70.1 L1092.8,72.1 L1093.1,74.1 L1093.4,76.1 L1093.7,78.1 L1094.0,80.0 L1094.3,82.0 L1094.7,84.0 L1095.0,86.0 L1095.3,88.0 L1095.7,90.0 L1096.1,91.9 L1096.5,93.9 L1096.9,95.9 L1097.3,97.9 L1097.7,99.8 L1098.2,101.8 L1098.7,103.8 L1099.1,105.7 L1099.6,107.7 L1100.1,109.6 L1100.6,111.6 L1101.2,113.5 L1101.7,115.5 L1102.2,117.4 L1102.7,119.4 L1103.3,121.3 L1103.8,123.2 L1104.4,125.2 L1105.0,127.1 L1105.6,129.0 L1106.2,130.9 L1106.9,132.9 L1107.5,134.8 L1108.2,136.7 L1108.8,138.6 L1109.5,140.5 L1110.2,142.4 L1110.9,144.3 L1111.6,146.2 L1112.3,148.0 L1113.0,149.9 L1113.8,151.8 L1114.5,153.7 L1115.2,155.6 L1116.0,157.6 L1116.7,159.5 L1117.5,161.3 L1118.3,163.2 L1119.2,165.0 L1120.1,166.8 L1121.0,168.6 L1122.0,170.2 L1123.1,171.9 L1124.2,173.6 L1125.5,175.3 L1126.8,177.0 L1128.2,178.6 L1129.6,180.0 L1131.2,181.2 L1132.8,182.1 L1134.5,183.0 L1136.4,183.7 L1138.4,184.4 L1140.5,184.8 L1142.5,185.0 L1144.5,185.0 L1146.5,185.0 L1148.5,185.0 L1150.6,184.9 L1152.6,184.9 L1154.7,184.9 L1156.7,184.8 L1158.7,184.8 L1160.6,184.7 L1162.6,184.3 L1164.7,183.5 L1166.6,182.5 L1168.4,181.4 L1169.8,180.2 L1170.8,179.0 L1171.8,177.5 L1172.7,175.8 L1173.4,174.0 L1174.1,172.0 L1174.8,169.9 L1175.4,167.8 L1176.0,165.7 L1176.7,163.6 L1177.3,161.6 L1177.9,159.7 L1178.6,157.8 L1179.2,155.9 L1179.9,154.0 L1180.5,152.1 L1181.1,150.1 L1181.7,148.2 L1182.3,146.3 L1182.9,144.3 L1183.4,142.4 L1183.9,140.5 L1184.4,138.5 L1184.9,136.5 L1185.3,134.6 L1185.7,132.6 L1186.1,130.6 L1186.4,128.7 L1186.8,126.7 L1187.1,124.7 L1187.4,122.7 L1187.7,120.7 L1188.0,118.7 L1188.3,116.7 L1188.6,114.7 L1188.9,112.7 L1189.2,110.7 L1189.5,108.7 L1189.9,106.7 L1190.2,104.8 L1190.6,102.8 L1190.9,100.8 L1191.2,98.8 L1191.6,96.8 L1191.9,94.8 L1192.3,92.8 L1192.6,90.8 L1193.0,88.8 L1193.3,86.9 L1193.7,84.9 L1194.1,82.9 L1194.5,80.9 L1194.9,79.0 L1195.3,77.0 L1195.8,75.1 L1196.3,73.1 L1196.8,71.2 L1197.3,69.2 L1197.9,67.3 L1198.4,65.3 L1199.0,63.4 L1199.5,61.4 L1200.1,59.5 L1200.6,57.5 L1201.1,55.6 L1201.6,53.6 L1202.1,51.7 L1202.6,49.7 L1203.1,47.8 L1203.6,45.8 L1204.1,43.9 L1204.5,41.9 L1205.0,40.0 L1205.5,38.0" stroke="#ff0000" stroke-width="3.0"/>
<path d="M1103.5,38.0 L1104.1,40.0 L1104.6,41.9 L1105.2,43.9 L1105.8,45.8 L1106.5,47.7 L1107.1,49.7 L1107.8,51.6 L1108.5,53.5 L1109.2,55.4 L1109.9,57.3 L1110.7,59.2 L1111.5,61.1 L1112.2,62.9 L1113.1,64.8 L1113.9,66.7 L1114.8,68.5 L1115.7,70.3 L1116.6,72.1 L1117.5,74.0 L1118.5,75.8 L1119.5,77.7 L1120.5,79.4 L1121.6,81.1 L1122.8,82.7 L1124.1,84.2 L1125.6,85.7 L1127.2,87.2 L1128.9,88.4 L1130.7,89.3 L1132.5,89.7 L1134.3,89.9 L1136.3,90.2 L1138.3,90.4 L1140.4,90.5 L1142.5,90.7 L1144.6,90.8 L1146.7,90.9 L1148.8,91.0 L1150.8,91.0 L1152.9,91.0 L1154.9,91.0 L1157.0,90.9 L1159.0,90.8 L1161.1,90.6 L1163.1,90.5 L1165.1,90.3 L1167.1,90.0 L1169.0,89.7 L1171.0,89.2 L1172.9,88.5 L1174.8,87.6 L1176.7,86.6 L1178.5,85.6 L1180.2,84.6 L1181.9,83.5 L1183.5,82.3 L1185.1,81.0 L1186.6,79.6 L1188.1,78.1 L1189.5,76.6 L1190.8,75.1 L1192.1,73.5 L1193.3,71.8 L1194.4,70.0 L1195.1,68.2 L1195.6,66.3 L1196.1,64.4 L1196.5,62.4 L1196.9,60.3 L1197.2,58.3 L1197.5,56.2 L1197.7,54.2 L1197.9,52.2 L1198.2,50.2 L1198.4,48.2 L1198.6,46.1 L1198.7,44.1 L1198.8,42.1 L1198.9,40.0 L1199.0,38.0" stroke="#0000ff" stroke-width="2.9"/>
<path d="M1105.0,38.0 L1105.6,40.0 L1106.1,41.9 L1106.7,43.9 L1107.3,45.8 L1108.0,47.7 L1108.6,49.7 L1109.3,51.6 L1110.0,53.5 L1110.7,55.4 L1111.4,57.3 L1112.2,59.2 L1112.9,61.1 L1113.7,62.9 L1114.6,64.8 L1115.4,66.7 L1116.3,68.5 L1117.2,70.3 L1118.1,72.1 L1119.0,74.0 L1119.9,75.8 L1120.9,77.7 L1122.0,79.4 L1123.1,81.1 L1124.3,82.7 L1125.6,84.1 L1127.1,85.7 L1128.7,87.1 L1130.5,88.3 L1132.3,89.0 L1134.1,89.3 L1136.0,89.5 L1138.0,89.7 L1140.0,90.0 L1142.1,90.1 L1144.2,90.3 L1146.3,90.4 L1148.4,90.4 L1150.5,90.5 L1152.5,90.5 L1154.6,90.5 L1156.7,90.4 L1158.9,90.2 L1161.0,90.0 L1163.1,89.8 L1165.0,89.5 L1166.8,89.1 L1168.4,88.7 L1170.0,87.6 L1171.5,86.1 L1172.9,84.3 L1174.1,82.4 L1175.2,80.7 L1176.2,79.0 L1177.0,77.2 L1177.9,75.3 L1178.6,73.4 L1179.4,71.5 L1180.1,69.5 L1180.7,67.6 L1181.4,65.6 L1182.0,63.7 L1182.7,61.8 L1183.3,59.8 L1183.9,57.9 L1184.4,55.9 L1185.0,54.0 L1185.5,52.0 L1185.9,50.0 L1186.3,48.0 L1186.7,46.0 L1187.1,44.0 L1187.4,42.0 L1187.7,40.0 L1188.0,38.0" stroke="#bc8f8f" stroke-width="2.9"/>
<path d="M1275.5,38.0 L1275.7,40.0 L1275.9,42.0 L1276.1,44.0 L1276.3,46.0 L1276.4,48.0 L1276.6,50.0 L1276.8,52.0 L1277.0,54.0 L1277.2,56.0 L1277.4,58.0 L1277.6,60.0 L1277.8,62.0 L1278.0,64.0 L1278.2,66.0 L1278.4,68.0 L1278.6,70.0 L1278.8,72.0 L1279.0,74.0 L1279.3,76.0 L1279.5,78.0 L1279.7,80.0 L1279.9,82.0 L1280.1,84.0 L1280.3,86.0 L1280.5,88.0 L1280.8,90.0 L1281.0,92.0 L1281.2,94.0 L1281.4,96.0 L1281.6,98.0 L1281.9,99.9 L1282.1,101.9 L1282.3,103.9 L1282.5,105.9 L1282.8,107.9 L1283.0,109.9 L1283.2,111.9 L1283.5,113.9 L1283.7,115.9 L1283.9,117.9 L1284.2,119.9 L1284.4,121.9 L1284.7,123.9 L1284.9,125.9 L1285.2,127.9 L1285.5,129.9 L1285.7,131.8 L1286.0,133.8 L1286.2,135.8 L1286.5,137.8 L1286.8,139.8 L1287.0,141.8 L1287.3,143.8 L1287.6,145.8 L1287.9,147.8 L1288.1,149.8 L1288.4,151.8 L1288.7,153.8 L1288.9,155.7 L1289.2,157.7 L1289.5,159.7 L1289.7,161.7 L1290.0,163.7 L1290.2,165.7 L1290.5,167.7 L1290.8,169.7 L1291.0,171.7 L1291.3,173.7 L1291.5,175.7 L1291.7,177.7 L1292.0,179.7 L1292.2,181.6 L1292.4,183.6 L1292.7,185.6 L1292.9,187.6 L1293.1,189.6 L1293.3,191.6 L1293.5,193.6 L1293.7,195.6 L1294.0,197.6 L1294.2,199.6 L1294.4,201.6 L1294.6,203.6 L1294.8,205.6 L1294.9,207.6 L1295.1,209.6 L1295.3,211.6 L1295.5,213.6 L1295.7,215.6 L1295.9,217.6 L1296.1,219.6 L1296.3,221.6 L1296.5,223.6 L1296.7,225.6 L1296.9,227.6 L1297.1,229.6 L1297.3,231.6 L1297.4,233.6 L1297.6,235.6 L1297.8,237.6 L1298.0,239.6 L1298.3,241.6 L1298.5,243.6 L1298.7,245.6 L1298.9,247.6 L1299.1,249.6 L1299.3,251.6 L1299.5,253.6 L1299.8,255.6 L1300.0,257.6 L1300.2,259.6 L1300.4,261.6 L1300.7,263.6 L1300.9,265.6 L1301.1,267.6 L1301.4,269.6 L1301.6,271.6 L1301.8,273.6 L1302.1,275.6 L1302.3,277.6 L1302.5,279.6 L1302.8,281.5 L1303.1,283.5 L1303.3,285.5 L1303.6,287.5 L1303.9,289.5 L1304.2,291.5 L1304.5,293.5 L1304.8,295.5 L1305.1,297.4 L1305.4,299.4 L1305.8,301.4 L1306.2,303.4 L1306.6,305.3 L1307.1,307.3 L1307.6,309.2 L1308.1,311.2 L1308.6,313.1 L1309.0,315.1 L1309.5,317.0 L1309.8,319.0 L1310.1,321.0 L1310.4,323.0 L1310.6,325.0 L1310.8,327.0 L1311.0,329.0 L1311.2,331.0 L1311.4,333.0 L1311.6,335.0 L1311.9,337.0 L1312.3,338.9 L1312.9,340.8 L1313.5,342.7 L1314.3,344.6 L1315.1,346.5 L1315.9,348.4 L1316.8,350.2 L1317.7,352.1 L1318.7,354.3 L1319.8,356.4 L1321.0,358.0 L1322.2,358.7 L1323.4,358.0 L1324.7,356.3 L1326.0,354.3 L1327.3,352.6 L1328.7,350.7 L1330.1,349.1 L1331.5,348.5 L1333.0,349.4 L1334.5,351.1 L1335.9,352.9 L1337.2,354.6 L1338.5,356.7 L1339.8,358.5 L1341.0,359.6 L1342.2,359.5 L1343.5,358.7 L1344.7,357.2 L1346.0,355.3 L1347.2,353.2 L1348.3,351.0 L1349.4,349.0 L1350.4,347.3 L1351.5,345.6 L1352.5,343.8 L1353.4,342.0 L1354.2,340.1 L1354.8,338.3 L1355.3,336.4 L1355.6,334.4 L1356.0,332.5 L1356.3,330.5 L1356.5,328.5 L1356.8,326.4 L1357.1,324.4 L1357.4,322.4 L1357.7,320.4 L1358.1,318.5 L1358.5,316.5 L1359.0,314.6 L1359.5,312.6 L1360.0,310.6 L1360.5,308.7 L1361.0,306.8 L1361.5,304.8 L1361.9,302.8 L1362.3,300.9 L1362.7,298.9 L1363.1,296.9 L1363.4,295.0 L1363.8,293.0 L1364.1,291.0 L1364.4,289.0 L1364.7,287.0 L1365.0,285.1 L1365.3,283.1 L1365.6,281.1 L1365.9,279.1 L1366.2,277.1 L1366.5,275.1 L1366.8,273.1 L1367.1,271.1 L1367.4,269.1 L1367.7,267.2 L1368.0,265.2 L1368.3,263.2 L1368.6,261.2 L1368.9,259.2 L1369.2,257.2 L1369.5,255.2 L1369.8,253.3 L1370.1,251.3 L1370.4,249.3 L1370.8,247.3 L1371.1,245.3 L1371.4,243.3 L1371.7,241.4 L1372.0,239.4 L1372.3,237.4 L1372.6,235.4 L1372.9,233.4 L1373.2,231.4 L1373.6,229.4 L1373.9,227.5 L1374.2,225.5 L1374.5,223.5 L1374.8,221.5 L1375.1,219.5 L1375.4,217.5 L1375.7,215.5 L1376.0,213.6 L1376.3,211.6 L1376.6,209.6 L1376.9,207.6 L1377.2,205.6 L1377.4,203.6 L1377.7,201.6 L1378.0,199.6 L1378.3,197.7 L1378.6,195.7 L1378.8,193.7 L1379.1,191.7 L1379.4,189.7 L1379.6,187.7 L1379.9,185.7 L1380.2,183.7 L1380.4,181.7 L1380.7,179.7 L1380.9,177.7 L1381.2,175.8 L1381.4,173.8 L1381.7,171.8 L1381.9,169.8 L1382.1,167.8 L1382.4,165.8 L1382.6,163.8 L1382.8,161.8 L1383.1,159.8 L1383.3,157.8 L1383.5,155.8 L1383.8,153.8 L1384.0,151.8 L1384.2,149.8 L1384.4,147.8 L1384.7,145.8 L1384.9,143.8 L1385.1,141.8 L1385.3,139.8 L1385.5,137.8 L1385.8,135.8 L1386.0,133.8 L1386.2,131.8 L1386.4,129.8 L1386.6,127.9 L1386.8,125.9 L1387.1,123.9 L1387.3,121.9 L1387.5,119.9 L1387.7,117.9 L1387.9,115.9 L1388.2,113.9 L1388.4,111.9 L1388.6,109.9 L1388.8,107.9 L1389.1,105.9 L1389.3,103.9 L1389.5,101.9 L1389.7,99.9 L1390.0,97.9 L1390.2,95.9 L1390.4,93.9 L1390.6,91.9 L1390.8,89.9 L1391.1,87.9 L1391.3,85.9 L1391.5,83.9 L1391.7,81.9 L1391.9,79.9 L1392.2,77.9 L1392.4,75.9 L1392.6,73.9 L1392.8,71.9 L1393.0,70.0 L1393.3,68.0 L1393.5,66.0 L1393.7,64.0 L1393.9,62.0 L1394.1,60.0 L1394.3,58.0 L1394.6,56.0 L1394.8,54.0 L1395.0,52.0 L1395.2,50.0 L1395.4,48.0 L1395.6,46.0 L1395.9,44.0 L1396.1,42.0 L1396.3,40.0 L1396.5,38.0" stroke="#0000ff" stroke-width="2.9"/>
<path d="M1276.5,38.0 L1276.7,40.0 L1276.9,42.0 L1277.1,44.0 L1277.3,46.0 L1277.5,48.0 L1277.6,50.0 L1277.8,52.0 L1278.0,54.0 L1278.2,56.0 L1278.4,58.0 L1278.6,60.0 L1278.8,62.0 L1279.0,64.0 L1279.2,66.0 L1279.4,68.0 L1279.7,70.0 L1279.9,72.0 L1280.1,74.0 L1280.3,76.0 L1280.5,78.0 L1280.7,80.0 L1280.9,82.0 L1281.1,84.0 L1281.3,86.0 L1281.6,88.0 L1281.8,90.0 L1282.0,92.0 L1282.2,94.0 L1282.4,96.0 L1282.6,98.0 L1282.9,100.0 L1283.1,102.0 L1283.3,104.0 L1283.5,106.0 L1283.8,107.9 L1284.0,109.9 L1284.2,111.9 L1284.5,113.9 L1284.7,115.9 L1284.9,117.9 L1285.2,119.9 L1285.4,121.9 L1285.7,123.9 L1285.9,125.9 L1286.2,127.9 L1286.4,129.9 L1286.7,131.9 L1286.9,133.9 L1287.2,135.9 L1287.5,137.9 L1287.7,139.9 L1288.0,141.8 L1288.2,143.8 L1288.5,145.8 L1288.8,147.8 L1289.0,149.8 L1289.3,151.8 L1289.5,153.8 L1289.8,155.8 L1290.1,157.8 L1290.3,159.8 L1290.6,161.8 L1290.8,163.8 L1291.1,165.8 L1291.3,167.8 L1291.6,169.7 L1291.8,171.7 L1292.1,173.7 L1292.3,175.7 L1292.6,177.7 L1292.8,179.7 L1293.0,181.7 L1293.3,183.7 L1293.5,185.7 L1293.7,187.7 L1293.9,189.7 L1294.1,191.7 L1294.3,193.7 L1294.5,195.7 L1294.8,197.7 L1295.0,199.7 L1295.2,201.7 L1295.4,203.7 L1295.6,205.7 L1295.7,207.7 L1295.9,209.7 L1296.1,211.7 L1296.3,213.7 L1296.5,215.7 L1296.7,217.7 L1296.9,219.7 L1297.1,221.7 L1297.3,223.7 L1297.5,225.7 L1297.7,227.7 L1297.9,229.7 L1298.1,231.7 L1298.3,233.7 L1298.5,235.7 L1298.7,237.7 L1298.9,239.7 L1299.1,241.7 L1299.3,243.7 L1299.5,245.7 L1299.7,247.7 L1299.9,249.7 L1300.1,251.7 L1300.3,253.7 L1300.6,255.7 L1300.8,257.7 L1301.0,259.7 L1301.3,261.7 L1301.5,263.7 L1301.7,265.7 L1301.9,267.7 L1302.2,269.7 L1302.4,271.7 L1302.6,273.7 L1302.9,275.7 L1303.1,277.6 L1303.4,279.6 L1303.6,281.6 L1303.9,283.6 L1304.2,285.6 L1304.4,287.6 L1304.7,289.6 L1305.0,291.6 L1305.3,293.6 L1305.6,295.6 L1305.9,297.5 L1306.2,299.5 L1306.6,301.5 L1306.9,303.5 L1307.3,305.4 L1307.7,307.4 L1308.1,309.4 L1308.5,311.3 L1309.0,313.3 L1309.4,315.3 L1309.9,317.2 L1310.3,319.2 L1310.8,321.1 L1311.3,323.1 L1311.7,325.1 L1312.2,327.0 L1312.7,329.0 L1313.2,330.9 L1313.7,332.9 L1314.2,334.8 L1314.8,336.7 L1315.4,338.6 L1316.0,340.6 L1316.7,342.6 L1317.4,344.5 L1318.3,346.2 L1319.3,347.9 L1320.6,349.7 L1322.1,351.2 L1323.7,351.5 L1325.2,350.4 L1326.8,348.7 L1328.3,347.2 L1329.7,345.4 L1331.2,344.5 L1332.8,345.1 L1334.4,346.6 L1336.1,348.0 L1337.8,349.4 L1339.5,350.8 L1341.1,351.6 L1342.7,351.3 L1344.2,350.0 L1345.6,348.2 L1346.9,346.4 L1348.2,344.8 L1349.4,343.1 L1350.6,341.5 L1351.7,339.7 L1352.7,338.0 L1353.5,336.2 L1354.1,334.3 L1354.6,332.4 L1355.0,330.5 L1355.4,328.5 L1355.7,326.5 L1356.0,324.5 L1356.4,322.5 L1356.7,320.5 L1357.1,318.5 L1357.5,316.5 L1358.0,314.6 L1358.5,312.6 L1359.1,310.7 L1359.6,308.7 L1360.2,306.8 L1360.7,304.9 L1361.2,302.9 L1361.6,301.0 L1362.0,299.0 L1362.4,297.0 L1362.7,295.1 L1363.1,293.1 L1363.4,291.1 L1363.8,289.1 L1364.1,287.1 L1364.4,285.1 L1364.7,283.2 L1365.0,281.2 L1365.3,279.2 L1365.6,277.2 L1365.9,275.2 L1366.2,273.2 L1366.5,271.2 L1366.8,269.2 L1367.1,267.2 L1367.4,265.3 L1367.7,263.3 L1368.0,261.3 L1368.3,259.3 L1368.6,257.3 L1368.9,255.3 L1369.2,253.3 L1369.5,251.4 L1369.8,249.4 L1370.1,247.4 L1370.5,245.4 L1370.8,243.4 L1371.1,241.4 L1371.4,239.4 L1371.7,237.5 L1372.0,235.5 L1372.3,233.5 L1372.6,231.5 L1372.9,229.5 L1373.2,227.5 L1373.5,225.5 L1373.8,223.5 L1374.1,221.6 L1374.4,219.6 L1374.7,217.6 L1375.0,215.6 L1375.3,213.6 L1375.6,211.6 L1375.9,209.6 L1376.2,207.6 L1376.5,205.7 L1376.7,203.7 L1377.0,201.7 L1377.3,199.7 L1377.6,197.7 L1377.9,195.7 L1378.1,193.7 L1378.4,191.7 L1378.7,189.7 L1378.9,187.7 L1379.2,185.8 L1379.5,183.8 L1379.7,181.8 L1380.0,179.8 L1380.2,177.8 L1380.5,175.8 L1380.7,173.8 L1381.0,171.8 L1381.2,169.8 L1381.4,167.8 L1381.7,165.8 L1381.9,163.8 L1382.2,161.8 L1382.4,159.8 L1382.6,157.8 L1382.9,155.8 L1383.1,153.9 L1383.3,151.9 L1383.6,149.9 L1383.8,147.9 L1384.0,145.9 L1384.2,143.9 L1384.5,141.9 L1384.7,139.9 L1384.9,137.9 L1385.1,135.9 L1385.3,133.9 L1385.6,131.9 L1385.8,129.9 L1386.0,127.9 L1386.2,125.9 L1386.5,123.9 L1386.7,121.9 L1386.9,119.9 L1387.1,117.9 L1387.3,115.9 L1387.6,113.9 L1387.8,111.9 L1388.0,109.9 L1388.2,107.9 L1388.5,105.9 L1388.7,103.9 L1388.9,101.9 L1389.1,99.9 L1389.3,97.9 L1389.6,95.9 L1389.8,93.9 L1390.0,91.9 L1390.2,89.9 L1390.4,87.9 L1390.7,85.9 L1390.9,84.0 L1391.1,82.0 L1391.3,80.0 L1391.5,78.0 L1391.8,76.0 L1392.0,74.0 L1392.2,72.0 L1392.4,70.0 L1392.6,68.0 L1392.8,66.0 L1393.0,64.0 L1393.3,62.0 L1393.5,60.0 L1393.7,58.0 L1393.9,56.0 L1394.1,54.0 L1394.3,52.0 L1394.5,50.0 L1394.7,48.0 L1395.0,46.0 L1395.2,44.0 L1395.4,42.0 L1395.6,40.0 L1395.8,38.0" stroke="#bc8f8f" stroke-width="2.9"/>
<path d="M1277.0,38.0 L1277.2,40.0 L1277.4,42.0 L1277.6,44.0 L1277.8,46.0 L1278.0,48.0 L1278.2,50.0 L1278.4,52.0 L1278.6,54.0 L1278.8,56.0 L1279.0,58.0 L1279.2,60.0 L1279.4,62.0 L1279.6,64.0 L1279.8,66.0 L1280.0,68.0 L1280.2,70.0 L1280.4,72.0 L1280.6,74.0 L1280.8,76.0 L1281.1,78.0 L1281.3,80.0 L1281.5,82.0 L1281.7,84.0 L1281.9,86.0 L1282.1,88.0 L1282.4,90.0 L1282.6,92.0 L1282.8,94.0 L1283.0,96.0 L1283.2,98.0 L1283.5,100.0 L1283.7,102.0 L1283.9,103.9 L1284.1,105.9 L1284.4,107.9 L1284.6,109.9 L1284.8,111.9 L1285.1,113.9 L1285.3,115.9 L1285.5,117.9 L1285.8,119.9 L1286.0,121.9 L1286.3,123.9 L1286.5,125.9 L1286.8,127.9 L1287.0,129.9 L1287.3,131.9 L1287.5,133.9 L1287.8,135.9 L1288.1,137.8 L1288.3,139.8 L1288.6,141.8 L1288.8,143.8 L1289.1,145.8 L1289.4,147.8 L1289.6,149.8 L1289.9,151.8 L1290.2,153.8 L1290.4,155.8 L1290.7,157.8 L1290.9,159.8 L1291.2,161.8 L1291.4,163.8 L1291.7,165.7 L1291.9,167.7 L1292.2,169.7 L1292.4,171.7 L1292.7,173.7 L1292.9,175.7 L1293.2,177.7 L1293.4,179.7 L1293.6,181.7 L1293.9,183.7 L1294.1,185.7 L1294.3,187.7 L1294.5,189.7 L1294.7,191.7 L1294.9,193.7 L1295.1,195.7 L1295.3,197.7 L1295.5,199.7 L1295.7,201.7 L1295.9,203.7 L1296.1,205.7 L1296.3,207.7 L1296.5,209.7 L1296.7,211.7 L1296.9,213.7 L1297.1,215.7 L1297.2,217.7 L1297.4,219.7 L1297.6,221.7 L1297.8,223.7 L1298.0,225.7 L1298.2,227.7 L1298.4,229.7 L1298.6,231.7 L1298.8,233.7 L1299.0,235.7 L1299.2,237.7 L1299.4,239.7 L1299.6,241.7 L1299.8,243.7 L1300.0,245.7 L1300.2,247.7 L1300.4,249.7 L1300.6,251.7 L1300.8,253.7 L1301.1,255.7 L1301.3,257.7 L1301.5,259.7 L1301.8,261.7 L1302.0,263.7 L1302.3,265.7 L1302.5,267.6 L1302.7,269.6 L1303.0,271.6 L1303.2,273.6 L1303.5,275.6 L1303.7,277.6 L1304.0,279.6 L1304.3,281.6 L1304.5,283.6 L1304.8,285.6 L1305.1,287.6 L1305.4,289.6 L1305.7,291.6 L1306.0,293.5 L1306.3,295.5 L1306.6,297.5 L1306.9,299.5 L1307.2,301.5 L1307.6,303.4 L1308.0,305.4 L1308.3,307.4 L1308.7,309.4 L1309.2,311.3 L1309.6,313.3 L1310.0,315.3 L1310.4,317.2 L1310.8,319.2 L1311.2,321.2 L1311.6,323.2 L1311.9,325.3 L1312.3,327.3 L1312.7,329.3 L1313.3,331.2 L1313.9,333.0 L1315.0,334.8 L1316.6,336.2 L1317.9,335.9 L1319.2,334.2 L1320.4,331.8 L1321.6,329.6 L1322.8,328.3 L1323.9,328.5 L1325.0,330.0 L1326.1,332.1 L1327.1,334.3 L1328.1,336.2 L1329.1,338.5 L1330.0,340.7 L1331.0,341.9 L1332.0,341.6 L1332.9,340.1 L1334.0,337.9 L1335.0,335.7 L1336.2,334.0 L1337.4,332.3 L1338.8,330.8 L1340.3,329.7 L1342.3,328.5 L1344.3,327.6 L1346.1,327.1 L1347.3,327.4 L1348.2,329.3 L1349.1,332.0 L1349.8,334.3 L1350.7,335.3 L1351.7,334.7 L1352.8,333.2 L1353.9,331.1 L1354.9,328.7 L1355.7,326.5 L1356.1,324.6 L1356.4,322.6 L1356.7,320.6 L1357.1,318.6 L1357.4,316.6 L1357.9,314.7 L1358.3,312.7 L1358.7,310.8 L1359.1,308.8 L1359.6,306.8 L1360.0,304.9 L1360.4,302.9 L1360.8,300.9 L1361.2,299.0 L1361.6,297.0 L1361.9,295.0 L1362.3,293.0 L1362.7,291.1 L1363.0,289.1 L1363.3,287.1 L1363.7,285.1 L1364.0,283.1 L1364.4,281.1 L1364.7,279.2 L1365.0,277.2 L1365.4,275.2 L1365.7,273.2 L1366.0,271.2 L1366.3,269.3 L1366.6,267.3 L1367.0,265.3 L1367.3,263.3 L1367.6,261.3 L1367.9,259.3 L1368.2,257.3 L1368.5,255.4 L1368.8,253.4 L1369.1,251.4 L1369.4,249.4 L1369.7,247.4 L1370.0,245.4 L1370.4,243.4 L1370.7,241.5 L1371.0,239.5 L1371.2,237.5 L1371.5,235.5 L1371.8,233.5 L1372.1,231.5 L1372.4,229.5 L1372.7,227.5 L1373.0,225.6 L1373.3,223.6 L1373.6,221.6 L1373.9,219.6 L1374.2,217.6 L1374.4,215.6 L1374.7,213.6 L1375.0,211.6 L1375.3,209.6 L1375.6,207.6 L1375.8,205.7 L1376.1,203.7 L1376.4,201.7 L1376.7,199.7 L1376.9,197.7 L1377.2,195.7 L1377.5,193.7 L1377.7,191.7 L1378.0,189.7 L1378.2,187.7 L1378.5,185.7 L1378.8,183.8 L1379.0,181.8 L1379.3,179.8 L1379.5,177.8 L1379.8,175.8 L1380.0,173.8 L1380.3,171.8 L1380.5,169.8 L1380.8,167.8 L1381.0,165.8 L1381.2,163.8 L1381.5,161.8 L1381.7,159.8 L1382.0,157.8 L1382.2,155.8 L1382.4,153.8 L1382.7,151.8 L1382.9,149.8 L1383.1,147.9 L1383.3,145.9 L1383.6,143.9 L1383.8,141.9 L1384.0,139.9 L1384.3,137.9 L1384.5,135.9 L1384.7,133.9 L1384.9,131.9 L1385.2,129.9 L1385.4,127.9 L1385.6,125.9 L1385.8,123.9 L1386.1,121.9 L1386.3,119.9 L1386.5,117.9 L1386.7,115.9 L1387.0,113.9 L1387.2,111.9 L1387.4,109.9 L1387.6,107.9 L1387.9,105.9 L1388.1,103.9 L1388.3,101.9 L1388.5,99.9 L1388.8,97.9 L1389.0,95.9 L1389.2,93.9 L1389.4,91.9 L1389.6,89.9 L1389.9,87.9 L1390.1,86.0 L1390.3,84.0 L1390.5,82.0 L1390.7,80.0 L1390.9,78.0 L1391.2,76.0 L1391.4,74.0 L1391.6,72.0 L1391.8,70.0 L1392.0,68.0 L1392.2,66.0 L1392.5,64.0 L1392.7,62.0 L1392.9,60.0 L1393.1,58.0 L1393.3,56.0 L1393.5,54.0 L1393.7,52.0 L1393.9,50.0 L1394.2,48.0 L1394.4,46.0 L1394.6,44.0 L1394.8,42.0 L1395.0,40.0 L1395.2,38.0" stroke="#9400d3" stroke-width="2.9"/>
<path d="M1277.5,38.0 L1277.7,40.0 L1277.9,42.0 L1278.1,44.0 L1278.3,46.0 L1278.4,48.0 L1278.6,50.0 L1278.8,52.0 L1279.0,54.0 L1279.2,56.0 L1279.4,58.0 L1279.6,60.0 L1279.8,62.0 L1280.0,64.0 L1280.2,66.0 L1280.4,68.0 L1280.6,70.0 L1280.8,72.0 L1281.1,74.0 L1281.3,76.0 L1281.5,78.0 L1281.7,80.0 L1281.9,82.0 L1282.1,84.0 L1282.3,86.0 L1282.5,88.0 L1282.8,90.0 L1283.0,92.0 L1283.2,94.0 L1283.4,96.0 L1283.6,98.0 L1283.9,100.0 L1284.1,102.0 L1284.3,104.0 L1284.5,106.0 L1284.8,108.0 L1285.0,110.0 L1285.2,112.0 L1285.5,114.0 L1285.7,116.0 L1285.9,118.0 L1286.2,120.0 L1286.4,122.0 L1286.7,124.0 L1286.9,126.0 L1287.2,128.0 L1287.4,130.0 L1287.7,131.9 L1287.9,133.9 L1288.2,135.9 L1288.5,137.9 L1288.7,139.9 L1289.0,141.9 L1289.3,143.9 L1289.5,145.9 L1289.8,147.9 L1290.0,149.9 L1290.3,151.9 L1290.6,153.9 L1290.8,155.9 L1291.1,157.9 L1291.4,159.9 L1291.6,161.9 L1291.9,163.8 L1292.2,165.8 L1292.4,167.8 L1292.7,169.8 L1292.9,171.8 L1293.2,173.8 L1293.5,175.8 L1293.7,177.8 L1294.0,179.8 L1294.2,181.8 L1294.5,183.8 L1294.7,185.8 L1294.9,187.8 L1295.2,189.8 L1295.4,191.8 L1295.6,193.8 L1295.9,195.8 L1296.1,197.8 L1296.3,199.8 L1296.6,201.8 L1296.8,203.8 L1297.0,205.8 L1297.2,207.8 L1297.5,209.8 L1297.7,211.8 L1297.9,213.8 L1298.1,215.8 L1298.4,217.8 L1298.6,219.8 L1298.8,221.8 L1299.0,223.8 L1299.3,225.7 L1299.5,227.7 L1299.7,229.7 L1299.9,231.7 L1300.2,233.7 L1300.4,235.7 L1300.6,237.7 L1300.9,239.7 L1301.1,241.7 L1301.4,243.7 L1301.6,245.7 L1301.9,247.7 L1302.1,249.7 L1302.4,251.7 L1302.6,253.7 L1302.9,255.7 L1303.2,257.7 L1303.4,259.7 L1303.7,261.7 L1303.9,263.7 L1304.2,265.7 L1304.5,267.7 L1304.7,269.7 L1305.0,271.7 L1305.3,273.7 L1305.6,275.6 L1305.8,277.6 L1306.1,279.6 L1306.4,281.6 L1306.7,283.6 L1307.1,285.6 L1307.4,287.6 L1307.7,289.6 L1308.1,291.5 L1308.5,293.5 L1308.8,295.5 L1309.2,297.5 L1309.6,299.7 L1310.0,302.0 L1310.3,304.4 L1310.7,306.8 L1311.2,309.1 L1311.7,311.3 L1312.2,313.3 L1312.8,315.1 L1313.5,316.6 L1314.3,317.7 L1315.3,318.3 L1317.4,318.7 L1319.6,319.1 L1321.1,320.1 L1322.3,322.1 L1323.4,324.3 L1324.5,325.9 L1325.6,326.2 L1326.7,325.0 L1327.8,322.9 L1328.8,320.3 L1329.8,317.9 L1330.9,316.2 L1331.9,315.6 L1333.0,316.5 L1334.1,318.4 L1335.2,320.9 L1336.2,323.4 L1337.3,325.3 L1338.3,326.3 L1339.3,325.5 L1340.2,323.2 L1341.2,320.7 L1342.2,319.3 L1343.5,319.6 L1345.1,320.8 L1346.7,322.5 L1348.4,324.0 L1350.2,325.4 L1351.7,326.3 L1352.4,326.0 L1353.0,325.2 L1353.5,323.9 L1354.0,322.2 L1354.4,320.1 L1354.7,317.8 L1355.0,315.4 L1355.3,312.8 L1355.6,310.2 L1355.8,307.6 L1356.1,305.1 L1356.5,302.8 L1356.8,300.7 L1357.2,298.7 L1357.6,296.7 L1358.0,294.8 L1358.4,292.8 L1358.8,290.8 L1359.2,288.8 L1359.6,286.9 L1360.0,284.9 L1360.4,282.9 L1360.8,281.0 L1361.2,279.0 L1361.6,277.0 L1362.0,275.0 L1362.3,273.1 L1362.7,271.1 L1363.1,269.1 L1363.5,267.2 L1364.0,265.2 L1364.4,263.2 L1364.8,261.2 L1365.2,259.3 L1365.6,257.3 L1365.9,255.3 L1366.3,253.4 L1366.6,251.4 L1367.0,249.4 L1367.3,247.4 L1367.7,245.4 L1368.0,243.4 L1368.3,241.5 L1368.7,239.5 L1369.0,237.5 L1369.3,235.5 L1369.6,233.5 L1369.9,231.5 L1370.2,229.6 L1370.5,227.6 L1370.8,225.6 L1371.1,223.6 L1371.4,221.6 L1371.7,219.6 L1372.0,217.6 L1372.3,215.6 L1372.6,213.6 L1372.9,211.6 L1373.2,209.7 L1373.5,207.7 L1373.8,205.7 L1374.1,203.7 L1374.3,201.7 L1374.6,199.7 L1374.9,197.7 L1375.2,195.7 L1375.5,193.7 L1375.8,191.7 L1376.0,189.7 L1376.3,187.8 L1376.6,185.8 L1376.9,183.8 L1377.2,181.8 L1377.4,179.8 L1377.7,177.8 L1378.0,175.8 L1378.3,173.8 L1378.5,171.8 L1378.8,169.8 L1379.1,167.8 L1379.3,165.8 L1379.6,163.9 L1379.9,161.9 L1380.1,159.9 L1380.4,157.9 L1380.7,155.9 L1380.9,153.9 L1381.2,151.9 L1381.5,149.9 L1381.7,147.9 L1382.0,145.9 L1382.2,143.9 L1382.5,141.9 L1382.7,139.9 L1383.0,137.9 L1383.3,135.9 L1383.5,133.9 L1383.8,131.9 L1384.0,129.9 L1384.2,128.0 L1384.5,126.0 L1384.7,124.0 L1385.0,122.0 L1385.2,120.0 L1385.5,118.0 L1385.7,116.0 L1385.9,114.0 L1386.2,112.0 L1386.4,110.0 L1386.6,108.0 L1386.9,106.0 L1387.1,104.0 L1387.3,102.0 L1387.5,100.0 L1387.8,98.0 L1388.0,96.0 L1388.2,94.0 L1388.4,92.0 L1388.7,90.0 L1388.9,88.0 L1389.1,86.0 L1389.3,84.0 L1389.5,82.0 L1389.8,80.0 L1390.0,78.0 L1390.2,76.0 L1390.4,74.0 L1390.6,72.0 L1390.8,70.0 L1391.0,68.0 L1391.2,66.0 L1391.4,64.0 L1391.6,62.0 L1391.8,60.0 L1392.1,58.0 L1392.3,56.0 L1392.5,54.0 L1392.6,52.0 L1392.8,50.0 L1393.0,48.0 L1393.2,46.0 L1393.4,44.0 L1393.6,42.0 L1393.8,40.0 L1394.0,38.0" stroke="#ff00ff" stroke-width="3.0"/>
<path d="M1278.2,38.0 L1278.4,40.0 L1278.7,42.0 L1278.9,44.0 L1279.1,46.0 L1279.4,48.0 L1279.6,50.0 L1279.9,51.9 L1280.1,53.9 L1280.3,55.9 L1280.6,57.9 L1280.8,59.9 L1281.1,61.9 L1281.3,63.9 L1281.5,65.9 L1281.8,67.9 L1282.0,69.9 L1282.2,71.9 L1282.5,73.9 L1282.7,75.9 L1283.0,77.8 L1283.2,79.8 L1283.4,81.8 L1283.7,83.8 L1283.9,85.8 L1284.1,87.8 L1284.4,89.8 L1284.6,91.8 L1284.9,93.8 L1285.1,95.8 L1285.3,97.8 L1285.6,99.8 L1285.8,101.8 L1286.1,103.7 L1286.3,105.7 L1286.5,107.7 L1286.8,109.7 L1287.0,111.7 L1287.2,113.7 L1287.5,115.7 L1287.7,117.7 L1288.0,119.7 L1288.2,121.7 L1288.4,123.7 L1288.7,125.7 L1288.9,127.7 L1289.1,129.6 L1289.4,131.6 L1289.6,133.6 L1289.8,135.6 L1290.1,137.6 L1290.3,139.6 L1290.6,141.6 L1290.8,143.6 L1291.0,145.6 L1291.3,147.6 L1291.5,149.6 L1291.7,151.6 L1292.0,153.6 L1292.2,155.5 L1292.5,157.5 L1292.7,159.5 L1292.9,161.5 L1293.2,163.5 L1293.4,165.5 L1293.7,167.5 L1293.9,169.5 L1294.1,171.5 L1294.4,173.5 L1294.6,175.5 L1294.9,177.5 L1295.1,179.4 L1295.4,181.4 L1295.6,183.4 L1295.9,185.4 L1296.1,187.4 L1296.3,189.4 L1296.6,191.4 L1296.8,193.4 L1297.1,195.4 L1297.3,197.4 L1297.6,199.4 L1297.8,201.3 L1298.1,203.3 L1298.3,205.3 L1298.6,207.3 L1298.8,209.3 L1299.1,211.3 L1299.3,213.3 L1299.6,215.3 L1299.8,217.3 L1300.1,219.3 L1300.3,221.3 L1300.6,223.2 L1300.9,225.2 L1301.1,227.2 L1301.4,229.2 L1301.6,231.2 L1301.9,233.2 L1302.1,235.2 L1302.4,237.2 L1302.7,239.2 L1302.9,241.2 L1303.2,243.1 L1303.5,245.1 L1303.7,247.1 L1304.0,249.1 L1304.3,251.1 L1304.5,253.1 L1304.8,255.1 L1305.1,257.1 L1305.3,259.0 L1305.6,261.0 L1305.9,263.0 L1306.1,265.0 L1306.4,267.0 L1306.6,269.0 L1306.9,271.0 L1307.2,273.0 L1307.4,275.0 L1307.7,277.0 L1308.0,279.0 L1308.3,281.0 L1308.6,282.9 L1309.0,284.9 L1309.3,286.9 L1309.6,288.8 L1310.0,290.8 L1310.4,292.9 L1310.8,295.2 L1311.3,297.7 L1311.8,300.3 L1312.3,302.8 L1312.8,305.4 L1313.4,307.8 L1313.9,310.0 L1314.5,312.0 L1315.1,313.6 L1315.7,314.9 L1316.3,315.7 L1317.0,316.0 L1317.7,315.4 L1318.4,313.8 L1319.2,311.6 L1319.9,309.1 L1320.7,306.8 L1321.4,304.8 L1322.1,302.4 L1322.7,299.9 L1323.4,297.6 L1324.1,295.8 L1324.9,294.8 L1325.7,295.0 L1326.7,296.4 L1327.8,298.7 L1328.9,301.2 L1330.1,303.4 L1331.2,304.8 L1332.3,304.8 L1333.4,303.5 L1334.5,301.3 L1335.6,298.8 L1336.7,296.5 L1337.8,295.0 L1338.9,294.8 L1340.0,295.7 L1341.2,297.3 L1342.3,299.4 L1343.4,301.7 L1344.4,303.7 L1345.4,305.6 L1346.4,307.9 L1347.3,310.3 L1348.2,312.6 L1349.0,314.7 L1349.8,316.2 L1350.5,316.9 L1351.1,316.8 L1351.7,315.8 L1352.2,314.2 L1352.7,312.1 L1353.2,309.7 L1353.6,307.1 L1354.1,304.5 L1354.5,302.2 L1355.0,300.1 L1355.4,298.2 L1355.8,296.2 L1356.2,294.3 L1356.6,292.3 L1357.0,290.3 L1357.4,288.4 L1357.8,286.4 L1358.2,284.4 L1358.6,282.4 L1358.9,280.5 L1359.3,278.5 L1359.7,276.5 L1360.1,274.6 L1360.4,272.6 L1360.8,270.6 L1361.2,268.6 L1361.6,266.7 L1362.0,264.7 L1362.4,262.7 L1362.8,260.8 L1363.3,258.8 L1363.7,256.9 L1364.0,254.9 L1364.4,252.9 L1364.7,250.9 L1365.0,249.0 L1365.3,247.0 L1365.6,245.0 L1365.9,243.0 L1366.2,241.0 L1366.5,239.0 L1366.8,237.1 L1367.1,235.1 L1367.4,233.1 L1367.7,231.1 L1367.9,229.1 L1368.2,227.1 L1368.5,225.1 L1368.7,223.1 L1369.0,221.2 L1369.2,219.2 L1369.5,217.2 L1369.7,215.2 L1370.0,213.2 L1370.2,211.2 L1370.5,209.2 L1370.8,207.2 L1371.0,205.2 L1371.3,203.2 L1371.5,201.2 L1371.8,199.2 L1372.0,197.3 L1372.3,195.3 L1372.6,193.3 L1372.8,191.3 L1373.1,189.3 L1373.4,187.3 L1373.6,185.3 L1373.9,183.3 L1374.2,181.3 L1374.5,179.4 L1374.7,177.4 L1375.0,175.4 L1375.3,173.4 L1375.6,171.4 L1375.8,169.4 L1376.1,167.4 L1376.4,165.4 L1376.7,163.5 L1376.9,161.5 L1377.2,159.5 L1377.5,157.5 L1377.8,155.5 L1378.0,153.5 L1378.3,151.5 L1378.6,149.5 L1378.9,147.6 L1379.1,145.6 L1379.4,143.6 L1379.7,141.6 L1380.0,139.6 L1380.2,137.6 L1380.5,135.6 L1380.8,133.6 L1381.0,131.7 L1381.3,129.7 L1381.5,127.7 L1381.8,125.7 L1382.1,123.7 L1382.3,121.7 L1382.6,119.7 L1382.8,117.7 L1383.1,115.7 L1383.3,113.7 L1383.6,111.8 L1383.8,109.8 L1384.1,107.8 L1384.3,105.8 L1384.6,103.8 L1384.8,101.8 L1385.0,99.8 L1385.3,97.8 L1385.5,95.8 L1385.8,93.8 L1386.0,91.8 L1386.2,89.8 L1386.5,87.9 L1386.7,85.9 L1386.9,83.9 L1387.2,81.9 L1387.4,79.9 L1387.6,77.9 L1387.9,75.9 L1388.1,73.9 L1388.3,71.9 L1388.5,69.9 L1388.8,67.9 L1389.0,65.9 L1389.2,63.9 L1389.4,61.9 L1389.7,59.9 L1389.9,58.0 L1390.1,56.0 L1390.3,54.0 L1390.5,52.0 L1390.7,50.0 L1390.9,48.0 L1391.2,46.0 L1391.4,44.0 L1391.6,42.0 L1391.8,40.0 L1392.0,38.0" stroke="#6418bf" stroke-width="2.9"/>
<path d="M1278.8,38.0 L1279.0,40.0 L1279.2,42.0 L1279.4,44.0 L1279.6,46.0 L1279.8,48.0 L1280.0,50.0 L1280.2,52.0 L1280.5,54.0 L1280.7,56.0 L1280.9,58.0 L1281.2,60.0 L1281.4,62.0 L1281.7,64.0 L1281.9,66.0 L1282.2,67.9 L1282.5,69.9 L1282.7,71.9 L1283.0,73.9 L1283.3,75.9 L1283.6,77.9 L1283.9,79.9 L1284.2,81.9 L1284.5,83.8 L1284.9,85.8 L1285.2,87.8 L1285.6,89.8 L1285.9,91.7 L1286.3,93.7 L1286.7,95.7 L1287.1,97.7 L1287.4,99.7 L1287.8,101.6 L1288.1,103.6 L1288.5,105.6 L1288.8,107.6 L1289.1,109.6 L1289.4,111.5 L1289.7,113.5 L1289.9,115.5 L1290.2,117.5 L1290.4,119.5 L1290.7,121.5 L1290.9,123.5 L1291.1,125.5 L1291.3,127.5 L1291.5,129.5 L1291.7,131.5 L1291.9,133.5 L1292.1,135.5 L1292.3,137.5 L1292.5,139.5 L1292.7,141.5 L1292.9,143.5 L1293.1,145.5 L1293.3,147.5 L1293.5,149.5 L1293.7,151.5 L1293.9,153.5 L1294.1,155.5 L1294.3,157.5 L1294.5,159.5 L1294.7,161.5 L1294.9,163.5 L1295.1,165.5 L1295.4,167.5 L1295.6,169.5 L1295.8,171.5 L1296.1,173.4 L1296.3,175.4 L1296.5,177.4 L1296.8,179.4 L1297.0,181.4 L1297.3,183.4 L1297.5,185.4 L1297.8,187.4 L1298.0,189.4 L1298.2,191.4 L1298.5,193.4 L1298.7,195.4 L1299.0,197.4 L1299.2,199.4 L1299.5,201.4 L1299.7,203.4 L1300.0,205.4 L1300.2,207.3 L1300.5,209.3 L1300.8,211.3 L1301.0,213.3 L1301.3,215.3 L1301.6,217.3 L1301.8,219.3 L1302.1,221.3 L1302.4,223.3 L1302.7,225.2 L1303.0,227.2 L1303.3,229.2 L1303.7,231.2 L1304.0,233.2 L1304.4,235.2 L1304.8,237.1 L1305.1,239.1 L1305.5,241.1 L1305.9,243.1 L1306.2,245.0 L1306.6,247.0 L1306.9,249.0 L1307.3,251.0 L1307.6,252.9 L1307.9,254.9 L1308.2,256.9 L1308.4,258.9 L1308.6,260.9 L1308.8,262.9 L1309.0,264.9 L1309.2,266.9 L1309.5,268.9 L1309.7,271.0 L1309.9,272.9 L1310.1,274.9 L1310.4,276.9 L1310.7,278.9 L1311.1,280.9 L1311.4,283.1 L1311.9,285.5 L1312.3,287.9 L1312.9,290.2 L1313.6,292.0 L1314.4,293.3 L1315.4,293.8 L1317.3,294.0 L1319.7,294.2 L1321.5,294.1 L1322.9,293.2 L1324.1,291.6 L1325.3,289.5 L1326.5,287.6 L1327.9,286.0 L1329.4,284.2 L1330.9,282.8 L1332.3,282.6 L1333.8,283.6 L1335.1,285.3 L1336.5,287.3 L1337.7,289.0 L1338.8,290.6 L1339.9,292.3 L1340.9,294.1 L1341.9,295.8 L1342.9,297.6 L1343.9,299.4 L1344.9,301.5 L1346.0,303.8 L1347.0,306.1 L1348.0,308.0 L1348.9,309.4 L1349.7,310.0 L1350.4,309.6 L1351.0,308.3 L1351.6,306.4 L1352.2,304.0 L1352.7,301.5 L1353.2,298.9 L1353.6,296.6 L1354.0,294.6 L1354.4,292.7 L1354.8,290.7 L1355.1,288.7 L1355.4,286.7 L1355.7,284.7 L1356.0,282.8 L1356.3,280.8 L1356.5,278.8 L1356.8,276.8 L1357.1,274.8 L1357.4,272.8 L1357.7,270.8 L1358.0,268.8 L1358.4,266.8 L1358.7,264.9 L1359.1,262.9 L1359.4,260.9 L1359.7,258.9 L1360.1,256.9 L1360.4,255.0 L1360.7,253.0 L1361.1,251.0 L1361.4,249.0 L1361.7,247.0 L1362.0,245.0 L1362.4,243.1 L1362.7,241.1 L1363.0,239.1 L1363.3,237.1 L1363.6,235.1 L1363.9,233.1 L1364.2,231.2 L1364.5,229.2 L1364.8,227.2 L1365.1,225.2 L1365.4,223.2 L1365.6,221.2 L1365.9,219.2 L1366.2,217.2 L1366.4,215.2 L1366.7,213.2 L1366.9,211.3 L1367.2,209.3 L1367.4,207.3 L1367.7,205.3 L1367.9,203.3 L1368.2,201.3 L1368.4,199.3 L1368.7,197.3 L1368.9,195.3 L1369.2,193.3 L1369.4,191.3 L1369.7,189.3 L1370.0,187.3 L1370.2,185.3 L1370.5,183.4 L1370.8,181.4 L1371.1,179.4 L1371.4,177.4 L1371.6,175.4 L1371.9,173.4 L1372.2,171.4 L1372.5,169.4 L1372.8,167.5 L1373.1,165.5 L1373.4,163.5 L1373.6,161.5 L1373.9,159.5 L1374.2,157.5 L1374.5,155.5 L1374.8,153.5 L1375.0,151.5 L1375.3,149.6 L1375.6,147.6 L1375.9,145.6 L1376.2,143.6 L1376.5,141.6 L1376.7,139.6 L1377.0,137.6 L1377.3,135.6 L1377.6,133.6 L1377.9,131.7 L1378.1,129.7 L1378.4,127.7 L1378.7,125.7 L1379.0,123.7 L1379.3,121.7 L1379.5,119.7 L1379.8,117.7 L1380.1,115.7 L1380.4,113.8 L1380.7,111.8 L1381.0,109.8 L1381.3,107.8 L1381.6,105.8 L1381.9,103.8 L1382.2,101.8 L1382.5,99.8 L1382.8,97.9 L1383.1,95.9 L1383.4,93.9 L1383.7,91.9 L1384.0,89.9 L1384.3,87.9 L1384.5,85.9 L1384.8,83.9 L1385.1,82.0 L1385.4,80.0 L1385.6,78.0 L1385.9,76.0 L1386.1,74.0 L1386.4,72.0 L1386.6,70.0 L1386.8,68.0 L1387.0,66.0 L1387.2,64.0 L1387.5,62.0 L1387.7,60.0 L1387.9,58.0 L1388.1,56.0 L1388.2,54.0 L1388.4,52.0 L1388.6,50.0 L1388.8,48.0 L1389.0,46.0 L1389.1,44.0 L1389.3,42.0 L1389.4,40.0 L1389.6,38.0" stroke="#40e0d0" stroke-width="2.9"/>
<path d="M1279.2,38.0 L1279.4,40.0 L1279.6,42.0 L1279.8,44.0 L1280.0,46.0 L1280.2,48.0 L1280.4,50.0 L1280.7,52.0 L1280.9,54.0 L1281.2,56.0 L1281.4,58.0 L1281.7,60.0 L1282.0,62.0 L1282.3,63.9 L1282.6,65.9 L1282.9,67.9 L1283.2,69.9 L1283.6,71.9 L1284.0,73.8 L1284.3,75.8 L1284.7,77.8 L1285.0,79.8 L1285.4,81.7 L1285.8,83.7 L1286.2,85.7 L1286.6,87.7 L1287.0,89.6 L1287.4,91.6 L1287.8,93.6 L1288.2,95.5 L1288.6,97.5 L1289.1,99.5 L1289.6,101.4 L1290.1,103.4 L1290.6,105.3 L1291.1,107.3 L1291.5,109.2 L1292.0,111.2 L1292.3,113.1 L1292.6,115.1 L1292.9,117.1 L1293.2,119.1 L1293.5,121.1 L1293.7,123.1 L1294.0,125.1 L1294.2,127.1 L1294.4,129.1 L1294.6,131.1 L1294.8,133.1 L1295.1,135.1 L1295.3,137.1 L1295.5,139.1 L1295.8,141.1 L1296.0,143.1 L1296.2,145.1 L1296.5,147.0 L1296.7,149.0 L1297.0,151.0 L1297.2,153.0 L1297.5,155.0 L1297.7,157.0 L1297.9,159.0 L1298.2,161.0 L1298.4,163.0 L1298.6,165.0 L1298.8,167.0 L1299.0,169.0 L1299.2,171.0 L1299.3,173.0 L1299.5,175.0 L1299.6,177.0 L1299.8,179.0 L1299.9,181.0 L1300.1,183.0 L1300.3,185.0 L1300.5,187.0 L1300.7,189.0 L1300.9,191.0 L1301.2,193.0 L1301.4,195.0 L1301.7,197.0 L1301.9,199.0 L1302.2,201.0 L1302.4,203.0 L1302.7,205.0 L1303.0,207.0 L1303.3,209.0 L1303.6,210.9 L1303.9,212.9 L1304.2,214.9 L1304.5,216.9 L1304.8,218.9 L1305.1,220.9 L1305.4,222.9 L1305.7,224.8 L1306.1,226.8 L1306.4,228.8 L1306.8,230.8 L1307.2,232.8 L1307.5,234.7 L1308.0,236.7 L1308.4,238.7 L1308.8,240.6 L1309.2,242.6 L1309.6,244.6 L1310.0,246.6 L1310.4,248.5 L1310.8,250.5 L1311.1,252.5 L1311.5,254.5 L1311.8,256.4 L1312.1,258.4 L1312.3,260.4 L1312.5,262.4 L1312.7,264.4 L1312.9,266.4 L1313.1,268.4 L1313.4,270.4 L1313.6,272.4 L1313.9,274.4 L1314.2,276.4 L1314.5,278.8 L1314.8,281.4 L1315.2,284.0 L1315.6,286.2 L1316.2,287.8 L1316.8,288.6 L1317.8,288.1 L1319.3,286.5 L1320.9,284.7 L1322.3,283.3 L1323.8,281.8 L1325.2,280.5 L1326.8,279.0 L1328.4,277.4 L1330.0,276.0 L1331.6,275.4 L1333.1,275.8 L1334.7,276.9 L1336.1,278.5 L1337.6,280.3 L1339.0,282.0 L1340.4,283.5 L1341.8,284.9 L1343.1,286.5 L1344.3,288.1 L1345.3,290.0 L1346.1,292.4 L1346.9,294.6 L1347.5,295.8 L1348.0,295.5 L1348.5,294.3 L1348.9,292.5 L1349.3,290.2 L1349.7,287.7 L1350.0,285.1 L1350.4,282.6 L1350.7,280.4 L1351.1,278.4 L1351.4,276.4 L1351.8,274.5 L1352.1,272.5 L1352.5,270.5 L1352.8,268.5 L1353.1,266.5 L1353.5,264.6 L1353.8,262.6 L1354.2,260.6 L1354.6,258.6 L1354.9,256.7 L1355.3,254.7 L1355.7,252.7 L1356.1,250.7 L1356.5,248.8 L1356.9,246.8 L1357.3,244.8 L1357.7,242.9 L1358.1,240.9 L1358.5,238.9 L1358.9,236.9 L1359.2,235.0 L1359.6,233.0 L1360.0,231.0 L1360.3,229.0 L1360.7,227.1 L1361.0,225.1 L1361.3,223.1 L1361.6,221.1 L1361.9,219.1 L1362.2,217.2 L1362.5,215.2 L1362.8,213.2 L1363.1,211.2 L1363.4,209.2 L1363.6,207.2 L1363.9,205.2 L1364.2,203.2 L1364.5,201.2 L1364.7,199.2 L1365.0,197.2 L1365.3,195.3 L1365.6,193.3 L1365.9,191.3 L1366.1,189.3 L1366.5,187.3 L1366.8,185.3 L1367.1,183.3 L1367.4,181.4 L1367.7,179.4 L1368.1,177.4 L1368.4,175.4 L1368.8,173.4 L1369.1,171.4 L1369.4,169.5 L1369.8,167.5 L1370.1,165.5 L1370.4,163.5 L1370.7,161.5 L1371.1,159.5 L1371.4,157.6 L1371.7,155.6 L1372.0,153.6 L1372.3,151.6 L1372.7,149.6 L1373.0,147.6 L1373.3,145.7 L1373.6,143.7 L1373.8,141.7 L1374.1,139.7 L1374.4,137.7 L1374.7,135.7 L1374.9,133.7 L1375.1,131.7 L1375.4,129.7 L1375.6,127.7 L1375.9,125.7 L1376.1,123.7 L1376.3,121.7 L1376.6,119.7 L1376.8,117.8 L1377.1,115.8 L1377.4,113.8 L1377.7,111.8 L1378.0,109.8 L1378.3,107.8 L1378.7,105.8 L1379.1,103.9 L1379.4,101.9 L1379.7,99.9 L1380.1,97.9 L1380.4,95.9 L1380.6,93.9 L1380.9,92.0 L1381.2,90.0 L1381.4,88.0 L1381.7,86.0 L1381.9,84.0 L1382.1,82.0 L1382.4,80.0 L1382.6,78.0 L1382.8,76.0 L1383.0,74.0 L1383.3,72.0 L1383.5,70.0 L1383.7,68.0 L1383.9,66.0 L1384.1,64.0 L1384.3,62.0 L1384.5,60.0 L1384.7,58.0 L1384.9,56.0 L1385.1,54.0 L1385.3,52.0 L1385.5,50.0 L1385.7,48.0 L1385.9,46.0 L1386.1,44.0 L1386.3,42.0 L1386.4,40.0 L1386.6,38.0" stroke="#000000" stroke-width="2.9"/>
<path d="M1281.2,38.0 L1281.4,40.0 L1281.7,42.0 L1281.9,44.0 L1282.2,46.0 L1282.4,48.0 L1282.7,50.0 L1283.0,52.0 L1283.3,54.0 L1283.6,56.0 L1283.9,58.0 L1284.2,60.0 L1284.6,61.9 L1284.9,63.9 L1285.3,65.9 L1285.6,67.9 L1286.0,69.9 L1286.4,71.8 L1286.9,73.8 L1287.3,75.8 L1287.7,77.7 L1288.2,79.7 L1288.7,81.7 L1289.2,83.6 L1289.7,85.5 L1290.2,87.5 L1290.7,89.4 L1291.2,91.4 L1291.7,93.4 L1292.1,95.3 L1292.6,97.3 L1293.0,99.3 L1293.4,101.2 L1293.8,103.2 L1294.2,105.2 L1294.6,107.2 L1295.0,109.1 L1295.4,111.1 L1295.7,113.1 L1296.1,115.1 L1296.4,117.1 L1296.7,119.1 L1297.0,121.1 L1297.3,123.0 L1297.6,125.0 L1297.9,127.0 L1298.1,129.0 L1298.4,131.0 L1298.7,133.0 L1299.0,135.0 L1299.2,137.0 L1299.5,139.0 L1299.8,141.0 L1300.0,143.0 L1300.3,145.0 L1300.6,147.0 L1300.8,149.0 L1301.1,151.0 L1301.3,153.0 L1301.6,155.0 L1301.8,157.0 L1302.1,159.0 L1302.3,161.0 L1302.5,163.0 L1302.7,165.0 L1302.9,167.0 L1303.0,169.0 L1303.2,171.0 L1303.3,173.0 L1303.4,175.1 L1303.6,177.1 L1303.7,179.1 L1303.8,181.1 L1304.0,183.1 L1304.1,185.1 L1304.3,187.1 L1304.5,189.1 L1304.8,191.1 L1305.0,193.1 L1305.3,195.1 L1305.7,197.1 L1306.0,199.0 L1306.4,201.0 L1306.7,203.0 L1307.1,205.0 L1307.5,207.0 L1307.9,209.0 L1308.3,210.9 L1308.6,212.9 L1309.0,214.9 L1309.4,216.9 L1309.7,218.9 L1310.0,220.9 L1310.3,222.9 L1310.6,224.9 L1310.9,226.8 L1311.2,228.8 L1311.5,230.8 L1311.8,232.8 L1312.0,234.8 L1312.3,236.8 L1312.6,238.8 L1312.8,240.8 L1313.1,242.8 L1313.4,244.8 L1313.7,246.8 L1314.0,248.8 L1314.3,250.8 L1314.6,252.8 L1314.9,254.8 L1315.3,256.8 L1315.6,258.8 L1316.0,261.1 L1316.3,263.7 L1316.7,266.3 L1317.1,268.7 L1317.6,270.6 L1318.1,271.9 L1318.7,272.3 L1319.4,271.6 L1320.2,270.1 L1321.2,267.9 L1322.2,265.6 L1323.4,263.4 L1324.7,261.5 L1326.1,260.2 L1327.9,259.0 L1329.9,258.0 L1331.6,257.5 L1333.2,257.9 L1334.6,259.2 L1335.9,261.0 L1337.2,263.0 L1338.3,264.9 L1339.4,266.7 L1340.4,268.9 L1341.4,271.3 L1342.4,273.7 L1343.3,276.0 L1344.1,278.0 L1344.9,279.6 L1345.6,280.7 L1346.2,281.0 L1346.7,280.4 L1347.2,279.1 L1347.7,277.1 L1348.1,274.8 L1348.5,272.3 L1348.9,269.6 L1349.3,267.2 L1349.7,265.0 L1350.1,263.1 L1350.6,261.1 L1350.9,259.1 L1351.3,257.1 L1351.7,255.1 L1352.0,253.2 L1352.3,251.2 L1352.6,249.2 L1352.9,247.2 L1353.2,245.2 L1353.4,243.2 L1353.7,241.2 L1354.0,239.2 L1354.2,237.2 L1354.5,235.2 L1354.7,233.2 L1355.0,231.2 L1355.3,229.2 L1355.6,227.2 L1355.9,225.2 L1356.2,223.2 L1356.5,221.2 L1356.8,219.3 L1357.2,217.3 L1357.5,215.3 L1357.9,213.3 L1358.2,211.3 L1358.6,209.3 L1358.9,207.3 L1359.3,205.4 L1359.6,203.4 L1360.0,201.4 L1360.3,199.4 L1360.7,197.4 L1361.0,195.4 L1361.4,193.5 L1361.7,191.5 L1362.1,189.5 L1362.4,187.5 L1362.8,185.5 L1363.1,183.5 L1363.4,181.5 L1363.8,179.6 L1364.1,177.6 L1364.4,175.6 L1364.8,173.6 L1365.1,171.6 L1365.4,169.6 L1365.7,167.6 L1366.1,165.6 L1366.4,163.7 L1366.7,161.7 L1367.0,159.7 L1367.3,157.7 L1367.7,155.7 L1368.0,153.7 L1368.3,151.7 L1368.6,149.7 L1368.9,147.7 L1369.2,145.8 L1369.5,143.8 L1369.8,141.8 L1370.1,139.8 L1370.4,137.8 L1370.7,135.8 L1371.0,133.8 L1371.2,131.8 L1371.5,129.8 L1371.8,127.8 L1372.0,125.8 L1372.3,123.8 L1372.6,121.8 L1372.8,119.8 L1373.1,117.8 L1373.4,115.8 L1373.7,113.8 L1374.0,111.8 L1374.3,109.9 L1374.6,107.9 L1374.9,105.9 L1375.3,103.9 L1375.6,101.9 L1375.9,99.9 L1376.2,97.9 L1376.6,95.9 L1376.9,93.9 L1377.2,92.0 L1377.5,90.0 L1377.8,88.0 L1378.1,86.0 L1378.4,84.0 L1378.7,82.0 L1379.0,80.0 L1379.3,78.0 L1379.6,76.0 L1379.9,74.0 L1380.2,72.0 L1380.4,70.0 L1380.7,68.0 L1380.9,66.0 L1381.2,64.0 L1381.4,62.0 L1381.7,60.0 L1381.9,58.0 L1382.1,56.0 L1382.4,54.0 L1382.6,52.0 L1382.8,50.0 L1383.0,48.0 L1383.2,46.0 L1383.4,44.0 L1383.6,42.0 L1383.8,40.0 L1384.0,38.0" stroke="#ff0000" stroke-width="3.0"/>
<path d="M1283.4,38.0 L1283.6,40.0 L1283.8,42.0 L1284.1,44.0 L1284.4,46.0 L1284.8,48.0 L1285.2,50.0 L1285.5,52.0 L1286.0,53.9 L1286.4,55.9 L1286.9,57.8 L1287.4,59.7 L1288.1,61.7 L1288.7,63.6 L1289.4,65.5 L1290.0,67.4 L1290.5,69.3 L1291.0,71.3 L1291.3,73.3 L1291.6,75.3 L1292.0,77.3 L1292.4,79.2 L1293.2,81.0 L1294.5,82.7 L1295.5,84.4 L1296.0,86.3 L1296.3,88.2 L1296.6,90.2 L1296.8,92.2 L1297.0,94.2 L1297.1,96.3 L1297.3,98.3 L1297.5,100.4 L1297.7,102.4 L1298.0,104.4 L1298.3,106.4 L1298.5,108.4 L1298.8,110.4 L1299.1,112.4 L1299.4,114.3 L1299.7,116.3 L1300.0,118.3 L1300.4,120.3 L1300.7,122.3 L1301.0,124.3 L1301.4,126.3 L1301.7,128.3 L1302.0,130.2 L1302.3,132.2 L1302.6,134.2 L1302.9,136.2 L1303.2,138.2 L1303.4,140.2 L1303.7,142.2 L1303.9,144.2 L1304.2,146.2 L1304.4,148.2 L1304.7,150.2 L1304.9,152.2 L1305.1,154.2 L1305.4,156.2 L1305.6,158.2 L1305.8,160.2 L1306.0,162.2 L1306.2,164.2 L1306.4,166.2 L1306.6,168.2 L1306.8,170.2 L1307.0,172.2 L1307.1,174.2 L1307.3,176.2 L1307.5,178.2 L1307.7,180.2 L1307.9,182.2 L1308.1,184.2 L1308.3,186.2 L1308.6,188.2 L1308.8,190.2 L1309.1,192.2 L1309.4,194.2 L1309.7,196.2 L1310.0,198.2 L1310.3,200.2 L1310.7,202.2 L1311.0,204.1 L1311.4,206.1 L1311.7,208.1 L1312.1,210.1 L1312.4,212.1 L1312.8,214.1 L1313.2,216.0 L1313.5,218.0 L1313.9,220.0 L1314.2,222.0 L1314.6,224.0 L1314.9,226.0 L1315.3,227.9 L1315.6,229.9 L1316.0,231.9 L1316.3,233.9 L1316.7,235.9 L1317.0,237.9 L1317.4,239.8 L1317.7,241.8 L1318.1,243.8 L1318.5,245.8 L1318.8,247.8 L1319.2,249.7 L1319.6,251.7 L1320.0,253.7 L1320.4,255.6 L1320.8,257.6 L1321.3,259.8 L1321.7,262.3 L1322.2,263.5 L1322.6,262.7 L1323.1,260.6 L1323.5,257.9 L1324.0,255.2 L1324.6,253.1 L1325.4,252.2 L1327.1,251.7 L1329.4,251.3 L1331.6,251.2 L1333.8,251.3 L1336.0,251.6 L1337.9,252.1 L1339.0,252.8 L1339.9,254.6 L1340.6,257.2 L1341.2,259.9 L1341.7,262.1 L1342.3,263.4 L1342.9,263.3 L1343.5,262.5 L1344.1,261.0 L1344.7,259.0 L1345.3,256.7 L1345.9,254.2 L1346.5,251.6 L1347.0,249.1 L1347.4,246.9 L1347.8,244.9 L1348.2,242.9 L1348.6,240.9 L1348.9,238.9 L1349.3,237.0 L1349.6,235.0 L1349.9,233.0 L1350.2,231.0 L1350.5,229.0 L1350.8,227.0 L1351.1,225.0 L1351.3,223.0 L1351.7,221.0 L1352.0,219.0 L1352.3,217.0 L1352.6,215.0 L1352.9,213.0 L1353.1,211.0 L1353.4,209.1 L1353.7,207.1 L1354.0,205.1 L1354.3,203.1 L1354.6,201.1 L1354.9,199.1 L1355.2,197.1 L1355.5,195.1 L1355.8,193.1 L1356.1,191.1 L1356.4,189.1 L1356.8,187.2 L1357.1,185.2 L1357.5,183.2 L1357.9,181.2 L1358.3,179.3 L1358.7,177.3 L1359.1,175.3 L1359.5,173.3 L1359.9,171.4 L1360.3,169.4 L1360.6,167.4 L1361.0,165.4 L1361.3,163.4 L1361.7,161.5 L1362.0,159.5 L1362.4,157.5 L1362.7,155.5 L1363.0,153.5 L1363.3,151.5 L1363.6,149.5 L1364.0,147.6 L1364.3,145.6 L1364.6,143.6 L1364.9,141.6 L1365.1,139.6 L1365.4,137.6 L1365.7,135.6 L1366.0,133.6 L1366.2,131.6 L1366.5,129.6 L1366.8,127.6 L1367.0,125.6 L1367.3,123.6 L1367.5,121.6 L1367.8,119.6 L1368.1,117.6 L1368.3,115.6 L1368.6,113.6 L1368.9,111.7 L1369.2,109.7 L1369.5,107.7 L1369.8,105.7 L1370.1,103.7 L1370.4,101.7 L1370.8,99.7 L1371.1,97.7 L1371.4,95.7 L1371.7,93.8 L1372.0,91.8 L1372.4,89.8 L1372.7,87.8 L1373.0,85.8 L1373.4,83.8 L1373.7,81.8 L1374.1,79.9 L1374.4,77.9 L1374.7,75.9 L1375.1,73.9 L1375.4,71.9 L1375.7,69.9 L1376.0,67.9 L1376.3,66.0 L1376.6,64.0 L1376.9,62.0 L1377.1,60.0 L1377.4,58.0 L1377.7,56.0 L1378.0,54.0 L1378.2,52.0 L1378.5,50.0 L1378.7,48.0 L1379.0,46.0 L1379.2,44.0 L1379.4,42.0 L1379.7,40.0 L1379.9,38.0" stroke="#0000ff" stroke-width="3.0"/>
<path d="M1287.8,38.0 L1288.4,39.9 L1288.9,41.9 L1289.5,43.8 L1290.0,45.7 L1290.6,47.7 L1291.1,49.6 L1291.7,51.5 L1292.2,53.5 L1292.7,55.4 L1293.3,57.4 L1293.8,59.3 L1294.3,61.2 L1294.8,63.2 L1295.3,65.1 L1295.8,67.1 L1296.3,69.0 L1296.9,71.0 L1297.4,72.9 L1297.9,74.9 L1298.3,76.8 L1298.7,78.8 L1299.0,80.8 L1299.2,82.8 L1299.5,84.8 L1299.7,86.8 L1299.9,88.8 L1300.1,90.8 L1300.3,92.8 L1300.5,94.8 L1300.8,96.8 L1301.1,98.8 L1301.4,100.7 L1301.8,102.7 L1302.2,104.7 L1302.6,106.7 L1303.0,108.6 L1303.3,110.6 L1303.7,112.6 L1304.1,114.6 L1304.5,116.5 L1304.9,118.5 L1305.2,120.5 L1305.6,122.5 L1306.0,124.4 L1306.4,126.4 L1306.7,128.4 L1307.1,130.4 L1307.4,132.4 L1307.7,134.3 L1308.0,136.3 L1308.3,138.3 L1308.6,140.3 L1308.8,142.3 L1309.1,144.3 L1309.3,146.3 L1309.6,148.3 L1309.8,150.3 L1310.0,152.3 L1310.3,154.3 L1310.5,156.3 L1310.7,158.3 L1310.9,160.3 L1311.1,162.3 L1311.4,164.3 L1311.6,166.3 L1311.7,168.3 L1311.9,170.3 L1312.1,172.3 L1312.3,174.3 L1312.5,176.3 L1312.7,178.3 L1312.9,180.3 L1313.1,182.3 L1313.4,184.3 L1313.6,186.3 L1313.9,188.3 L1314.2,190.3 L1314.5,192.3 L1314.8,194.2 L1315.1,196.2 L1315.5,198.2 L1315.9,200.2 L1316.3,202.2 L1316.6,204.1 L1317.0,206.1 L1317.4,208.1 L1317.9,210.1 L1318.3,212.0 L1318.7,214.0 L1319.1,216.0 L1319.5,217.9 L1319.9,219.9 L1320.3,221.9 L1320.8,223.8 L1321.2,225.8 L1321.7,227.8 L1322.1,229.7 L1322.6,231.7 L1323.1,233.6 L1323.6,235.7 L1324.1,238.3 L1324.6,240.8 L1325.1,242.9 L1325.7,244.3 L1326.5,244.5 L1327.4,242.8 L1328.5,240.6 L1330.0,239.0 L1331.7,238.0 L1333.4,238.8 L1334.9,240.3 L1336.0,242.5 L1337.0,244.3 L1337.8,244.4 L1338.5,243.4 L1339.1,241.7 L1339.7,239.5 L1340.2,237.0 L1340.7,234.4 L1341.2,232.1 L1341.8,230.1 L1342.3,228.1 L1342.8,226.2 L1343.3,224.2 L1343.8,222.3 L1344.3,220.3 L1344.8,218.4 L1345.3,216.4 L1345.7,214.5 L1346.2,212.5 L1346.6,210.5 L1347.0,208.6 L1347.4,206.6 L1347.7,204.6 L1348.1,202.7 L1348.4,200.7 L1348.8,198.7 L1349.1,196.7 L1349.4,194.7 L1349.8,192.7 L1350.1,190.7 L1350.4,188.8 L1350.7,186.8 L1351.1,184.8 L1351.4,182.8 L1351.7,180.8 L1352.0,178.8 L1352.3,176.8 L1352.6,174.8 L1352.9,172.9 L1353.2,170.9 L1353.5,168.9 L1353.8,166.9 L1354.1,164.9 L1354.5,162.9 L1354.8,161.0 L1355.2,159.0 L1355.6,157.0 L1356.0,155.0 L1356.4,153.1 L1356.8,151.1 L1357.2,149.1 L1357.6,147.2 L1358.0,145.2 L1358.5,143.2 L1358.9,141.2 L1359.2,139.3 L1359.6,137.3 L1359.9,135.3 L1360.2,133.3 L1360.5,131.3 L1360.8,129.3 L1361.1,127.4 L1361.3,125.4 L1361.6,123.4 L1361.8,121.4 L1362.1,119.4 L1362.4,117.4 L1362.6,115.4 L1362.9,113.4 L1363.3,111.4 L1363.6,109.4 L1364.0,107.5 L1364.4,105.5 L1364.8,103.5 L1365.1,101.5 L1365.5,99.6 L1365.9,97.6 L1366.3,95.6 L1366.7,93.6 L1367.1,91.7 L1367.4,89.7 L1367.8,87.7 L1368.1,85.7 L1368.4,83.7 L1368.8,81.8 L1369.1,79.8 L1369.4,77.8 L1369.8,75.8 L1370.1,73.8 L1370.4,71.8 L1370.7,69.8 L1371.0,67.9 L1371.3,65.9 L1371.6,63.9 L1371.9,61.9 L1372.2,59.9 L1372.5,57.9 L1372.8,55.9 L1373.1,53.9 L1373.4,51.9 L1373.7,50.0 L1374.0,48.0 L1374.2,46.0 L1374.5,44.0 L1374.8,42.0 L1375.0,40.0 L1375.3,38.0" stroke="#bc8f8f" stroke-width="3.0"/>
<path d="M1291.7,38.0 L1292.1,40.0 L1292.5,42.0 L1293.1,44.0 L1293.7,45.9 L1294.4,47.8 L1295.1,49.7 L1295.8,51.5 L1296.8,53.3 L1297.9,55.0 L1299.0,56.8 L1299.8,58.6 L1300.2,60.5 L1300.6,62.4 L1301.0,64.4 L1301.3,66.4 L1301.6,68.5 L1301.8,70.5 L1302.1,72.5 L1302.4,74.6 L1302.8,76.6 L1303.1,78.6 L1303.5,80.5 L1304.0,82.5 L1304.4,84.5 L1304.8,86.5 L1305.2,88.5 L1305.6,90.4 L1306.0,92.4 L1306.3,94.4 L1306.7,96.4 L1307.0,98.4 L1307.3,100.4 L1307.6,102.4 L1307.9,104.4 L1308.2,106.4 L1308.5,108.4 L1308.8,110.4 L1309.1,112.4 L1309.4,114.4 L1309.7,116.4 L1310.0,118.4 L1310.4,120.4 L1310.7,122.4 L1311.0,124.4 L1311.3,126.4 L1311.7,128.4 L1312.0,130.4 L1312.4,132.4 L1312.7,134.4 L1313.1,136.4 L1313.5,138.3 L1313.9,140.3 L1314.3,142.3 L1314.7,144.3 L1315.1,146.3 L1315.5,148.3 L1315.9,150.2 L1316.3,152.2 L1316.7,154.2 L1317.1,156.2 L1317.5,158.2 L1317.9,160.2 L1318.3,162.1 L1318.7,164.1 L1319.1,166.1 L1319.5,168.1 L1319.8,170.1 L1320.2,172.1 L1320.5,174.1 L1320.7,176.1 L1320.9,178.1 L1321.2,180.1 L1321.5,182.1 L1321.8,184.1 L1322.1,186.1 L1322.6,188.1 L1323.2,190.0 L1323.9,191.9 L1324.6,193.8 L1325.4,195.7 L1326.1,197.6 L1326.7,199.5 L1327.4,201.5 L1328.2,203.3 L1329.1,205.1 L1330.2,207.0 L1331.6,208.4 L1333.2,207.7 L1334.9,206.1 L1336.0,204.5 L1336.9,202.8 L1337.7,200.9 L1338.4,198.9 L1339.0,196.9 L1339.6,194.9 L1340.1,193.0 L1340.6,191.0 L1341.0,189.1 L1341.5,187.1 L1341.9,185.1 L1342.4,183.1 L1342.8,181.2 L1343.3,179.2 L1343.7,177.2 L1344.1,175.2 L1344.6,173.3 L1345.0,171.3 L1345.5,169.3 L1346.0,167.4 L1346.5,165.4 L1347.0,163.4 L1347.4,161.5 L1347.9,159.5 L1348.3,157.5 L1348.8,155.5 L1349.2,153.6 L1349.6,151.6 L1350.0,149.6 L1350.4,147.6 L1350.8,145.6 L1351.2,143.7 L1351.6,141.7 L1352.0,139.7 L1352.3,137.7 L1352.7,135.7 L1353.0,133.7 L1353.3,131.7 L1353.6,129.7 L1353.9,127.7 L1354.1,125.7 L1354.4,123.7 L1354.7,121.7 L1355.0,119.7 L1355.3,117.7 L1355.6,115.7 L1355.9,113.7 L1356.2,111.7 L1356.6,109.7 L1357.0,107.7 L1357.4,105.7 L1357.8,103.7 L1358.2,101.8 L1358.6,99.8 L1359.1,97.8 L1359.5,95.8 L1359.9,93.9 L1360.3,91.9 L1360.7,89.9 L1361.1,87.9 L1361.5,85.9 L1361.9,83.9 L1362.3,81.9 L1362.6,80.0 L1363.0,78.0 L1363.4,76.0 L1363.7,74.0 L1364.1,72.0 L1364.4,70.0 L1364.8,68.0 L1365.1,66.0 L1365.4,64.0 L1365.8,62.0 L1366.1,60.0 L1366.4,58.0 L1366.7,56.0 L1367.0,54.0 L1367.3,52.0 L1367.6,50.0 L1367.9,48.0 L1368.2,46.0 L1368.5,44.0 L1368.8,42.0 L1369.0,40.0 L1369.3,38.0" stroke="#9400d3" stroke-width="3.0"/>
<path d="M1301.0,38.0 L1302.0,39.8 L1302.9,41.6 L1303.8,43.4 L1304.5,45.3 L1305.1,47.2 L1305.6,49.1 L1306.0,51.1 L1306.4,53.1 L1306.7,55.1 L1307.1,57.1 L1307.4,59.1 L1307.8,61.1 L1308.2,63.0 L1308.6,65.0 L1309.0,67.0 L1309.5,69.0 L1309.9,70.9 L1310.3,72.9 L1310.7,74.9 L1311.0,76.9 L1311.3,78.9 L1311.7,80.8 L1312.0,82.8 L1312.3,84.8 L1312.6,86.8 L1312.9,88.8 L1313.2,90.8 L1313.4,92.8 L1313.7,94.8 L1314.0,96.8 L1314.2,98.8 L1314.5,100.8 L1314.7,102.8 L1314.9,104.8 L1315.1,106.8 L1315.4,108.8 L1315.7,110.8 L1316.0,112.8 L1316.3,114.8 L1316.8,116.8 L1317.3,118.7 L1317.8,120.7 L1318.3,122.6 L1318.8,124.6 L1319.3,126.5 L1319.7,128.5 L1320.1,130.5 L1320.5,132.5 L1321.0,134.5 L1321.4,136.4 L1321.8,138.4 L1322.3,140.4 L1322.8,142.3 L1323.4,144.2 L1324.0,146.2 L1324.7,148.1 L1325.4,150.0 L1326.3,151.8 L1327.2,153.6 L1328.3,155.5 L1329.6,157.4 L1331.1,158.8 L1332.4,158.8 L1333.9,157.6 L1335.3,155.7 L1336.4,153.8 L1337.3,152.1 L1338.1,150.2 L1338.9,148.4 L1339.5,146.4 L1340.2,144.5 L1340.8,142.5 L1341.5,140.6 L1342.2,138.7 L1342.9,136.8 L1343.6,134.9 L1344.3,133.0 L1345.0,131.1 L1345.6,129.2 L1346.1,127.2 L1346.6,125.3 L1347.0,123.3 L1347.4,121.4 L1347.8,119.4 L1348.1,117.4 L1348.4,115.4 L1348.7,113.4 L1348.9,111.4 L1349.1,109.4 L1349.2,107.3 L1349.4,105.3 L1349.6,103.3 L1349.8,101.3 L1350.1,99.3 L1350.4,97.4 L1350.8,95.4 L1351.2,93.4 L1351.7,91.4 L1352.1,89.5 L1352.6,87.5 L1353.0,85.5 L1353.5,83.5 L1353.9,81.6 L1354.3,79.6 L1354.7,77.6 L1355.0,75.6 L1355.4,73.7 L1355.8,71.7 L1356.2,69.7 L1356.6,67.7 L1357.0,65.7 L1357.4,63.8 L1357.7,61.8 L1358.1,59.8 L1358.5,57.8 L1358.9,55.8 L1359.3,53.9 L1359.6,51.9 L1360.0,49.9 L1360.4,47.9 L1360.7,45.9 L1361.1,44.0 L1361.5,42.0 L1361.8,40.0 L1362.2,38.0" stroke="#ff00ff" stroke-width="3.0"/>
<path d="M1311.3,38.0 L1311.9,40.0 L1312.4,41.9 L1313.0,43.9 L1313.5,45.8 L1314.1,47.8 L1314.6,49.7 L1315.1,51.7 L1315.6,53.7 L1316.2,55.6 L1316.7,57.6 L1317.2,59.5 L1317.7,61.5 L1318.2,63.5 L1318.6,65.5 L1319.1,67.4 L1319.6,69.4 L1320.1,71.4 L1320.6,73.3 L1321.1,75.3 L1321.6,77.3 L1322.1,79.3 L1322.5,81.2 L1323.0,83.2 L1323.5,85.2 L1324.0,87.2 L1324.5,89.1 L1325.0,91.1 L1325.5,93.1 L1326.0,95.0 L1326.5,97.0 L1327.1,98.9 L1327.6,100.9 L1328.2,102.9 L1328.8,104.8 L1329.4,106.7 L1330.1,109.0 L1330.9,111.2 L1331.7,111.9 L1332.4,110.4 L1333.2,108.0 L1333.9,105.9 L1334.5,104.0 L1335.0,102.1 L1335.6,100.1 L1336.1,98.1 L1336.7,96.2 L1337.2,94.2 L1337.8,92.3 L1338.3,90.3 L1338.8,88.4 L1339.4,86.4 L1339.9,84.4 L1340.4,82.5 L1341.0,80.5 L1341.5,78.6 L1342.0,76.6 L1342.6,74.7 L1343.2,72.7 L1343.7,70.7 L1344.3,68.8 L1344.9,66.8 L1345.4,64.9 L1346.0,63.0 L1346.6,61.0 L1347.2,59.1 L1347.8,57.1 L1348.4,55.2 L1349.1,53.3 L1349.7,51.4 L1350.4,49.4 L1351.1,47.5 L1351.7,45.6 L1352.4,43.7 L1353.2,41.8 L1353.9,39.9 L1354.6,38.0" stroke="#6418bf" stroke-width="3.0"/>
<path d="M1318.8,38.0 L1319.2,39.2 L1319.5,40.5 L1319.9,41.7 L1320.3,42.9 L1320.7,44.1 L1321.1,45.4 L1321.5,46.6 L1321.9,47.8 L1322.4,49.0 L1322.8,50.2 L1323.3,51.4 L1323.8,52.6 L1324.2,53.8 L1324.7,55.0 L1325.2,56.2 L1325.7,57.3 L1326.2,58.5 L1326.7,59.7 L1327.2,60.9 L1327.7,62.1 L1328.2,63.3 L1328.7,64.5 L1329.3,65.6 L1329.9,66.8 L1330.7,68.1 L1331.6,68.9 L1332.4,68.7 L1333.3,67.7 L1334.2,66.5 L1334.9,65.4 L1335.4,64.3 L1336.0,63.1 L1336.5,61.9 L1336.9,60.7 L1337.4,59.5 L1337.9,58.3 L1338.4,57.1 L1338.9,55.9 L1339.3,54.7 L1339.8,53.5 L1340.3,52.3 L1340.8,51.1 L1341.2,49.9 L1341.7,48.7 L1342.2,47.5 L1342.7,46.3 L1343.1,45.2 L1343.6,44.0 L1344.1,42.8 L1344.6,41.6 L1345.0,40.4 L1345.5,39.2 L1346.0,38.0" stroke="#40e0d0" stroke-width="3.0"/>

</g>
<line x1="1037" y1="372" x2="1460" y2="372" stroke="#000" stroke-width="2" stroke-dasharray="9.5 5.7"/>
<line x1="1022" y1="203.8" x2="1034.5" y2="203.8" stroke="#000" stroke-width="1.6"/>
<line x1="1449" y1="203.8" x2="1461" y2="203.8" stroke="#000" stroke-width="1.6"/>
<line x1="1022" y1="372.0" x2="1034.5" y2="372.0" stroke="#000" stroke-width="1.6"/>
<line x1="1449" y1="372.0" x2="1461" y2="372.0" stroke="#000" stroke-width="1.6"/>
<line x1="1022" y1="540.3" x2="1034.5" y2="540.3" stroke="#000" stroke-width="1.6"/>
<line x1="1449" y1="540.3" x2="1461" y2="540.3" stroke="#000" stroke-width="1.6"/>
<line x1="1022" y1="121.5" x2="1028.5" y2="121.5" stroke="#555" stroke-width="1"/>
<line x1="1455" y1="121.5" x2="1461" y2="121.5" stroke="#555" stroke-width="1"/>
<line x1="1022" y1="288.5" x2="1028.5" y2="288.5" stroke="#555" stroke-width="1"/>
<line x1="1455" y1="288.5" x2="1461" y2="288.5" stroke="#555" stroke-width="1"/>
<line x1="1022" y1="455.5" x2="1028.5" y2="455.5" stroke="#555" stroke-width="1"/>
<line x1="1455" y1="455.5" x2="1461" y2="455.5" stroke="#555" stroke-width="1"/>
<line x1="1022" y1="622.5" x2="1028.5" y2="622.5" stroke="#555" stroke-width="1"/>
<line x1="1455" y1="622.5" x2="1461" y2="622.5" stroke="#555" stroke-width="1"/>
<!-- frame -->
<rect x="1020.2" y="36" width="442.2" height="4.5" fill="#000"/>
<rect x="1020.2" y="36" width="3.8" height="672.5" fill="#000"/>
<rect x="1459.4" y="36" width="3" height="672.5" fill="#000"/>
<rect x="1020.2" y="705" width="442.2" height="3.5" fill="#000"/>
<!-- DP marker -->
<ellipse cx="1152.6" cy="402.9" rx="13.7" ry="16.4" fill="none" stroke="#800018" stroke-width="4.7"/>
<text x="1174.5" y="400.9" font-size="31" textLength="37" lengthAdjust="spacingAndGlyphs">DP</text>
<!-- tick labels -->
<g font-size="38" text-anchor="end">
<text transform="translate(1013.5,54.3) scale(0.9,1)">1.0</text>
<text transform="translate(1012.8,218) scale(0.92,1)">0.5</text>
<text transform="translate(1011,382.2) scale(0.9,0.97)">0</text>
<text transform="translate(1014,552.8) scale(0.95,1)">-0.5</text>
<text transform="translate(1015,716.4) scale(0.92,1)">-1.0</text>
</g>
<text transform="translate(930.3,520) rotate(-90)" font-size="44" textLength="253" lengthAdjust="spacingAndGlyphs">Energy (eV)</text>
<text x="1465" y="388.9" font-size="40" textLength="19" lengthAdjust="spacingAndGlyphs">E</text>
<text x="1485.6" y="394.2" font-size="27.5" textLength="12.5" lengthAdjust="spacingAndGlyphs">F</text>
<!-- k labels -->
<g font-size="48.5" text-anchor="middle">
<text transform="translate(1017.5,782.9) scale(0.94,1.06)">X</text>
<text transform="translate(1148.5,782.9) scale(0.94,1.06)">M</text>
<text transform="translate(1331.5,780.8) scale(0.92,1.03)" stroke="#000" stroke-width="0.9">Γ</text>
<text transform="translate(1464.5,782.9) scale(0.94,1.06)">X</text>
</g>
<g stroke="#000" stroke-width="5">
<line x1="998.9" y1="741.5" x2="1036.2" y2="741.5" stroke-linecap="round"/>
<line x1="1124.5" y1="741.6" x2="1173.3" y2="741.6"/>
<line x1="1313.5" y1="741.6" x2="1350" y2="741.6" stroke-linecap="round"/>
<line x1="1445.6" y1="742.5" x2="1482.5" y2="742.5" stroke-linecap="round"/>
</g>
</g>

</svg>
</body></html>
